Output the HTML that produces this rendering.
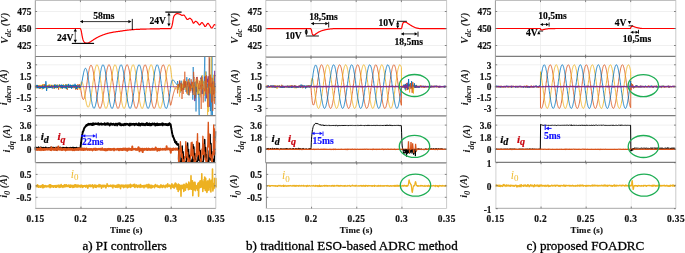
<!DOCTYPE html>
<html><head><meta charset="utf-8"><style>
html,body{margin:0;padding:0;background:#fff;}
body{width:685px;height:253px;overflow:hidden;}
svg{display:block;filter:blur(0.3px);}
text{font-family:"Liberation Serif",serif;}
.tk{font-size:9.4px;font-weight:bold;fill:#111;stroke:#111;stroke-width:0.2px;}
.tl{font-size:8.9px;font-weight:bold;fill:#111;stroke:#111;stroke-width:0.15px;letter-spacing:0.2px;}
.cap{font-size:13.1px;fill:#000;stroke:#000;stroke-width:0.3px;}
.yl{font-size:10.2px;font-weight:bold;font-style:italic;fill:#1a1a1a;}
.sub{font-size:8.5px;}
.an{font-size:9.6px;font-weight:bold;fill:#000;stroke:#000;stroke-width:0.15px;}
.lb{font-size:11.2px;font-weight:bold;font-style:italic;stroke-width:0.2px;}
.lsub{font-size:10px;}
.lb0{font-size:11.6px;font-style:italic;}
.lsub0{font-size:9px;font-style:normal;}
</style></head>
<body>
<svg xmlns="http://www.w3.org/2000/svg" width="685" height="253" viewBox="0 0 685 253">
<line x1="80.43" y1="0.3" x2="80.43" y2="56.5" stroke="#ececec" stroke-width="0.8"/>
<line x1="125.55" y1="0.3" x2="125.55" y2="56.5" stroke="#ececec" stroke-width="0.8"/>
<line x1="170.67" y1="0.3" x2="170.67" y2="56.5" stroke="#ececec" stroke-width="0.8"/>
<line x1="35.3" y1="11.50" x2="215.8" y2="11.50" stroke="#ececec" stroke-width="0.8"/>
<line x1="35.3" y1="28.50" x2="215.8" y2="28.50" stroke="#ececec" stroke-width="0.8"/>
<line x1="35.3" y1="45.50" x2="215.8" y2="45.50" stroke="#ececec" stroke-width="0.8"/>
<line x1="80.43" y1="56.5" x2="80.43" y2="115.7" stroke="#ececec" stroke-width="0.8"/>
<line x1="125.55" y1="56.5" x2="125.55" y2="115.7" stroke="#ececec" stroke-width="0.8"/>
<line x1="170.67" y1="56.5" x2="170.67" y2="115.7" stroke="#ececec" stroke-width="0.8"/>
<line x1="35.3" y1="64.79" x2="215.8" y2="64.79" stroke="#ececec" stroke-width="0.8"/>
<line x1="35.3" y1="75.69" x2="215.8" y2="75.69" stroke="#ececec" stroke-width="0.8"/>
<line x1="35.3" y1="86.60" x2="215.8" y2="86.60" stroke="#ececec" stroke-width="0.8"/>
<line x1="35.3" y1="97.50" x2="215.8" y2="97.50" stroke="#ececec" stroke-width="0.8"/>
<line x1="35.3" y1="108.41" x2="215.8" y2="108.41" stroke="#ececec" stroke-width="0.8"/>
<line x1="80.43" y1="115.7" x2="80.43" y2="162.6" stroke="#ececec" stroke-width="0.8"/>
<line x1="125.55" y1="115.7" x2="125.55" y2="162.6" stroke="#ececec" stroke-width="0.8"/>
<line x1="170.67" y1="115.7" x2="170.67" y2="162.6" stroke="#ececec" stroke-width="0.8"/>
<line x1="35.3" y1="125.11" x2="215.8" y2="125.11" stroke="#ececec" stroke-width="0.8"/>
<line x1="35.3" y1="137.20" x2="215.8" y2="137.20" stroke="#ececec" stroke-width="0.8"/>
<line x1="35.3" y1="149.30" x2="215.8" y2="149.30" stroke="#ececec" stroke-width="0.8"/>
<line x1="80.98" y1="162.6" x2="80.98" y2="208.4" stroke="#ececec" stroke-width="0.8"/>
<line x1="126.10" y1="162.6" x2="126.10" y2="208.4" stroke="#ececec" stroke-width="0.8"/>
<line x1="171.22" y1="162.6" x2="171.22" y2="208.4" stroke="#ececec" stroke-width="0.8"/>
<line x1="35.3" y1="174.40" x2="215.8" y2="174.40" stroke="#ececec" stroke-width="0.8"/>
<line x1="35.3" y1="185.85" x2="215.8" y2="185.85" stroke="#ececec" stroke-width="0.8"/>
<line x1="35.3" y1="197.30" x2="215.8" y2="197.30" stroke="#ececec" stroke-width="0.8"/>
<polyline points="35.3,28.5 35.5,28.5 35.8,28.5 36.0,28.5 36.3,28.5 36.5,28.5 36.8,28.5 37.0,28.5 37.3,28.5 37.5,28.5 37.8,28.5 38.0,28.5 38.3,28.5 38.5,28.5 38.8,28.5 39.0,28.5 39.3,28.5 39.5,28.5 39.8,28.5 40.0,28.5 40.3,28.5 40.5,28.5 40.8,28.5 41.0,28.5 41.3,28.5 41.5,28.5 41.8,28.5 42.0,28.5 42.3,28.5 42.5,28.5 42.8,28.5 43.0,28.5 43.3,28.5 43.5,28.5 43.8,28.5 44.0,28.5 44.3,28.5 44.5,28.5 44.8,28.5 45.0,28.5 45.3,28.5 45.5,28.5 45.8,28.5 46.0,28.5 46.3,28.5 46.5,28.5 46.8,28.5 47.0,28.5 47.3,28.5 47.5,28.5 47.8,28.5 48.0,28.5 48.3,28.5 48.5,28.5 48.8,28.5 49.0,28.5 49.3,28.5 49.5,28.5 49.8,28.5 50.0,28.5 50.3,28.5 50.5,28.5 50.8,28.5 51.0,28.5 51.3,28.5 51.5,28.5 51.8,28.5 52.0,28.5 52.3,28.5 52.5,28.5 52.8,28.5 53.0,28.5 53.3,28.5 53.5,28.5 53.8,28.5 54.0,28.5 54.3,28.5 54.5,28.5 54.8,28.5 55.0,28.5 55.3,28.5 55.5,28.5 55.8,28.5 56.0,28.5 56.3,28.5 56.5,28.5 56.8,28.5 57.0,28.5 57.3,28.5 57.5,28.5 57.8,28.5 58.0,28.5 58.3,28.5 58.5,28.5 58.8,28.5 59.0,28.5 59.3,28.5 59.5,28.5 59.8,28.5 60.0,28.5 60.3,28.5 60.5,28.5 60.8,28.5 61.0,28.5 61.3,28.5 61.5,28.5 61.8,28.5 62.0,28.5 62.3,28.5 62.5,28.5 62.8,28.5 63.0,28.5 63.3,28.5 63.5,28.5 63.8,28.5 64.0,28.5 64.3,28.5 64.5,28.5 64.8,28.5 65.0,28.5 65.3,28.5 65.5,28.5 65.8,28.5 66.0,28.5 66.3,28.5 66.5,28.5 66.8,28.5 67.0,28.5 67.3,28.5 67.5,28.5 67.8,28.5 68.0,28.5 68.3,28.5 68.5,28.5 68.8,28.5 69.0,28.5 69.3,28.5 69.5,28.5 69.8,28.5 70.0,28.5 70.3,28.5 70.5,28.5 70.8,28.5 71.0,28.5 71.3,28.5 71.5,28.5 71.8,28.5 72.0,28.5 72.3,28.5 72.5,28.5 72.8,28.5 73.0,28.5 73.3,28.5 73.5,28.5 73.8,28.5 74.0,28.5 74.3,28.5 74.5,28.5 74.8,28.5 75.0,28.5 75.3,28.5 75.5,28.5 75.8,28.5 76.0,28.5 76.3,28.5 76.5,28.5 76.8,28.5 77.0,28.5 77.3,28.5 77.5,28.5 77.8,28.5 78.0,28.5 78.3,28.5 78.5,28.5 78.8,28.5 79.0,28.5 79.3,28.5 79.5,28.5 79.8,28.5 80.0,28.5 80.3,28.5 80.5,28.8 80.8,29.4 81.0,30.1 81.3,31.2 81.5,32.4 81.8,33.8 82.0,35.3 82.3,36.6 82.5,37.8 82.8,38.8 83.0,39.7 83.3,40.4 83.5,41.0 83.8,41.4 84.0,41.8 84.3,42.1 84.5,42.4 84.8,42.6 85.0,42.8 85.3,42.9 85.5,43.0 85.8,43.1 86.0,43.2 86.3,43.2 86.5,43.2 86.8,43.2 87.0,43.2 87.3,43.2 87.5,43.1 87.8,43.1 88.0,43.0 88.3,42.9 88.5,42.8 88.8,42.7 89.0,42.6 89.3,42.4 89.5,42.3 89.8,42.2 90.0,42.0 90.3,41.9 90.5,41.7 90.8,41.6 91.0,41.4 91.3,41.3 91.5,41.1 91.8,40.9 92.0,40.8 92.3,40.6 92.5,40.4 92.8,40.2 93.0,40.1 93.3,39.9 93.5,39.8 93.8,39.6 94.0,39.4 94.3,39.3 94.5,39.1 94.8,39.0 95.0,38.8 95.3,38.6 95.5,38.5 95.8,38.3 96.0,38.2 96.3,38.0 96.5,37.9 96.8,37.7 97.0,37.6 97.3,37.5 97.5,37.3 97.8,37.2 98.0,37.1 98.3,36.9 98.5,36.8 98.8,36.7 99.0,36.6 99.3,36.5 99.5,36.3 99.8,36.2 100.0,36.1 100.3,36.0 100.5,35.9 100.8,35.8 101.0,35.7 101.3,35.6 101.5,35.5 101.8,35.4 102.0,35.3 102.3,35.2 102.5,35.1 102.8,35.0 103.0,34.9 103.3,34.8 103.5,34.7 103.8,34.6 104.0,34.5 104.3,34.4 104.5,34.3 104.8,34.3 105.0,34.2 105.3,34.1 105.5,34.0 105.8,33.9 106.0,33.9 106.3,33.8 106.5,33.7 106.8,33.6 107.0,33.6 107.3,33.5 107.5,33.4 107.8,33.4 108.0,33.3 108.3,33.2 108.5,33.2 108.8,33.1 109.0,33.0 109.3,33.0 109.5,32.9 109.8,32.9 110.0,32.8 110.3,32.8 110.5,32.7 110.8,32.6 111.0,32.6 111.3,32.6 111.5,32.5 111.8,32.5 112.0,32.4 112.3,32.4 112.5,32.3 112.8,32.3 113.0,32.2 113.3,32.2 113.5,32.2 113.8,32.1 114.0,32.1 114.3,32.0 114.5,32.0 114.8,32.0 115.0,31.9 115.3,31.9 115.5,31.9 115.8,31.8 116.0,31.8 116.3,31.7 116.5,31.7 116.8,31.7 117.0,31.6 117.3,31.6 117.5,31.6 117.8,31.5 118.0,31.5 118.3,31.5 118.5,31.4 118.8,31.4 119.0,31.4 119.3,31.3 119.5,31.3 119.8,31.3 120.0,31.2 120.3,31.2 120.5,31.2 120.8,31.1 121.0,31.1 121.3,31.1 121.5,31.0 121.8,31.0 122.0,30.9 122.3,30.9 122.5,30.9 122.8,30.8 123.0,30.8 123.3,30.7 123.5,30.7 123.8,30.7 124.0,30.6 124.3,30.6 124.5,30.5 124.8,30.5 125.0,30.5 125.3,30.4 125.5,30.4 125.8,30.4 126.0,30.3 126.3,30.3 126.5,30.3 126.8,30.2 127.0,30.2 127.3,30.2 127.5,30.2 127.8,30.1 128.1,30.1 128.3,30.1 128.6,30.0 128.8,30.0 129.1,30.0 129.3,30.0 129.6,29.9 129.8,29.9 130.1,29.9 130.3,29.8 130.6,29.8 130.8,29.8 131.1,29.8 131.3,29.8 131.6,29.7 131.8,29.7 132.1,29.7 132.3,29.7 132.6,29.7 132.8,29.6 133.1,29.6 133.3,29.6 133.6,29.6 133.8,29.6 134.1,29.6 134.3,29.5 134.6,29.5 134.8,29.5 135.1,29.5 135.3,29.5 135.6,29.5 135.8,29.5 136.1,29.4 136.3,29.4 136.6,29.4 136.8,29.4 137.1,29.4 137.3,29.4 137.6,29.4 137.8,29.3 138.1,29.3 138.3,29.3 138.6,29.3 138.8,29.3 139.1,29.3 139.3,29.3 139.6,29.3 139.8,29.3 140.1,29.2 140.3,29.2 140.6,29.2 140.8,29.2 141.1,29.2 141.3,29.2 141.6,29.2 141.8,29.2 142.1,29.2 142.3,29.2 142.6,29.2 142.8,29.1 143.1,29.1 143.3,29.1 143.6,29.1 143.8,29.1 144.1,29.1 144.3,29.1 144.6,29.1 144.8,29.1 145.1,29.1 145.3,29.1 145.6,29.1 145.8,29.1 146.1,29.1 146.3,29.0 146.6,29.0 146.8,29.0 147.1,29.0 147.3,29.0 147.6,29.0 147.8,29.0 148.1,29.0 148.3,29.0 148.6,29.0 148.8,29.0 149.1,29.0 149.3,29.0 149.6,29.0 149.8,29.0 150.1,28.9 150.3,28.9 150.6,28.9 150.8,28.9 151.1,28.9 151.3,28.9 151.6,28.9 151.8,28.9 152.1,28.9 152.3,28.9 152.6,28.9 152.8,28.9 153.1,28.9 153.3,28.9 153.6,28.9 153.8,28.9 154.1,28.9 154.3,28.9 154.6,28.8 154.8,28.8 155.1,28.8 155.3,28.8 155.6,28.8 155.8,28.8 156.1,28.8 156.3,28.8 156.6,28.8 156.8,28.8 157.1,28.8 157.3,28.8 157.6,28.8 157.8,28.8 158.1,28.8 158.3,28.8 158.6,28.8 158.8,28.8 159.1,28.8 159.3,28.8 159.6,28.8 159.8,28.8 160.1,28.7 160.3,28.7 160.6,28.7 160.8,28.7 161.1,28.7 161.3,28.7 161.6,28.7 161.8,28.7 162.1,28.7 162.3,28.7 162.6,28.7 162.8,28.7 163.1,28.7 163.3,28.7 163.6,28.7 163.8,28.7 164.1,28.7 164.3,28.7 164.6,28.7 164.8,28.7 165.1,28.7 165.3,28.7 165.6,28.7 165.8,28.7 166.1,28.7 166.3,28.7 166.6,28.7 166.8,28.7 167.1,28.7 167.3,28.7 167.6,28.7 167.8,28.7 168.1,28.7 168.3,28.7 168.6,28.7 168.8,28.7 169.1,28.7 169.3,28.7 169.6,28.7 169.8,28.7 170.1,28.7 170.3,28.7 170.6,28.7 170.8,28.5 171.1,28.2 171.3,27.8 171.6,27.2 171.8,26.4 172.1,25.4 172.3,24.4 172.6,23.2 172.8,21.6 173.1,19.9 173.3,18.3 173.6,17.2 173.8,16.6 174.1,16.0 174.3,15.6 174.6,15.2 174.8,14.9 175.1,14.7 175.3,14.5 175.6,14.3 175.8,14.1 176.1,14.0 176.3,13.9 176.6,13.7 176.8,13.7 177.1,13.7 177.3,13.7 177.6,13.7 177.8,13.7 178.1,13.7 178.3,13.8 178.6,13.9 178.8,13.9 179.1,14.0 179.3,14.1 179.6,14.1 179.8,14.2 180.1,14.3 180.3,14.4 180.6,14.6 180.8,14.8 181.1,15.0 181.3,15.2 181.6,15.3 181.8,15.3 182.1,15.3 182.3,15.3 182.6,15.3 182.8,15.2 183.1,15.2 183.3,15.1 183.6,15.1 183.8,15.1 184.1,15.1 184.3,15.3 184.6,15.6 184.8,16.0 185.1,16.4 185.3,16.8 185.6,17.2 185.8,17.5 186.1,18.0 186.3,18.4 186.6,18.8 186.8,19.1 187.1,19.4 187.3,19.5 187.6,19.5 187.8,19.5 188.1,19.3 188.3,19.1 188.6,18.9 188.8,18.7 189.1,18.6 189.3,18.4 189.6,18.3 189.8,18.2 190.1,18.3 190.3,18.4 190.6,18.6 190.8,18.8 191.1,19.1 191.3,19.3 191.6,19.6 191.8,19.9 192.1,20.4 192.3,21.0 192.6,21.7 192.8,22.3 193.1,22.8 193.3,23.1 193.6,23.1 193.8,23.0 194.1,22.8 194.3,22.5 194.6,22.2 194.8,21.9 195.1,21.6 195.3,21.4 195.6,21.3 195.8,21.3 196.1,21.3 196.3,21.5 196.6,21.7 196.8,21.9 197.1,22.2 197.3,22.4 197.6,22.7 197.8,23.0 198.1,23.3 198.3,23.6 198.6,23.9 198.8,24.3 199.1,24.7 199.3,24.9 199.6,24.9 199.8,24.8 200.1,24.6 200.3,24.3 200.6,24.0 200.8,23.6 201.1,23.2 201.3,22.9 201.6,22.7 201.8,22.6 202.1,22.6 202.3,22.7 202.6,22.9 202.8,23.3 203.1,23.6 203.3,24.0 203.6,24.3 203.8,24.6 204.1,25.1 204.3,25.6 204.6,26.0 204.8,26.4 205.1,26.5 205.3,26.5 205.6,26.3 205.8,26.1 206.1,25.7 206.3,25.4 206.6,24.9 206.8,24.5 207.1,24.2 207.3,23.8 207.6,23.6 207.8,23.4 208.1,23.4 208.3,23.5 208.6,23.7 208.8,24.0 209.1,24.4 209.3,24.8 209.6,25.2 209.8,25.5 210.1,25.9 210.3,26.4 210.6,26.8 210.8,27.3 211.1,27.6 211.3,27.9 211.6,28.0 211.8,28.0 212.1,27.9 212.3,27.6 212.6,27.3 212.8,26.9 213.1,26.5 213.3,26.0 213.6,25.6 213.8,25.3 214.1,24.9 214.3,24.7 214.6,24.6 214.8,24.6 215.1,24.7 215.3,24.9 215.6,25.2 215.8,25.5" fill="none" stroke="#ff0000" stroke-width="1.2" stroke-linejoin="round" />
<polyline points="35.3,86.3 35.5,85.5 35.7,87.0 35.8,86.3 36.0,85.9 36.2,86.4 36.4,86.2 36.6,85.5 36.7,86.6 36.9,85.5 37.1,87.1 37.3,86.1 37.5,87.0 37.6,86.9 37.8,85.9 38.0,85.2 38.2,86.7 38.4,86.4 38.6,85.2 38.7,87.3 38.9,85.6 39.1,87.7 39.3,88.4 39.5,86.2 39.6,86.8 39.8,87.0 40.0,89.0 40.2,86.1 40.4,87.0 40.5,87.7 40.7,86.6 40.9,87.7 41.1,87.3 41.3,87.4 41.4,85.5 41.6,86.7 41.8,85.2 42.0,87.4 42.2,87.8 42.3,84.8 42.5,87.9 42.7,85.3 42.9,87.7 43.1,85.8 43.2,87.3 43.4,85.0 43.6,84.5 43.8,85.5 44.0,86.2 44.2,86.9 44.3,85.7 44.5,84.4 44.7,87.0 44.9,87.7 45.1,84.7 45.2,86.8 45.4,85.8 45.6,86.3 45.8,86.2 46.0,86.8 46.1,86.7 46.3,88.2 46.5,87.1 46.7,87.4 46.9,85.3 47.0,86.8 47.2,86.4 47.4,88.2 47.6,86.4 47.8,85.0 47.9,86.3 48.1,85.6 48.3,86.8 48.5,87.1 48.7,85.5 48.9,87.0 49.0,87.6 49.2,86.6 49.4,86.9 49.6,85.4 49.8,85.8 49.9,88.0 50.1,86.0 50.3,87.9 50.5,86.3 50.7,85.9 50.8,87.0 51.0,87.0 51.2,85.7 51.4,86.8 51.6,87.7 51.7,84.9 51.9,85.6 52.1,86.0 52.3,86.2 52.5,85.5 52.6,86.4 52.8,85.7 53.0,86.2 53.2,87.2 53.4,85.4 53.5,86.3 53.7,87.3 53.9,86.9 54.1,88.9 54.3,88.2 54.5,88.0 54.6,85.8 54.8,85.8 55.0,85.3 55.2,86.1 55.4,84.8 55.5,87.0 55.7,87.3 55.9,87.5 56.1,86.3 56.3,87.2 56.4,87.5 56.6,87.1 56.8,86.4 57.0,87.9 57.2,86.6 57.3,86.6 57.5,84.9 57.7,86.4 57.9,87.9 58.1,86.3 58.2,86.4 58.4,87.9 58.6,89.7 58.8,85.8 59.0,86.8 59.1,87.3 59.3,86.8 59.5,85.3 59.7,84.8 59.9,87.1 60.1,85.0 60.2,86.6 60.4,86.6 60.6,86.7 60.8,86.6 61.0,86.7 61.1,87.3 61.3,86.6 61.5,87.6 61.7,86.0 61.9,87.2 62.0,86.1 62.2,86.7 62.4,88.4 62.6,85.4 62.8,86.3 62.9,86.7 63.1,86.9 63.3,84.8 63.5,86.8 63.7,85.6 63.8,86.4 64.0,87.9 64.2,85.9 64.4,88.1 64.6,86.1 64.8,86.2 64.9,86.4 65.1,87.4 65.3,85.2 65.5,84.8 65.7,87.5 65.8,87.0 66.0,84.9 66.2,87.0 66.4,85.6 66.6,87.6 66.7,87.2 66.9,86.3 67.1,86.1 67.3,89.8 67.5,87.7 67.6,86.1 67.8,85.3 68.0,86.1 68.2,86.2 68.4,86.2 68.5,87.8 68.7,86.2 68.9,85.7 69.1,86.0 69.3,87.8 69.4,87.6 69.6,85.5 69.8,88.0 70.0,87.7 70.2,85.0 70.4,87.5 70.5,87.3 70.7,85.9 70.9,85.8 71.1,86.8 71.3,88.1 71.4,87.1 71.6,86.4 71.8,87.5 72.0,87.6 72.2,85.3 72.3,86.0 72.5,85.8 72.7,85.7 72.9,87.6 73.1,86.1 73.2,85.4 73.4,85.9 73.6,87.8 73.8,88.2 74.0,87.4 74.1,86.0 74.3,86.8 74.5,86.3 74.7,87.9 74.9,85.8 75.0,87.3 75.2,85.5 75.4,86.6 75.6,89.6 75.8,86.8 76.0,87.5 76.1,87.5 76.3,86.8 76.5,85.5 76.7,85.7 76.9,85.2 77.0,86.8 77.2,89.6 77.4,89.4 77.6,89.9 77.8,88.5 77.9,84.2 78.1,85.8 78.3,87.6 78.5,85.4 78.7,86.9 78.8,88.0 79.0,85.4 79.2,87.1 79.4,86.5 79.6,84.3 79.7,87.6 79.9,85.5 80.1,86.9 80.3,87.7 80.5,86.9 80.7,88.2 80.8,89.5 81.0,90.8 81.2,92.0 81.4,93.1 81.6,94.2 81.7,95.2 81.9,96.1 82.1,96.9 82.3,97.6 82.5,98.2 82.6,98.7 82.8,99.1 83.0,99.3 83.2,99.5 83.4,99.5 83.5,99.5 83.7,99.3 83.9,99.0 84.1,98.6 84.3,98.1 84.4,97.6 84.6,96.9 84.8,96.2 85.0,95.3 85.2,94.4 85.3,93.5 85.5,92.4 85.7,91.4 85.9,90.2 86.1,89.1 86.3,87.9 86.4,86.7 86.6,85.4 86.8,84.2 87.0,82.9 87.2,81.6 87.3,80.4 87.5,79.2 87.7,77.9 87.9,76.7 88.1,75.6 88.2,74.5 88.4,73.4 88.6,72.4 88.8,71.4 89.0,70.5 89.1,69.6 89.3,68.8 89.5,68.1 89.7,67.5 89.9,66.9 90.0,66.4 90.2,66.0 90.4,65.7 90.6,65.4 90.8,65.3 90.9,65.2 91.1,65.2 91.3,65.3 91.5,65.5 91.7,65.8 91.9,66.1 92.0,66.6 92.2,67.1 92.4,67.7 92.6,68.4 92.8,69.1 92.9,69.9 93.1,70.8 93.3,71.8 93.5,72.8 93.7,73.9 93.8,75.0 94.0,76.1 94.2,77.4 94.4,78.6 94.6,79.9 94.7,81.2 94.9,82.5 95.1,83.9 95.3,85.2 95.5,86.6 95.6,88.0 95.8,89.3 96.0,90.7 96.2,92.0 96.4,93.3 96.6,94.6 96.7,95.9 96.9,97.1 97.1,98.3 97.3,99.4 97.5,100.5 97.6,101.5 97.8,102.5 98.0,103.4 98.2,104.2 98.4,105.0 98.5,105.7 98.7,106.3 98.9,106.9 99.1,107.3 99.3,107.7 99.4,108.0 99.6,108.2 99.8,108.4 100.0,108.4 100.2,108.4 100.3,108.2 100.5,108.0 100.7,107.7 100.9,107.3 101.1,106.9 101.2,106.3 101.4,105.7 101.6,105.0 101.8,104.2 102.0,103.4 102.2,102.5 102.3,101.5 102.5,100.5 102.7,99.4 102.9,98.2 103.1,97.1 103.2,95.8 103.4,94.6 103.6,93.3 103.8,92.0 104.0,90.6 104.1,89.3 104.3,87.9 104.5,86.5 104.7,85.2 104.9,83.8 105.0,82.4 105.2,81.1 105.4,79.8 105.6,78.5 105.8,77.2 105.9,76.0 106.1,74.8 106.3,73.7 106.5,72.6 106.7,71.6 106.8,70.6 107.0,69.7 107.2,68.9 107.4,68.1 107.6,67.4 107.8,66.8 107.9,66.3 108.1,65.8 108.3,65.5 108.5,65.2 108.7,65.0 108.8,64.8 109.0,64.8 109.2,64.8 109.4,65.0 109.6,65.2 109.7,65.5 109.9,65.9 110.1,66.4 110.3,66.9 110.5,67.5 110.6,68.2 110.8,69.0 111.0,69.9 111.2,70.8 111.4,71.8 111.5,72.8 111.7,73.9 111.9,75.0 112.1,76.2 112.3,77.4 112.5,78.7 112.6,80.0 112.8,81.3 113.0,82.6 113.2,84.0 113.4,85.4 113.5,86.7 113.7,88.1 113.9,89.5 114.1,90.8 114.3,92.2 114.4,93.5 114.6,94.8 114.8,96.0 115.0,97.2 115.2,98.4 115.3,99.5 115.5,100.6 115.7,101.6 115.9,102.6 116.1,103.5 116.2,104.3 116.4,105.1 116.6,105.8 116.8,106.4 117.0,106.9 117.1,107.4 117.3,107.8 117.5,108.1 117.7,108.3 117.9,108.4 118.1,108.4 118.2,108.4 118.4,108.2 118.6,108.0 118.8,107.7 119.0,107.3 119.1,106.8 119.3,106.3 119.5,105.6 119.7,104.9 119.9,104.1 120.0,103.3 120.2,102.4 120.4,101.4 120.6,100.4 120.8,99.3 120.9,98.1 121.1,96.9 121.3,95.7 121.5,94.4 121.7,93.2 121.8,91.8 122.0,90.5 122.2,89.1 122.4,87.8 122.6,86.4 122.7,85.0 122.9,83.7 123.1,82.3 123.3,81.0 123.5,79.7 123.7,78.4 123.8,77.1 124.0,75.9 124.2,74.7 124.4,73.6 124.6,72.5 124.7,71.5 124.9,70.5 125.1,69.7 125.3,68.8 125.5,68.1 125.6,67.4 125.8,66.8 126.0,66.2 126.2,65.8 126.4,65.4 126.5,65.1 126.7,64.9 126.9,64.8 127.1,64.8 127.3,64.8 127.4,65.0 127.6,65.2 127.8,65.5 128.0,65.9 128.2,66.4 128.4,67.0 128.5,67.6 128.7,68.3 128.9,69.1 129.1,70.0 129.3,70.9 129.4,71.9 129.6,72.9 129.8,74.0 130.0,75.1 130.2,76.3 130.3,77.6 130.5,78.8 130.7,80.1 130.9,81.4 131.1,82.8 131.2,84.1 131.4,85.5 131.6,86.9 131.8,88.2 132.0,89.6 132.1,91.0 132.3,92.3 132.5,93.6 132.7,94.9 132.9,96.1 133.0,97.4 133.2,98.5 133.4,99.7 133.6,100.7 133.8,101.7 134.0,102.7 134.1,103.6 134.3,104.4 134.5,105.2 134.7,105.9 134.9,106.5 135.0,107.0 135.2,107.4 135.4,107.8 135.6,108.1 135.8,108.3 135.9,108.4 136.1,108.4 136.3,108.3 136.5,108.2 136.7,108.0 136.8,107.6 137.0,107.2 137.2,106.8 137.4,106.2 137.6,105.6 137.7,104.8 137.9,104.1 138.1,103.2 138.3,102.3 138.5,101.3 138.6,100.2 138.8,99.2 139.0,98.0 139.2,96.8 139.4,95.6 139.6,94.3 139.7,93.0 139.9,91.7 140.1,90.4 140.3,89.0 140.5,87.6 140.6,86.3 140.8,84.9 141.0,83.5 141.2,82.2 141.4,80.8 141.5,79.5 141.7,78.2 141.9,77.0 142.1,75.8 142.3,74.6 142.4,73.5 142.6,72.4 142.8,71.4 143.0,70.5 143.2,69.6 143.3,68.7 143.5,68.0 143.7,67.3 143.9,66.7 144.1,66.2 144.3,65.7 144.4,65.4 144.6,65.1 144.8,64.9 145.0,64.8 145.2,64.8 145.3,64.9 145.5,65.0 145.7,65.3 145.9,65.6 146.1,66.0 146.2,66.5 146.4,67.0 146.6,67.7 146.8,68.4 147.0,69.2 147.1,70.0 147.3,71.0 147.5,72.0 147.7,73.0 147.9,74.1 148.0,75.3 148.2,76.4 148.4,77.7 148.6,78.9 148.8,80.2 148.9,81.6 149.1,82.9 149.3,84.3 149.5,85.6 149.7,87.0 149.9,88.4 150.0,89.7 150.2,91.1 150.4,92.4 150.6,93.7 150.8,95.0 150.9,96.3 151.1,97.5 151.3,98.6 151.5,99.8 151.7,100.8 151.8,101.8 152.0,102.8 152.2,103.7 152.4,104.5 152.6,105.2 152.7,105.9 152.9,106.5 153.1,107.0 153.3,107.5 153.5,107.8 153.6,108.1 153.8,108.3 154.0,108.4 154.2,108.4 154.4,108.3 154.5,108.2 154.7,107.9 154.9,107.6 155.1,107.2 155.3,106.7 155.5,106.1 155.6,105.5 155.8,104.8 156.0,104.0 156.2,103.1 156.4,102.2 156.5,101.2 156.7,100.1 156.9,99.0 157.1,97.9 157.3,96.7 157.4,95.5 157.6,94.2 157.8,92.9 158.0,91.6 158.2,90.2 158.3,88.9 158.5,87.5 158.7,86.1 158.9,84.8 159.1,83.4 159.2,82.0 159.4,80.7 159.6,79.4 159.8,78.1 160.0,76.9 160.2,75.7 160.3,74.5 160.5,73.4 160.7,72.3 160.9,71.3 161.1,70.4 161.2,69.5 161.4,68.7 161.6,67.9 161.8,67.3 162.0,66.7 162.1,66.1 162.3,65.7 162.5,65.4 162.7,65.1 162.9,64.9 163.0,64.8 163.2,64.8 163.4,64.9 163.6,65.0 163.8,65.3 163.9,65.6 164.1,66.0 164.3,66.5 164.5,67.1 164.7,67.7 164.8,68.5 165.0,69.3 165.2,70.1 165.4,71.1 165.6,72.1 165.8,73.1 165.9,74.2 166.1,75.4 166.3,76.6 166.5,77.8 166.7,79.1 166.8,80.4 167.0,81.7 167.2,83.0 167.4,84.4 167.6,85.8 167.7,87.1 167.9,88.5 168.1,89.9 168.3,91.2 168.5,92.6 168.6,93.9 168.8,95.1 169.0,96.4 169.2,97.6 169.4,98.8 169.5,99.9 169.7,100.9 169.9,101.9 170.1,102.9 170.3,103.8 170.4,104.6 170.6,105.3 170.8,105.0 171.0,104.4 171.2,103.6 171.4,102.9 171.5,102.1 171.7,101.3 171.9,100.4 172.1,99.6 172.3,98.8 172.4,97.9 172.6,97.1 172.8,96.3 173.0,95.6 173.2,94.8 173.3,94.1 173.5,93.4 173.7,92.8 173.9,92.1 174.1,91.5 174.2,91.0 174.4,90.5 174.6,90.0 174.8,89.5 175.0,89.1 175.1,88.7 175.3,88.4 175.5,88.1 175.7,87.8 175.9,87.5 176.1,87.3 176.2,87.0 176.4,86.9 176.6,86.7 176.8,86.5 177.0,86.4 177.1,86.3" fill="none" stroke="#D95319" stroke-width="0.85" stroke-linejoin="round" />
<polyline points="35.3,85.2 35.5,86.9 35.7,85.1 35.8,86.8 36.0,88.7 36.2,87.0 36.4,87.6 36.6,86.8 36.7,85.8 36.9,87.3 37.1,87.3 37.3,86.4 37.5,88.0 37.6,87.1 37.8,85.3 38.0,85.1 38.2,87.2 38.4,87.0 38.6,85.8 38.7,85.3 38.9,87.0 39.1,87.5 39.3,87.3 39.5,85.4 39.6,86.0 39.8,87.4 40.0,84.9 40.2,86.9 40.4,87.4 40.5,85.5 40.7,85.5 40.9,87.3 41.1,87.1 41.3,85.9 41.4,86.9 41.6,85.3 41.8,85.7 42.0,87.1 42.2,89.4 42.3,86.5 42.5,86.6 42.7,84.3 42.9,87.6 43.1,86.7 43.2,84.9 43.4,86.8 43.6,85.6 43.8,86.3 44.0,86.6 44.2,85.9 44.3,87.0 44.5,87.5 44.7,86.1 44.9,86.9 45.1,86.1 45.2,85.2 45.4,85.7 45.6,87.7 45.8,87.5 46.0,88.0 46.1,87.1 46.3,87.3 46.5,86.1 46.7,85.3 46.9,86.1 47.0,88.7 47.2,86.8 47.4,86.5 47.6,85.2 47.8,86.1 47.9,85.8 48.1,86.3 48.3,88.1 48.5,86.0 48.7,85.5 48.9,87.7 49.0,84.8 49.2,84.2 49.4,87.4 49.6,87.2 49.8,87.6 49.9,86.3 50.1,87.4 50.3,84.8 50.5,87.1 50.7,86.6 50.8,85.8 51.0,87.0 51.2,84.9 51.4,86.6 51.6,86.4 51.7,85.8 51.9,87.9 52.1,86.4 52.3,87.2 52.5,86.3 52.6,87.7 52.8,84.9 53.0,85.9 53.2,86.9 53.4,86.7 53.5,88.2 53.7,86.1 53.9,87.8 54.1,85.7 54.3,87.3 54.5,84.9 54.6,86.9 54.8,87.1 55.0,85.4 55.2,86.7 55.4,84.5 55.5,84.5 55.7,87.2 55.9,85.4 56.1,85.9 56.3,86.4 56.4,88.4 56.6,86.7 56.8,87.1 57.0,85.4 57.2,85.3 57.3,87.7 57.5,88.0 57.7,86.3 57.9,87.0 58.1,85.6 58.2,87.1 58.4,85.2 58.6,84.8 58.8,87.8 59.0,87.5 59.1,86.4 59.3,86.8 59.5,84.6 59.7,86.7 59.9,86.8 60.1,88.1 60.2,86.0 60.4,87.6 60.6,87.2 60.8,88.6 61.0,86.8 61.1,86.4 61.3,86.4 61.5,88.1 61.7,86.4 61.9,86.2 62.0,85.9 62.2,88.1 62.4,86.4 62.6,86.3 62.8,86.7 62.9,86.2 63.1,87.7 63.3,87.4 63.5,84.3 63.7,85.5 63.8,85.7 64.0,86.2 64.2,86.9 64.4,87.3 64.6,88.0 64.8,86.8 64.9,88.3 65.1,86.6 65.3,87.4 65.5,87.0 65.7,87.1 65.8,84.8 66.0,84.6 66.2,87.7 66.4,84.3 66.6,85.6 66.7,86.0 66.9,85.4 67.1,89.1 67.3,86.3 67.5,84.7 67.6,87.0 67.8,85.2 68.0,87.2 68.2,87.6 68.4,86.1 68.5,86.9 68.7,87.2 68.9,86.8 69.1,86.4 69.3,85.8 69.4,86.6 69.6,86.4 69.8,86.7 70.0,87.3 70.2,87.4 70.4,87.0 70.5,87.2 70.7,87.1 70.9,85.9 71.1,86.5 71.3,86.5 71.4,87.5 71.6,87.0 71.8,86.9 72.0,87.3 72.2,85.8 72.3,84.7 72.5,85.5 72.7,87.5 72.9,87.0 73.1,85.9 73.2,86.9 73.4,86.5 73.6,87.8 73.8,87.8 74.0,86.0 74.1,87.3 74.3,85.9 74.5,85.6 74.7,87.3 74.9,87.4 75.0,85.0 75.2,86.7 75.4,86.1 75.6,86.2 75.8,86.7 76.0,86.5 76.1,85.8 76.3,86.7 76.5,88.4 76.7,87.0 76.9,87.1 77.0,87.0 77.2,85.5 77.4,88.2 77.6,85.9 77.8,87.9 77.9,87.2 78.1,86.1 78.3,87.5 78.5,85.3 78.7,85.6 78.8,86.9 79.0,86.9 79.2,87.0 79.4,89.2 79.6,87.4 79.7,87.3 79.9,86.5 80.1,86.0 80.3,90.0 80.5,86.3 80.7,85.1 80.8,84.1 81.0,83.3 81.2,82.7 81.4,82.2 81.6,81.9 81.7,81.8 81.9,81.8 82.1,82.0 82.3,82.3 82.5,82.7 82.6,83.2 82.8,83.8 83.0,84.5 83.2,85.4 83.4,86.2 83.5,87.2 83.7,88.2 83.9,89.2 84.1,90.3 84.3,91.4 84.4,92.5 84.6,93.6 84.8,94.8 85.0,95.9 85.2,97.0 85.3,98.0 85.5,99.1 85.7,100.1 85.9,101.0 86.1,101.9 86.3,102.8 86.4,103.6 86.6,104.3 86.8,104.9 87.0,105.5 87.2,106.0 87.3,106.4 87.5,106.7 87.7,107.0 87.9,107.1 88.1,107.2 88.2,107.2 88.4,107.1 88.6,106.9 88.8,106.6 89.0,106.3 89.1,105.8 89.3,105.3 89.5,104.7 89.7,104.0 89.9,103.3 90.0,102.4 90.2,101.5 90.4,100.6 90.6,99.5 90.8,98.5 90.9,97.3 91.1,96.2 91.3,94.9 91.5,93.7 91.7,92.4 91.9,91.1 92.0,89.8 92.2,88.4 92.4,87.1 92.6,85.7 92.8,84.4 92.9,83.0 93.1,81.7 93.3,80.4 93.5,79.1 93.7,77.8 93.8,76.6 94.0,75.4 94.2,74.2 94.4,73.1 94.6,72.1 94.7,71.1 94.9,70.2 95.1,69.3 95.3,68.5 95.5,67.8 95.6,67.1 95.8,66.5 96.0,66.1 96.2,65.6 96.4,65.3 96.6,65.1 96.7,64.9 96.9,64.8 97.1,64.8 97.3,64.9 97.5,65.1 97.6,65.4 97.8,65.8 98.0,66.2 98.2,66.7 98.4,67.3 98.5,68.0 98.7,68.7 98.9,69.5 99.1,70.4 99.3,71.4 99.4,72.4 99.6,73.4 99.8,74.6 100.0,75.7 100.2,76.9 100.3,78.2 100.5,79.5 100.7,80.8 100.9,82.1 101.1,83.5 101.2,84.8 101.4,86.2 101.6,87.6 101.8,88.9 102.0,90.3 102.2,91.6 102.3,93.0 102.5,94.3 102.7,95.5 102.9,96.8 103.1,97.9 103.2,99.1 103.4,100.2 103.6,101.2 103.8,102.2 104.0,103.2 104.1,104.0 104.3,104.8 104.5,105.5 104.7,106.2 104.9,106.7 105.0,107.2 105.2,107.6 105.4,107.9 105.6,108.2 105.8,108.3 105.9,108.4 106.1,108.4 106.3,108.3 106.5,108.1 106.7,107.8 106.8,107.5 107.0,107.0 107.2,106.5 107.4,105.9 107.6,105.2 107.8,104.5 107.9,103.6 108.1,102.7 108.3,101.8 108.5,100.8 108.7,99.7 108.8,98.6 109.0,97.4 109.2,96.2 109.4,95.0 109.6,93.7 109.7,92.4 109.9,91.0 110.1,89.7 110.3,88.3 110.5,86.9 110.6,85.6 110.8,84.2 111.0,82.8 111.2,81.5 111.4,80.2 111.5,78.9 111.7,77.6 111.9,76.4 112.1,75.2 112.3,74.0 112.5,73.0 112.6,71.9 112.8,70.9 113.0,70.0 113.2,69.1 113.4,68.4 113.5,67.6 113.7,67.0 113.9,66.4 114.1,66.0 114.3,65.6 114.4,65.2 114.6,65.0 114.8,64.9 115.0,64.8 115.2,64.8 115.3,64.9 115.5,65.1 115.7,65.4 115.9,65.8 116.1,66.2 116.2,66.7 116.4,67.3 116.6,68.0 116.8,68.8 117.0,69.6 117.1,70.5 117.3,71.5 117.5,72.5 117.7,73.5 117.9,74.7 118.1,75.8 118.2,77.1 118.4,78.3 118.6,79.6 118.8,80.9 119.0,82.2 119.1,83.6 119.3,85.0 119.5,86.3 119.7,87.7 119.9,89.1 120.0,90.4 120.2,91.8 120.4,93.1 120.6,94.4 120.8,95.6 120.9,96.9 121.1,98.1 121.3,99.2 121.5,100.3 121.7,101.3 121.8,102.3 122.0,103.2 122.2,104.1 122.4,104.9 122.6,105.6 122.7,106.2 122.9,106.8 123.1,107.3 123.3,107.7 123.5,108.0 123.7,108.2 123.8,108.4 124.0,108.4 124.2,108.4 124.4,108.3 124.6,108.1 124.7,107.8 124.9,107.4 125.1,107.0 125.3,106.4 125.5,105.8 125.6,105.1 125.8,104.4 126.0,103.5 126.2,102.7 126.4,101.7 126.5,100.7 126.7,99.6 126.9,98.5 127.1,97.3 127.3,96.1 127.4,94.8 127.6,93.5 127.8,92.2 128.0,90.9 128.2,89.5 128.4,88.2 128.5,86.8 128.7,85.4 128.9,84.1 129.1,82.7 129.3,81.4 129.4,80.0 129.6,78.8 129.8,77.5 130.0,76.3 130.2,75.1 130.3,73.9 130.5,72.8 130.7,71.8 130.9,70.8 131.1,69.9 131.2,69.1 131.4,68.3 131.6,67.6 131.8,66.9 132.0,66.4 132.1,65.9 132.3,65.5 132.5,65.2 132.7,65.0 132.9,64.8 133.0,64.8 133.2,64.8 133.4,64.9 133.6,65.1 133.8,65.4 134.0,65.8 134.1,66.3 134.3,66.8 134.5,67.4 134.7,68.1 134.9,68.9 135.0,69.7 135.2,70.6 135.4,71.6 135.6,72.6 135.8,73.7 135.9,74.8 136.1,76.0 136.3,77.2 136.5,78.4 136.7,79.7 136.8,81.0 137.0,82.4 137.2,83.7 137.4,85.1 137.6,86.5 137.7,87.8 137.9,89.2 138.1,90.6 138.3,91.9 138.5,93.2 138.6,94.5 138.8,95.8 139.0,97.0 139.2,98.2 139.4,99.3 139.6,100.4 139.7,101.4 139.9,102.4 140.1,103.3 140.3,104.2 140.5,105.0 140.6,105.7 140.8,106.3 141.0,106.8 141.2,107.3 141.4,107.7 141.5,108.0 141.7,108.2 141.9,108.4 142.1,108.4 142.3,108.4 142.4,108.3 142.6,108.0 142.8,107.7 143.0,107.4 143.2,106.9 143.3,106.4 143.5,105.8 143.7,105.1 143.9,104.3 144.1,103.5 144.3,102.6 144.4,101.6 144.6,100.6 144.8,99.5 145.0,98.4 145.2,97.2 145.3,96.0 145.5,94.7 145.7,93.4 145.9,92.1 146.1,90.8 146.2,89.4 146.4,88.0 146.6,86.7 146.8,85.3 147.0,83.9 147.1,82.6 147.3,81.2 147.5,79.9 147.7,78.6 147.9,77.4 148.0,76.1 148.2,75.0 148.4,73.8 148.6,72.7 148.8,71.7 148.9,70.7 149.1,69.8 149.3,69.0 149.5,68.2 149.7,67.5 149.9,66.9 150.0,66.3 150.2,65.9 150.4,65.5 150.6,65.2 150.8,65.0 150.9,64.8 151.1,64.8 151.3,64.8 151.5,65.0 151.7,65.2 151.8,65.5 152.0,65.8 152.2,66.3 152.4,66.9 152.6,67.5 152.7,68.2 152.9,68.9 153.1,69.8 153.3,70.7 153.5,71.7 153.6,72.7 153.8,73.8 154.0,74.9 154.2,76.1 154.4,77.3 154.5,78.6 154.7,79.9 154.9,81.2 155.1,82.5 155.3,83.9 155.5,85.2 155.6,86.6 155.8,88.0 156.0,89.3 156.2,90.7 156.4,92.0 156.5,93.3 156.7,94.6 156.9,95.9 157.1,97.1 157.3,98.3 157.4,99.4 157.6,100.5 157.8,101.5 158.0,102.5 158.2,103.4 158.3,104.3 158.5,105.0 158.7,105.7 158.9,106.3 159.1,106.9 159.2,107.4 159.4,107.7 159.6,108.0 159.8,108.2 160.0,108.4 160.2,108.4 160.3,108.4 160.5,108.2 160.7,108.0 160.9,107.7 161.1,107.3 161.2,106.9 161.4,106.3 161.6,105.7 161.8,105.0 162.0,104.2 162.1,103.4 162.3,102.5 162.5,101.5 162.7,100.5 162.9,99.4 163.0,98.2 163.2,97.1 163.4,95.8 163.6,94.6 163.8,93.3 163.9,92.0 164.1,90.6 164.3,89.3 164.5,87.9 164.7,86.5 164.8,85.2 165.0,83.8 165.2,82.4 165.4,81.1 165.6,79.8 165.8,78.5 165.9,77.2 166.1,76.0 166.3,74.8 166.5,73.7 166.7,72.6 166.8,71.6 167.0,70.6 167.2,69.7 167.4,68.9 167.6,68.1 167.7,67.4 167.9,66.8 168.1,66.3 168.3,65.8 168.5,65.5 168.6,65.2 168.8,64.9 169.0,64.8 169.2,64.8 169.4,64.8 169.5,65.0 169.7,65.2 169.9,65.5 170.1,65.9 170.3,66.4 170.4,66.9 170.6,67.5 170.8,69.1 171.0,71.0 171.2,72.7 171.4,74.3 171.5,75.8 171.7,77.2 171.9,78.5 172.1,79.7 172.3,80.8 172.4,81.8 172.6,82.7 172.8,83.6 173.0,84.3 173.2,85.0 173.3,85.6 173.5,86.2 173.7,86.6 173.9,87.1 174.1,87.4 174.2,87.7 174.4,88.0 174.6,88.2 174.8,88.4 175.0,88.5 175.1,88.6 175.3,88.7 175.5,88.8 175.7,88.8 175.9,88.8 176.1,88.8 176.2,88.8 176.4,88.7 176.6,88.7 176.8,88.6 177.0,88.5 177.1,88.5" fill="none" stroke="#EDB120" stroke-width="0.85" stroke-linejoin="round" />
<polyline points="35.3,87.4 35.5,87.9 35.7,86.9 35.8,86.2 36.0,85.4 36.2,86.5 36.4,87.2 36.6,87.4 36.7,85.8 36.9,84.9 37.1,86.3 37.3,87.9 37.5,87.6 37.6,85.0 37.8,86.4 38.0,88.4 38.2,86.7 38.4,87.8 38.6,87.2 38.7,87.1 38.9,87.3 39.1,86.0 39.3,86.7 39.5,87.2 39.6,86.2 39.8,85.8 40.0,88.3 40.2,86.9 40.4,87.6 40.5,86.8 40.7,87.9 40.9,86.6 41.1,86.6 41.3,86.9 41.4,87.7 41.6,87.0 41.8,87.7 42.0,88.0 42.2,86.4 42.3,87.7 42.5,85.4 42.7,85.9 42.9,88.6 43.1,86.3 43.2,87.7 43.4,86.6 43.6,86.6 43.8,88.6 44.0,86.8 44.2,86.9 44.3,85.6 44.5,87.8 44.7,85.8 44.9,87.7 45.1,86.9 45.2,87.4 45.4,85.0 45.6,85.2 45.8,81.4 46.0,81.3 46.1,82.4 46.3,86.1 46.5,90.9 46.7,90.7 46.9,87.2 47.0,87.5 47.2,86.5 47.4,86.6 47.6,86.0 47.8,87.0 47.9,86.8 48.1,86.4 48.3,86.5 48.5,87.5 48.7,85.7 48.9,87.9 49.0,87.8 49.2,87.9 49.4,85.6 49.6,87.0 49.8,87.6 49.9,87.8 50.1,86.2 50.3,87.7 50.5,87.9 50.7,86.0 50.8,87.8 51.0,86.9 51.2,86.6 51.4,87.1 51.6,86.7 51.7,85.2 51.9,87.1 52.1,87.9 52.3,88.5 52.5,86.8 52.6,87.0 52.8,86.3 53.0,87.1 53.2,87.1 53.4,87.3 53.5,87.1 53.7,86.4 53.9,87.0 54.1,86.5 54.3,84.7 54.5,86.1 54.6,88.2 54.8,84.8 55.0,86.2 55.2,87.6 55.4,85.7 55.5,86.6 55.7,87.2 55.9,87.2 56.1,87.6 56.3,86.6 56.4,85.5 56.6,86.9 56.8,86.2 57.0,84.7 57.2,87.8 57.3,86.3 57.5,86.9 57.7,87.7 57.9,87.6 58.1,86.6 58.2,86.2 58.4,87.1 58.6,86.5 58.8,85.9 59.0,86.3 59.1,85.7 59.3,86.1 59.5,86.1 59.7,84.7 59.9,86.0 60.1,86.5 60.2,85.9 60.4,87.5 60.6,86.9 60.8,85.8 61.0,86.0 61.1,85.0 61.3,86.6 61.5,88.1 61.7,84.6 61.9,85.5 62.0,87.7 62.2,85.2 62.4,86.6 62.6,88.4 62.8,87.0 62.9,87.1 63.1,85.0 63.3,87.4 63.5,86.9 63.7,86.9 63.8,87.0 64.0,87.5 64.2,86.4 64.4,85.5 64.6,86.0 64.8,87.5 64.9,87.8 65.1,86.5 65.3,87.3 65.5,87.2 65.7,88.3 65.8,84.6 66.0,85.7 66.2,87.6 66.4,85.7 66.6,85.2 66.7,89.0 66.9,87.2 67.1,87.0 67.3,85.9 67.5,86.7 67.6,86.8 67.8,86.7 68.0,84.7 68.2,84.4 68.4,87.1 68.5,87.5 68.7,83.9 68.9,87.6 69.1,87.2 69.3,86.6 69.4,86.1 69.6,85.6 69.8,86.2 70.0,87.5 70.2,86.1 70.4,86.3 70.5,84.7 70.7,86.6 70.9,88.0 71.1,87.7 71.3,85.1 71.4,87.1 71.6,88.7 71.8,87.2 72.0,86.6 72.2,85.4 72.3,87.6 72.5,85.9 72.7,85.8 72.9,87.3 73.1,86.8 73.2,84.8 73.4,84.8 73.6,85.7 73.8,86.3 74.0,85.4 74.1,86.7 74.3,86.7 74.5,87.5 74.7,86.6 74.9,86.7 75.0,83.8 75.2,86.8 75.4,85.3 75.6,85.3 75.8,86.8 76.0,85.4 76.1,88.8 76.3,86.5 76.5,85.7 76.7,89.0 76.9,87.8 77.0,85.5 77.2,86.9 77.4,87.7 77.6,87.0 77.8,87.2 77.9,85.9 78.1,86.1 78.3,86.9 78.5,87.3 78.7,86.7 78.8,85.3 79.0,86.2 79.2,85.9 79.4,86.8 79.6,87.9 79.7,87.3 79.9,85.9 80.1,86.5 80.3,87.5 80.5,86.6 80.7,86.5 80.8,86.2 81.0,85.7 81.2,85.1 81.4,84.5 81.6,83.7 81.7,82.8 81.9,81.9 82.1,80.9 82.3,80.0 82.5,78.9 82.6,77.9 82.8,76.9 83.0,75.9 83.2,75.0 83.4,74.1 83.5,73.2 83.7,72.4 83.9,71.6 84.1,70.9 84.3,70.3 84.4,69.7 84.6,69.3 84.8,68.9 85.0,68.6 85.2,68.4 85.3,68.3 85.5,68.3 85.7,68.4 85.9,68.5 86.1,68.8 86.3,69.1 86.4,69.6 86.6,70.1 86.8,70.7 87.0,71.4 87.2,72.2 87.3,73.0 87.5,73.9 87.7,74.9 87.9,75.9 88.1,77.0 88.2,78.1 88.4,79.3 88.6,80.5 88.8,81.8 89.0,83.1 89.1,84.4 89.3,85.7 89.5,87.0 89.7,88.3 89.9,89.7 90.0,91.0 90.2,92.3 90.4,93.6 90.6,94.8 90.8,96.1 90.9,97.3 91.1,98.4 91.3,99.6 91.5,100.6 91.7,101.6 91.9,102.6 92.0,103.5 92.2,104.3 92.4,105.1 92.6,105.7 92.8,106.3 92.9,106.9 93.1,107.3 93.3,107.7 93.5,108.0 93.7,108.2 93.8,108.3 94.0,108.3 94.2,108.2 94.4,108.1 94.6,107.8 94.7,107.5 94.9,107.1 95.1,106.6 95.3,106.1 95.5,105.4 95.6,104.7 95.8,103.9 96.0,103.1 96.2,102.1 96.4,101.2 96.6,100.1 96.7,99.0 96.9,97.9 97.1,96.7 97.3,95.4 97.5,94.2 97.6,92.9 97.8,91.6 98.0,90.2 98.2,88.9 98.4,87.5 98.5,86.1 98.7,84.8 98.9,83.4 99.1,82.0 99.3,80.7 99.4,79.4 99.6,78.1 99.8,76.9 100.0,75.7 100.2,74.5 100.3,73.4 100.5,72.3 100.7,71.3 100.9,70.4 101.1,69.5 101.2,68.7 101.4,67.9 101.6,67.3 101.8,66.7 102.0,66.1 102.2,65.7 102.3,65.4 102.5,65.1 102.7,64.9 102.9,64.8 103.1,64.8 103.2,64.9 103.4,65.0 103.6,65.3 103.8,65.6 104.0,66.0 104.1,66.5 104.3,67.1 104.5,67.7 104.7,68.5 104.9,69.3 105.0,70.1 105.2,71.1 105.4,72.1 105.6,73.1 105.8,74.2 105.9,75.4 106.1,76.6 106.3,77.8 106.5,79.1 106.7,80.4 106.8,81.7 107.0,83.0 107.2,84.4 107.4,85.8 107.6,87.1 107.8,88.5 107.9,89.9 108.1,91.2 108.3,92.6 108.5,93.9 108.7,95.1 108.8,96.4 109.0,97.6 109.2,98.8 109.4,99.9 109.6,100.9 109.7,101.9 109.9,102.9 110.1,103.8 110.3,104.6 110.5,105.3 110.6,106.0 110.8,106.6 111.0,107.1 111.2,107.5 111.4,107.9 111.5,108.1 111.7,108.3 111.9,108.4 112.1,108.4 112.3,108.3 112.5,108.2 112.6,107.9 112.8,107.6 113.0,107.2 113.2,106.7 113.4,106.1 113.5,105.4 113.7,104.7 113.9,103.9 114.1,103.0 114.3,102.1 114.4,101.1 114.6,100.0 114.8,98.9 115.0,97.8 115.2,96.6 115.3,95.3 115.5,94.1 115.7,92.8 115.9,91.4 116.1,90.1 116.2,88.7 116.4,87.4 116.6,86.0 116.8,84.6 117.0,83.3 117.1,81.9 117.3,80.6 117.5,79.3 117.7,78.0 117.9,76.8 118.1,75.5 118.2,74.4 118.4,73.3 118.6,72.2 118.8,71.2 119.0,70.3 119.1,69.4 119.3,68.6 119.5,67.9 119.7,67.2 119.9,66.6 120.0,66.1 120.2,65.7 120.4,65.3 120.6,65.1 120.8,64.9 120.9,64.8 121.1,64.8 121.3,64.9 121.5,65.1 121.7,65.3 121.8,65.6 122.0,66.1 122.2,66.6 122.4,67.2 122.6,67.8 122.7,68.5 122.9,69.4 123.1,70.2 123.3,71.2 123.5,72.2 123.7,73.2 123.8,74.3 124.0,75.5 124.2,76.7 124.4,77.9 124.6,79.2 124.7,80.5 124.9,81.8 125.1,83.2 125.3,84.5 125.5,85.9 125.6,87.3 125.8,88.7 126.0,90.0 126.2,91.4 126.4,92.7 126.5,94.0 126.7,95.3 126.9,96.5 127.1,97.7 127.3,98.9 127.4,100.0 127.6,101.0 127.8,102.0 128.0,103.0 128.2,103.8 128.4,104.7 128.5,105.4 128.7,106.0 128.9,106.6 129.1,107.1 129.3,107.6 129.4,107.9 129.6,108.1 129.8,108.3 130.0,108.4 130.2,108.4 130.3,108.3 130.5,108.1 130.7,107.9 130.9,107.5 131.1,107.1 131.2,106.6 131.4,106.0 131.6,105.3 131.8,104.6 132.0,103.8 132.1,102.9 132.3,102.0 132.5,101.0 132.7,99.9 132.9,98.8 133.0,97.7 133.2,96.4 133.4,95.2 133.6,93.9 133.8,92.6 134.0,91.3 134.1,89.9 134.3,88.6 134.5,87.2 134.7,85.8 134.9,84.5 135.0,83.1 135.2,81.8 135.4,80.4 135.6,79.1 135.8,77.9 135.9,76.6 136.1,75.4 136.3,74.3 136.5,73.2 136.7,72.1 136.8,71.1 137.0,70.2 137.2,69.3 137.4,68.5 137.6,67.8 137.7,67.1 137.9,66.5 138.1,66.0 138.3,65.6 138.5,65.3 138.6,65.0 138.8,64.9 139.0,64.8 139.2,64.8 139.4,64.9 139.6,65.1 139.7,65.3 139.9,65.7 140.1,66.1 140.3,66.6 140.5,67.2 140.6,67.9 140.8,68.6 141.0,69.4 141.2,70.3 141.4,71.3 141.5,72.3 141.7,73.3 141.9,74.4 142.1,75.6 142.3,76.8 142.4,78.1 142.6,79.3 142.8,80.6 143.0,82.0 143.2,83.3 143.3,84.7 143.5,86.1 143.7,87.4 143.9,88.8 144.1,90.2 144.3,91.5 144.4,92.8 144.6,94.1 144.8,95.4 145.0,96.6 145.2,97.8 145.3,99.0 145.5,100.1 145.7,101.1 145.9,102.1 146.1,103.1 146.2,103.9 146.4,104.7 146.6,105.5 146.8,106.1 147.0,106.7 147.1,107.2 147.3,107.6 147.5,107.9 147.7,108.2 147.9,108.3 148.0,108.4 148.2,108.4 148.4,108.3 148.6,108.1 148.8,107.8 148.9,107.5 149.1,107.1 149.3,106.5 149.5,105.9 149.7,105.3 149.9,104.5 150.0,103.7 150.2,102.8 150.4,101.9 150.6,100.9 150.8,99.8 150.9,98.7 151.1,97.5 151.3,96.3 151.5,95.1 151.7,93.8 151.8,92.5 152.0,91.2 152.2,89.8 152.4,88.4 152.6,87.1 152.7,85.7 152.9,84.3 153.1,83.0 153.3,81.6 153.5,80.3 153.6,79.0 153.8,77.7 154.0,76.5 154.2,75.3 154.4,74.2 154.5,73.1 154.7,72.0 154.9,71.0 155.1,70.1 155.3,69.2 155.5,68.4 155.6,67.7 155.8,67.1 156.0,66.5 156.2,66.0 156.4,65.6 156.5,65.3 156.7,65.0 156.9,64.9 157.1,64.8 157.3,64.8 157.4,64.9 157.6,65.1 157.8,65.4 158.0,65.7 158.2,66.2 158.3,66.7 158.5,67.3 158.7,68.0 158.9,68.7 159.1,69.5 159.2,70.4 159.4,71.4 159.6,72.4 159.8,73.4 160.0,74.6 160.2,75.7 160.3,76.9 160.5,78.2 160.7,79.5 160.9,80.8 161.1,82.1 161.2,83.5 161.4,84.8 161.6,86.2 161.8,87.6 162.0,88.9 162.1,90.3 162.3,91.6 162.5,93.0 162.7,94.3 162.9,95.5 163.0,96.8 163.2,97.9 163.4,99.1 163.6,100.2 163.8,101.2 163.9,102.2 164.1,103.2 164.3,104.0 164.5,104.8 164.7,105.5 164.8,106.2 165.0,106.7 165.2,107.2 165.4,107.6 165.6,107.9 165.8,108.2 165.9,108.3 166.1,108.4 166.3,108.4 166.5,108.3 166.7,108.1 166.8,107.8 167.0,107.5 167.2,107.0 167.4,106.5 167.6,105.9 167.7,105.2 167.9,104.5 168.1,103.6 168.3,102.7 168.5,101.8 168.6,100.8 168.8,99.7 169.0,98.6 169.2,97.4 169.4,96.2 169.5,95.0 169.7,93.7 169.9,92.4 170.1,91.0 170.3,89.7 170.4,88.3 170.6,86.9 170.8,85.6 171.0,84.5 171.2,83.5 171.4,82.6 171.5,81.9 171.7,81.3 171.9,80.9 172.1,80.5 172.3,80.2 172.4,80.1 172.6,79.9 172.8,79.9 173.0,79.9 173.2,80.0 173.3,80.1 173.5,80.2 173.7,80.4 173.9,80.6 174.1,80.8 174.2,81.1 174.4,81.3 174.6,81.6 174.8,81.9 175.0,82.1 175.1,82.4 175.3,82.7 175.5,83.0 175.7,83.2 175.9,83.5 176.1,83.7 176.2,84.0 176.4,84.2 176.6,84.4 176.8,84.6 177.0,84.8 177.1,85.0" fill="none" stroke="#0072BD" stroke-width="0.85" stroke-linejoin="round" />
<polyline points="35.3,86.9 35.5,86.4 35.7,86.6 35.8,86.9 36.0,86.5 36.2,86.5 36.4,86.9 36.6,86.5 36.7,86.6 36.9,86.5 37.1,86.9 37.3,86.3 37.5,86.7 37.6,86.5 37.8,86.3 38.0,86.6 38.2,86.4 38.4,86.3 38.6,86.8 38.7,86.7 38.9,86.5 39.1,86.4 39.3,86.7 39.5,86.3 39.6,86.4 39.8,86.6 40.0,86.7 40.2,86.2 40.4,86.7 40.5,86.4 40.7,87.1 40.9,86.6 41.1,86.6 41.3,86.6 41.4,86.4 41.6,86.5 41.8,86.9 42.0,86.3 42.2,86.6 42.3,86.3 42.5,86.7 42.7,86.6 42.9,86.5 43.1,86.8 43.2,86.5 43.4,86.6 43.6,86.8 43.8,86.4 44.0,86.5 44.2,86.9 44.3,86.4 44.5,86.3 44.7,86.4 44.9,86.8 45.1,86.7 45.2,86.7 45.4,86.4 45.6,86.9 45.8,86.5 46.0,86.5 46.1,87.0 46.3,86.3 46.5,86.5 46.7,87.0 46.9,86.7 47.0,86.4 47.2,86.8 47.4,87.0 47.6,86.8 47.8,86.7 47.9,86.5 48.1,86.5 48.3,86.8 48.5,87.1 48.7,86.7 48.9,86.8 49.0,86.6 49.2,86.3 49.4,86.9 49.6,86.2 49.8,86.5 49.9,86.4 50.1,87.1 50.3,86.6 50.5,86.5 50.7,86.7 50.8,86.6 51.0,86.7 51.2,86.7 51.4,86.7 51.6,86.4 51.7,86.8 51.9,86.7 52.1,86.3 52.3,86.6 52.5,86.7 52.6,86.1 52.8,87.1 53.0,86.5 53.2,86.6 53.4,86.1 53.5,86.5 53.7,86.8 53.9,86.6 54.1,86.8 54.3,86.2 54.5,86.6 54.6,86.6 54.8,86.7 55.0,86.5 55.2,86.8 55.4,86.6 55.5,86.7 55.7,86.5 55.9,86.6 56.1,86.5 56.3,86.3 56.4,86.6 56.6,86.5 56.8,86.7 57.0,86.7 57.2,86.6 57.3,86.7 57.5,86.6 57.7,86.7 57.9,86.7 58.1,86.8 58.2,86.4 58.4,86.7 58.6,86.7 58.8,86.4 59.0,86.2 59.1,86.3 59.3,86.4 59.5,86.3 59.7,86.7 59.9,86.3 60.1,86.4 60.2,86.6 60.4,86.6 60.6,86.5 60.8,86.9 61.0,86.4 61.1,86.5 61.3,86.6 61.5,86.9 61.7,86.5 61.9,86.8 62.0,86.3 62.2,86.7 62.4,86.6 62.6,87.1 62.8,86.5 62.9,86.6 63.1,86.4 63.3,86.3 63.5,86.8 63.7,86.9 63.8,86.7 64.0,86.4 64.2,86.6 64.4,86.5 64.6,86.7 64.8,86.7 64.9,86.8 65.1,86.3 65.3,86.4 65.5,86.5 65.7,86.1 65.8,86.2 66.0,86.7 66.2,86.3 66.4,86.4 66.6,86.4 66.7,86.8 66.9,86.4 67.1,86.6 67.3,86.3 67.5,86.5 67.6,86.5 67.8,86.3 68.0,86.7 68.2,86.3 68.4,86.2 68.5,86.5 68.7,86.6 68.9,86.6 69.1,86.6 69.3,86.5 69.4,86.7 69.6,86.2 69.8,86.5 70.0,86.4 70.2,86.6 70.4,86.5 70.5,86.5 70.7,86.6 70.9,86.7 71.1,86.9 71.3,86.8 71.4,86.6 71.6,86.2 71.8,86.6 72.0,86.7 72.2,86.4 72.3,86.5 72.5,86.5 72.7,86.5 72.9,87.0 73.1,86.3 73.2,86.9 73.4,86.9 73.6,86.8 73.8,86.8 74.0,86.7 74.1,86.7 74.3,86.4 74.5,86.9 74.7,86.6 74.9,86.6 75.0,86.6 75.2,86.6 75.4,86.2 75.6,86.7 75.8,86.6 76.0,86.5 76.1,86.3 76.3,86.3 76.5,86.5 76.7,86.5 76.9,86.5 77.0,86.7 77.2,86.6 77.4,86.4 77.6,87.0 77.8,86.7 77.9,86.3 78.1,86.6 78.3,86.6 78.5,86.5 78.7,86.3 78.8,86.4 79.0,86.8 79.2,86.3 79.4,86.7 79.6,86.7 79.7,86.7 79.9,86.9 80.1,86.6 80.3,86.7 80.5,86.6 80.7,86.6 80.8,86.6 81.0,86.6 81.2,86.6 81.4,86.6 81.6,86.6 81.7,86.6 81.9,86.6 82.1,86.6 82.3,86.6 82.5,86.6 82.6,86.6 82.8,86.6 83.0,86.6 83.2,86.6 83.4,86.6 83.5,86.6 83.7,86.6 83.9,86.6 84.1,86.6 84.3,86.6 84.4,86.6 84.6,86.6 84.8,86.6 85.0,86.6 85.2,86.6 85.3,86.6 85.5,86.6 85.7,86.6 85.9,86.6 86.1,86.6 86.3,86.6 86.4,86.6 86.6,86.6 86.8,86.6 87.0,86.6 87.2,86.6 87.3,86.6 87.5,86.6 87.7,86.6 87.9,86.6 88.1,86.6 88.2,86.6 88.4,86.6 88.6,86.6 88.8,86.6 89.0,86.6 89.1,86.6 89.3,86.6 89.5,86.6 89.7,86.6 89.9,86.6 90.0,86.6 90.2,86.6 90.4,86.6 90.6,86.6 90.8,86.6 90.9,86.6 91.1,86.6 91.3,86.6 91.5,86.6 91.7,86.6 91.9,86.6 92.0,86.6 92.2,86.6 92.4,86.6 92.6,86.6 92.8,86.6 92.9,86.6 93.1,86.6 93.3,86.6 93.5,86.6 93.7,86.6 93.8,86.6 94.0,86.6 94.2,86.6 94.4,86.6 94.6,86.6 94.7,86.6 94.9,86.6 95.1,86.6 95.3,86.6 95.5,86.6 95.6,86.6 95.8,86.6 96.0,86.6 96.2,86.6 96.4,86.6 96.6,86.6 96.7,86.6 96.9,86.6 97.1,86.6 97.3,86.6 97.5,86.6 97.6,86.6 97.8,86.6 98.0,86.6 98.2,86.6 98.4,86.6 98.5,86.6 98.7,86.6 98.9,86.6 99.1,86.6 99.3,86.6 99.4,86.6 99.6,86.6 99.8,86.6 100.0,86.6 100.2,86.6 100.3,86.6 100.5,86.6 100.7,86.6 100.9,86.6 101.1,86.6 101.2,86.6 101.4,86.6 101.6,86.6 101.8,86.6 102.0,86.6 102.2,86.6 102.3,86.6 102.5,86.6 102.7,86.6 102.9,86.6 103.1,86.6 103.2,86.6 103.4,86.6 103.6,86.6 103.8,86.6 104.0,86.6 104.1,86.6 104.3,86.6 104.5,86.6 104.7,86.6 104.9,86.6 105.0,86.6 105.2,86.6 105.4,86.6 105.6,86.6 105.8,86.6 105.9,86.6 106.1,86.6 106.3,86.6 106.5,86.6 106.7,86.6 106.8,86.6 107.0,86.6 107.2,86.6 107.4,86.6 107.6,86.6 107.8,86.6 107.9,86.6 108.1,86.6 108.3,86.6 108.5,86.6 108.7,86.6 108.8,86.6 109.0,86.6 109.2,86.6 109.4,86.6 109.6,86.6 109.7,86.6 109.9,86.6 110.1,86.6 110.3,86.6 110.5,86.6 110.6,86.6 110.8,86.6 111.0,86.6 111.2,86.6 111.4,86.6 111.5,86.6 111.7,86.6 111.9,86.6 112.1,86.6 112.3,86.6 112.5,86.6 112.6,86.6 112.8,86.6 113.0,86.6 113.2,86.6 113.4,86.6 113.5,86.6 113.7,86.6 113.9,86.6 114.1,86.6 114.3,86.6 114.4,86.6 114.6,86.6 114.8,86.6 115.0,86.6 115.2,86.6 115.3,86.6 115.5,86.6 115.7,86.6 115.9,86.6 116.1,86.6 116.2,86.6 116.4,86.6 116.6,86.6 116.8,86.6 117.0,86.6 117.1,86.6 117.3,86.6 117.5,86.6 117.7,86.6 117.9,86.6 118.1,86.6 118.2,86.6 118.4,86.6 118.6,86.6 118.8,86.6 119.0,86.6 119.1,86.6 119.3,86.6 119.5,86.6 119.7,86.6 119.9,86.6 120.0,86.6 120.2,86.6 120.4,86.6 120.6,86.6 120.8,86.6 120.9,86.6 121.1,86.6 121.3,86.6 121.5,86.6 121.7,86.6 121.8,86.6 122.0,86.6 122.2,86.6 122.4,86.6 122.6,86.6 122.7,86.6 122.9,86.6 123.1,86.6 123.3,86.6 123.5,86.6 123.7,86.6 123.8,86.6 124.0,86.6 124.2,86.6 124.4,86.6 124.6,86.6 124.7,86.6 124.9,86.6 125.1,86.6 125.3,86.6 125.5,86.6 125.6,86.6 125.8,86.6 126.0,86.6 126.2,86.6 126.4,86.6 126.5,86.6 126.7,86.6 126.9,86.6 127.1,86.6 127.3,86.6 127.4,86.6 127.6,86.6 127.8,86.6 128.0,86.6 128.2,86.6 128.4,86.6 128.5,86.6 128.7,86.6 128.9,86.6 129.1,86.6 129.3,86.6 129.4,86.6 129.6,86.6 129.8,86.6 130.0,86.6 130.2,86.6 130.3,86.6 130.5,86.6 130.7,86.6 130.9,86.6 131.1,86.6 131.2,86.6 131.4,86.6 131.6,86.6 131.8,86.6 132.0,86.6 132.1,86.6 132.3,86.6 132.5,86.6 132.7,86.6 132.9,86.6 133.0,86.6 133.2,86.6 133.4,86.6 133.6,86.6 133.8,86.6 134.0,86.6 134.1,86.6 134.3,86.6 134.5,86.6 134.7,86.6 134.9,86.6 135.0,86.6 135.2,86.6 135.4,86.6 135.6,86.6 135.8,86.6 135.9,86.6 136.1,86.6 136.3,86.6 136.5,86.6 136.7,86.6 136.8,86.6 137.0,86.6 137.2,86.6 137.4,86.6 137.6,86.6 137.7,86.6 137.9,86.6 138.1,86.6 138.3,86.6 138.5,86.6 138.6,86.6 138.8,86.6 139.0,86.6 139.2,86.6 139.4,86.6 139.6,86.6 139.7,86.6 139.9,86.6 140.1,86.6 140.3,86.6 140.5,86.6 140.6,86.6 140.8,86.6 141.0,86.6 141.2,86.6 141.4,86.6 141.5,86.6 141.7,86.6 141.9,86.6 142.1,86.6 142.3,86.6 142.4,86.6 142.6,86.6 142.8,86.6 143.0,86.6 143.2,86.6 143.3,86.6 143.5,86.6 143.7,86.6 143.9,86.6 144.1,86.6 144.3,86.6 144.4,86.6 144.6,86.6 144.8,86.6 145.0,86.6 145.2,86.6 145.3,86.6 145.5,86.6 145.7,86.6 145.9,86.6 146.1,86.6 146.2,86.6 146.4,86.6 146.6,86.6 146.8,86.6 147.0,86.6 147.1,86.6 147.3,86.6 147.5,86.6 147.7,86.6 147.9,86.6 148.0,86.6 148.2,86.6 148.4,86.6 148.6,86.6 148.8,86.6 148.9,86.6 149.1,86.6 149.3,86.6 149.5,86.6 149.7,86.6 149.9,86.6 150.0,86.6 150.2,86.6 150.4,86.6 150.6,86.6 150.8,86.6 150.9,86.6 151.1,86.6 151.3,86.6 151.5,86.6 151.7,86.6 151.8,86.6 152.0,86.6 152.2,86.6 152.4,86.6 152.6,86.6 152.7,86.6 152.9,86.6 153.1,86.6 153.3,86.6 153.5,86.6 153.6,86.6 153.8,86.6 154.0,86.6 154.2,86.6 154.4,86.6 154.5,86.6 154.7,86.6 154.9,86.6 155.1,86.6 155.3,86.6 155.5,86.6 155.6,86.6 155.8,86.6 156.0,86.6 156.2,86.6 156.4,86.6 156.5,86.6 156.7,86.6 156.9,86.6 157.1,86.6 157.3,86.6 157.4,86.6 157.6,86.6 157.8,86.6 158.0,86.6 158.2,86.6 158.3,86.6 158.5,86.6 158.7,86.6 158.9,86.6 159.1,86.6 159.2,86.6 159.4,86.6 159.6,86.6 159.8,86.6 160.0,86.6 160.2,86.6 160.3,86.6 160.5,86.6 160.7,86.6 160.9,86.6 161.1,86.6 161.2,86.6 161.4,86.6 161.6,86.6 161.8,86.6 162.0,86.6 162.1,86.6 162.3,86.6 162.5,86.6 162.7,86.6 162.9,86.6 163.0,86.6 163.2,86.6 163.4,86.6 163.6,86.6 163.8,86.6 163.9,86.6 164.1,86.6 164.3,86.6 164.5,86.6 164.7,86.6 164.8,86.6 165.0,86.6 165.2,86.6 165.4,86.6 165.6,86.6 165.8,86.6 165.9,86.6 166.1,86.6 166.3,86.6 166.5,86.6 166.7,86.6 166.8,86.6 167.0,86.6 167.2,86.6 167.4,86.6 167.6,86.6 167.7,86.6 167.9,86.6 168.1,86.6 168.3,86.6 168.5,86.6 168.6,86.6 168.8,86.6 169.0,86.6 169.2,86.6 169.4,86.6 169.5,86.6 169.7,86.6 169.9,86.6 170.1,86.6 170.3,86.6 170.4,86.6 170.6,86.6 170.8,86.6 171.0,86.6 171.2,86.6 171.4,86.6 171.5,86.6 171.7,86.6 171.9,86.6 172.1,86.6 172.3,86.6 172.4,86.6 172.6,86.6 172.8,86.6 173.0,86.6 173.2,86.6 173.3,86.6 173.5,86.6 173.7,86.6 173.9,86.6 174.1,86.6 174.2,86.6 174.4,86.6 174.6,86.6 174.8,86.6 175.0,86.6 175.1,86.6 175.3,86.6 175.5,86.6 175.7,86.6 175.9,86.6 176.1,86.6 176.2,86.6 176.4,86.6 176.6,86.6 176.8,86.6 177.0,86.6 177.1,86.6" fill="none" stroke="#7E2F8E" stroke-width="0.95" stroke-linejoin="round" />
<polyline points="177.2,85.4 177.6,85.4 178.0,88.0 178.4,86.6 178.8,86.6 179.2,86.5 179.6,81.4 180.0,87.3 180.4,87.3 180.8,87.7 181.2,84.0 181.6,87.7 182.0,86.8 182.4,84.3 182.8,84.6 183.2,89.9 183.6,81.7 184.0,85.8 184.4,83.9 184.8,85.7 185.2,81.7 185.6,87.6 186.0,82.0 186.4,85.4 186.8,82.4 187.2,86.6 187.6,83.8 188.0,81.7 188.4,91.0 188.8,82.2 189.2,82.9 189.6,87.4 190.0,88.3 190.4,88.1 190.8,83.8 191.2,88.6 191.6,84.3 192.0,81.7 192.4,92.6 192.8,85.0 193.2,86.8 193.6,86.6 194.0,84.9 194.4,87.0 194.8,101.1 195.2,88.8 195.6,86.6 196.0,89.4 196.4,91.7 196.8,77.0 197.2,80.9 197.6,81.4 198.0,86.1 198.4,94.8 198.8,87.7 199.2,90.8 199.6,88.4 200.0,89.0 200.4,85.1 200.8,77.6 201.2,85.2 201.6,85.9 202.0,93.9 202.4,79.8 202.8,84.8 203.2,86.4 203.6,87.5 204.0,88.7 204.4,85.0 204.8,76.6 205.2,80.1 205.6,83.3 206.0,89.3 206.4,98.3 206.8,92.5 207.2,78.8 207.6,82.4 208.0,76.2 208.4,76.5 208.8,95.2 209.2,106.8 209.6,82.4 210.0,93.5 210.4,91.1 210.8,91.3 211.2,91.0 211.6,90.5 212.0,81.6 212.4,86.5 212.8,86.2 213.2,91.2 213.6,91.3 214.0,93.6 214.4,80.7 214.8,70.8 215.2,82.6 215.6,93.0" fill="none" stroke="#7E2F8E" stroke-width="0.85" stroke-linejoin="round" />
<polyline points="177.2,85.0 177.6,81.0 178.0,84.1 178.4,89.5 178.8,88.3 179.2,84.1 179.6,86.7 180.0,83.1 180.4,92.5 180.8,90.5 181.2,80.7 181.6,91.2 182.0,87.6 182.4,88.9 182.8,87.9 183.2,83.2 183.6,88.3 184.0,89.8 184.4,83.9 184.8,81.4 185.2,88.1 185.6,85.2 186.0,92.0 186.4,82.4 186.8,77.1 187.2,82.7 187.6,86.5 188.0,94.9 188.4,87.6 188.8,95.3 189.2,82.8 189.6,78.2 190.0,79.8 190.4,85.5 190.8,83.9 191.2,89.5 191.6,85.1 192.0,85.1 192.4,86.3 192.8,99.7 193.2,67.0 193.6,84.0 194.0,90.3 194.4,84.1 194.8,82.1 195.2,98.1 195.6,81.5 196.0,111.5 196.4,93.1 196.8,85.9 197.2,91.4 197.6,89.6 198.0,92.9 198.4,93.1 198.8,109.1 199.2,115.3 199.6,93.7 200.0,95.3 200.4,80.3 200.8,86.7 201.2,84.2 201.6,75.7 202.0,82.5 202.4,86.7 202.8,94.1 203.2,81.5 203.6,83.6 204.0,79.7 204.4,69.9 204.8,56.9 205.2,101.4 205.6,82.9 206.0,71.5 206.4,90.4 206.8,83.4 207.2,86.5 207.6,87.7 208.0,83.7 208.4,100.3 208.8,86.7 209.2,85.1 209.6,58.4 210.0,98.7 210.4,111.1 210.8,83.6 211.2,115.2 211.6,98.0 212.0,56.9 212.4,115.3 212.8,83.2 213.2,94.9 213.6,86.2 214.0,78.3 214.4,87.9 214.8,91.1 215.2,83.2 215.6,105.1" fill="none" stroke="#0072BD" stroke-width="0.6" stroke-linejoin="round" />
<polyline points="177.2,84.2 177.6,89.5 178.0,85.1 178.4,89.4 178.8,84.0 179.2,90.4 179.6,96.7 180.0,88.1 180.4,92.1 180.8,84.3 181.2,90.8 181.6,90.2 182.0,88.2 182.4,84.5 182.8,89.0 183.2,80.7 183.6,86.7 184.0,87.5 184.4,85.2 184.8,87.0 185.2,90.0 185.6,88.4 186.0,86.0 186.4,81.2 186.8,85.7 187.2,84.9 187.6,94.5 188.0,87.6 188.4,86.7 188.8,80.1 189.2,80.6 189.6,86.1 190.0,84.6 190.4,86.9 190.8,90.6 191.2,86.5 191.6,88.1 192.0,85.3 192.4,83.7 192.8,87.5 193.2,81.8 193.6,91.5 194.0,86.5 194.4,85.7 194.8,94.9 195.2,83.8 195.6,83.3 196.0,78.6 196.4,86.8 196.8,83.7 197.2,83.4 197.6,94.6 198.0,79.8 198.4,93.8 198.8,85.1 199.2,82.9 199.6,85.2 200.0,97.3 200.4,78.9 200.8,85.0 201.2,81.2 201.6,90.3 202.0,88.7 202.4,75.1 202.8,87.7 203.2,89.0 203.6,88.7 204.0,80.9 204.4,95.7 204.8,88.5 205.2,91.8 205.6,71.7 206.0,80.1 206.4,86.0 206.8,85.2 207.2,88.0 207.6,115.3 208.0,87.6 208.4,111.9 208.8,88.4 209.2,88.3 209.6,84.6 210.0,76.9 210.4,77.2 210.8,93.6 211.2,56.9 211.6,86.4 212.0,95.6 212.4,91.7 212.8,84.2 213.2,89.6 213.6,74.8 214.0,101.2 214.4,89.8 214.8,87.1 215.2,93.1 215.6,91.3" fill="none" stroke="#EDB120" stroke-width="0.6" stroke-linejoin="round" />
<polyline points="177.2,89.2 177.6,93.4 178.0,84.5 178.4,84.0 178.8,87.7 179.2,85.3 179.6,80.3 180.0,82.6 180.4,83.9 180.8,83.9 181.2,90.8 181.6,82.7 182.0,99.0 182.4,88.0 182.8,88.4 183.2,94.0 183.6,87.1 184.0,79.3 184.4,88.1 184.8,71.7 185.2,87.0 185.6,81.2 186.0,85.7 186.4,86.6 186.8,93.5 187.2,84.1 187.6,84.2 188.0,79.8 188.4,78.9 188.8,83.0 189.2,95.3 189.6,82.5 190.0,92.6 190.4,85.0 190.8,91.0 191.2,79.2 191.6,85.2 192.0,84.2 192.4,82.2 192.8,84.6 193.2,95.0 193.6,71.8 194.0,77.7 194.4,77.2 194.8,91.3 195.2,98.3 195.6,96.2 196.0,93.4 196.4,80.8 196.8,80.7 197.2,76.9 197.6,83.1 198.0,83.1 198.4,84.2 198.8,89.1 199.2,89.0 199.6,80.8 200.0,83.0 200.4,84.3 200.8,89.5 201.2,109.0 201.6,83.2 202.0,76.8 202.4,86.0 202.8,84.4 203.2,102.5 203.6,88.5 204.0,89.1 204.4,88.8 204.8,91.3 205.2,83.4 205.6,76.1 206.0,94.3 206.4,75.1 206.8,89.9 207.2,89.7 207.6,104.8 208.0,107.2 208.4,80.3 208.8,93.3 209.2,56.9 209.6,86.2 210.0,84.4 210.4,74.7 210.8,87.2 211.2,83.2 211.6,102.4 212.0,77.7 212.4,80.3 212.8,110.8 213.2,93.2 213.6,94.1 214.0,81.4 214.4,103.8 214.8,98.6 215.2,85.3 215.6,85.6" fill="none" stroke="#D95319" stroke-width="0.65" stroke-linejoin="round" />
<polyline points="35.3,148.1 35.5,147.6 35.7,149.1 35.9,147.5 36.1,148.3 36.3,148.7 36.5,148.7 36.7,148.8 36.9,148.4 37.1,147.9 37.3,148.0 37.5,148.0 37.7,149.1 37.9,149.0 38.1,147.6 38.3,147.8 38.5,147.3 38.7,147.7 38.9,148.8 39.1,147.7 39.3,148.0 39.5,148.2 39.7,148.7 39.9,148.3 40.1,148.4 40.3,147.9 40.5,148.2 40.7,147.5 40.9,148.7 41.1,148.1 41.3,148.1 41.5,148.7 41.7,148.8 41.9,147.8 42.1,148.0 42.3,148.4 42.5,148.1 42.7,148.6 42.9,148.2 43.1,148.6 43.3,148.2 43.5,147.8 43.7,148.5 43.9,147.9 44.1,148.8 44.3,148.4 44.5,148.9 44.7,148.3 44.9,148.3 45.1,148.4 45.3,148.4 45.5,147.7 45.7,147.6 45.9,148.9 46.1,147.7 46.3,149.1 46.5,148.6 46.7,148.4 46.9,148.2 47.1,148.8 47.3,148.6 47.5,148.3 47.7,148.6 47.9,148.6 48.1,148.0 48.4,147.9 48.6,148.3 48.8,148.3 49.0,148.3 49.2,148.5 49.4,148.5 49.6,148.8 49.8,148.0 50.0,148.3 50.2,148.4 50.4,148.2 50.6,148.0 50.8,147.6 51.0,148.4 51.2,148.5 51.4,148.2 51.6,148.7 51.8,147.7 52.0,147.9 52.2,148.0 52.4,148.3 52.6,147.9 52.8,147.8 53.0,148.1 53.2,148.4 53.4,149.1 53.6,147.8 53.8,148.5 54.0,148.7 54.2,147.9 54.4,148.1 54.6,149.0 54.8,148.3 55.0,148.4 55.2,147.8 55.4,149.2 55.6,148.5 55.8,148.4 56.0,147.6 56.2,148.8 56.4,149.7 56.6,148.9 56.8,148.2 57.0,147.9 57.2,147.5 57.4,148.1 57.6,148.7 57.8,147.9 58.0,148.3 58.2,148.4 58.4,148.3 58.6,147.7 58.8,148.7 59.0,148.8 59.2,148.3 59.4,148.3 59.6,148.7 59.8,148.7 60.0,148.1 60.2,147.7 60.4,148.0 60.6,148.0 60.8,147.7 61.0,149.2 61.2,149.0 61.4,148.6 61.6,148.9 61.8,148.8 62.0,148.3 62.2,148.9 62.4,148.5 62.6,149.3 62.8,148.8 63.0,147.7 63.2,148.5 63.4,148.1 63.6,148.0 63.8,148.5 64.0,148.0 64.2,148.2 64.4,148.0 64.6,148.6 64.8,149.0 65.0,148.8 65.2,148.6 65.4,148.0 65.6,148.4 65.8,148.5 66.0,148.4 66.2,147.8 66.4,148.6 66.6,147.6 66.8,148.9 67.0,148.6 67.2,147.9 67.4,148.0 67.6,148.7 67.8,148.3 68.0,148.6 68.2,147.9 68.4,148.0 68.6,148.6 68.8,148.1 69.0,148.5 69.2,148.3 69.4,148.3 69.6,148.6 69.8,148.1 70.0,148.1 70.2,148.1 70.4,147.8 70.6,148.4 70.8,149.0 71.0,148.5 71.2,148.2 71.4,148.3 71.6,148.0 71.8,147.9 72.0,148.3 72.2,148.3 72.4,148.8 72.6,147.8 72.8,148.4 73.0,148.8 73.2,148.8 73.4,148.5 73.6,147.6 73.8,147.9 74.1,149.1 74.3,148.4 74.5,148.2 74.7,148.0 74.9,148.1 75.1,148.6 75.3,148.1 75.5,148.6 75.7,149.3 75.9,148.6 76.1,148.6 76.3,147.8 76.5,147.8 76.7,148.8 76.9,148.2 77.1,148.2 77.3,149.0 77.5,149.3 77.7,148.3 77.9,148.2 78.1,148.6 78.3,149.6 78.5,148.3 78.7,148.6 78.9,148.7 79.1,148.4 79.3,148.8 79.5,148.0 79.7,148.3 79.9,148.6 80.1,148.2 80.3,148.3 80.5,148.5 80.7,145.8 80.9,144.1 81.1,143.0 81.3,140.9 81.5,139.0 81.7,138.1 81.9,136.0 82.1,134.8 82.3,134.7 82.5,133.4 82.7,131.8 82.9,132.2 83.1,131.7 83.3,130.8 83.5,130.7 83.7,130.1 83.9,128.9 84.1,128.7 84.3,128.0 84.5,127.5 84.7,127.8 84.9,127.2 85.1,126.9 85.3,126.9 85.5,126.7 85.7,125.9 85.9,125.9 86.1,125.5 86.3,125.1 86.5,124.9 86.7,125.8 86.9,125.5 87.1,125.1 87.3,124.8 87.5,124.4 87.7,125.2 87.9,124.8 88.1,124.4 88.3,123.9 88.5,123.8 88.7,124.9 88.9,124.4 89.1,124.7 89.3,123.9 89.5,124.0 89.7,124.4 89.9,124.5 90.1,124.0 90.3,123.7 90.5,124.5 90.7,124.3 90.9,124.0 91.1,124.1 91.3,123.9 91.5,124.5 91.7,124.3 91.9,125.0 92.1,124.0 92.3,123.5 92.5,125.0 92.7,124.3 92.9,123.6 93.1,124.1 93.3,124.9 93.5,123.5 93.7,124.7 93.9,123.4 94.1,124.3 94.3,124.4 94.5,124.0 94.7,124.1 94.9,123.8 95.1,123.8 95.3,124.1 95.5,123.4 95.7,123.7 95.9,123.9 96.1,124.0 96.3,124.1 96.5,124.1 96.7,123.8 96.9,123.9 97.1,124.1 97.3,123.6 97.5,124.2 97.7,123.9 97.9,123.7 98.1,124.6 98.3,124.3 98.5,123.3 98.7,124.6 98.9,123.6 99.1,124.6 99.3,124.0 99.5,124.7 99.7,124.5 100.0,124.3 100.2,124.4 100.4,123.7 100.6,123.8 100.8,123.8 101.0,124.1 101.2,123.4 101.4,123.7 101.6,124.0 101.8,124.7 102.0,123.9 102.2,123.9 102.4,124.2 102.6,123.9 102.8,123.9 103.0,124.4 103.2,124.0 103.4,124.1 103.6,124.1 103.8,124.4 104.0,124.5 104.2,124.2 104.4,123.6 104.6,123.2 104.8,124.4 105.0,124.8 105.2,124.4 105.4,124.7 105.6,124.5 105.8,124.1 106.0,124.7 106.2,124.0 106.4,123.9 106.6,123.6 106.8,123.4 107.0,123.8 107.2,123.2 107.4,124.5 107.6,124.2 107.8,124.2 108.0,124.1 108.2,123.8 108.4,124.5 108.6,123.5 108.8,123.7 109.0,124.1 109.2,124.1 109.4,124.8 109.6,125.5 109.8,124.4 110.0,124.2 110.2,124.2 110.4,124.8 110.6,124.5 110.8,123.5 111.0,124.0 111.2,124.0 111.4,124.5 111.6,124.0 111.8,123.7 112.0,124.0 112.2,124.5 112.4,124.2 112.6,124.8 112.8,124.5 113.0,124.1 113.2,124.6 113.4,124.5 113.6,123.7 113.8,124.4 114.0,124.0 114.2,124.5 114.4,124.9 114.6,124.4 114.8,124.5 115.0,125.3 115.2,124.9 115.4,124.6 115.6,123.7 115.8,124.6 116.0,124.4 116.2,124.1 116.4,124.2 116.6,124.5 116.8,123.6 117.0,123.7 117.2,125.5 117.4,123.9 117.6,124.1 117.8,123.9 118.0,124.3 118.2,124.0 118.4,123.5 118.6,123.6 118.8,123.5 119.0,123.9 119.2,124.0 119.4,123.9 119.6,124.9 119.8,123.3 120.0,124.3 120.2,124.2 120.4,124.3 120.6,124.2 120.8,125.4 121.0,124.3 121.2,125.0 121.4,124.9 121.6,125.3 121.8,125.2 122.0,124.1 122.2,124.6 122.4,124.4 122.6,124.5 122.8,124.9 123.0,124.7 123.2,125.0 123.4,124.5 123.6,125.4 123.8,124.6 124.0,124.0 124.2,123.8 124.4,123.9 124.6,124.2 124.8,124.9 125.0,124.0 125.2,124.2 125.4,124.3 125.7,125.0 125.9,124.2 126.1,123.7 126.3,124.1 126.5,124.5 126.7,124.2 126.9,124.4 127.1,124.3 127.3,124.0 127.5,124.3 127.7,124.4 127.9,124.2 128.1,124.8 128.3,124.9 128.5,124.2 128.7,124.7 128.9,124.2 129.1,125.3 129.3,123.9 129.5,124.5 129.7,123.6 129.9,125.6 130.1,125.2 130.3,123.8 130.5,124.3 130.7,124.3 130.9,124.4 131.1,124.3 131.3,124.2 131.5,124.9 131.7,124.5 131.9,123.8 132.1,124.3 132.3,124.7 132.5,124.4 132.7,123.9 132.9,124.5 133.1,124.5 133.3,124.2 133.5,124.0 133.7,123.7 133.9,124.5 134.1,124.3 134.3,123.9 134.5,125.3 134.7,124.4 134.9,124.2 135.1,124.5 135.3,124.8 135.5,124.1 135.7,123.8 135.9,124.5 136.1,124.6 136.3,124.5 136.5,123.7 136.7,123.8 136.9,124.4 137.1,124.9 137.3,125.0 137.5,124.6 137.7,124.6 137.9,124.3 138.1,124.9 138.3,124.5 138.5,124.2 138.7,125.2 138.9,123.3 139.1,124.1 139.3,124.2 139.5,125.0 139.7,124.9 139.9,123.9 140.1,124.0 140.3,125.6 140.5,123.9 140.7,124.1 140.9,124.1 141.1,124.9 141.3,124.3 141.5,124.7 141.7,124.2 141.9,123.5 142.1,124.1 142.3,123.9 142.5,124.6 142.7,124.9 142.9,124.4 143.1,123.9 143.3,123.7 143.5,124.4 143.7,124.3 143.9,124.6 144.1,125.2 144.3,124.4 144.5,124.2 144.7,124.6 144.9,124.5 145.1,125.3 145.3,124.4 145.5,123.8 145.7,124.4 145.9,124.1 146.1,124.2 146.3,124.8 146.5,124.3 146.7,124.8 146.9,123.0 147.1,124.3 147.3,124.9 147.5,125.1 147.7,123.7 147.9,124.1 148.1,124.2 148.3,125.1 148.5,124.7 148.7,125.0 148.9,123.9 149.1,124.7 149.3,123.5 149.5,124.2 149.7,124.6 149.9,123.8 150.1,125.4 150.3,124.8 150.5,124.6 150.7,123.9 150.9,123.9 151.1,124.2 151.4,125.2 151.6,124.7 151.8,124.9 152.0,123.8 152.2,124.6 152.4,124.1 152.6,123.5 152.8,124.4 153.0,124.1 153.2,124.6 153.4,124.4 153.6,124.4 153.8,124.4 154.0,124.4 154.2,124.6 154.4,123.5 154.6,124.7 154.8,124.3 155.0,124.6 155.2,125.5 155.4,124.0 155.6,124.3 155.8,125.1 156.0,124.8 156.2,125.2 156.4,124.3 156.6,123.7 156.8,123.8 157.0,125.0 157.2,125.2 157.4,124.2 157.6,123.6 157.8,124.4 158.0,123.9 158.2,125.1 158.4,124.5 158.6,124.2 158.8,124.6 159.0,124.5 159.2,124.1 159.4,124.7 159.6,124.9 159.8,124.1 160.0,124.3 160.2,124.9 160.4,124.2 160.6,124.7 160.8,124.1 161.0,124.4 161.2,124.6 161.4,124.8 161.6,124.3 161.8,124.4 162.0,123.5 162.2,124.4 162.4,125.1 162.6,123.5 162.8,125.4 163.0,123.6 163.2,124.8 163.4,123.8 163.6,124.5 163.8,124.2 164.0,124.4 164.2,124.5 164.4,124.2 164.6,124.7 164.8,124.2 165.0,124.9 165.2,124.8 165.4,124.7 165.6,124.5 165.8,123.9 166.0,124.8 166.2,124.8 166.4,125.0 166.6,124.6 166.8,124.2 167.0,124.8 167.2,124.6 167.4,124.7 167.6,124.4 167.8,125.4 168.0,124.2 168.2,124.0 168.4,124.8 168.6,124.5 168.8,124.9 169.0,124.0 169.2,124.1 169.4,123.1 169.6,124.5 169.8,124.8 170.0,124.7 170.2,125.0 170.4,124.3 170.6,124.3 170.8,125.0 171.0,126.6 171.2,128.2 171.4,128.5 171.6,130.0 171.8,130.9 172.0,132.8 172.2,133.5 172.4,134.3 172.6,135.0 172.8,136.5 173.0,135.7 173.2,137.0 173.4,137.1 173.6,137.7 173.8,137.9 174.0,138.9 174.2,139.5 174.4,140.4 174.6,140.5 174.8,140.1 175.0,142.1 175.2,142.0 175.4,141.9 175.6,141.5 175.8,143.1 176.0,143.1 176.2,143.1 176.4,141.9 176.6,144.0 176.8,143.9 177.0,143.7 177.3,144.6 177.5,144.2 177.7,144.4 177.9,144.9 178.1,144.7 178.3,144.2 178.5,145.1 178.7,145.5 178.9,145.8" fill="none" stroke="#000" stroke-width="1.9" stroke-linejoin="round" />
<polyline points="35.3,149.8 35.5,149.3 35.7,150.0 35.9,149.5 36.1,149.4 36.3,149.4 36.5,149.7 36.7,148.7 36.9,148.9 37.1,149.5 37.3,149.8 37.5,149.5 37.7,148.9 37.9,150.0 38.1,148.9 38.3,149.3 38.5,149.4 38.7,148.9 38.9,149.3 39.1,149.4 39.3,148.8 39.5,149.9 39.7,148.6 39.9,149.6 40.1,149.6 40.3,148.6 40.5,147.9 40.7,148.8 40.9,149.6 41.1,150.1 41.3,149.2 41.5,149.3 41.7,149.5 41.9,149.3 42.1,149.5 42.3,148.9 42.5,149.3 42.7,149.3 42.9,150.1 43.1,149.2 43.3,149.8 43.5,149.0 43.7,149.3 43.9,150.1 44.1,149.4 44.3,149.7 44.5,149.0 44.7,149.1 44.9,148.8 45.1,149.6 45.3,149.1 45.5,149.8 45.7,149.1 45.9,149.4 46.1,149.2 46.3,149.3 46.5,148.9 46.7,149.4 46.9,149.3 47.1,148.7 47.3,149.3 47.5,149.5 47.7,149.6 47.9,149.3 48.1,149.3 48.4,149.0 48.6,149.3 48.8,149.0 49.0,149.4 49.2,148.6 49.4,149.3 49.6,149.0 49.8,149.1 50.0,149.8 50.2,148.9 50.4,149.4 50.6,148.9 50.8,150.1 51.0,150.0 51.2,150.1 51.4,147.3 51.6,149.4 51.8,149.3 52.0,149.7 52.2,149.4 52.4,149.5 52.6,149.0 52.8,149.0 53.0,149.2 53.2,149.0 53.4,148.6 53.6,149.0 53.8,149.9 54.0,149.4 54.2,149.4 54.4,149.0 54.6,149.1 54.8,148.9 55.0,149.9 55.2,148.7 55.4,149.3 55.6,148.9 55.8,147.9 56.0,149.6 56.2,149.6 56.4,149.0 56.6,148.8 56.8,149.6 57.0,149.7 57.2,150.1 57.4,149.7 57.6,149.6 57.8,149.4 58.0,149.1 58.2,147.6 58.4,146.4 58.6,149.6 58.8,149.3 59.0,149.2 59.2,149.2 59.4,149.4 59.6,149.1 59.8,149.4 60.0,149.7 60.2,149.4 60.4,148.6 60.6,149.6 60.8,148.3 61.0,149.5 61.2,149.0 61.4,149.9 61.6,149.3 61.8,148.7 62.0,149.8 62.2,149.6 62.4,149.2 62.6,149.2 62.8,149.9 63.0,149.8 63.2,149.2 63.4,149.2 63.6,149.0 63.8,149.4 64.0,149.1 64.2,148.8 64.4,149.8 64.6,148.9 64.8,149.0 65.0,148.8 65.2,149.5 65.4,149.3 65.6,150.4 65.8,149.5 66.0,148.9 66.2,149.2 66.4,149.7 66.6,149.2 66.8,149.7 67.0,149.9 67.2,149.7 67.4,149.3 67.6,149.3 67.8,149.3 68.0,149.1 68.2,148.5 68.4,149.7 68.6,149.1 68.8,149.2 69.0,149.8 69.2,149.5 69.4,149.2 69.6,149.3 69.8,149.6 70.0,149.0 70.2,149.2 70.4,149.0 70.6,148.7 70.8,149.8 71.0,148.9 71.2,149.1 71.4,149.6 71.6,149.3 71.8,149.5 72.0,149.8 72.2,149.0 72.4,149.6 72.6,150.1 72.8,149.0 73.0,149.5 73.2,149.2 73.4,149.2 73.6,149.4 73.8,149.4 74.1,150.3 74.3,149.5 74.5,149.7 74.7,149.1 74.9,149.6 75.1,149.6 75.3,149.3 75.5,149.8 75.7,149.6 75.9,149.5 76.1,149.1 76.3,149.9 76.5,149.0 76.7,149.4 76.9,149.5 77.1,149.2 77.3,148.9 77.5,148.8 77.7,149.7 77.9,148.8 78.1,149.3 78.3,148.8 78.5,149.7 78.7,149.4 78.9,149.3 79.1,149.8 79.3,149.5 79.5,148.2 79.7,148.9 79.9,149.0 80.1,149.2 80.3,149.5 80.5,148.5 80.7,149.8 80.9,149.8 81.1,149.6 81.3,149.2 81.5,149.5 81.7,149.0 81.9,149.9 82.1,149.0 82.3,148.6 82.5,149.0 82.7,149.4 82.9,149.5 83.1,148.9 83.3,150.0 83.5,149.6 83.7,150.0 83.9,149.4 84.1,148.6 84.3,149.5 84.5,148.9 84.7,149.7 84.9,149.5 85.1,149.5 85.3,148.9 85.5,149.7 85.7,149.6 85.9,149.3 86.1,148.7 86.3,149.3 86.5,148.6 86.7,149.2 86.9,149.4 87.1,148.9 87.3,149.5 87.5,149.7 87.7,149.3 87.9,149.9 88.1,149.8 88.3,149.6 88.5,149.3 88.7,148.9 88.9,148.9 89.1,149.4 89.3,149.2 89.5,149.4 89.7,149.9 89.9,149.1 90.1,149.6 90.3,149.0 90.5,149.5 90.7,149.7 90.9,149.2 91.1,149.5 91.3,149.8 91.5,148.9 91.7,149.2 91.9,149.2 92.1,149.3 92.3,149.5 92.5,150.4 92.7,149.5 92.9,149.5 93.1,149.1 93.3,149.8 93.5,149.1 93.7,149.3 93.9,148.7 94.1,149.6 94.3,149.3 94.5,149.2 94.7,149.1 94.9,148.8 95.1,149.1 95.3,149.9 95.5,148.7 95.7,150.1 95.9,149.1 96.1,148.8 96.3,149.6 96.5,149.3 96.7,149.3 96.9,149.7 97.1,149.2 97.3,149.7 97.5,149.2 97.7,149.1 97.9,148.9 98.1,148.8 98.3,149.1 98.5,149.1 98.7,149.4 98.9,149.3 99.1,149.0 99.3,149.0 99.5,149.1 99.7,149.3 100.0,148.9 100.2,149.7 100.4,149.5 100.6,149.2 100.8,148.9 101.0,149.8 101.2,149.7 101.4,149.8 101.6,149.0 101.8,149.0 102.0,148.7 102.2,148.4 102.4,149.8 102.6,149.4 102.8,149.5 103.0,149.7 103.2,149.3 103.4,149.5 103.6,149.2 103.8,149.4 104.0,149.9 104.2,149.1 104.4,149.1 104.6,149.5 104.8,150.1 105.0,150.2 105.2,150.4 105.4,149.2 105.6,149.0 105.8,149.3 106.0,149.3 106.2,150.3 106.4,149.2 106.6,149.6 106.8,149.4 107.0,149.7 107.2,150.1 107.4,149.0 107.6,149.2 107.8,149.7 108.0,149.9 108.2,149.6 108.4,149.0 108.6,149.1 108.8,149.3 109.0,148.9 109.2,149.2 109.4,149.7 109.6,149.1 109.8,149.3 110.0,149.6 110.2,148.9 110.4,149.1 110.6,149.9 110.8,149.0 111.0,149.2 111.2,149.4 111.4,149.5 111.6,149.7 111.8,149.9 112.0,149.2 112.2,149.1 112.4,149.4 112.6,149.2 112.8,149.5 113.0,149.4 113.2,149.1 113.4,149.1 113.6,148.8 113.8,149.5 114.0,150.4 114.2,149.4 114.4,149.2 114.6,148.8 114.8,149.1 115.0,149.6 115.2,149.5 115.4,149.5 115.6,149.4 115.8,149.6 116.0,149.5 116.2,149.4 116.4,149.2 116.6,149.6 116.8,149.3 117.0,149.3 117.2,149.0 117.4,149.2 117.6,149.1 117.8,149.2 118.0,148.9 118.2,149.4 118.4,149.9 118.6,149.2 118.8,149.7 119.0,150.2 119.2,149.1 119.4,149.3 119.6,149.2 119.8,149.1 120.0,149.4 120.2,148.9 120.4,149.3 120.6,149.4 120.8,149.3 121.0,150.1 121.2,149.1 121.4,149.9 121.6,149.2 121.8,149.4 122.0,149.3 122.2,149.6 122.4,148.7 122.6,150.1 122.8,149.4 123.0,149.7 123.2,149.9 123.4,148.8 123.6,149.2 123.8,148.4 124.0,149.0 124.2,149.1 124.4,149.1 124.6,149.8 124.8,149.8 125.0,148.8 125.2,149.9 125.4,149.6 125.7,148.5 125.9,149.2 126.1,148.8 126.3,149.2 126.5,149.6 126.7,149.0 126.9,149.5 127.1,149.1 127.3,150.8 127.5,150.5 127.7,148.7 127.9,149.7 128.1,148.9 128.3,149.1 128.5,149.5 128.7,149.7 128.9,148.6 129.1,149.2 129.3,148.8 129.5,149.2 129.7,148.9 129.9,149.2 130.1,149.8 130.3,149.6 130.5,149.1 130.7,149.8 130.9,149.4 131.1,149.3 131.3,148.9 131.5,148.7 131.7,150.1 131.9,149.1 132.1,148.6 132.3,146.5 132.5,149.7 132.7,148.8 132.9,149.2 133.1,149.5 133.3,149.2 133.5,149.0 133.7,149.3 133.9,149.1 134.1,149.2 134.3,149.1 134.5,149.2 134.7,149.1 134.9,149.3 135.1,148.8 135.3,149.4 135.5,149.5 135.7,149.8 135.9,149.6 136.1,149.2 136.3,149.3 136.5,149.0 136.7,149.7 136.9,149.5 137.1,150.0 137.3,149.4 137.5,148.9 137.7,149.1 137.9,149.4 138.1,149.1 138.3,149.2 138.5,147.2 138.7,149.7 138.9,149.6 139.1,149.1 139.3,149.1 139.5,151.3 139.7,149.4 139.9,148.6 140.1,149.4 140.3,149.1 140.5,149.2 140.7,148.9 140.9,149.9 141.1,149.1 141.3,149.3 141.5,149.3 141.7,149.7 141.9,149.6 142.1,148.8 142.3,151.1 142.5,149.8 142.7,152.1 142.9,149.5 143.1,148.9 143.3,149.1 143.5,149.0 143.7,149.3 143.9,149.3 144.1,149.5 144.3,149.9 144.5,149.5 144.7,148.8 144.9,148.8 145.1,149.6 145.3,149.6 145.5,149.6 145.7,149.6 145.9,149.7 146.1,149.5 146.3,149.0 146.5,149.0 146.7,148.6 146.9,149.4 147.1,150.1 147.3,149.5 147.5,149.7 147.7,149.4 147.9,149.6 148.1,148.9 148.3,149.4 148.5,149.3 148.7,148.6 148.9,149.3 149.1,149.9 149.3,149.0 149.5,149.1 149.7,149.1 149.9,149.0 150.1,149.7 150.3,149.7 150.5,149.2 150.7,149.9 150.9,149.6 151.1,148.9 151.4,149.8 151.6,149.2 151.8,148.9 152.0,149.3 152.2,149.5 152.4,148.8 152.6,149.8 152.8,148.7 153.0,149.6 153.2,149.3 153.4,149.7 153.6,149.7 153.8,148.9 154.0,149.3 154.2,149.1 154.4,149.8 154.6,149.4 154.8,149.8 155.0,149.3 155.2,149.1 155.4,149.1 155.6,147.5 155.8,149.6 156.0,149.1 156.2,149.5 156.4,148.8 156.6,149.4 156.8,148.8 157.0,149.4 157.2,149.1 157.4,150.8 157.6,149.9 157.8,149.0 158.0,149.7 158.2,150.0 158.4,149.2 158.6,148.9 158.8,149.0 159.0,149.6 159.2,150.0 159.4,150.3 159.6,149.6 159.8,149.5 160.0,149.4 160.2,148.8 160.4,149.4 160.6,149.7 160.8,149.7 161.0,149.7 161.2,149.6 161.4,149.2 161.6,149.4 161.8,149.3 162.0,149.3 162.2,149.2 162.4,149.1 162.6,148.9 162.8,149.7 163.0,149.4 163.2,149.3 163.4,149.4 163.6,149.0 163.8,149.0 164.0,149.5 164.2,148.7 164.4,149.1 164.6,149.0 164.8,149.5 165.0,149.0 165.2,149.4 165.4,149.7 165.6,149.3 165.8,149.7 166.0,149.7 166.2,149.1 166.4,149.0 166.6,146.2 166.8,148.9 167.0,148.9 167.2,148.9 167.4,149.2 167.6,149.4 167.8,148.7 168.0,149.4 168.2,149.1 168.4,148.9 168.6,148.6 168.8,149.2 169.0,149.2 169.2,149.1 169.4,149.2 169.6,148.9 169.8,148.9 170.0,148.6 170.2,150.4 170.4,149.0 170.6,149.6 170.8,152.8 171.0,148.7 171.2,149.4 171.4,150.0 171.6,149.5 171.8,149.5 172.0,150.0 172.2,149.2 172.4,149.0 172.6,149.5 172.8,148.9 173.0,150.1 173.2,149.0 173.4,149.3 173.6,148.4 173.8,149.3 174.0,149.3 174.2,149.3 174.4,149.4 174.6,149.4 174.8,149.0 175.0,149.2 175.2,149.2 175.4,149.0 175.6,149.5 175.8,148.6 176.0,149.7 176.2,148.9 176.4,149.3 176.6,148.9 176.8,149.4 177.0,148.9 177.3,149.1 177.5,148.8 177.7,148.5 177.9,149.2 178.1,149.2 178.3,150.2 178.5,149.3 178.7,148.9 178.9,149.4" fill="none" stroke="#D95319" stroke-width="2.0" stroke-linejoin="round" />
<polyline points="178.9,145.8 178.6,159.1 179.0,162.2 179.5,162.2 179.9,162.2 180.4,162.2 180.8,162.2 181.3,154.5 181.7,161.8 182.2,145.9 182.6,160.7 183.1,151.7 183.5,160.1 184.0,157.0 184.4,161.5 184.9,161.8 185.3,162.2 185.8,162.2 186.2,162.2 186.7,156.7 187.1,159.6 187.6,143.1 188.0,156.2 188.5,149.4 188.9,158.5 189.4,155.2 189.8,162.0 190.3,160.5 190.7,162.2 191.2,162.2 191.6,162.2 192.1,159.0 192.5,162.0 193.0,144.5 193.4,160.9 193.9,147.1 194.3,161.1 194.8,153.4 195.2,160.8 195.7,159.1 196.1,162.2 196.6,162.2 197.0,162.2 197.5,161.1 197.9,160.1 198.4,146.0 198.8,160.0 199.3,143.3 199.7,161.0 200.2,150.4 200.6,162.2 201.1,157.0 201.5,162.2 202.0,162.2 202.4,162.2 202.9,162.2 203.3,161.0 203.8,148.5 204.2,157.1 204.7,139.6 205.1,156.1 205.6,147.5 206.0,158.4 206.5,154.8 206.9,161.3 207.4,161.1 207.8,162.2 208.3,162.2 208.7,162.2 209.2,150.7 209.6,156.8 210.1,134.4 210.5,160.0 211.0,143.4 211.4,157.0 211.9,151.8 212.3,162.2 212.8,159.1 213.2,162.2 213.7,162.2 214.1,162.2 214.6,153.7 215.0,154.0 215.5,131.3" fill="none" stroke="#000" stroke-width="1.5" stroke-linejoin="round" />
<polyline points="178.9,149.4 178.6,162.2 179.0,162.2 179.5,154.0 179.9,156.2 180.4,141.7 180.8,150.6 181.3,147.9 181.7,157.4 182.2,153.9 182.6,161.8 183.1,159.3 183.5,162.2 184.0,162.2 184.4,162.2 184.9,156.6 185.3,157.8 185.8,141.7 186.2,153.2 186.7,146.2 187.1,157.5 187.6,152.4 188.0,162.2 188.5,158.1 188.9,162.2 189.4,162.2 189.8,162.2 190.3,158.6 190.7,156.2 191.2,142.8 191.6,155.5 192.1,142.1 192.5,155.8 193.0,149.3 193.4,158.2 193.9,155.9 194.3,162.2 194.8,161.6 195.2,162.2 195.7,160.5 196.1,159.5 196.6,141.7 197.0,156.2 197.5,133.6 197.9,154.8 198.4,143.0 198.8,154.0 199.3,151.8 199.7,158.3 200.2,159.4 200.6,162.2 201.1,162.2 201.5,160.4 202.0,149.0 202.4,153.8 202.9,136.3 203.3,154.6 203.8,144.5 204.2,153.4 204.7,152.1 205.1,159.5 205.6,158.8 206.0,162.2 206.5,162.2 206.9,162.2 207.4,148.3 207.8,145.0 208.3,122.3 208.7,146.7 209.2,134.0 209.6,156.8 210.1,144.9 210.5,157.4 211.0,154.7 211.4,160.8 211.9,162.2 212.3,162.2 212.8,152.4 213.2,154.2 213.7,125.0 214.1,155.0 214.6,128.9 215.0,151.5 215.5,140.9" fill="none" stroke="#D95319" stroke-width="1.35" stroke-linejoin="round" />
<polyline points="35.6,186.4 35.8,186.0 36.0,185.7 36.2,186.8 36.4,185.6 36.6,186.0 36.8,185.6 37.0,186.0 37.2,185.4 37.4,186.8 37.6,184.9 37.8,185.3 38.0,186.6 38.2,185.7 38.4,185.8 38.6,187.3 38.8,185.7 39.0,186.6 39.2,186.3 39.4,186.6 39.6,186.4 39.8,186.1 40.0,186.1 40.2,187.2 40.4,186.3 40.6,187.1 40.8,187.0 41.0,186.4 41.2,185.6 41.4,185.7 41.6,186.6 41.8,186.6 42.0,186.7 42.2,186.1 42.4,187.7 42.6,184.8 42.8,185.7 43.0,185.9 43.2,185.1 43.4,187.5 43.6,187.6 43.8,186.3 44.0,185.7 44.2,186.4 44.4,185.9 44.6,187.0 44.8,187.0 45.0,186.6 45.2,185.6 45.4,185.7 45.6,186.6 45.8,186.0 46.0,186.6 46.2,186.1 46.4,186.9 46.6,186.2 46.8,186.7 47.0,186.2 47.2,186.6 47.4,186.7 47.6,186.1 47.8,186.4 48.0,186.1 48.2,186.4 48.4,185.7 48.7,186.7 48.9,185.6 49.1,185.2 49.3,186.3 49.5,185.0 49.7,184.8 49.9,185.8 50.1,187.6 50.3,187.3 50.5,186.3 50.7,184.9 50.9,185.8 51.1,185.6 51.3,186.3 51.5,186.7 51.7,185.9 51.9,186.9 52.1,186.3 52.3,185.8 52.5,186.1 52.7,185.8 52.9,186.5 53.1,185.7 53.3,185.9 53.5,187.3 53.7,186.9 53.9,186.6 54.1,185.7 54.3,185.9 54.5,186.0 54.7,186.0 54.9,185.7 55.1,185.5 55.3,186.5 55.5,187.2 55.7,185.7 55.9,186.3 56.1,186.1 56.3,186.3 56.5,186.9 56.7,187.2 56.9,185.5 57.1,185.4 57.3,185.5 57.5,186.0 57.7,186.0 57.9,186.4 58.1,186.1 58.3,186.4 58.5,186.5 58.7,186.0 58.9,185.0 59.1,187.4 59.3,185.7 59.5,185.7 59.7,187.0 59.9,185.9 60.1,186.1 60.3,186.5 60.5,186.5 60.7,187.1 60.9,185.0 61.1,184.5 61.3,185.1 61.5,186.3 61.7,186.0 61.9,185.9 62.1,186.7 62.3,186.3 62.5,185.8 62.7,186.4 62.9,187.4 63.1,187.0 63.3,186.0 63.5,186.4 63.7,186.4 63.9,185.2 64.1,186.1 64.3,186.6 64.5,186.2 64.7,184.7 64.9,186.9 65.1,184.9 65.3,185.2 65.5,186.3 65.7,186.4 65.9,185.2 66.1,186.0 66.3,186.5 66.5,184.9 66.7,186.0 66.9,185.9 67.1,186.1 67.3,186.4 67.5,186.1 67.7,186.4 67.9,185.8 68.1,185.4 68.3,185.4 68.5,185.3 68.7,185.1 68.9,186.3 69.1,186.6 69.3,185.5 69.5,187.3 69.7,186.6 69.9,186.0 70.1,187.3 70.3,185.1 70.5,186.8 70.7,187.2 70.9,186.7 71.1,186.7 71.3,186.2 71.5,186.3 71.7,185.4 71.9,186.3 72.1,186.0 72.3,186.8 72.5,185.8 72.7,186.7 72.9,187.5 73.1,185.3 73.3,186.9 73.5,186.9 73.7,186.8 73.9,185.7 74.1,187.2 74.4,186.4 74.6,185.8 74.8,184.8 75.0,186.3 75.2,186.1 75.4,186.7 75.6,184.8 75.8,186.2 76.0,186.2 76.2,186.0 76.4,186.8 76.6,187.0 76.8,187.0 77.0,185.1 77.2,186.3 77.4,186.3 77.6,185.3 77.8,187.0 78.0,185.2 78.2,185.1 78.4,186.7 78.6,185.7 78.8,186.2 79.0,185.5 79.2,186.1 79.4,186.8 79.6,185.7 79.8,186.3 80.0,186.0 80.2,185.5 80.4,185.3 80.6,185.7 80.8,187.1 81.0,185.7 81.2,186.4 81.4,185.4 81.6,186.3 81.8,185.2 82.0,185.8 82.2,186.1 82.4,185.9 82.6,187.4 82.8,185.8 83.0,186.1 83.2,186.9 83.4,185.9 83.6,185.9 83.8,185.9 84.0,186.2 84.2,185.6 84.4,185.6 84.6,186.1 84.8,186.2 85.0,186.5 85.2,186.6 85.4,185.7 85.6,186.5 85.8,187.1 86.0,186.0 86.2,185.4 86.4,186.3 86.6,185.6 86.8,185.8 87.0,186.8 87.2,185.9 87.4,186.2 87.6,185.7 87.8,188.1 88.0,185.6 88.2,185.6 88.4,186.8 88.6,185.4 88.8,186.3 89.0,186.0 89.2,185.6 89.4,185.2 89.6,186.0 89.8,185.7 90.0,185.8 90.2,186.6 90.4,185.0 90.6,185.6 90.8,186.0 91.0,185.4 91.2,185.8 91.4,186.5 91.6,185.5 91.8,186.1 92.0,185.7 92.2,185.5 92.4,185.5 92.6,184.8 92.8,186.0 93.0,186.3 93.2,187.9 93.4,186.6 93.6,185.7 93.8,185.8 94.0,186.7 94.2,186.6 94.4,186.4 94.6,185.1 94.8,186.8 95.0,185.9 95.2,187.2 95.4,186.3 95.6,185.2 95.8,187.0 96.0,185.3 96.2,187.4 96.4,186.1 96.6,186.9 96.8,186.1 97.0,186.3 97.2,185.6 97.4,185.9 97.6,186.0 97.8,186.5 98.0,185.8 98.2,186.7 98.4,186.6 98.6,186.6 98.8,185.7 99.0,184.6 99.2,186.2 99.4,184.8 99.6,186.8 99.8,186.5 100.0,185.8 100.3,185.7 100.5,185.6 100.7,185.0 100.9,186.3 101.1,185.4 101.3,186.0 101.5,188.1 101.7,186.8 101.9,186.5 102.1,186.0 102.3,185.8 102.5,186.3 102.7,185.2 102.9,186.8 103.1,186.1 103.3,185.5 103.5,186.9 103.7,185.3 103.9,185.5 104.1,186.2 104.3,186.1 104.5,186.2 104.7,186.1 104.9,185.3 105.1,185.8 105.3,187.1 105.5,187.2 105.7,185.7 105.9,187.9 106.1,187.2 106.3,186.5 106.5,186.1 106.7,185.2 106.9,186.0 107.1,183.7 107.3,184.2 107.5,185.5 107.7,185.4 107.9,186.2 108.1,185.5 108.3,185.7 108.5,186.0 108.7,186.6 108.9,186.4 109.1,185.6 109.3,186.2 109.5,185.9 109.7,185.9 109.9,185.9 110.1,186.1 110.3,185.7 110.5,185.6 110.7,185.2 110.9,185.8 111.1,186.5 111.3,186.6 111.5,185.7 111.7,186.5 111.9,186.5 112.1,185.4 112.3,186.4 112.5,186.6 112.7,185.3 112.9,187.9 113.1,186.2 113.3,186.4 113.5,186.5 113.7,185.5 113.9,185.1 114.1,185.4 114.3,185.7 114.5,185.9 114.7,186.3 114.9,186.1 115.1,187.2 115.3,186.5 115.5,185.7 115.7,186.2 115.9,185.6 116.1,187.2 116.3,186.5 116.5,186.8 116.7,185.4 116.9,186.3 117.1,186.3 117.3,187.0 117.5,186.5 117.7,186.8 117.9,187.3 118.1,184.6 118.3,186.9 118.5,186.3 118.7,186.7 118.9,185.2 119.1,186.8 119.3,186.7 119.5,185.9 119.7,185.0 119.9,186.0 120.1,186.5 120.3,187.9 120.5,188.6 120.7,186.2 120.9,186.1 121.1,185.3 121.3,185.8 121.5,186.3 121.7,185.3 121.9,185.0 122.1,186.6 122.3,185.5 122.5,185.3 122.7,186.7 122.9,185.7 123.1,186.2 123.3,185.3 123.5,185.4 123.7,187.6 123.9,186.3 124.1,185.2 124.3,185.8 124.5,186.8 124.7,186.5 124.9,186.9 125.1,185.9 125.3,187.0 125.5,185.3 125.7,185.6 126.0,185.0 126.2,185.4 126.4,185.4 126.6,185.5 126.8,185.7 127.0,187.5 127.2,185.7 127.4,186.7 127.6,187.8 127.8,185.0 128.0,186.1 128.2,187.2 128.4,185.9 128.6,185.3 128.8,186.0 129.0,185.1 129.2,186.9 129.4,185.5 129.6,186.8 129.8,185.8 130.0,185.7 130.2,186.5 130.4,184.4 130.6,187.4 130.8,187.1 131.0,186.4 131.2,186.7 131.4,185.3 131.6,186.5 131.8,185.2 132.0,186.4 132.2,185.6 132.4,185.6 132.6,186.0 132.8,185.6 133.0,185.9 133.2,184.7 133.4,184.5 133.6,186.4 133.8,185.8 134.0,185.3 134.2,185.7 134.4,184.8 134.6,184.3 134.8,187.5 135.0,186.5 135.2,185.2 135.4,185.8 135.6,186.6 135.8,186.3 136.0,186.0 136.2,185.0 136.4,186.8 136.6,186.0 136.8,185.1 137.0,185.4 137.2,186.2 137.4,186.3 137.6,187.4 137.8,187.3 138.0,186.7 138.2,185.5 138.4,185.6 138.6,185.3 138.8,185.5 139.0,185.6 139.2,186.0 139.4,186.7 139.6,185.3 139.8,186.4 140.0,187.4 140.2,185.8 140.4,186.1 140.6,184.5 140.8,186.3 141.0,185.9 141.2,186.9 141.4,185.7 141.6,186.0 141.8,186.7 142.0,186.0 142.2,187.0 142.4,185.7 142.6,186.5 142.8,185.9 143.0,186.8 143.2,186.7 143.4,186.3 143.6,185.6 143.8,186.1 144.0,187.8 144.2,185.7 144.4,186.2 144.6,185.7 144.8,185.4 145.0,185.6 145.2,186.6 145.4,186.4 145.6,185.8 145.8,185.4 146.0,186.7 146.2,186.6 146.4,186.8 146.6,185.9 146.8,186.6 147.0,184.5 147.2,185.6 147.4,185.3 147.6,185.7 147.8,186.6 148.0,187.9 148.2,185.1 148.4,185.9 148.6,187.5 148.8,184.2 149.0,185.6 149.2,185.0 149.4,186.3 149.6,187.4 149.8,187.2 150.0,185.6 150.2,187.6 150.4,186.5 150.6,185.4 150.8,185.4 151.0,186.1 151.2,187.9 151.4,186.3 151.7,185.3 151.9,185.5 152.1,186.4 152.3,187.5 152.5,185.7 152.7,186.4 152.9,186.7 153.1,186.6 153.3,186.7 153.5,186.2 153.7,186.2 153.9,185.7 154.1,185.7 154.3,186.2 154.5,187.6 154.7,185.8 154.9,186.8 155.1,184.9 155.3,186.3 155.5,184.6 155.7,185.7 155.9,185.0 156.1,186.0 156.3,185.8 156.5,186.4 156.7,186.5 156.9,186.5 157.1,185.6 157.3,186.9 157.5,185.4 157.7,186.3 157.9,185.7 158.1,186.8 158.3,186.1 158.5,187.3 158.7,186.6 158.9,186.3 159.1,186.8 159.3,186.3 159.5,186.1 159.7,186.1 159.9,187.6 160.1,186.4 160.3,186.3 160.5,186.7 160.7,186.8 160.9,184.8 161.1,185.6 161.3,185.5 161.5,185.3 161.7,186.8 161.9,186.3 162.1,187.4 162.3,186.0 162.5,187.5 162.7,186.6 162.9,185.6 163.1,185.8 163.3,186.8 163.5,186.8 163.7,185.3 163.9,185.8 164.1,186.5 164.3,186.1 164.5,186.1 164.7,186.9 164.9,186.5 165.1,187.6 165.3,186.0 165.5,186.1 165.7,185.4 165.9,185.4 166.1,186.5 166.3,185.1 166.5,186.7 166.7,185.5 166.9,186.5 167.1,186.6 167.3,187.0 167.5,186.2 167.7,183.9 167.9,186.0 168.1,185.8 168.3,186.4 168.5,185.8 168.7,185.7 168.9,185.8 169.1,185.2 169.3,186.2 169.5,185.9 169.7,185.1 169.9,185.7 170.1,186.7 170.3,185.3 170.5,185.7 170.7,186.7 170.9,188.6 171.1,186.5 171.3,187.1 171.5,186.5 171.7,185.5 171.9,183.9 172.1,185.5 172.3,186.3 172.5,185.5 172.7,186.6 172.9,187.3 173.1,185.1 173.3,186.9 173.5,186.1 173.7,187.4 173.9,185.9 174.1,188.3 174.3,185.7 174.5,187.3 174.7,184.0 174.9,185.9 175.1,186.1 175.3,183.0 175.5,185.1 175.7,183.2 175.9,186.8 176.1,183.7 176.3,185.5 176.5,185.5 176.7,186.7 176.9,186.7 177.1,189.2 177.3,185.0 177.6,185.2 177.8,185.8 178.0,186.1 178.2,191.5 178.4,184.0 178.6,186.3 178.8,184.6 179.0,185.7 179.2,186.9 179.4,189.7 179.6,185.3 179.8,185.1 180.0,187.3 180.2,186.0 180.4,186.1 180.6,186.0 180.8,185.8 181.0,196.3 181.2,186.0 181.4,187.7 181.6,186.6 181.8,185.2 182.0,185.5 182.2,187.9 182.4,188.5 182.6,186.2 182.8,185.5 183.0,185.2 183.2,185.0 183.4,187.7 183.6,185.7 183.8,191.5 184.0,184.3 184.2,186.8 184.4,184.7 184.6,187.7 184.8,185.2 185.0,189.7 185.2,187.7 185.4,190.3 185.6,187.6 185.8,185.6 186.0,185.7 186.2,183.2 186.4,185.8 186.6,186.8 186.8,187.4 187.0,186.2 187.2,184.3 187.4,186.7 187.6,185.4 187.8,185.5 188.0,185.0 188.2,187.7 188.4,189.7 188.6,186.9 188.8,182.1 189.0,183.1 189.2,183.9 189.4,185.5 189.6,186.0 189.8,189.1 190.0,187.6 190.2,183.1 190.4,184.7 190.6,185.0 190.8,187.4 191.0,175.7 191.2,187.1 191.4,189.1 191.6,184.9 191.8,182.3 192.0,185.2 192.2,186.1 192.4,180.7 192.6,182.3 192.8,195.8 193.0,188.2 193.2,187.1 193.4,183.0 193.6,184.6 193.8,183.8 194.0,186.0 194.2,189.7 194.4,182.2 194.6,183.0 194.8,186.8 195.0,182.4 195.2,184.9 195.4,190.6 195.6,187.2 195.8,186.2 196.0,188.6 196.2,187.5 196.4,187.1 196.6,186.4 196.8,185.6 197.0,186.4 197.2,185.4 197.4,186.8 197.6,190.3 197.8,183.7 198.0,190.1 198.2,183.1 198.4,185.0 198.6,196.2 198.8,185.3 199.0,186.7 199.2,182.4 199.4,187.9 199.6,184.8 199.8,187.7 200.0,182.4 200.2,180.9 200.4,182.6 200.6,185.1 200.8,186.2 201.0,187.3 201.2,182.8 201.4,183.6 201.6,185.0 201.8,173.7 202.0,186.8 202.2,180.9 202.4,184.2 202.6,181.7 202.8,191.5 203.0,186.2 203.3,184.0 203.5,181.7 203.7,187.1 203.9,183.8 204.1,179.5 204.3,188.5 204.5,185.4 204.7,177.0 204.9,186.5 205.1,185.6 205.3,190.5 205.5,190.4 205.7,178.2 205.9,183.2 206.1,190.5 206.3,187.9 206.5,188.6 206.7,187.8 206.9,192.4 207.1,191.4 207.3,182.6 207.5,181.3 207.7,190.4 207.9,180.8 208.1,181.2 208.3,185.8 208.5,185.3 208.7,190.0 208.9,183.7 209.1,187.6 209.3,186.7 209.5,179.0 209.7,183.8 209.9,186.7 210.1,185.5 210.3,181.4 210.5,191.0 210.7,188.0 210.9,192.0 211.1,184.9 211.3,180.3 211.5,184.2 211.7,185.1 211.9,185.4 212.1,181.5 212.3,185.8 212.5,169.0 212.7,187.3 212.9,190.9 213.1,183.2 213.3,187.2 213.5,189.0 213.7,183.9 213.9,183.5 214.1,185.6 214.3,185.7 214.5,188.0 214.7,178.3 214.9,183.8 215.1,186.5 215.3,185.2 215.5,184.0 215.7,179.9 215.9,178.5 216.1,187.4" fill="none" stroke="#EDB120" stroke-width="1.6" stroke-linejoin="round" />
<line x1="35.30" y1="0.3" x2="35.30" y2="56.5" stroke="#999" stroke-width="1"/>
<line x1="215.80" y1="0.3" x2="215.80" y2="56.5" stroke="#c4c4c4" stroke-width="0.9"/>
<line x1="35.30" y1="0.30" x2="215.80" y2="0.30" stroke="#a8a8a8" stroke-width="0.9"/>
<line x1="35.30" y1="56.50" x2="215.80" y2="56.50" stroke="#7c7c7c" stroke-width="1.2"/>
<path d="M35.30,11.50h1.8M215.80,11.50h-1.8" stroke="#666" stroke-width="0.8"/>
<text x="31.4" y="15.3" class="tk" text-anchor="end">475</text>
<path d="M35.30,28.50h1.8M215.80,28.50h-1.8" stroke="#666" stroke-width="0.8"/>
<text x="31.4" y="32.3" class="tk" text-anchor="end">450</text>
<path d="M35.30,45.50h1.8M215.80,45.50h-1.8" stroke="#666" stroke-width="0.8"/>
<text x="31.4" y="49.3" class="tk" text-anchor="end">425</text>
<path d="M80.43,56.50v-1.8M80.43,0.30v1.8" stroke="#666" stroke-width="0.8"/>
<path d="M125.55,56.50v-1.8M125.55,0.30v1.8" stroke="#666" stroke-width="0.8"/>
<path d="M170.67,56.50v-1.8M170.67,0.30v1.8" stroke="#666" stroke-width="0.8"/>
<line x1="35.30" y1="56.5" x2="35.30" y2="115.7" stroke="#8c8c8c" stroke-width="1"/>
<line x1="215.80" y1="56.5" x2="215.80" y2="115.7" stroke="#c4c4c4" stroke-width="0.9"/>
<line x1="35.30" y1="115.70" x2="215.80" y2="115.70" stroke="#7c7c7c" stroke-width="1.2"/>
<path d="M35.30,64.79h1.8M215.80,64.79h-1.8" stroke="#666" stroke-width="0.8"/>
<text x="31.4" y="68.6" class="tk" text-anchor="end">3</text>
<path d="M35.30,75.69h1.8M215.80,75.69h-1.8" stroke="#666" stroke-width="0.8"/>
<text x="31.4" y="79.5" class="tk" text-anchor="end">1.5</text>
<path d="M35.30,86.60h1.8M215.80,86.60h-1.8" stroke="#666" stroke-width="0.8"/>
<text x="31.4" y="90.4" class="tk" text-anchor="end">0</text>
<path d="M35.30,97.50h1.8M215.80,97.50h-1.8" stroke="#666" stroke-width="0.8"/>
<text x="31.4" y="101.3" class="tk" text-anchor="end">-1.5</text>
<path d="M35.30,108.41h1.8M215.80,108.41h-1.8" stroke="#666" stroke-width="0.8"/>
<text x="31.4" y="112.2" class="tk" text-anchor="end">-3</text>
<path d="M80.43,115.70v-1.8M80.43,56.50v1.8" stroke="#666" stroke-width="0.8"/>
<path d="M125.55,115.70v-1.8M125.55,56.50v1.8" stroke="#666" stroke-width="0.8"/>
<path d="M170.67,115.70v-1.8M170.67,56.50v1.8" stroke="#666" stroke-width="0.8"/>
<line x1="35.30" y1="115.7" x2="35.30" y2="162.6" stroke="#8c8c8c" stroke-width="1"/>
<line x1="215.80" y1="115.7" x2="215.80" y2="162.6" stroke="#c4c4c4" stroke-width="0.9"/>
<line x1="35.30" y1="162.60" x2="215.80" y2="162.60" stroke="#7c7c7c" stroke-width="1.2"/>
<path d="M35.30,125.11h1.8M215.80,125.11h-1.8" stroke="#666" stroke-width="0.8"/>
<text x="31.4" y="128.9" class="tk" text-anchor="end">3.6</text>
<path d="M35.30,137.20h1.8M215.80,137.20h-1.8" stroke="#666" stroke-width="0.8"/>
<text x="31.4" y="141.0" class="tk" text-anchor="end">1.8</text>
<path d="M35.30,149.30h1.8M215.80,149.30h-1.8" stroke="#666" stroke-width="0.8"/>
<text x="31.4" y="153.1" class="tk" text-anchor="end">0</text>
<path d="M80.43,162.60v-1.8M80.43,115.70v1.8" stroke="#666" stroke-width="0.8"/>
<path d="M125.55,162.60v-1.8M125.55,115.70v1.8" stroke="#666" stroke-width="0.8"/>
<path d="M170.67,162.60v-1.8M170.67,115.70v1.8" stroke="#666" stroke-width="0.8"/>
<line x1="35.75" y1="162.6" x2="35.75" y2="208.4" stroke="#d2d2d2" stroke-width="1"/>
<line x1="215.80" y1="162.6" x2="215.80" y2="208.4" stroke="#c4c4c4" stroke-width="0.9"/>
<line x1="35.30" y1="208.40" x2="215.80" y2="208.40" stroke="#a0a0a0" stroke-width="1"/>
<path d="M35.75,174.40h1.8M215.80,174.40h-1.8" stroke="#666" stroke-width="0.8"/>
<text x="31.4" y="178.2" class="tk" text-anchor="end">0.5</text>
<path d="M35.75,185.85h1.8M215.80,185.85h-1.8" stroke="#666" stroke-width="0.8"/>
<text x="31.4" y="189.7" class="tk" text-anchor="end">0</text>
<path d="M35.75,197.30h1.8M215.80,197.30h-1.8" stroke="#666" stroke-width="0.8"/>
<text x="31.4" y="201.1" class="tk" text-anchor="end">-0.5</text>
<path d="M80.98,208.40v-1.8M80.98,162.60v1.8" stroke="#666" stroke-width="0.8"/>
<path d="M126.10,208.40v-1.8M126.10,162.60v1.8" stroke="#666" stroke-width="0.8"/>
<path d="M171.22,208.40v-1.8M171.22,162.60v1.8" stroke="#666" stroke-width="0.8"/>
<text x="35.5" y="222.2" class="tk" text-anchor="middle" style="letter-spacing:0.4px">0.15</text>
<text x="80.6" y="222.2" class="tk" text-anchor="middle" style="letter-spacing:0.4px">0.2</text>
<text x="125.8" y="222.2" class="tk" text-anchor="middle" style="letter-spacing:0.4px">0.25</text>
<text x="170.9" y="222.2" class="tk" text-anchor="middle" style="letter-spacing:0.4px">0.3</text>
<text x="216.0" y="222.2" class="tk" text-anchor="middle" style="letter-spacing:0.4px">0.35</text>
<text x="126.3" y="233.4" class="tl" text-anchor="middle">Time (s)</text>
<text x="124.6" y="250.0" class="cap" text-anchor="middle">a) PI controllers</text>
<text class="yl" transform="translate(7.7,28.2) rotate(-90)" text-anchor="middle">V<tspan class="sub" dy="3.5">dc</tspan><tspan dy="-3.5"> (V)</tspan></text>
<text class="yl" transform="translate(7.4,87.3) rotate(-90)" text-anchor="middle">i<tspan class="sub" dy="3.5">abcn</tspan><tspan dy="-3.5"> (A)</tspan></text>
<text class="yl" transform="translate(10.1,138.7) rotate(-90)" text-anchor="middle">i<tspan class="sub" dy="3.5">dq</tspan><tspan dy="-3.5"> (A)</tspan></text>
<text class="yl" transform="translate(6.6,186.2) rotate(-90)" text-anchor="middle">i<tspan class="sub" dy="3.5">0</tspan><tspan dy="-3.5"> (A)</tspan></text>
<line x1="311.00" y1="0.3" x2="311.00" y2="57.2" stroke="#ececec" stroke-width="0.8"/>
<line x1="356.20" y1="0.3" x2="356.20" y2="57.2" stroke="#ececec" stroke-width="0.8"/>
<line x1="401.40" y1="0.3" x2="401.40" y2="57.2" stroke="#ececec" stroke-width="0.8"/>
<line x1="265.8" y1="11.50" x2="446.6" y2="11.50" stroke="#ececec" stroke-width="0.8"/>
<line x1="265.8" y1="28.50" x2="446.6" y2="28.50" stroke="#ececec" stroke-width="0.8"/>
<line x1="265.8" y1="45.50" x2="446.6" y2="45.50" stroke="#ececec" stroke-width="0.8"/>
<line x1="311.00" y1="57.2" x2="311.00" y2="115.8" stroke="#ececec" stroke-width="0.8"/>
<line x1="356.20" y1="57.2" x2="356.20" y2="115.8" stroke="#ececec" stroke-width="0.8"/>
<line x1="401.40" y1="57.2" x2="401.40" y2="115.8" stroke="#ececec" stroke-width="0.8"/>
<line x1="265.8" y1="64.79" x2="446.6" y2="64.79" stroke="#ececec" stroke-width="0.8"/>
<line x1="265.8" y1="75.69" x2="446.6" y2="75.69" stroke="#ececec" stroke-width="0.8"/>
<line x1="265.8" y1="86.60" x2="446.6" y2="86.60" stroke="#ececec" stroke-width="0.8"/>
<line x1="265.8" y1="97.50" x2="446.6" y2="97.50" stroke="#ececec" stroke-width="0.8"/>
<line x1="265.8" y1="108.41" x2="446.6" y2="108.41" stroke="#ececec" stroke-width="0.8"/>
<line x1="311.00" y1="115.8" x2="311.00" y2="162.8" stroke="#ececec" stroke-width="0.8"/>
<line x1="356.20" y1="115.8" x2="356.20" y2="162.8" stroke="#ececec" stroke-width="0.8"/>
<line x1="401.40" y1="115.8" x2="401.40" y2="162.8" stroke="#ececec" stroke-width="0.8"/>
<line x1="265.8" y1="125.11" x2="446.6" y2="125.11" stroke="#ececec" stroke-width="0.8"/>
<line x1="265.8" y1="137.20" x2="446.6" y2="137.20" stroke="#ececec" stroke-width="0.8"/>
<line x1="265.8" y1="149.30" x2="446.6" y2="149.30" stroke="#ececec" stroke-width="0.8"/>
<line x1="311.55" y1="162.8" x2="311.55" y2="208.5" stroke="#ececec" stroke-width="0.8"/>
<line x1="356.75" y1="162.8" x2="356.75" y2="208.5" stroke="#ececec" stroke-width="0.8"/>
<line x1="401.95" y1="162.8" x2="401.95" y2="208.5" stroke="#ececec" stroke-width="0.8"/>
<line x1="265.8" y1="174.40" x2="446.6" y2="174.40" stroke="#ececec" stroke-width="0.8"/>
<line x1="265.8" y1="185.85" x2="446.6" y2="185.85" stroke="#ececec" stroke-width="0.8"/>
<line x1="265.8" y1="197.30" x2="446.6" y2="197.30" stroke="#ececec" stroke-width="0.8"/>
<polyline points="265.8,28.6 266.1,28.6 266.3,28.6 266.6,28.6 266.8,28.6 267.1,28.6 267.3,28.6 267.6,28.6 267.8,28.6 268.1,28.6 268.3,28.6 268.6,28.6 268.8,28.6 269.1,28.6 269.3,28.6 269.6,28.6 269.8,28.6 270.1,28.6 270.3,28.6 270.6,28.6 270.8,28.6 271.1,28.6 271.3,28.6 271.6,28.6 271.8,28.6 272.1,28.6 272.3,28.6 272.6,28.6 272.8,28.6 273.1,28.6 273.3,28.6 273.6,28.6 273.8,28.6 274.1,28.6 274.3,28.6 274.6,28.6 274.8,28.6 275.1,28.6 275.3,28.6 275.6,28.6 275.8,28.6 276.1,28.6 276.3,28.6 276.6,28.6 276.8,28.6 277.1,28.6 277.3,28.6 277.6,28.6 277.8,28.6 278.1,28.6 278.3,28.6 278.6,28.6 278.8,28.6 279.1,28.6 279.3,28.6 279.6,28.6 279.8,28.6 280.1,28.6 280.3,28.6 280.6,28.6 280.8,28.6 281.1,28.6 281.3,28.6 281.6,28.6 281.8,28.6 282.1,28.6 282.3,28.6 282.6,28.6 282.8,28.6 283.1,28.6 283.3,28.6 283.6,28.6 283.8,28.6 284.1,28.6 284.3,28.6 284.6,28.6 284.8,28.6 285.1,28.6 285.3,28.6 285.6,28.6 285.8,28.6 286.1,28.6 286.3,28.6 286.6,28.6 286.8,28.6 287.1,28.6 287.3,28.6 287.6,28.6 287.8,28.6 288.1,28.6 288.3,28.6 288.6,28.6 288.8,28.6 289.1,28.6 289.3,28.6 289.6,28.6 289.8,28.6 290.1,28.6 290.3,28.6 290.6,28.6 290.8,28.6 291.1,28.6 291.3,28.6 291.6,28.6 291.8,28.6 292.1,28.6 292.3,28.6 292.6,28.6 292.8,28.6 293.1,28.6 293.3,28.6 293.6,28.6 293.8,28.6 294.1,28.6 294.3,28.6 294.6,28.6 294.8,28.6 295.1,28.6 295.3,28.6 295.6,28.6 295.8,28.6 296.1,28.6 296.3,28.6 296.6,28.6 296.8,28.6 297.1,28.6 297.3,28.6 297.6,28.6 297.8,28.6 298.1,28.6 298.3,28.6 298.6,28.6 298.8,28.6 299.1,28.6 299.3,28.6 299.6,28.6 299.8,28.6 300.1,28.6 300.3,28.6 300.6,28.6 300.8,28.6 301.1,28.6 301.3,28.6 301.6,28.6 301.8,28.6 302.1,28.6 302.3,28.6 302.6,28.6 302.8,28.6 303.1,28.6 303.3,28.6 303.6,28.6 303.8,28.6 304.1,28.6 304.3,28.6 304.6,28.6 304.8,28.6 305.1,28.6 305.3,28.6 305.6,28.6 305.8,28.6 306.1,28.6 306.3,28.6 306.6,28.6 306.8,28.6 307.1,28.6 307.3,28.6 307.6,28.6 307.8,28.6 308.1,28.6 308.3,28.6 308.6,28.6 308.8,28.6 309.1,28.6 309.3,28.6 309.6,28.6 309.8,28.6 310.1,28.6 310.3,28.6 310.6,28.6 310.8,28.7 311.1,29.2 311.3,29.8 311.6,30.7 311.8,32.1 312.1,33.2 312.3,33.8 312.6,34.4 312.8,34.8 313.1,35.1 313.3,35.1 313.6,35.1 313.8,35.1 314.1,35.1 314.3,35.1 314.6,35.0 314.8,34.8 315.1,34.6 315.3,34.3 315.6,34.1 315.8,34.0 316.1,33.8 316.3,33.6 316.6,33.4 316.8,33.2 317.1,33.1 317.3,32.9 317.6,32.7 317.8,32.6 318.1,32.4 318.3,32.3 318.6,32.1 318.8,32.0 319.1,31.9 319.3,31.7 319.6,31.6 319.8,31.5 320.1,31.4 320.3,31.3 320.6,31.2 320.8,31.1 321.1,31.0 321.3,30.9 321.6,30.8 321.8,30.7 322.1,30.6 322.3,30.5 322.6,30.5 322.8,30.4 323.1,30.3 323.3,30.3 323.6,30.2 323.8,30.1 324.1,30.1 324.3,30.0 324.6,29.9 324.8,29.9 325.1,29.8 325.3,29.8 325.6,29.7 325.8,29.6 326.1,29.6 326.3,29.5 326.6,29.5 326.8,29.5 327.1,29.4 327.3,29.4 327.6,29.3 327.8,29.3 328.1,29.3 328.3,29.2 328.6,29.2 328.8,29.2 329.1,29.1 329.3,29.1 329.6,29.1 329.8,29.0 330.1,29.0 330.3,29.0 330.6,28.9 330.8,28.9 331.1,28.9 331.3,28.9 331.6,28.8 331.8,28.8 332.1,28.8 332.3,28.8 332.6,28.8 332.8,28.7 333.1,28.7 333.3,28.7 333.6,28.7 333.8,28.7 334.1,28.7 334.3,28.7 334.6,28.7 334.8,28.7 335.1,28.7 335.3,28.7 335.6,28.7 335.8,28.7 336.1,28.6 336.3,28.6 336.6,28.6 336.8,28.6 337.1,28.6 337.3,28.6 337.6,28.6 337.8,28.6 338.1,28.6 338.3,28.6 338.6,28.6 338.8,28.6 339.1,28.6 339.3,28.6 339.6,28.6 339.8,28.6 340.1,28.6 340.3,28.6 340.6,28.6 340.8,28.6 341.1,28.6 341.3,28.6 341.6,28.6 341.8,28.6 342.1,28.6 342.3,28.6 342.6,28.6 342.8,28.6 343.1,28.6 343.3,28.6 343.6,28.6 343.8,28.6 344.1,28.6 344.3,28.6 344.6,28.6 344.8,28.6 345.1,28.6 345.3,28.6 345.6,28.6 345.8,28.6 346.1,28.6 346.3,28.6 346.6,28.6 346.8,28.6 347.1,28.6 347.3,28.6 347.6,28.6 347.8,28.6 348.1,28.6 348.3,28.6 348.6,28.6 348.8,28.6 349.1,28.6 349.3,28.6 349.6,28.6 349.8,28.6 350.1,28.6 350.3,28.6 350.6,28.6 350.8,28.6 351.1,28.6 351.3,28.6 351.6,28.6 351.8,28.6 352.1,28.6 352.3,28.6 352.6,28.6 352.8,28.6 353.1,28.6 353.3,28.6 353.6,28.6 353.8,28.6 354.1,28.6 354.3,28.6 354.6,28.6 354.8,28.6 355.1,28.6 355.3,28.6 355.6,28.6 355.8,28.6 356.1,28.6 356.3,28.6 356.6,28.6 356.8,28.6 357.1,28.6 357.3,28.6 357.6,28.6 357.8,28.6 358.1,28.6 358.3,28.6 358.6,28.6 358.8,28.6 359.1,28.6 359.3,28.6 359.6,28.6 359.8,28.6 360.1,28.6 360.3,28.6 360.6,28.6 360.8,28.6 361.1,28.6 361.3,28.6 361.6,28.6 361.8,28.6 362.1,28.6 362.3,28.6 362.6,28.6 362.8,28.6 363.1,28.6 363.3,28.6 363.6,28.6 363.8,28.6 364.1,28.6 364.3,28.6 364.6,28.6 364.8,28.6 365.1,28.6 365.3,28.6 365.6,28.6 365.8,28.6 366.1,28.6 366.3,28.6 366.6,28.6 366.8,28.6 367.1,28.6 367.3,28.6 367.6,28.6 367.8,28.6 368.1,28.6 368.3,28.6 368.6,28.6 368.8,28.6 369.1,28.6 369.3,28.6 369.6,28.6 369.8,28.6 370.1,28.6 370.3,28.6 370.6,28.6 370.8,28.6 371.1,28.6 371.3,28.6 371.6,28.6 371.8,28.6 372.1,28.6 372.3,28.6 372.6,28.6 372.8,28.6 373.1,28.6 373.3,28.6 373.6,28.6 373.8,28.6 374.1,28.6 374.3,28.6 374.6,28.6 374.8,28.6 375.1,28.6 375.3,28.6 375.6,28.6 375.8,28.6 376.1,28.6 376.3,28.6 376.6,28.6 376.8,28.6 377.1,28.6 377.3,28.6 377.6,28.6 377.8,28.6 378.1,28.6 378.3,28.6 378.6,28.6 378.8,28.6 379.1,28.6 379.3,28.6 379.6,28.6 379.8,28.6 380.1,28.6 380.3,28.6 380.6,28.6 380.8,28.6 381.1,28.6 381.3,28.6 381.6,28.6 381.8,28.6 382.1,28.6 382.3,28.6 382.6,28.6 382.8,28.6 383.1,28.6 383.3,28.6 383.6,28.6 383.8,28.6 384.1,28.6 384.3,28.6 384.6,28.6 384.8,28.6 385.1,28.6 385.3,28.6 385.6,28.6 385.8,28.6 386.1,28.6 386.3,28.6 386.6,28.6 386.8,28.6 387.1,28.6 387.3,28.6 387.6,28.6 387.8,28.6 388.1,28.6 388.3,28.6 388.6,28.6 388.8,28.6 389.1,28.6 389.3,28.6 389.6,28.6 389.8,28.6 390.1,28.6 390.3,28.6 390.6,28.6 390.8,28.6 391.1,28.6 391.3,28.6 391.6,28.6 391.8,28.6 392.1,28.6 392.3,28.6 392.6,28.6 392.8,28.6 393.1,28.6 393.3,28.6 393.6,28.6 393.8,28.6 394.1,28.6 394.3,28.6 394.6,28.6 394.8,28.6 395.1,28.6 395.3,28.6 395.6,28.6 395.8,28.6 396.1,28.6 396.3,28.6 396.6,28.6 396.8,28.6 397.1,28.6 397.3,28.6 397.6,28.6 397.8,28.6 398.1,28.6 398.3,28.6 398.6,28.6 398.8,28.6 399.1,28.6 399.3,28.6 399.6,28.6 399.8,28.6 400.1,28.6 400.3,28.6 400.6,28.6 400.8,28.6 401.1,28.6 401.3,28.5 401.6,28.1 401.8,27.5 402.1,26.5 402.3,25.1 402.6,24.3 402.8,23.6 403.1,23.0 403.3,22.6 403.6,22.4 403.8,22.3 404.1,22.1 404.3,22.1 404.6,22.1 404.8,22.1 405.1,22.1 405.3,22.1 405.6,22.1 405.8,22.2 406.1,22.3 406.3,22.4 406.6,22.5 406.8,22.7 407.1,22.8 407.3,23.0 407.6,23.2 407.8,23.4 408.1,23.6 408.3,23.7 408.6,23.9 408.8,24.0 409.1,24.2 409.3,24.3 409.6,24.5 409.8,24.7 410.1,24.8 410.3,25.0 410.6,25.2 410.8,25.3 411.1,25.5 411.3,25.6 411.6,25.8 411.8,25.9 412.1,26.1 412.3,26.2 412.6,26.3 412.8,26.4 413.1,26.6 413.3,26.7 413.6,26.8 413.8,26.9 414.1,27.1 414.3,27.2 414.6,27.3 414.8,27.4 415.1,27.5 415.3,27.6 415.6,27.7 415.8,27.8 416.1,27.9 416.3,28.0 416.6,28.0 416.8,28.1 417.1,28.1 417.3,28.2 417.6,28.2 417.8,28.3 418.1,28.3 418.3,28.4 418.6,28.4 418.8,28.5 419.1,28.5 419.3,28.5 419.6,28.6 419.8,28.6 420.1,28.6 420.3,28.6 420.6,28.6 420.8,28.6 421.1,28.6 421.3,28.6 421.6,28.6 421.8,28.6 422.1,28.6 422.3,28.6 422.6,28.6 422.8,28.6 423.1,28.6 423.3,28.6 423.6,28.6 423.8,28.6 424.1,28.6 424.3,28.6 424.6,28.6 424.8,28.6 425.1,28.6 425.3,28.6 425.6,28.6 425.8,28.6 426.1,28.6 426.3,28.6 426.6,28.6 426.8,28.6 427.1,28.6 427.3,28.6 427.6,28.6 427.8,28.6 428.1,28.6 428.3,28.6 428.6,28.6 428.8,28.6 429.1,28.6 429.3,28.6 429.6,28.6 429.8,28.6 430.1,28.6 430.3,28.6 430.6,28.6 430.8,28.6 431.1,28.6 431.3,28.6 431.6,28.6 431.8,28.6 432.1,28.6 432.3,28.6 432.6,28.6 432.8,28.6 433.1,28.6 433.3,28.6 433.6,28.6 433.8,28.6 434.1,28.6 434.3,28.6 434.6,28.6 434.8,28.6 435.1,28.6 435.3,28.6 435.6,28.6 435.8,28.6 436.1,28.6 436.3,28.6 436.6,28.6 436.8,28.6 437.1,28.6 437.3,28.6 437.6,28.6 437.8,28.6 438.1,28.6 438.3,28.6 438.6,28.6 438.8,28.6 439.1,28.6 439.3,28.6 439.6,28.6 439.8,28.6 440.1,28.6 440.3,28.6 440.6,28.6 440.8,28.6 441.1,28.6 441.3,28.6 441.6,28.6 441.8,28.6 442.1,28.6 442.3,28.6 442.6,28.6 442.8,28.6 443.1,28.6 443.3,28.6 443.6,28.6 443.8,28.6 444.1,28.6 444.3,28.6 444.6,28.6 444.8,28.6 445.1,28.6 445.3,28.6 445.6,28.6 445.8,28.6 446.1,28.6 446.3,28.6 446.6,28.6" fill="none" stroke="#ff0000" stroke-width="1.2" stroke-linejoin="round" />
<polyline points="265.8,86.6 266.0,87.3 266.2,86.5 266.3,85.9 266.5,86.5 266.7,86.6 266.9,85.6 267.1,86.5 267.2,86.6 267.4,86.0 267.6,86.8 267.8,85.4 268.0,86.8 268.2,86.0 268.3,87.1 268.5,87.2 268.7,85.9 268.9,86.6 269.1,86.8 269.2,86.5 269.4,87.5 269.6,86.4 269.8,87.2 270.0,86.6 270.1,86.2 270.3,86.8 270.5,85.6 270.7,86.2 270.9,86.9 271.0,87.3 271.2,87.1 271.4,86.1 271.6,86.4 271.8,86.3 272.0,86.5 272.1,87.2 272.3,85.7 272.5,86.8 272.7,86.3 272.9,86.7 273.0,86.5 273.2,86.8 273.4,86.5 273.6,86.3 273.8,86.3 273.9,87.0 274.1,86.6 274.3,87.5 274.5,85.8 274.7,86.5 274.8,85.8 275.0,86.4 275.2,87.0 275.4,87.3 275.6,86.8 275.8,87.4 275.9,86.6 276.1,86.7 276.3,86.7 276.5,86.2 276.7,86.1 276.8,86.7 277.0,87.5 277.2,85.7 277.4,86.4 277.6,86.4 277.7,87.1 277.9,86.8 278.1,86.6 278.3,86.4 278.5,86.1 278.6,86.8 278.8,87.1 279.0,85.9 279.2,86.2 279.4,87.2 279.6,86.7 279.7,86.6 279.9,86.3 280.1,86.3 280.3,87.0 280.5,87.4 280.6,87.2 280.8,87.6 281.0,86.8 281.2,85.9 281.4,86.4 281.5,86.5 281.7,84.8 281.9,86.9 282.1,86.5 282.3,87.6 282.5,86.9 282.6,86.5 282.8,87.3 283.0,87.7 283.2,86.4 283.4,86.4 283.5,86.6 283.7,85.9 283.9,87.5 284.1,86.6 284.3,87.7 284.4,86.8 284.6,86.9 284.8,87.5 285.0,85.9 285.2,86.0 285.3,87.0 285.5,86.5 285.7,86.3 285.9,86.2 286.1,86.3 286.3,86.8 286.4,86.9 286.6,86.2 286.8,86.2 287.0,85.8 287.2,85.9 287.3,87.0 287.5,85.9 287.7,86.9 287.9,87.0 288.1,86.4 288.2,87.0 288.4,86.0 288.6,86.4 288.8,86.9 289.0,86.6 289.1,86.1 289.3,86.8 289.5,86.3 289.7,87.3 289.9,86.8 290.1,86.5 290.2,86.5 290.4,85.7 290.6,86.6 290.8,86.7 291.0,87.6 291.1,87.1 291.3,86.4 291.5,85.4 291.7,86.6 291.9,86.6 292.0,86.7 292.2,87.0 292.4,86.5 292.6,86.4 292.8,85.5 292.9,86.6 293.1,86.3 293.3,86.1 293.5,87.0 293.7,87.3 293.9,86.7 294.0,86.1 294.2,85.8 294.4,86.0 294.6,85.4 294.8,87.0 294.9,86.7 295.1,87.3 295.3,86.1 295.5,85.7 295.7,86.3 295.8,86.5 296.0,86.5 296.2,87.1 296.4,87.1 296.6,86.8 296.7,86.7 296.9,86.8 297.1,87.3 297.3,86.3 297.5,86.8 297.7,86.5 297.8,86.0 298.0,87.4 298.2,86.0 298.4,86.2 298.6,86.5 298.7,86.8 298.9,85.6 299.1,87.0 299.3,87.3 299.5,86.3 299.6,86.1 299.8,85.8 300.0,86.3 300.2,86.3 300.4,85.7 300.5,87.6 300.7,86.2 300.9,86.6 301.1,87.0 301.3,86.8 301.5,85.9 301.6,85.5 301.8,86.7 302.0,86.5 302.2,86.5 302.4,86.1 302.5,84.9 302.7,88.2 302.9,85.7 303.1,86.4 303.3,86.2 303.4,86.6 303.6,87.5 303.8,86.1 304.0,86.1 304.2,86.8 304.3,87.2 304.5,86.5 304.7,86.1 304.9,86.5 305.1,86.9 305.3,87.3 305.4,86.3 305.6,86.3 305.8,85.9 306.0,86.4 306.2,86.3 306.3,86.0 306.5,87.8 306.7,86.3 306.9,87.1 307.1,87.1 307.2,86.3 307.4,86.3 307.6,86.5 307.8,85.9 308.0,87.0 308.1,86.4 308.3,86.7 308.5,85.6 308.7,87.1 308.9,86.7 309.1,86.3 309.2,85.3 309.4,86.1 309.6,86.3 309.8,86.5 310.0,86.0 310.1,86.2 310.3,86.8 310.5,86.5 310.7,86.1 310.9,87.0 311.0,87.4 311.2,90.3 311.4,92.9 311.6,95.3 311.8,97.3 312.0,99.1 312.1,100.6 312.3,101.9 312.5,102.9 312.7,103.7 312.9,104.3 313.0,104.8 313.2,105.0 313.4,105.1 313.6,105.0 313.8,104.8 313.9,104.5 314.1,104.0 314.3,103.5 314.5,102.8 314.7,102.0 314.8,101.2 315.0,100.2 315.2,99.2 315.4,98.1 315.6,97.0 315.8,95.8 315.9,94.6 316.1,93.4 316.3,92.1 316.5,90.7 316.7,89.4 316.8,88.0 317.0,86.7 317.2,85.3 317.4,83.9 317.6,82.6 317.7,81.2 317.9,79.9 318.1,78.6 318.3,77.4 318.5,76.2 318.6,75.0 318.8,73.8 319.0,72.7 319.2,71.7 319.4,70.7 319.6,69.8 319.7,69.0 319.9,68.2 320.1,67.5 320.3,66.9 320.5,66.3 320.6,65.9 320.8,65.5 321.0,65.2 321.2,65.0 321.4,64.8 321.5,64.8 321.7,64.8 321.9,65.0 322.1,65.2 322.3,65.5 322.4,65.8 322.6,66.3 322.8,66.9 323.0,67.5 323.2,68.2 323.4,68.9 323.5,69.8 323.7,70.7 323.9,71.7 324.1,72.7 324.3,73.8 324.4,74.9 324.6,76.1 324.8,77.3 325.0,78.6 325.2,79.9 325.3,81.2 325.5,82.5 325.7,83.9 325.9,85.2 326.1,86.6 326.2,88.0 326.4,89.3 326.6,90.7 326.8,92.0 327.0,93.3 327.2,94.6 327.3,95.9 327.5,97.1 327.7,98.3 327.9,99.4 328.1,100.5 328.2,101.5 328.4,102.5 328.6,103.4 328.8,104.3 329.0,105.0 329.1,105.7 329.3,106.3 329.5,106.9 329.7,107.4 329.9,107.7 330.0,108.0 330.2,108.2 330.4,108.4 330.6,108.4 330.8,108.4 331.0,108.2 331.1,108.0 331.3,107.7 331.5,107.3 331.7,106.9 331.9,106.3 332.0,105.7 332.2,105.0 332.4,104.2 332.6,103.4 332.8,102.5 332.9,101.5 333.1,100.5 333.3,99.4 333.5,98.2 333.7,97.1 333.8,95.8 334.0,94.6 334.2,93.3 334.4,92.0 334.6,90.6 334.8,89.3 334.9,87.9 335.1,86.5 335.3,85.2 335.5,83.8 335.7,82.4 335.8,81.1 336.0,79.8 336.2,78.5 336.4,77.2 336.6,76.0 336.7,74.8 336.9,73.7 337.1,72.6 337.3,71.6 337.5,70.6 337.6,69.7 337.8,68.9 338.0,68.1 338.2,67.4 338.4,66.8 338.6,66.3 338.7,65.8 338.9,65.5 339.1,65.2 339.3,64.9 339.5,64.8 339.6,64.8 339.8,64.8 340.0,65.0 340.2,65.2 340.4,65.5 340.5,65.9 340.7,66.4 340.9,66.9 341.1,67.5 341.3,68.2 341.5,69.0 341.6,69.9 341.8,70.8 342.0,71.8 342.2,72.8 342.4,73.9 342.5,75.0 342.7,76.2 342.9,77.4 343.1,78.7 343.3,80.0 343.4,81.3 343.6,82.6 343.8,84.0 344.0,85.4 344.2,86.7 344.3,88.1 344.5,89.5 344.7,90.8 344.9,92.2 345.1,93.5 345.3,94.8 345.4,96.0 345.6,97.2 345.8,98.4 346.0,99.5 346.2,100.6 346.3,101.6 346.5,102.6 346.7,103.5 346.9,104.3 347.1,105.1 347.2,105.8 347.4,106.4 347.6,106.9 347.8,107.4 348.0,107.8 348.1,108.1 348.3,108.3 348.5,108.4 348.7,108.4 348.9,108.4 349.1,108.2 349.2,108.0 349.4,107.7 349.6,107.3 349.8,106.8 350.0,106.3 350.1,105.6 350.3,104.9 350.5,104.1 350.7,103.3 350.9,102.4 351.0,101.4 351.2,100.4 351.4,99.3 351.6,98.1 351.8,96.9 351.9,95.7 352.1,94.4 352.3,93.2 352.5,91.8 352.7,90.5 352.9,89.1 353.0,87.8 353.2,86.4 353.4,85.0 353.6,83.7 353.8,82.3 353.9,81.0 354.1,79.7 354.3,78.4 354.5,77.1 354.7,75.9 354.8,74.7 355.0,73.6 355.2,72.5 355.4,71.5 355.6,70.5 355.7,69.7 355.9,68.8 356.1,68.1 356.3,67.4 356.5,66.8 356.7,66.2 356.8,65.8 357.0,65.4 357.2,65.1 357.4,64.9 357.6,64.8 357.7,64.8 357.9,64.8 358.1,65.0 358.3,65.2 358.5,65.5 358.6,65.9 358.8,66.4 359.0,67.0 359.2,67.6 359.4,68.3 359.5,69.1 359.7,70.0 359.9,70.9 360.1,71.9 360.3,72.9 360.5,74.0 360.6,75.1 360.8,76.3 361.0,77.6 361.2,78.8 361.4,80.1 361.5,81.4 361.7,82.8 361.9,84.1 362.1,85.5 362.3,86.9 362.4,88.2 362.6,89.6 362.8,91.0 363.0,92.3 363.2,93.6 363.3,94.9 363.5,96.1 363.7,97.4 363.9,98.5 364.1,99.7 364.3,100.7 364.4,101.7 364.6,102.7 364.8,103.6 365.0,104.4 365.2,105.2 365.3,105.9 365.5,106.5 365.7,107.0 365.9,107.4 366.1,107.8 366.2,108.1 366.4,108.3 366.6,108.4 366.8,108.4 367.0,108.3 367.1,108.2 367.3,108.0 367.5,107.6 367.7,107.2 367.9,106.8 368.1,106.2 368.2,105.6 368.4,104.8 368.6,104.1 368.8,103.2 369.0,102.3 369.1,101.3 369.3,100.2 369.5,99.2 369.7,98.0 369.9,96.8 370.0,95.6 370.2,94.3 370.4,93.0 370.6,91.7 370.8,90.4 370.9,89.0 371.1,87.6 371.3,86.3 371.5,84.9 371.7,83.5 371.9,82.2 372.0,80.8 372.2,79.5 372.4,78.2 372.6,77.0 372.8,75.8 372.9,74.6 373.1,73.5 373.3,72.4 373.5,71.4 373.7,70.5 373.8,69.6 374.0,68.7 374.2,68.0 374.4,67.3 374.6,66.7 374.8,66.2 374.9,65.7 375.1,65.4 375.3,65.1 375.5,64.9 375.7,64.8 375.8,64.8 376.0,64.9 376.2,65.0 376.4,65.3 376.6,65.6 376.7,66.0 376.9,66.5 377.1,67.0 377.3,67.7 377.5,68.4 377.6,69.2 377.8,70.0 378.0,71.0 378.2,72.0 378.4,73.0 378.6,74.1 378.7,75.3 378.9,76.4 379.1,77.7 379.3,78.9 379.5,80.2 379.6,81.6 379.8,82.9 380.0,84.3 380.2,85.6 380.4,87.0 380.5,88.4 380.7,89.7 380.9,91.1 381.1,92.4 381.3,93.7 381.4,95.0 381.6,96.3 381.8,97.5 382.0,98.6 382.2,99.8 382.4,100.8 382.5,101.8 382.7,102.8 382.9,103.7 383.1,104.5 383.3,105.2 383.4,105.9 383.6,106.5 383.8,107.0 384.0,107.5 384.2,107.8 384.3,108.1 384.5,108.3 384.7,108.4 384.9,108.4 385.1,108.3 385.2,108.2 385.4,107.9 385.6,107.6 385.8,107.2 386.0,106.7 386.2,106.1 386.3,105.5 386.5,104.8 386.7,104.0 386.9,103.1 387.1,102.2 387.2,101.2 387.4,100.1 387.6,99.0 387.8,97.9 388.0,96.7 388.1,95.5 388.3,94.2 388.5,92.9 388.7,91.6 388.9,90.2 389.0,88.9 389.2,87.5 389.4,86.1 389.6,84.8 389.8,83.4 390.0,82.0 390.1,80.7 390.3,79.4 390.5,78.1 390.7,76.9 390.9,75.7 391.0,74.5 391.2,73.4 391.4,72.3 391.6,71.3 391.8,70.4 391.9,69.5 392.1,68.7 392.3,67.9 392.5,67.3 392.7,66.7 392.8,66.1 393.0,65.7 393.2,65.4 393.4,65.1 393.6,64.9 393.8,64.8 393.9,64.8 394.1,64.9 394.3,65.0 394.5,65.3 394.7,65.6 394.8,66.0 395.0,66.5 395.2,67.1 395.4,67.7 395.6,68.5 395.7,69.3 395.9,70.1 396.1,71.1 396.3,72.1 396.5,73.1 396.6,74.2 396.8,75.4 397.0,76.6 397.2,77.8 397.4,79.1 397.6,80.4 397.7,81.7 397.9,83.0 398.1,84.4 398.3,85.8 398.5,87.1 398.6,88.5 398.8,89.9 399.0,91.2 399.2,92.6 399.4,93.9 399.5,95.1 399.7,96.4 399.9,97.6 400.1,98.8 400.3,99.9 400.4,100.9 400.6,101.9 400.8,102.9 401.0,103.8 401.2,104.6 401.4,105.3 401.5,87.1 401.7,87.0 401.9,86.5 402.1,86.9 402.3,86.4 402.4,87.5 402.6,87.2 402.8,86.8 403.0,86.1 403.2,86.0 403.3,86.3 403.5,87.3 403.7,86.0 403.9,86.7 404.1,87.7 404.3,87.8 404.4,85.6 404.6,86.4 404.8,86.3 405.0,86.5 405.2,87.7 405.3,87.0 405.5,86.2 405.7,84.3 405.9,87.6 406.1,85.7 406.2,85.0 406.4,83.2 406.6,86.4 406.8,85.7 407.0,90.0 407.1,90.0 407.3,88.8 407.5,87.1 407.7,84.7 407.9,85.5 408.1,87.8 408.2,88.4 408.4,85.7 408.6,87.5 408.8,86.5 409.0,87.2 409.1,85.3 409.3,89.2 409.5,88.3 409.7,87.9 409.9,86.1 410.0,88.8 410.2,83.7 410.4,88.0 410.6,85.8 410.8,86.6 410.9,85.9 411.1,87.4 411.3,87.7 411.5,86.9 411.7,86.7 411.9,86.2 412.0,86.3 412.2,86.3 412.4,84.7 412.6,86.8 412.8,86.3 412.9,86.1 413.1,85.7 413.3,87.6 413.5,86.4 413.7,86.0 413.8,85.3 414.0,85.7 414.2,87.7 414.4,86.1 414.6,85.8 414.7,85.7 414.9,87.7 415.1,85.9 415.3,86.4 415.5,87.8 415.7,87.6 415.8,85.4 416.0,87.0 416.2,86.4 416.4,84.9 416.6,85.8 416.7,85.8 416.9,87.4 417.1,86.6 417.3,86.6 417.5,86.2 417.6,87.3 417.8,87.2 418.0,86.6 418.2,86.9 418.4,86.5 418.5,86.4 418.7,86.3 418.9,86.3 419.1,87.3 419.3,86.5 419.5,86.7 419.6,86.2 419.8,86.8 420.0,86.7 420.2,86.2 420.4,85.6 420.5,86.8 420.7,86.4 420.9,86.4 421.1,85.6 421.3,86.7 421.4,86.8 421.6,87.3 421.8,87.3 422.0,86.1 422.2,86.4 422.3,86.7 422.5,86.6 422.7,86.8 422.9,86.9 423.1,87.6 423.3,86.5 423.4,86.5 423.6,87.2 423.8,86.0 424.0,86.4 424.2,86.2 424.3,87.8 424.5,86.7 424.7,86.7 424.9,87.2 425.1,86.8 425.2,86.1 425.4,86.6 425.6,86.8 425.8,86.8 426.0,86.6 426.1,87.3 426.3,86.6 426.5,86.9 426.7,86.4 426.9,86.4 427.1,86.2 427.2,86.3 427.4,86.5 427.6,86.3 427.8,86.7 428.0,87.1 428.1,87.4 428.3,87.3 428.5,87.2 428.7,86.4 428.9,86.8 429.0,86.5 429.2,86.5 429.4,86.5 429.6,86.8 429.8,86.5 429.9,87.1 430.1,85.9 430.3,87.4 430.5,87.2 430.7,86.5 430.9,86.3 431.0,86.8 431.2,87.2 431.4,86.8 431.6,86.1 431.8,86.4 431.9,86.9 432.1,86.7 432.3,87.2 432.5,86.2 432.7,86.1 432.8,86.4 433.0,86.6 433.2,87.0 433.4,85.7 433.6,86.8 433.8,86.9 433.9,86.4 434.1,86.7 434.3,86.3 434.5,86.8 434.7,86.2 434.8,85.9 435.0,86.4 435.2,86.5 435.4,86.8 435.6,86.7 435.7,86.7 435.9,87.1 436.1,86.3 436.3,86.6 436.5,87.3 436.6,86.7 436.8,86.8 437.0,86.2 437.2,86.5 437.4,87.0 437.6,87.0 437.7,86.6 437.9,86.7 438.1,86.8 438.3,86.7 438.5,86.8 438.6,87.3 438.8,86.5 439.0,87.0 439.2,86.0 439.4,87.1 439.5,87.2 439.7,85.9 439.9,86.5 440.1,86.3 440.3,86.4 440.4,86.5 440.6,86.9 440.8,86.7 441.0,86.5 441.2,87.1 441.4,86.3 441.5,86.3 441.7,86.6 441.9,86.3 442.1,87.0 442.3,86.2 442.4,86.5 442.6,86.8 442.8,86.8 443.0,86.9 443.2,86.9 443.3,86.4 443.5,86.0 443.7,87.1 443.9,86.9 444.1,86.5 444.2,86.6 444.4,86.6 444.6,86.2 444.8,86.4 445.0,87.3 445.2,86.6 445.3,86.0 445.5,86.9 445.7,86.4 445.9,86.8 446.1,86.6 446.2,86.5 446.4,87.0 446.6,86.4" fill="none" stroke="#D95319" stroke-width="0.85" stroke-linejoin="round" />
<polyline points="265.8,87.8 266.0,87.1 266.2,85.8 266.3,86.2 266.5,86.9 266.7,87.0 266.9,86.9 267.1,87.2 267.2,87.1 267.4,87.2 267.6,86.2 267.8,86.2 268.0,86.4 268.2,87.0 268.3,86.6 268.5,87.4 268.7,85.8 268.9,86.6 269.1,86.9 269.2,86.8 269.4,86.2 269.6,86.9 269.8,86.8 270.0,87.4 270.1,86.7 270.3,86.7 270.5,86.4 270.7,87.1 270.9,86.5 271.0,87.1 271.2,85.6 271.4,86.7 271.6,87.1 271.8,87.6 272.0,87.1 272.1,86.9 272.3,86.9 272.5,86.1 272.7,86.4 272.9,86.7 273.0,86.4 273.2,86.2 273.4,85.9 273.6,86.0 273.8,85.6 273.9,87.2 274.1,86.2 274.3,85.6 274.5,86.4 274.7,86.9 274.8,87.2 275.0,87.2 275.2,86.9 275.4,85.4 275.6,87.0 275.8,87.7 275.9,86.0 276.1,87.6 276.3,86.8 276.5,86.4 276.7,86.6 276.8,85.8 277.0,88.8 277.2,86.8 277.4,86.9 277.6,86.3 277.7,86.7 277.9,86.8 278.1,85.7 278.3,86.5 278.5,86.5 278.6,86.8 278.8,86.3 279.0,87.3 279.2,85.2 279.4,86.9 279.6,85.5 279.7,86.5 279.9,86.8 280.1,86.8 280.3,87.3 280.5,87.4 280.6,87.7 280.8,86.3 281.0,86.6 281.2,87.4 281.4,85.6 281.5,86.6 281.7,86.6 281.9,85.5 282.1,87.0 282.3,86.7 282.5,87.4 282.6,87.2 282.8,86.3 283.0,86.8 283.2,87.4 283.4,88.0 283.5,87.4 283.7,86.4 283.9,87.7 284.1,86.7 284.3,87.1 284.4,86.3 284.6,86.5 284.8,86.8 285.0,86.9 285.2,87.3 285.3,86.5 285.5,87.0 285.7,86.6 285.9,86.7 286.1,86.8 286.3,87.2 286.4,86.3 286.6,86.3 286.8,86.8 287.0,87.8 287.2,87.2 287.3,86.4 287.5,86.4 287.7,86.8 287.9,87.5 288.1,86.4 288.2,86.8 288.4,85.6 288.6,87.6 288.8,86.5 289.0,87.2 289.1,87.1 289.3,87.8 289.5,86.9 289.7,86.0 289.9,85.7 290.1,86.4 290.2,86.1 290.4,85.6 290.6,87.3 290.8,86.7 291.0,86.8 291.1,86.4 291.3,87.3 291.5,86.7 291.7,86.6 291.9,86.6 292.0,87.5 292.2,86.7 292.4,86.4 292.6,86.7 292.8,87.2 292.9,86.8 293.1,86.4 293.3,86.4 293.5,86.6 293.7,87.4 293.9,87.0 294.0,86.7 294.2,86.5 294.4,88.2 294.6,86.1 294.8,86.4 294.9,87.0 295.1,85.5 295.3,87.1 295.5,87.6 295.7,87.0 295.8,86.4 296.0,88.4 296.2,87.0 296.4,87.0 296.6,86.4 296.7,87.3 296.9,86.4 297.1,86.9 297.3,88.0 297.5,86.8 297.7,87.0 297.8,86.0 298.0,86.1 298.2,87.0 298.4,87.1 298.6,86.3 298.7,87.2 298.9,86.5 299.1,86.9 299.3,86.9 299.5,86.1 299.6,86.6 299.8,86.3 300.0,85.3 300.2,85.5 300.4,86.0 300.5,85.7 300.7,87.3 300.9,86.1 301.1,87.1 301.3,87.0 301.5,87.1 301.6,87.3 301.8,86.8 302.0,87.4 302.2,87.7 302.4,86.6 302.5,86.1 302.7,85.2 302.9,86.5 303.1,86.2 303.3,86.9 303.4,86.9 303.6,86.8 303.8,86.3 304.0,87.0 304.2,85.9 304.3,86.4 304.5,86.9 304.7,86.8 304.9,86.5 305.1,86.0 305.3,86.7 305.4,88.1 305.6,86.0 305.8,87.2 306.0,86.9 306.2,86.9 306.3,86.6 306.5,87.6 306.7,85.8 306.9,86.7 307.1,86.4 307.2,85.8 307.4,86.4 307.6,85.9 307.8,86.3 308.0,85.6 308.1,86.4 308.3,85.7 308.5,86.0 308.7,85.2 308.9,86.4 309.1,87.6 309.2,87.2 309.4,86.0 309.6,87.3 309.8,86.5 310.0,86.4 310.1,86.5 310.3,86.3 310.5,86.3 310.7,86.3 310.9,86.5 311.0,85.8 311.2,83.2 311.4,81.2 311.6,79.8 311.8,78.8 312.0,78.2 312.1,78.0 312.3,78.1 312.5,78.4 312.7,78.9 312.9,79.6 313.0,80.4 313.2,81.4 313.4,82.5 313.6,83.6 313.8,84.8 313.9,86.1 314.1,87.4 314.3,88.7 314.5,90.0 314.7,91.3 314.8,92.6 315.0,93.9 315.2,95.2 315.4,96.5 315.6,97.7 315.8,98.8 315.9,99.9 316.1,101.0 316.3,102.0 316.5,103.0 316.7,103.8 316.8,104.6 317.0,105.4 317.2,106.0 317.4,106.6 317.6,107.1 317.7,107.5 317.9,107.9 318.1,108.1 318.3,108.3 318.5,108.4 318.6,108.4 318.8,108.3 319.0,108.1 319.2,107.8 319.4,107.5 319.6,107.1 319.7,106.5 319.9,105.9 320.1,105.3 320.3,104.5 320.5,103.7 320.6,102.8 320.8,101.9 321.0,100.9 321.2,99.8 321.4,98.7 321.5,97.5 321.7,96.3 321.9,95.1 322.1,93.8 322.3,92.5 322.4,91.2 322.6,89.8 322.8,88.4 323.0,87.1 323.2,85.7 323.4,84.3 323.5,83.0 323.7,81.6 323.9,80.3 324.1,79.0 324.3,77.7 324.4,76.5 324.6,75.3 324.8,74.2 325.0,73.1 325.2,72.0 325.3,71.0 325.5,70.1 325.7,69.2 325.9,68.4 326.1,67.7 326.2,67.1 326.4,66.5 326.6,66.0 326.8,65.6 327.0,65.3 327.2,65.0 327.3,64.9 327.5,64.8 327.7,64.8 327.9,64.9 328.1,65.1 328.2,65.4 328.4,65.7 328.6,66.2 328.8,66.7 329.0,67.3 329.1,68.0 329.3,68.7 329.5,69.5 329.7,70.4 329.9,71.4 330.0,72.4 330.2,73.4 330.4,74.6 330.6,75.7 330.8,76.9 331.0,78.2 331.1,79.5 331.3,80.8 331.5,82.1 331.7,83.5 331.9,84.8 332.0,86.2 332.2,87.6 332.4,88.9 332.6,90.3 332.8,91.6 332.9,93.0 333.1,94.3 333.3,95.5 333.5,96.8 333.7,97.9 333.8,99.1 334.0,100.2 334.2,101.2 334.4,102.2 334.6,103.2 334.8,104.0 334.9,104.8 335.1,105.5 335.3,106.2 335.5,106.7 335.7,107.2 335.8,107.6 336.0,107.9 336.2,108.2 336.4,108.3 336.6,108.4 336.7,108.4 336.9,108.3 337.1,108.1 337.3,107.8 337.5,107.5 337.6,107.0 337.8,106.5 338.0,105.9 338.2,105.2 338.4,104.5 338.6,103.6 338.7,102.7 338.9,101.8 339.1,100.8 339.3,99.7 339.5,98.6 339.6,97.4 339.8,96.2 340.0,95.0 340.2,93.7 340.4,92.4 340.5,91.0 340.7,89.7 340.9,88.3 341.1,86.9 341.3,85.6 341.5,84.2 341.6,82.8 341.8,81.5 342.0,80.2 342.2,78.9 342.4,77.6 342.5,76.4 342.7,75.2 342.9,74.0 343.1,73.0 343.3,71.9 343.4,70.9 343.6,70.0 343.8,69.1 344.0,68.4 344.2,67.6 344.3,67.0 344.5,66.4 344.7,66.0 344.9,65.6 345.1,65.2 345.3,65.0 345.4,64.9 345.6,64.8 345.8,64.8 346.0,64.9 346.2,65.1 346.3,65.4 346.5,65.8 346.7,66.2 346.9,66.7 347.1,67.3 347.2,68.0 347.4,68.8 347.6,69.6 347.8,70.5 348.0,71.5 348.1,72.5 348.3,73.5 348.5,74.7 348.7,75.8 348.9,77.1 349.1,78.3 349.2,79.6 349.4,80.9 349.6,82.2 349.8,83.6 350.0,85.0 350.1,86.3 350.3,87.7 350.5,89.1 350.7,90.4 350.9,91.8 351.0,93.1 351.2,94.4 351.4,95.6 351.6,96.9 351.8,98.1 351.9,99.2 352.1,100.3 352.3,101.3 352.5,102.3 352.7,103.2 352.9,104.1 353.0,104.9 353.2,105.6 353.4,106.2 353.6,106.8 353.8,107.3 353.9,107.7 354.1,108.0 354.3,108.2 354.5,108.4 354.7,108.4 354.8,108.4 355.0,108.3 355.2,108.1 355.4,107.8 355.6,107.4 355.7,107.0 355.9,106.4 356.1,105.8 356.3,105.1 356.5,104.4 356.7,103.5 356.8,102.7 357.0,101.7 357.2,100.7 357.4,99.6 357.6,98.5 357.7,97.3 357.9,96.1 358.1,94.8 358.3,93.5 358.5,92.2 358.6,90.9 358.8,89.5 359.0,88.2 359.2,86.8 359.4,85.4 359.5,84.1 359.7,82.7 359.9,81.4 360.1,80.0 360.3,78.8 360.5,77.5 360.6,76.3 360.8,75.1 361.0,73.9 361.2,72.8 361.4,71.8 361.5,70.8 361.7,69.9 361.9,69.1 362.1,68.3 362.3,67.6 362.4,66.9 362.6,66.4 362.8,65.9 363.0,65.5 363.2,65.2 363.3,65.0 363.5,64.8 363.7,64.8 363.9,64.8 364.1,64.9 364.3,65.1 364.4,65.4 364.6,65.8 364.8,66.3 365.0,66.8 365.2,67.4 365.3,68.1 365.5,68.9 365.7,69.7 365.9,70.6 366.1,71.6 366.2,72.6 366.4,73.7 366.6,74.8 366.8,76.0 367.0,77.2 367.1,78.4 367.3,79.7 367.5,81.0 367.7,82.4 367.9,83.7 368.1,85.1 368.2,86.5 368.4,87.8 368.6,89.2 368.8,90.6 369.0,91.9 369.1,93.2 369.3,94.5 369.5,95.8 369.7,97.0 369.9,98.2 370.0,99.3 370.2,100.4 370.4,101.4 370.6,102.4 370.8,103.3 370.9,104.2 371.1,105.0 371.3,105.7 371.5,106.3 371.7,106.8 371.9,107.3 372.0,107.7 372.2,108.0 372.4,108.2 372.6,108.4 372.8,108.4 372.9,108.4 373.1,108.3 373.3,108.0 373.5,107.7 373.7,107.4 373.8,106.9 374.0,106.4 374.2,105.8 374.4,105.1 374.6,104.3 374.8,103.5 374.9,102.6 375.1,101.6 375.3,100.6 375.5,99.5 375.7,98.4 375.8,97.2 376.0,96.0 376.2,94.7 376.4,93.4 376.6,92.1 376.7,90.8 376.9,89.4 377.1,88.0 377.3,86.7 377.5,85.3 377.6,83.9 377.8,82.6 378.0,81.2 378.2,79.9 378.4,78.6 378.6,77.4 378.7,76.1 378.9,75.0 379.1,73.8 379.3,72.7 379.5,71.7 379.6,70.7 379.8,69.8 380.0,69.0 380.2,68.2 380.4,67.5 380.5,66.9 380.7,66.3 380.9,65.9 381.1,65.5 381.3,65.2 381.4,65.0 381.6,64.8 381.8,64.8 382.0,64.8 382.2,65.0 382.4,65.2 382.5,65.5 382.7,65.8 382.9,66.3 383.1,66.9 383.3,67.5 383.4,68.2 383.6,68.9 383.8,69.8 384.0,70.7 384.2,71.7 384.3,72.7 384.5,73.8 384.7,74.9 384.9,76.1 385.1,77.3 385.2,78.6 385.4,79.9 385.6,81.2 385.8,82.5 386.0,83.9 386.2,85.2 386.3,86.6 386.5,88.0 386.7,89.3 386.9,90.7 387.1,92.0 387.2,93.3 387.4,94.6 387.6,95.9 387.8,97.1 388.0,98.3 388.1,99.4 388.3,100.5 388.5,101.5 388.7,102.5 388.9,103.4 389.0,104.3 389.2,105.0 389.4,105.7 389.6,106.3 389.8,106.9 390.0,107.4 390.1,107.7 390.3,108.0 390.5,108.2 390.7,108.4 390.9,108.4 391.0,108.4 391.2,108.2 391.4,108.0 391.6,107.7 391.8,107.3 391.9,106.9 392.1,106.3 392.3,105.7 392.5,105.0 392.7,104.2 392.8,103.4 393.0,102.5 393.2,101.5 393.4,100.5 393.6,99.4 393.8,98.2 393.9,97.1 394.1,95.8 394.3,94.6 394.5,93.3 394.7,92.0 394.8,90.6 395.0,89.3 395.2,87.9 395.4,86.5 395.6,85.2 395.7,83.8 395.9,82.4 396.1,81.1 396.3,79.8 396.5,78.5 396.6,77.2 396.8,76.0 397.0,74.8 397.2,73.7 397.4,72.6 397.6,71.6 397.7,70.6 397.9,69.7 398.1,68.9 398.3,68.1 398.5,67.4 398.6,66.8 398.8,66.3 399.0,65.8 399.2,65.5 399.4,65.2 399.5,64.9 399.7,64.8 399.9,64.8 400.1,64.8 400.3,65.0 400.4,65.2 400.6,65.5 400.8,65.9 401.0,66.4 401.2,66.9 401.4,67.5 401.5,86.9 401.7,86.9 401.9,87.1 402.1,86.4 402.3,86.1 402.4,86.2 402.6,86.8 402.8,85.6 403.0,87.8 403.2,85.5 403.3,86.8 403.5,87.5 403.7,86.8 403.9,86.9 404.1,87.2 404.3,85.6 404.4,87.2 404.6,87.0 404.8,85.5 405.0,87.3 405.2,85.8 405.3,84.4 405.5,87.6 405.7,90.8 405.9,86.0 406.1,84.9 406.2,85.8 406.4,84.9 406.6,86.2 406.8,85.9 407.0,85.1 407.1,84.1 407.3,88.2 407.5,84.5 407.7,85.9 407.9,86.9 408.1,85.6 408.2,87.6 408.4,87.5 408.6,87.4 408.8,86.7 409.0,86.0 409.1,86.8 409.3,84.4 409.5,88.4 409.7,87.6 409.9,84.9 410.0,87.4 410.2,86.6 410.4,84.5 410.6,86.8 410.8,86.2 410.9,86.3 411.1,86.9 411.3,89.1 411.5,86.1 411.7,86.4 411.9,87.3 412.0,86.1 412.2,85.3 412.4,87.2 412.6,88.3 412.8,85.8 412.9,87.6 413.1,87.0 413.3,86.5 413.5,87.9 413.7,87.3 413.8,86.6 414.0,86.2 414.2,86.8 414.4,86.7 414.6,86.3 414.7,86.3 414.9,87.3 415.1,86.0 415.3,87.0 415.5,86.5 415.7,85.5 415.8,86.2 416.0,87.5 416.2,86.6 416.4,87.6 416.6,86.7 416.7,87.3 416.9,86.1 417.1,86.7 417.3,86.4 417.5,86.2 417.6,86.9 417.8,85.8 418.0,86.2 418.2,86.0 418.4,87.0 418.5,86.9 418.7,86.2 418.9,85.8 419.1,86.4 419.3,86.2 419.5,87.1 419.6,87.2 419.8,86.7 420.0,86.9 420.2,86.8 420.4,86.9 420.5,86.5 420.7,86.6 420.9,86.3 421.1,87.4 421.3,87.1 421.4,86.5 421.6,87.1 421.8,86.5 422.0,86.4 422.2,86.5 422.3,87.1 422.5,86.4 422.7,86.8 422.9,87.0 423.1,86.6 423.3,86.4 423.4,86.7 423.6,86.8 423.8,87.0 424.0,86.2 424.2,86.0 424.3,86.4 424.5,86.7 424.7,86.0 424.9,86.6 425.1,85.7 425.2,87.3 425.4,87.1 425.6,86.6 425.8,86.7 426.0,86.1 426.1,87.0 426.3,86.3 426.5,86.4 426.7,86.8 426.9,86.7 427.1,86.9 427.2,87.0 427.4,87.0 427.6,86.3 427.8,87.1 428.0,86.4 428.1,86.9 428.3,86.1 428.5,87.2 428.7,86.7 428.9,86.7 429.0,86.5 429.2,86.5 429.4,86.1 429.6,86.3 429.8,87.0 429.9,86.8 430.1,86.4 430.3,87.2 430.5,86.4 430.7,87.0 430.9,86.9 431.0,86.5 431.2,86.6 431.4,86.2 431.6,85.9 431.8,86.0 431.9,87.2 432.1,86.9 432.3,86.3 432.5,86.8 432.7,86.6 432.8,87.2 433.0,87.0 433.2,86.8 433.4,86.0 433.6,87.3 433.8,86.3 433.9,86.4 434.1,86.7 434.3,86.9 434.5,86.8 434.7,87.0 434.8,86.5 435.0,86.4 435.2,86.8 435.4,86.3 435.6,86.6 435.7,86.0 435.9,86.5 436.1,85.9 436.3,87.2 436.5,85.8 436.6,86.1 436.8,86.7 437.0,86.5 437.2,85.9 437.4,86.8 437.6,87.1 437.7,86.5 437.9,87.1 438.1,86.3 438.3,86.7 438.5,86.4 438.6,86.4 438.8,86.5 439.0,86.7 439.2,87.4 439.4,86.8 439.5,87.1 439.7,86.6 439.9,87.1 440.1,86.8 440.3,86.6 440.4,87.1 440.6,86.6 440.8,86.4 441.0,86.7 441.2,87.0 441.4,86.1 441.5,86.6 441.7,86.1 441.9,86.6 442.1,86.9 442.3,87.2 442.4,87.1 442.6,86.4 442.8,86.3 443.0,87.0 443.2,86.4 443.3,87.0 443.5,86.5 443.7,86.3 443.9,86.4 444.1,87.3 444.2,86.3 444.4,87.1 444.6,86.7 444.8,86.5 445.0,86.7 445.2,86.8 445.3,86.7 445.5,86.3 445.7,86.2 445.9,86.7 446.1,86.0 446.2,85.8 446.4,86.0 446.6,87.0" fill="none" stroke="#EDB120" stroke-width="0.85" stroke-linejoin="round" />
<polyline points="265.8,87.3 266.0,86.4 266.2,86.6 266.3,86.3 266.5,87.4 266.7,86.0 266.9,86.5 267.1,87.3 267.2,87.4 267.4,87.4 267.6,87.0 267.8,85.9 268.0,86.1 268.2,86.9 268.3,86.9 268.5,85.5 268.7,86.1 268.9,87.1 269.1,86.7 269.2,86.9 269.4,86.5 269.6,86.1 269.8,86.8 270.0,86.4 270.1,86.3 270.3,86.1 270.5,87.0 270.7,86.7 270.9,85.5 271.0,86.7 271.2,86.6 271.4,86.3 271.6,86.9 271.8,86.8 272.0,85.6 272.1,85.8 272.3,87.2 272.5,86.6 272.7,87.3 272.9,87.5 273.0,86.6 273.2,85.7 273.4,86.6 273.6,85.7 273.8,87.2 273.9,86.5 274.1,86.6 274.3,86.5 274.5,86.0 274.7,86.3 274.8,86.9 275.0,87.4 275.2,86.9 275.4,86.6 275.6,86.9 275.8,87.5 275.9,87.6 276.1,86.1 276.3,86.5 276.5,86.9 276.7,86.3 276.8,86.3 277.0,86.7 277.2,86.8 277.4,85.9 277.6,86.1 277.7,85.8 277.9,86.0 278.1,86.4 278.3,86.9 278.5,86.8 278.6,86.9 278.8,86.6 279.0,86.5 279.2,85.9 279.4,85.8 279.6,86.6 279.7,86.4 279.9,87.3 280.1,87.0 280.3,87.2 280.5,86.5 280.6,86.9 280.8,87.1 281.0,86.6 281.2,87.7 281.4,86.7 281.5,86.3 281.7,85.9 281.9,87.3 282.1,86.9 282.3,87.8 282.5,85.8 282.6,86.7 282.8,86.5 283.0,87.5 283.2,86.8 283.4,87.0 283.5,87.3 283.7,87.3 283.9,87.2 284.1,87.1 284.3,87.6 284.4,85.9 284.6,86.6 284.8,86.6 285.0,86.6 285.2,86.8 285.3,86.7 285.5,86.4 285.7,86.8 285.9,85.9 286.1,86.8 286.3,86.0 286.4,87.2 286.6,86.5 286.8,86.3 287.0,85.9 287.2,85.9 287.3,87.2 287.5,87.0 287.7,85.8 287.9,86.9 288.1,87.5 288.2,86.0 288.4,86.3 288.6,87.4 288.8,87.0 289.0,85.9 289.1,86.9 289.3,87.0 289.5,86.9 289.7,85.9 289.9,87.6 290.1,86.5 290.2,86.6 290.4,86.4 290.6,86.3 290.8,86.7 291.0,86.4 291.1,86.5 291.3,85.9 291.5,88.0 291.7,86.8 291.9,86.6 292.0,87.4 292.2,85.9 292.4,86.4 292.6,87.6 292.8,86.8 292.9,86.3 293.1,86.6 293.3,87.1 293.5,86.3 293.7,86.5 293.9,87.1 294.0,86.8 294.2,85.9 294.4,85.9 294.6,87.2 294.8,87.0 294.9,85.8 295.1,86.3 295.3,86.6 295.5,86.8 295.7,86.5 295.8,86.1 296.0,87.9 296.2,86.1 296.4,87.1 296.6,87.3 296.7,87.0 296.9,87.2 297.1,87.2 297.3,86.6 297.5,86.8 297.7,86.0 297.8,87.5 298.0,86.2 298.2,87.3 298.4,86.5 298.6,86.8 298.7,86.1 298.9,87.3 299.1,86.6 299.3,85.7 299.5,85.9 299.6,86.7 299.8,86.2 300.0,86.0 300.2,86.3 300.4,85.9 300.5,86.0 300.7,87.9 300.9,86.2 301.1,84.5 301.3,86.8 301.5,86.7 301.6,86.5 301.8,87.0 302.0,86.8 302.2,86.6 302.4,85.4 302.5,86.7 302.7,86.2 302.9,86.7 303.1,87.1 303.3,86.9 303.4,87.2 303.6,85.8 303.8,86.7 304.0,87.4 304.2,86.6 304.3,85.4 304.5,86.4 304.7,86.6 304.9,86.4 305.1,86.8 305.3,87.2 305.4,85.8 305.6,88.5 305.8,86.9 306.0,87.1 306.2,86.7 306.3,87.0 306.5,85.9 306.7,85.7 306.9,86.5 307.1,87.3 307.2,87.0 307.4,86.8 307.6,87.1 307.8,87.3 308.0,85.6 308.1,86.0 308.3,87.1 308.5,87.1 308.7,86.6 308.9,87.0 309.1,86.3 309.2,86.1 309.4,86.6 309.6,87.1 309.8,86.8 310.0,87.5 310.1,86.8 310.3,85.5 310.5,86.9 310.7,86.2 310.9,85.9 311.0,86.6 311.2,86.3 311.4,85.6 311.6,84.7 311.8,83.7 312.0,82.5 312.1,81.2 312.3,79.9 312.5,78.5 312.7,77.2 312.9,75.9 313.0,74.6 313.2,73.4 313.4,72.2 313.6,71.1 313.8,70.1 313.9,69.2 314.1,68.4 314.3,67.7 314.5,67.0 314.7,66.5 314.8,66.0 315.0,65.6 315.2,65.4 315.4,65.2 315.6,65.1 315.8,65.1 315.9,65.2 316.1,65.4 316.3,65.7 316.5,66.1 316.7,66.6 316.8,67.1 317.0,67.8 317.2,68.5 317.4,69.2 317.6,70.1 317.7,71.0 317.9,72.0 318.1,73.0 318.3,74.1 318.5,75.3 318.6,76.5 318.8,77.7 319.0,79.0 319.2,80.2 319.4,81.6 319.6,82.9 319.7,84.3 319.9,85.6 320.1,87.0 320.3,88.4 320.5,89.7 320.6,91.1 320.8,92.4 321.0,93.7 321.2,95.0 321.4,96.3 321.5,97.5 321.7,98.6 321.9,99.8 322.1,100.8 322.3,101.8 322.4,102.8 322.6,103.7 322.8,104.5 323.0,105.2 323.2,105.9 323.4,106.5 323.5,107.0 323.7,107.5 323.9,107.8 324.1,108.1 324.3,108.3 324.4,108.4 324.6,108.4 324.8,108.3 325.0,108.2 325.2,107.9 325.3,107.6 325.5,107.2 325.7,106.7 325.9,106.1 326.1,105.5 326.2,104.8 326.4,104.0 326.6,103.1 326.8,102.2 327.0,101.2 327.2,100.1 327.3,99.0 327.5,97.9 327.7,96.7 327.9,95.5 328.1,94.2 328.2,92.9 328.4,91.6 328.6,90.2 328.8,88.9 329.0,87.5 329.1,86.1 329.3,84.8 329.5,83.4 329.7,82.0 329.9,80.7 330.0,79.4 330.2,78.1 330.4,76.9 330.6,75.7 330.8,74.5 331.0,73.4 331.1,72.3 331.3,71.3 331.5,70.4 331.7,69.5 331.9,68.7 332.0,67.9 332.2,67.3 332.4,66.7 332.6,66.1 332.8,65.7 332.9,65.4 333.1,65.1 333.3,64.9 333.5,64.8 333.7,64.8 333.8,64.9 334.0,65.0 334.2,65.3 334.4,65.6 334.6,66.0 334.8,66.5 334.9,67.1 335.1,67.7 335.3,68.5 335.5,69.3 335.7,70.1 335.8,71.1 336.0,72.1 336.2,73.1 336.4,74.2 336.6,75.4 336.7,76.6 336.9,77.8 337.1,79.1 337.3,80.4 337.5,81.7 337.6,83.0 337.8,84.4 338.0,85.8 338.2,87.1 338.4,88.5 338.6,89.9 338.7,91.2 338.9,92.6 339.1,93.9 339.3,95.1 339.5,96.4 339.6,97.6 339.8,98.8 340.0,99.9 340.2,100.9 340.4,101.9 340.5,102.9 340.7,103.8 340.9,104.6 341.1,105.3 341.3,106.0 341.5,106.6 341.6,107.1 341.8,107.5 342.0,107.9 342.2,108.1 342.4,108.3 342.5,108.4 342.7,108.4 342.9,108.3 343.1,108.2 343.3,107.9 343.4,107.6 343.6,107.2 343.8,106.7 344.0,106.1 344.2,105.4 344.3,104.7 344.5,103.9 344.7,103.0 344.9,102.1 345.1,101.1 345.3,100.0 345.4,98.9 345.6,97.8 345.8,96.6 346.0,95.3 346.2,94.1 346.3,92.8 346.5,91.4 346.7,90.1 346.9,88.7 347.1,87.4 347.2,86.0 347.4,84.6 347.6,83.3 347.8,81.9 348.0,80.6 348.1,79.3 348.3,78.0 348.5,76.8 348.7,75.5 348.9,74.4 349.1,73.3 349.2,72.2 349.4,71.2 349.6,70.3 349.8,69.4 350.0,68.6 350.1,67.9 350.3,67.2 350.5,66.6 350.7,66.1 350.9,65.7 351.0,65.3 351.2,65.1 351.4,64.9 351.6,64.8 351.8,64.8 351.9,64.9 352.1,65.1 352.3,65.3 352.5,65.6 352.7,66.1 352.9,66.6 353.0,67.2 353.2,67.8 353.4,68.5 353.6,69.4 353.8,70.2 353.9,71.2 354.1,72.2 354.3,73.2 354.5,74.3 354.7,75.5 354.8,76.7 355.0,77.9 355.2,79.2 355.4,80.5 355.6,81.8 355.7,83.2 355.9,84.5 356.1,85.9 356.3,87.3 356.5,88.7 356.7,90.0 356.8,91.4 357.0,92.7 357.2,94.0 357.4,95.3 357.6,96.5 357.7,97.7 357.9,98.9 358.1,100.0 358.3,101.0 358.5,102.0 358.6,103.0 358.8,103.8 359.0,104.7 359.2,105.4 359.4,106.0 359.5,106.6 359.7,107.1 359.9,107.6 360.1,107.9 360.3,108.1 360.5,108.3 360.6,108.4 360.8,108.4 361.0,108.3 361.2,108.1 361.4,107.9 361.5,107.5 361.7,107.1 361.9,106.6 362.1,106.0 362.3,105.3 362.4,104.6 362.6,103.8 362.8,102.9 363.0,102.0 363.2,101.0 363.3,99.9 363.5,98.8 363.7,97.7 363.9,96.4 364.1,95.2 364.3,93.9 364.4,92.6 364.6,91.3 364.8,89.9 365.0,88.6 365.2,87.2 365.3,85.8 365.5,84.5 365.7,83.1 365.9,81.8 366.1,80.4 366.2,79.1 366.4,77.9 366.6,76.6 366.8,75.4 367.0,74.3 367.1,73.2 367.3,72.1 367.5,71.1 367.7,70.2 367.9,69.3 368.1,68.5 368.2,67.8 368.4,67.1 368.6,66.5 368.8,66.0 369.0,65.6 369.1,65.3 369.3,65.0 369.5,64.9 369.7,64.8 369.9,64.8 370.0,64.9 370.2,65.1 370.4,65.3 370.6,65.7 370.8,66.1 370.9,66.6 371.1,67.2 371.3,67.9 371.5,68.6 371.7,69.4 371.9,70.3 372.0,71.3 372.2,72.3 372.4,73.3 372.6,74.4 372.8,75.6 372.9,76.8 373.1,78.1 373.3,79.3 373.5,80.6 373.7,82.0 373.8,83.3 374.0,84.7 374.2,86.1 374.4,87.4 374.6,88.8 374.8,90.2 374.9,91.5 375.1,92.8 375.3,94.1 375.5,95.4 375.7,96.6 375.8,97.8 376.0,99.0 376.2,100.1 376.4,101.1 376.6,102.1 376.7,103.1 376.9,103.9 377.1,104.7 377.3,105.5 377.5,106.1 377.6,106.7 377.8,107.2 378.0,107.6 378.2,107.9 378.4,108.2 378.6,108.3 378.7,108.4 378.9,108.4 379.1,108.3 379.3,108.1 379.5,107.8 379.6,107.5 379.8,107.1 380.0,106.5 380.2,105.9 380.4,105.3 380.5,104.5 380.7,103.7 380.9,102.8 381.1,101.9 381.3,100.9 381.4,99.8 381.6,98.7 381.8,97.5 382.0,96.3 382.2,95.1 382.4,93.8 382.5,92.5 382.7,91.2 382.9,89.8 383.1,88.4 383.3,87.1 383.4,85.7 383.6,84.3 383.8,83.0 384.0,81.6 384.2,80.3 384.3,79.0 384.5,77.7 384.7,76.5 384.9,75.3 385.1,74.2 385.2,73.1 385.4,72.0 385.6,71.0 385.8,70.1 386.0,69.2 386.2,68.4 386.3,67.7 386.5,67.1 386.7,66.5 386.9,66.0 387.1,65.6 387.2,65.3 387.4,65.0 387.6,64.9 387.8,64.8 388.0,64.8 388.1,64.9 388.3,65.1 388.5,65.4 388.7,65.7 388.9,66.2 389.0,66.7 389.2,67.3 389.4,68.0 389.6,68.7 389.8,69.5 390.0,70.4 390.1,71.4 390.3,72.4 390.5,73.4 390.7,74.6 390.9,75.7 391.0,76.9 391.2,78.2 391.4,79.5 391.6,80.8 391.8,82.1 391.9,83.5 392.1,84.8 392.3,86.2 392.5,87.6 392.7,88.9 392.8,90.3 393.0,91.6 393.2,93.0 393.4,94.3 393.6,95.5 393.8,96.8 393.9,97.9 394.1,99.1 394.3,100.2 394.5,101.2 394.7,102.2 394.8,103.2 395.0,104.0 395.2,104.8 395.4,105.5 395.6,106.2 395.7,106.7 395.9,107.2 396.1,107.6 396.3,107.9 396.5,108.2 396.6,108.3 396.8,108.4 397.0,108.4 397.2,108.3 397.4,108.1 397.6,107.8 397.7,107.5 397.9,107.0 398.1,106.5 398.3,105.9 398.5,105.2 398.6,104.5 398.8,103.6 399.0,102.7 399.2,101.8 399.4,100.8 399.5,99.7 399.7,98.6 399.9,97.4 400.1,96.2 400.3,95.0 400.4,93.7 400.6,92.4 400.8,91.0 401.0,89.7 401.2,88.3 401.4,86.9 401.5,86.4 401.7,86.4 401.9,86.7 402.1,86.3 402.3,86.6 402.4,86.3 402.6,86.9 402.8,86.0 403.0,86.4 403.2,86.3 403.3,86.0 403.5,86.8 403.7,86.2 403.9,84.6 404.1,87.1 404.3,86.5 404.4,87.4 404.6,87.2 404.8,86.3 405.0,87.0 405.2,89.5 405.3,84.2 405.5,88.0 405.7,84.1 405.9,85.8 406.1,85.9 406.2,86.2 406.4,85.3 406.6,87.6 406.8,87.9 407.0,88.1 407.1,87.0 407.3,86.4 407.5,84.7 407.7,87.4 407.9,89.0 408.1,86.0 408.2,89.3 408.4,85.2 408.6,88.9 408.8,87.4 409.0,85.8 409.1,84.4 409.3,87.9 409.5,85.7 409.7,86.1 409.9,85.3 410.0,84.7 410.2,85.0 410.4,86.2 410.6,86.8 410.8,87.1 410.9,86.1 411.1,84.8 411.3,85.8 411.5,87.6 411.7,87.0 411.9,86.7 412.0,87.4 412.2,86.9 412.4,86.8 412.6,88.6 412.8,86.2 412.9,87.0 413.1,88.5 413.3,87.6 413.5,86.8 413.7,86.4 413.8,86.4 414.0,87.5 414.2,86.6 414.4,88.0 414.6,86.1 414.7,86.5 414.9,86.6 415.1,85.5 415.3,87.9 415.5,86.3 415.7,86.0 415.8,86.3 416.0,87.4 416.2,87.1 416.4,85.6 416.6,86.7 416.7,87.3 416.9,85.8 417.1,86.1 417.3,87.1 417.5,86.9 417.6,86.1 417.8,86.6 418.0,86.7 418.2,87.2 418.4,86.7 418.5,87.4 418.7,87.0 418.9,85.9 419.1,87.8 419.3,86.4 419.5,87.1 419.6,86.6 419.8,86.6 420.0,86.5 420.2,86.1 420.4,86.9 420.5,86.9 420.7,86.6 420.9,86.0 421.1,86.8 421.3,86.8 421.4,86.0 421.6,86.1 421.8,86.2 422.0,86.6 422.2,86.4 422.3,86.5 422.5,86.5 422.7,86.6 422.9,86.2 423.1,85.8 423.3,86.6 423.4,86.7 423.6,86.5 423.8,86.5 424.0,86.3 424.2,86.5 424.3,86.3 424.5,87.1 424.7,86.6 424.9,86.2 425.1,86.2 425.2,86.6 425.4,86.3 425.6,86.2 425.8,85.9 426.0,86.8 426.1,86.3 426.3,86.8 426.5,86.6 426.7,86.4 426.9,86.8 427.1,86.5 427.2,86.4 427.4,86.9 427.6,86.6 427.8,86.8 428.0,86.9 428.1,87.0 428.3,86.2 428.5,86.0 428.7,86.3 428.9,87.4 429.0,86.1 429.2,87.1 429.4,86.6 429.6,86.6 429.8,86.3 429.9,87.4 430.1,86.5 430.3,86.4 430.5,86.8 430.7,86.8 430.9,86.2 431.0,86.6 431.2,87.3 431.4,86.8 431.6,86.4 431.8,85.9 431.9,86.5 432.1,85.9 432.3,87.0 432.5,87.0 432.7,86.9 432.8,86.6 433.0,86.2 433.2,86.7 433.4,86.1 433.6,86.7 433.8,86.6 433.9,86.4 434.1,86.1 434.3,87.3 434.5,86.4 434.7,86.3 434.8,86.8 435.0,85.8 435.2,86.9 435.4,86.7 435.6,86.8 435.7,86.7 435.9,85.8 436.1,86.7 436.3,86.4 436.5,85.9 436.6,86.7 436.8,86.3 437.0,86.3 437.2,86.6 437.4,86.8 437.6,86.6 437.7,86.0 437.9,86.6 438.1,86.2 438.3,87.2 438.5,86.7 438.6,87.0 438.8,86.7 439.0,86.2 439.2,87.3 439.4,86.4 439.5,86.4 439.7,86.7 439.9,86.7 440.1,86.4 440.3,86.3 440.4,87.0 440.6,87.1 440.8,86.7 441.0,86.4 441.2,86.5 441.4,86.6 441.5,86.5 441.7,86.3 441.9,86.3 442.1,86.0 442.3,86.5 442.4,86.6 442.6,86.5 442.8,87.1 443.0,86.2 443.2,86.9 443.3,87.1 443.5,86.3 443.7,86.4 443.9,86.6 444.1,87.1 444.2,86.3 444.4,85.7 444.6,87.5 444.8,87.0 445.0,86.6 445.2,86.6 445.3,86.7 445.5,86.2 445.7,86.8 445.9,86.3 446.1,86.2 446.2,86.5 446.4,86.5 446.6,87.5" fill="none" stroke="#0072BD" stroke-width="0.85" stroke-linejoin="round" />
<polyline points="265.8,86.5 266.0,86.6 266.2,86.6 266.3,86.6 266.5,86.5 266.7,86.5 266.9,86.8 267.1,86.3 267.2,86.3 267.4,86.9 267.6,86.4 267.8,86.7 268.0,86.5 268.2,86.6 268.3,86.8 268.5,86.7 268.7,86.8 268.9,86.8 269.1,86.6 269.2,86.6 269.4,86.6 269.6,86.4 269.8,86.7 270.0,86.4 270.1,86.7 270.3,86.7 270.5,86.5 270.7,86.4 270.9,86.8 271.0,86.5 271.2,86.7 271.4,86.2 271.6,86.8 271.8,86.5 272.0,86.4 272.1,86.0 272.3,86.4 272.5,86.4 272.7,86.4 272.9,86.8 273.0,86.6 273.2,86.7 273.4,86.6 273.6,86.4 273.8,86.5 273.9,86.5 274.1,86.9 274.3,86.3 274.5,86.7 274.7,86.1 274.8,86.3 275.0,86.6 275.2,86.4 275.4,86.7 275.6,86.7 275.8,86.3 275.9,86.7 276.1,86.8 276.3,86.8 276.5,86.5 276.7,86.4 276.8,86.6 277.0,86.6 277.2,86.5 277.4,86.7 277.6,86.7 277.7,86.6 277.9,86.7 278.1,86.7 278.3,86.4 278.5,86.8 278.6,86.8 278.8,86.6 279.0,86.7 279.2,86.5 279.4,86.8 279.6,86.7 279.7,86.4 279.9,86.6 280.1,86.9 280.3,86.5 280.5,86.5 280.6,86.5 280.8,86.8 281.0,86.2 281.2,86.6 281.4,86.5 281.5,86.9 281.7,86.3 281.9,86.8 282.1,86.9 282.3,86.8 282.5,86.5 282.6,86.5 282.8,86.1 283.0,86.4 283.2,86.8 283.4,86.8 283.5,86.6 283.7,86.7 283.9,86.4 284.1,86.5 284.3,87.0 284.4,86.6 284.6,86.5 284.8,87.0 285.0,86.5 285.2,86.6 285.3,87.0 285.5,86.9 285.7,86.4 285.9,86.7 286.1,86.6 286.3,86.5 286.4,86.4 286.6,87.0 286.8,86.6 287.0,86.5 287.2,86.5 287.3,86.5 287.5,86.6 287.7,86.8 287.9,86.7 288.1,86.4 288.2,86.6 288.4,86.8 288.6,86.6 288.8,86.8 289.0,86.9 289.1,86.4 289.3,86.3 289.5,86.9 289.7,86.5 289.9,86.8 290.1,86.6 290.2,86.6 290.4,86.6 290.6,86.8 290.8,86.5 291.0,86.5 291.1,86.6 291.3,86.5 291.5,86.6 291.7,86.8 291.9,86.8 292.0,86.4 292.2,86.1 292.4,86.6 292.6,86.4 292.8,86.7 292.9,86.6 293.1,86.4 293.3,87.0 293.5,86.6 293.7,86.5 293.9,86.5 294.0,86.6 294.2,86.6 294.4,86.4 294.6,86.6 294.8,86.3 294.9,87.2 295.1,86.7 295.3,86.8 295.5,86.7 295.7,86.4 295.8,86.5 296.0,86.4 296.2,86.4 296.4,86.9 296.6,86.2 296.7,86.8 296.9,86.5 297.1,86.7 297.3,86.7 297.5,86.7 297.7,86.7 297.8,86.7 298.0,86.5 298.2,86.6 298.4,86.8 298.6,86.6 298.7,86.9 298.9,87.0 299.1,86.7 299.3,86.3 299.5,86.8 299.6,86.6 299.8,86.8 300.0,86.6 300.2,86.7 300.4,86.8 300.5,86.4 300.7,86.7 300.9,86.3 301.1,86.3 301.3,86.6 301.5,86.4 301.6,86.4 301.8,86.3 302.0,86.6 302.2,86.3 302.4,87.0 302.5,86.6 302.7,86.5 302.9,86.5 303.1,86.7 303.3,86.6 303.4,86.2 303.6,86.6 303.8,86.2 304.0,86.5 304.2,86.6 304.3,86.7 304.5,86.5 304.7,86.5 304.9,86.7 305.1,86.5 305.3,86.4 305.4,86.8 305.6,86.6 305.8,86.6 306.0,86.7 306.2,87.0 306.3,86.4 306.5,87.0 306.7,86.4 306.9,86.4 307.1,86.8 307.2,86.8 307.4,86.7 307.6,86.7 307.8,86.3 308.0,86.5 308.1,86.4 308.3,86.4 308.5,86.4 308.7,86.6 308.9,86.4 309.1,86.6 309.2,86.8 309.4,86.2 309.6,86.9 309.8,86.9 310.0,86.4 310.1,86.5 310.3,86.7 310.5,86.8 310.7,86.5 310.9,86.2 311.0,86.6 311.2,86.7 311.4,86.5 311.6,86.1 311.8,86.2 312.0,86.8 312.1,86.8 312.3,86.6 312.5,86.5 312.7,86.9 312.9,86.8 313.0,86.8 313.2,86.8 313.4,86.8 313.6,86.2 313.8,87.0 313.9,86.7 314.1,86.3 314.3,86.9 314.5,86.3 314.7,86.6 314.8,86.6 315.0,87.2 315.2,86.3 315.4,86.3 315.6,86.7 315.8,86.7 315.9,86.4 316.1,86.1 316.3,86.7 316.5,86.6 316.7,86.4 316.8,86.7 317.0,87.2 317.2,86.7 317.4,86.6 317.6,86.7 317.7,87.0 317.9,87.0 318.1,86.8 318.3,86.6 318.5,86.5 318.6,86.7 318.8,86.1 319.0,86.3 319.2,86.8 319.4,86.6 319.6,86.2 319.7,86.4 319.9,86.6 320.1,86.3 320.3,86.6 320.5,86.5 320.6,86.5 320.8,86.7 321.0,86.6 321.2,86.3 321.4,86.8 321.5,86.6 321.7,86.6 321.9,86.9 322.1,86.5 322.3,86.8 322.4,86.5 322.6,86.5 322.8,86.6 323.0,86.8 323.2,86.5 323.4,86.3 323.5,86.7 323.7,86.6 323.9,86.2 324.1,86.5 324.3,86.8 324.4,86.8 324.6,86.6 324.8,86.4 325.0,86.8 325.2,86.7 325.3,86.6 325.5,86.4 325.7,86.4 325.9,86.5 326.1,86.7 326.2,87.0 326.4,86.4 326.6,86.3 326.8,86.3 327.0,86.3 327.2,87.0 327.3,86.6 327.5,86.7 327.7,86.2 327.9,86.5 328.1,86.3 328.2,86.8 328.4,86.7 328.6,86.5 328.8,86.4 329.0,87.1 329.1,86.5 329.3,86.8 329.5,86.7 329.7,86.8 329.9,86.6 330.0,86.5 330.2,86.4 330.4,86.6 330.6,86.5 330.8,86.5 331.0,86.6 331.1,86.7 331.3,86.8 331.5,86.7 331.7,86.7 331.9,86.3 332.0,86.6 332.2,86.3 332.4,86.6 332.6,86.2 332.8,86.8 332.9,86.7 333.1,86.7 333.3,86.3 333.5,86.2 333.7,86.8 333.8,86.4 334.0,86.3 334.2,86.6 334.4,86.4 334.6,86.4 334.8,86.4 334.9,86.5 335.1,86.7 335.3,86.5 335.5,86.4 335.7,86.4 335.8,86.9 336.0,86.6 336.2,86.5 336.4,86.2 336.6,86.5 336.7,86.6 336.9,86.7 337.1,86.5 337.3,86.6 337.5,86.3 337.6,86.6 337.8,86.9 338.0,86.8 338.2,86.4 338.4,86.6 338.6,86.4 338.7,86.1 338.9,86.9 339.1,86.8 339.3,86.6 339.5,86.5 339.6,86.6 339.8,86.5 340.0,86.5 340.2,86.3 340.4,86.6 340.5,86.8 340.7,86.6 340.9,86.5 341.1,86.9 341.3,86.8 341.5,87.0 341.6,86.7 341.8,86.5 342.0,86.7 342.2,86.4 342.4,86.5 342.5,86.9 342.7,86.7 342.9,86.8 343.1,86.7 343.3,86.1 343.4,86.5 343.6,86.5 343.8,86.4 344.0,86.4 344.2,87.1 344.3,87.0 344.5,86.4 344.7,86.6 344.9,86.5 345.1,86.5 345.3,86.6 345.4,86.4 345.6,86.8 345.8,86.4 346.0,86.3 346.2,86.6 346.3,86.8 346.5,86.1 346.7,86.7 346.9,86.2 347.1,86.8 347.2,86.5 347.4,86.3 347.6,86.7 347.8,86.8 348.0,86.6 348.1,86.8 348.3,86.3 348.5,86.8 348.7,86.5 348.9,86.8 349.1,86.7 349.2,86.8 349.4,86.8 349.6,86.5 349.8,86.5 350.0,86.8 350.1,86.8 350.3,86.8 350.5,86.2 350.7,86.5 350.9,86.8 351.0,86.4 351.2,86.8 351.4,86.7 351.6,86.8 351.8,86.5 351.9,86.7 352.1,86.4 352.3,86.3 352.5,86.6 352.7,86.7 352.9,87.0 353.0,86.4 353.2,86.6 353.4,86.3 353.6,86.4 353.8,86.9 353.9,86.5 354.1,86.7 354.3,86.6 354.5,86.9 354.7,86.6 354.8,86.8 355.0,86.5 355.2,86.2 355.4,86.5 355.6,86.7 355.7,86.5 355.9,86.4 356.1,86.6 356.3,86.5 356.5,86.4 356.7,86.5 356.8,87.1 357.0,86.3 357.2,86.7 357.4,86.6 357.6,86.4 357.7,86.8 357.9,86.3 358.1,87.0 358.3,86.3 358.5,86.6 358.6,86.6 358.8,86.3 359.0,86.5 359.2,86.5 359.4,86.4 359.5,86.5 359.7,86.7 359.9,86.5 360.1,86.7 360.3,86.4 360.5,86.4 360.6,86.8 360.8,86.2 361.0,87.1 361.2,86.9 361.4,86.9 361.5,86.8 361.7,86.7 361.9,86.4 362.1,86.7 362.3,86.6 362.4,86.6 362.6,86.4 362.8,86.7 363.0,86.5 363.2,86.9 363.3,86.7 363.5,86.8 363.7,86.8 363.9,86.9 364.1,86.4 364.3,86.7 364.4,86.7 364.6,86.4 364.8,86.8 365.0,86.8 365.2,86.1 365.3,86.5 365.5,86.2 365.7,86.2 365.9,86.5 366.1,86.6 366.2,86.6 366.4,86.8 366.6,86.9 366.8,86.7 367.0,86.5 367.1,86.7 367.3,86.4 367.5,86.3 367.7,86.4 367.9,86.4 368.1,86.4 368.2,86.4 368.4,86.7 368.6,86.5 368.8,86.4 369.0,86.7 369.1,86.8 369.3,86.7 369.5,86.3 369.7,86.2 369.9,86.5 370.0,86.8 370.2,86.5 370.4,86.7 370.6,86.7 370.8,86.5 370.9,86.5 371.1,86.4 371.3,86.5 371.5,86.5 371.7,86.5 371.9,86.4 372.0,86.7 372.2,86.3 372.4,86.7 372.6,86.3 372.8,86.7 372.9,86.3 373.1,87.0 373.3,86.6 373.5,86.8 373.7,86.8 373.8,86.8 374.0,86.9 374.2,86.8 374.4,86.4 374.6,86.8 374.8,87.0 374.9,86.8 375.1,86.6 375.3,86.6 375.5,86.8 375.7,86.7 375.8,86.2 376.0,86.3 376.2,86.9 376.4,86.3 376.6,86.5 376.7,86.5 376.9,86.9 377.1,86.6 377.3,86.8 377.5,87.0 377.6,86.4 377.8,86.9 378.0,86.7 378.2,86.6 378.4,86.4 378.6,86.6 378.7,86.5 378.9,86.9 379.1,86.8 379.3,86.4 379.5,86.6 379.6,86.8 379.8,86.5 380.0,86.2 380.2,86.3 380.4,86.6 380.5,86.4 380.7,86.3 380.9,86.7 381.1,86.5 381.3,86.8 381.4,86.6 381.6,86.5 381.8,86.8 382.0,86.5 382.2,86.8 382.4,86.7 382.5,86.5 382.7,86.6 382.9,86.5 383.1,86.7 383.3,86.7 383.4,86.3 383.6,86.2 383.8,86.3 384.0,86.6 384.2,86.6 384.3,86.4 384.5,86.8 384.7,86.6 384.9,86.6 385.1,86.5 385.2,86.7 385.4,86.7 385.6,86.7 385.8,86.8 386.0,86.2 386.2,86.6 386.3,86.3 386.5,86.9 386.7,86.6 386.9,86.8 387.1,86.6 387.2,86.4 387.4,86.8 387.6,86.6 387.8,86.5 388.0,86.5 388.1,86.3 388.3,86.5 388.5,86.9 388.7,86.9 388.9,86.3 389.0,86.5 389.2,86.5 389.4,86.6 389.6,86.9 389.8,86.4 390.0,86.8 390.1,86.4 390.3,86.7 390.5,86.8 390.7,86.3 390.9,86.7 391.0,86.7 391.2,86.2 391.4,86.7 391.6,86.2 391.8,86.6 391.9,86.8 392.1,86.3 392.3,86.6 392.5,86.8 392.7,86.4 392.8,86.7 393.0,86.1 393.2,86.6 393.4,86.8 393.6,86.7 393.8,86.7 393.9,86.8 394.1,86.4 394.3,87.0 394.5,86.8 394.7,86.7 394.8,86.8 395.0,86.7 395.2,86.3 395.4,86.5 395.6,86.1 395.7,86.7 395.9,86.5 396.1,86.2 396.3,86.5 396.5,86.4 396.6,86.8 396.8,86.5 397.0,86.6 397.2,86.6 397.4,86.8 397.6,86.7 397.7,86.7 397.9,86.3 398.1,86.9 398.3,86.8 398.5,86.3 398.6,86.3 398.8,86.7 399.0,86.5 399.2,86.2 399.4,86.7 399.5,86.8 399.7,86.5 399.9,86.9 400.1,86.3 400.3,86.7 400.4,86.5 400.6,86.8 400.8,86.5 401.0,86.8 401.2,86.7 401.4,86.8 401.5,86.7 401.7,86.4 401.9,86.3 402.1,86.2 402.3,86.6 402.4,86.8 402.6,86.5 402.8,86.9 403.0,86.8 403.2,86.9 403.3,86.4 403.5,86.3 403.7,86.7 403.9,86.6 404.1,86.8 404.3,85.5 404.4,87.5 404.6,86.6 404.8,87.7 405.0,85.6 405.2,85.8 405.3,86.7 405.5,85.7 405.7,86.9 405.9,87.8 406.1,85.3 406.2,86.1 406.4,85.5 406.6,85.6 406.8,86.7 407.0,86.4 407.1,87.4 407.3,83.0 407.5,86.2 407.7,89.3 407.9,87.5 408.1,87.9 408.2,84.9 408.4,87.9 408.6,85.9 408.8,85.3 409.0,87.5 409.1,86.5 409.3,86.0 409.5,87.9 409.7,85.8 409.9,86.6 410.0,87.3 410.2,88.2 410.4,86.6 410.6,86.9 410.8,86.6 410.9,87.0 411.1,86.2 411.3,87.4 411.5,86.5 411.7,86.6 411.9,87.1 412.0,87.1 412.2,86.2 412.4,86.6 412.6,86.4 412.8,85.5 412.9,86.8 413.1,86.3 413.3,87.0 413.5,87.0 413.7,86.7 413.8,87.0 414.0,87.5 414.2,86.3 414.4,86.4 414.6,87.1 414.7,86.5 414.9,86.4 415.1,86.4 415.3,86.4 415.5,86.6 415.7,86.6 415.8,86.8 416.0,86.9 416.2,86.4 416.4,86.9 416.6,87.0 416.7,86.8 416.9,86.5 417.1,87.0 417.3,87.2 417.5,86.8 417.6,86.4 417.8,86.4 418.0,86.7 418.2,86.9 418.4,86.7 418.5,86.7 418.7,86.6 418.9,86.7 419.1,86.9 419.3,86.3 419.5,86.5 419.6,86.6 419.8,86.3 420.0,86.3 420.2,86.3 420.4,86.7 420.5,86.7 420.7,86.5 420.9,86.5 421.1,86.8 421.3,86.4 421.4,86.7 421.6,86.5 421.8,86.5 422.0,86.7 422.2,86.6 422.3,86.8 422.5,86.2 422.7,86.5 422.9,86.4 423.1,86.3 423.3,86.2 423.4,86.7 423.6,86.7 423.8,86.7 424.0,86.3 424.2,86.6 424.3,86.7 424.5,86.8 424.7,86.5 424.9,86.5 425.1,86.8 425.2,86.8 425.4,86.8 425.6,86.7 425.8,86.5 426.0,86.9 426.1,86.6 426.3,86.9 426.5,87.0 426.7,86.9 426.9,86.7 427.1,86.9 427.2,86.7 427.4,86.7 427.6,86.4 427.8,86.4 428.0,86.7 428.1,86.3 428.3,86.8 428.5,86.5 428.7,86.6 428.9,86.5 429.0,86.7 429.2,86.9 429.4,86.6 429.6,86.5 429.8,86.7 429.9,86.7 430.1,87.2 430.3,86.8 430.5,86.2 430.7,86.6 430.9,86.3 431.0,86.2 431.2,87.0 431.4,86.1 431.6,86.2 431.8,86.6 431.9,86.6 432.1,86.5 432.3,86.5 432.5,86.7 432.7,86.7 432.8,86.3 433.0,86.7 433.2,86.9 433.4,86.8 433.6,86.7 433.8,86.6 433.9,86.5 434.1,86.7 434.3,86.6 434.5,86.4 434.7,86.2 434.8,86.3 435.0,86.7 435.2,86.7 435.4,86.8 435.6,86.7 435.7,86.3 435.9,86.5 436.1,86.3 436.3,86.5 436.5,86.6 436.6,86.5 436.8,86.6 437.0,86.0 437.2,86.8 437.4,86.8 437.6,86.5 437.7,86.5 437.9,86.6 438.1,86.2 438.3,86.8 438.5,86.7 438.6,86.7 438.8,86.8 439.0,87.2 439.2,86.0 439.4,86.9 439.5,86.5 439.7,86.7 439.9,86.9 440.1,86.3 440.3,86.7 440.4,86.9 440.6,86.8 440.8,86.4 441.0,87.0 441.2,86.6 441.4,86.9 441.5,86.9 441.7,86.6 441.9,86.7 442.1,86.5 442.3,86.6 442.4,86.8 442.6,86.4 442.8,86.6 443.0,86.5 443.2,86.6 443.3,86.5 443.5,86.4 443.7,86.4 443.9,86.9 444.1,86.4 444.2,86.6 444.4,86.8 444.6,86.8 444.8,86.4 445.0,86.6 445.2,86.7 445.3,86.6 445.5,86.1 445.7,86.7 445.9,86.7 446.1,86.7 446.2,86.1 446.4,86.9 446.6,86.4" fill="none" stroke="#7E2F8E" stroke-width="1.1" stroke-linejoin="round" />
<path d="M408.2,86.6L408.6,79.0L409.0,86.6" fill="none" stroke="#0072BD" stroke-width="0.9"/>
<path d="M409.2,86.6L409.6,92.4L410.0,86.6" fill="none" stroke="#EDB120" stroke-width="0.9"/>
<path d="M411.2,86.6L411.6,81.1L412.0,86.6" fill="none" stroke="#0072BD" stroke-width="0.9"/>
<path d="M411.8,86.6L412.2,92.8L412.6,86.6" fill="none" stroke="#D95319" stroke-width="0.9"/>
<path d="M412.4,86.6L412.8,82.2L413.2,86.6" fill="none" stroke="#D95319" stroke-width="0.9"/>
<path d="M413.0,86.6L413.4,93.5L413.8,86.6" fill="none" stroke="#EDB120" stroke-width="0.9"/>
<path d="M410.1,86.6L410.5,83.0L410.9,86.6" fill="none" stroke="#D95319" stroke-width="0.9"/>
<path d="M414.0,86.6L414.4,83.3L414.8,86.6" fill="none" stroke="#0072BD" stroke-width="0.9"/>
<polyline points="265.8,148.5 266.0,148.5 266.3,149.1 266.5,148.9 266.7,149.2 266.9,149.4 267.2,148.5 267.4,148.0 267.6,149.2 267.8,148.6 268.1,149.2 268.3,148.3 268.5,148.3 268.7,148.0 269.0,149.2 269.2,149.5 269.4,148.9 269.6,149.1 269.9,149.1 270.1,149.3 270.3,149.4 270.6,148.0 270.8,149.5 271.0,149.3 271.2,149.4 271.5,148.9 271.7,149.1 271.9,149.3 272.1,148.2 272.4,148.0 272.6,149.4 272.8,148.5 273.0,149.1 273.3,149.1 273.5,149.4 273.7,149.3 273.9,149.2 274.2,148.2 274.4,148.7 274.6,149.0 274.9,148.3 275.1,148.8 275.3,149.6 275.5,149.2 275.8,149.2 276.0,148.9 276.2,149.4 276.4,148.5 276.7,149.1 276.9,148.2 277.1,148.3 277.3,148.6 277.6,148.0 277.8,148.5 278.0,149.1 278.2,149.0 278.5,149.2 278.7,149.1 278.9,148.7 279.2,149.2 279.4,149.3 279.6,149.5 279.8,149.3 280.1,149.4 280.3,149.0 280.5,148.5 280.7,149.5 281.0,149.2 281.2,149.2 281.4,148.6 281.6,148.8 281.9,148.3 282.1,148.5 282.3,148.7 282.5,149.1 282.8,149.5 283.0,149.1 283.2,148.7 283.5,148.9 283.7,149.1 283.9,149.4 284.1,148.5 284.4,148.8 284.6,148.8 284.8,149.2 285.0,149.0 285.3,148.9 285.5,149.3 285.7,148.5 285.9,149.3 286.2,149.1 286.4,148.5 286.6,149.3 286.8,148.3 287.1,149.1 287.3,149.3 287.5,149.4 287.7,148.5 288.0,149.0 288.2,148.9 288.4,148.9 288.7,149.2 288.9,149.0 289.1,149.1 289.3,148.8 289.6,148.5 289.8,148.1 290.0,148.3 290.2,149.2 290.5,148.6 290.7,148.8 290.9,148.7 291.1,149.1 291.4,149.0 291.6,148.9 291.8,149.4 292.0,149.1 292.3,149.1 292.5,149.3 292.7,148.2 293.0,148.5 293.2,149.2 293.4,149.4 293.6,148.3 293.9,149.1 294.1,149.2 294.3,149.4 294.5,149.2 294.8,149.1 295.0,149.1 295.2,149.2 295.4,148.1 295.7,148.4 295.9,149.2 296.1,148.8 296.3,148.5 296.6,149.2 296.8,149.1 297.0,148.5 297.3,149.5 297.5,149.4 297.7,148.8 297.9,149.2 298.2,149.2 298.4,149.0 298.6,147.9 298.8,149.1 299.1,149.1 299.3,149.1 299.5,148.5 299.7,149.5 300.0,149.3 300.2,148.3 300.4,149.2 300.6,149.2 300.9,148.5 301.1,149.2 301.3,149.2 301.6,149.2 301.8,149.5 302.0,149.4 302.2,149.2 302.5,148.8 302.7,149.1 302.9,148.2 303.1,148.8 303.4,148.3 303.6,148.4 303.8,149.6 304.0,149.2 304.3,148.9 304.5,149.4 304.7,149.2 304.9,149.2 305.2,149.1 305.4,149.4 305.6,149.0 305.9,149.0 306.1,148.6 306.3,149.0 306.5,149.0 306.8,149.1 307.0,149.2 307.2,149.6 307.4,149.4 307.7,149.2 307.9,149.1 308.1,149.2 308.3,149.0 308.6,149.4 308.8,149.4 309.0,149.2 309.2,148.1 309.5,149.5 309.7,149.5 309.9,148.8 310.2,148.5 310.4,149.1 310.6,148.1 310.8,149.4 311.1,147.5 311.3,142.8 311.5,139.2 311.7,136.2 312.0,133.9 312.2,131.9 312.4,130.0 312.6,129.5 312.9,127.9 313.1,127.1 313.3,126.4 313.5,125.9 313.8,125.4 314.0,124.9 314.2,125.1 314.5,124.3 314.7,124.1 314.9,124.0 315.1,123.9 315.4,123.6 315.6,123.2 315.8,123.3 316.0,123.3 316.3,124.0 316.5,123.2 316.7,123.5 316.9,123.7 317.2,123.6 317.4,123.4 317.6,124.1 317.8,123.7 318.1,124.0 318.3,124.0 318.5,124.2 318.8,124.0 319.0,124.3 319.2,124.5 319.4,124.7 319.7,124.7 319.9,124.5 320.1,124.9 320.3,124.6 320.6,124.6 320.8,124.9 321.0,125.4 321.2,125.0 321.5,125.0 321.7,125.0 321.9,125.1 322.1,124.9 322.4,124.9 322.6,125.3 322.8,125.1 323.0,124.9 323.3,125.2 323.5,125.3 323.7,124.9 324.0,125.8 324.2,125.1 324.4,125.5 324.6,125.9 324.9,125.2 325.1,125.1 325.3,125.4 325.5,125.3 325.8,125.2 326.0,125.5 326.2,125.4 326.4,125.3 326.7,125.6 326.9,125.5 327.1,125.6 327.3,125.6 327.6,125.5 327.8,125.4 328.0,125.4 328.3,125.3 328.5,125.3 328.7,125.3 328.9,125.6 329.2,125.5 329.4,125.7 329.6,125.1 329.8,125.3 330.1,125.5 330.3,125.5 330.5,125.3 330.7,125.6 331.0,125.5 331.2,125.6 331.4,125.5 331.6,125.2 331.9,125.6 332.1,125.2 332.3,125.4 332.6,125.5 332.8,125.3 333.0,125.7 333.2,125.4 333.5,125.4 333.7,125.0 333.9,125.5 334.1,125.4 334.4,125.7 334.6,125.6 334.8,125.3 335.0,125.1 335.3,125.2 335.5,125.8 335.7,125.7 335.9,125.7 336.2,125.5 336.4,125.2 336.6,125.3 336.9,125.4 337.1,125.4 337.3,125.9 337.5,126.2 337.8,125.5 338.0,125.8 338.2,125.5 338.4,125.7 338.7,125.3 338.9,125.6 339.1,125.7 339.3,125.5 339.6,125.2 339.8,125.6 340.0,125.2 340.2,125.7 340.5,125.7 340.7,125.5 340.9,125.5 341.2,125.4 341.4,125.5 341.6,125.5 341.8,125.8 342.1,125.2 342.3,125.6 342.5,125.4 342.7,125.4 343.0,125.1 343.2,125.8 343.4,125.5 343.6,125.2 343.9,126.0 344.1,125.6 344.3,125.5 344.5,125.4 344.8,125.7 345.0,125.3 345.2,125.7 345.5,125.2 345.7,125.5 345.9,125.7 346.1,125.2 346.4,125.4 346.6,125.4 346.8,125.3 347.0,125.5 347.3,125.6 347.5,125.4 347.7,125.2 347.9,125.4 348.2,125.6 348.4,125.1 348.6,125.6 348.8,125.5 349.1,125.5 349.3,125.5 349.5,125.4 349.8,125.3 350.0,125.6 350.2,125.6 350.4,125.3 350.7,125.3 350.9,125.6 351.1,125.2 351.3,125.5 351.6,125.4 351.8,125.4 352.0,125.4 352.2,125.5 352.5,125.4 352.7,125.5 352.9,125.4 353.1,125.5 353.4,125.5 353.6,125.5 353.8,125.4 354.1,125.4 354.3,125.5 354.5,125.5 354.7,125.4 355.0,125.1 355.2,125.4 355.4,125.3 355.6,125.6 355.9,125.5 356.1,125.5 356.3,125.1 356.5,125.3 356.8,125.3 357.0,125.5 357.2,125.4 357.4,125.3 357.7,125.4 357.9,125.7 358.1,125.5 358.3,125.4 358.6,125.8 358.8,125.9 359.0,125.5 359.3,125.5 359.5,125.5 359.7,125.4 359.9,125.3 360.2,125.2 360.4,125.7 360.6,125.4 360.8,125.2 361.1,125.2 361.3,125.7 361.5,125.4 361.7,125.4 362.0,125.5 362.2,125.7 362.4,125.5 362.6,125.2 362.9,125.5 363.1,125.5 363.3,125.5 363.6,125.2 363.8,125.4 364.0,125.8 364.2,125.9 364.5,125.5 364.7,125.6 364.9,125.6 365.1,125.1 365.4,125.2 365.6,125.4 365.8,125.3 366.0,125.1 366.3,125.4 366.5,125.5 366.7,125.8 366.9,125.3 367.2,125.1 367.4,125.7 367.6,125.5 367.9,125.6 368.1,125.3 368.3,125.5 368.5,125.2 368.8,125.7 369.0,124.9 369.2,125.1 369.4,125.5 369.7,125.6 369.9,125.7 370.1,125.4 370.3,125.4 370.6,125.5 370.8,125.5 371.0,125.5 371.2,125.5 371.5,125.6 371.7,125.2 371.9,125.2 372.2,125.5 372.4,125.3 372.6,125.6 372.8,125.3 373.1,125.8 373.3,125.4 373.5,125.4 373.7,125.4 374.0,125.5 374.2,125.4 374.4,125.4 374.6,125.1 374.9,125.7 375.1,125.8 375.3,125.4 375.5,125.4 375.8,125.5 376.0,125.5 376.2,125.2 376.5,125.1 376.7,125.5 376.9,125.1 377.1,125.3 377.4,125.3 377.6,125.4 377.8,125.4 378.0,125.1 378.3,125.6 378.5,125.4 378.7,125.3 378.9,125.6 379.2,125.6 379.4,125.6 379.6,125.2 379.8,125.4 380.1,125.5 380.3,125.6 380.5,125.3 380.8,125.4 381.0,125.4 381.2,125.6 381.4,125.5 381.7,125.6 381.9,125.3 382.1,125.4 382.3,125.8 382.6,125.3 382.8,125.5 383.0,125.0 383.2,125.5 383.5,125.4 383.7,125.5 383.9,125.5 384.1,125.4 384.4,125.4 384.6,125.3 384.8,125.0 385.1,125.3 385.3,125.2 385.5,125.8 385.7,125.1 386.0,125.9 386.2,125.3 386.4,125.2 386.6,125.4 386.9,125.6 387.1,124.9 387.3,125.2 387.5,125.4 387.8,125.0 388.0,124.9 388.2,125.6 388.4,125.4 388.7,125.9 388.9,125.6 389.1,125.4 389.4,125.1 389.6,125.3 389.8,124.8 390.0,125.3 390.3,125.9 390.5,125.6 390.7,125.1 390.9,125.3 391.2,125.5 391.4,125.2 391.6,125.3 391.8,125.3 392.1,125.9 392.3,125.4 392.5,125.8 392.7,125.7 393.0,125.2 393.2,125.4 393.4,125.4 393.6,125.2 393.9,125.6 394.1,125.6 394.3,125.5 394.6,125.4 394.8,125.5 395.0,125.5 395.2,125.1 395.5,125.5 395.7,125.5 395.9,125.6 396.1,125.6 396.4,125.3 396.6,125.4 396.8,125.4 397.0,125.5 397.3,125.1 397.5,125.1 397.7,125.5 397.9,125.2 398.2,125.1 398.4,125.5 398.6,125.6 398.9,125.2 399.1,125.2 399.3,125.8 399.5,125.9 399.8,125.6 400.0,125.1 400.2,125.4 400.4,125.3 400.7,125.7 400.9,125.5 401.1,125.8 401.3,125.6 401.6,132.2 401.8,138.8 402.0,143.1 402.2,146.0 402.5,147.8 402.7,148.9 402.9,149.9 403.2,150.2 403.4,153.5 403.6,152.0 403.8,154.0 404.1,152.9 404.3,152.5 404.5,152.3 404.7,152.7 405.0,151.9 405.2,153.1 405.4,152.6 405.6,153.1 405.9,150.9 406.1,152.4 406.3,152.1 406.5,156.5 406.8,151.3 407.0,151.8 407.2,151.6 407.5,152.6 407.7,153.7 407.9,151.3 408.1,150.7 408.4,151.2 408.6,152.3 408.8,151.8 409.0,152.2 409.3,152.5 409.5,152.2 409.7,153.4 409.9,151.2 410.2,151.3 410.4,152.5 410.6,151.5 410.8,151.7 411.1,151.6 411.3,151.9 411.5,150.6 411.8,151.5 412.0,153.4 412.2,152.6 412.4,151.2 412.7,151.4 412.9,150.4 413.1,151.4 413.3,151.9 413.6,154.6 413.8,152.4 414.0,153.6 414.2,150.0 414.5,150.0 414.7,151.2 414.9,150.4 415.1,152.2 415.4,156.1 415.6,151.2 415.8,151.9 416.1,149.6 416.3,149.6 416.5,149.8 416.7,149.9 417.0,149.6 417.2,149.3 417.4,149.7 417.6,149.6 417.9,149.2 418.1,148.4 418.3,149.6 418.5,149.2 418.8,149.6 419.0,148.6 419.2,149.4 419.4,148.9 419.7,149.6 419.9,149.2 420.1,149.8 420.4,149.5 420.6,149.4 420.8,148.9 421.0,149.5 421.3,148.7 421.5,149.8 421.7,149.7 421.9,149.0 422.2,149.3 422.4,149.5 422.6,149.4 422.8,149.6 423.1,149.6 423.3,149.5 423.5,149.6 423.7,149.7 424.0,149.5 424.2,149.6 424.4,149.5 424.7,149.2 424.9,149.3 425.1,148.9 425.3,148.8 425.6,149.4 425.8,149.5 426.0,148.7 426.2,149.5 426.5,149.6 426.7,149.3 426.9,148.9 427.1,149.6 427.4,149.2 427.6,149.4 427.8,149.5 428.0,149.2 428.3,149.5 428.5,148.7 428.7,148.7 428.9,148.7 429.2,149.5 429.4,149.3 429.6,148.2 429.9,149.1 430.1,149.2 430.3,148.7 430.5,149.6 430.8,148.9 431.0,149.5 431.2,149.1 431.4,148.4 431.7,148.5 431.9,149.5 432.1,150.0 432.3,149.0 432.6,148.9 432.8,149.5 433.0,149.1 433.2,148.4 433.5,148.5 433.7,149.0 433.9,149.2 434.2,149.3 434.4,149.4 434.6,149.4 434.8,149.4 435.1,148.5 435.3,149.1 435.5,148.8 435.7,149.2 436.0,148.8 436.2,148.4 436.4,148.9 436.6,148.6 436.9,149.4 437.1,149.7 437.3,149.8 437.5,149.7 437.8,148.8 438.0,149.3 438.2,148.4 438.5,148.5 438.7,148.8 438.9,148.5 439.1,148.9 439.4,149.3 439.6,149.4 439.8,148.8 440.0,149.4 440.3,149.1 440.5,148.9 440.7,149.2 440.9,148.5 441.2,149.4 441.4,148.8 441.6,149.4 441.8,149.6 442.1,148.5 442.3,149.6 442.5,149.3 442.8,149.4 443.0,149.3 443.2,149.1 443.4,149.3 443.7,149.2 443.9,149.4 444.1,149.3 444.3,148.8 444.6,149.4 444.8,149.3 445.0,149.1 445.2,149.2 445.5,149.2 445.7,149.2 445.9,149.5 446.1,149.2 446.4,148.5 446.6,148.2" fill="none" stroke="#000" stroke-width="1.0" stroke-linejoin="round" />
<polyline points="265.8,149.2 266.0,149.3 266.3,149.4 266.5,149.3 266.7,149.3 266.9,149.2 267.2,149.2 267.4,149.4 267.6,149.4 267.8,149.3 268.1,149.5 268.3,149.2 268.5,149.5 268.7,149.2 269.0,149.4 269.2,149.2 269.4,149.3 269.6,149.2 269.9,149.3 270.1,149.4 270.3,149.4 270.6,149.4 270.8,149.2 271.0,149.4 271.2,149.4 271.5,149.3 271.7,149.2 271.9,149.3 272.1,149.4 272.4,149.2 272.6,149.2 272.8,149.2 273.0,149.3 273.3,149.2 273.5,149.4 273.7,149.3 273.9,149.3 274.2,149.3 274.4,149.3 274.6,149.4 274.9,149.5 275.1,149.3 275.3,149.4 275.5,149.2 275.8,149.1 276.0,149.4 276.2,149.2 276.4,149.3 276.7,149.3 276.9,149.3 277.1,149.4 277.3,149.3 277.6,149.3 277.8,149.4 278.0,149.2 278.2,149.4 278.5,149.4 278.7,149.4 278.9,149.3 279.2,149.3 279.4,149.5 279.6,149.3 279.8,149.4 280.1,149.3 280.3,149.3 280.5,149.3 280.7,149.5 281.0,149.5 281.2,149.2 281.4,149.3 281.6,149.2 281.9,149.5 282.1,149.4 282.3,149.4 282.5,149.3 282.8,149.3 283.0,149.3 283.2,149.3 283.5,149.4 283.7,149.4 283.9,149.4 284.1,149.3 284.4,149.3 284.6,149.3 284.8,149.3 285.0,149.3 285.3,149.4 285.5,149.2 285.7,149.4 285.9,149.3 286.2,149.4 286.4,149.4 286.6,149.3 286.8,149.3 287.1,149.2 287.3,149.4 287.5,149.2 287.7,149.3 288.0,149.4 288.2,149.2 288.4,149.3 288.7,149.3 288.9,149.3 289.1,149.2 289.3,149.2 289.6,149.2 289.8,149.3 290.0,149.2 290.2,149.2 290.5,149.2 290.7,149.4 290.9,149.5 291.1,149.3 291.4,149.3 291.6,149.4 291.8,149.3 292.0,149.3 292.3,149.1 292.5,149.1 292.7,149.3 293.0,149.3 293.2,149.3 293.4,149.2 293.6,149.3 293.9,149.3 294.1,149.3 294.3,149.3 294.5,149.4 294.8,149.3 295.0,149.3 295.2,149.2 295.4,149.3 295.7,149.2 295.9,149.3 296.1,149.1 296.3,149.2 296.6,149.4 296.8,149.3 297.0,149.4 297.3,149.4 297.5,149.2 297.7,149.2 297.9,149.4 298.2,149.3 298.4,149.3 298.6,149.4 298.8,149.2 299.1,149.3 299.3,149.3 299.5,149.3 299.7,149.3 300.0,149.3 300.2,149.2 300.4,149.2 300.6,149.2 300.9,149.4 301.1,149.2 301.3,149.3 301.6,149.4 301.8,149.3 302.0,149.5 302.2,149.3 302.5,149.2 302.7,149.3 302.9,149.3 303.1,149.3 303.4,149.4 303.6,149.3 303.8,149.1 304.0,149.2 304.3,149.4 304.5,149.4 304.7,149.4 304.9,149.2 305.2,149.4 305.4,149.3 305.6,149.3 305.9,149.3 306.1,149.3 306.3,149.3 306.5,149.4 306.8,149.3 307.0,149.3 307.2,149.3 307.4,149.3 307.7,149.2 307.9,149.3 308.1,149.3 308.3,149.4 308.6,149.4 308.8,149.5 309.0,149.4 309.2,149.1 309.5,149.2 309.7,149.2 309.9,149.3 310.2,149.2 310.4,149.2 310.6,149.2 310.8,149.3 311.1,149.2 311.3,149.4 311.5,149.2 311.7,149.2 312.0,149.3 312.2,149.3 312.4,149.3 312.6,149.4 312.9,149.5 313.1,149.4 313.3,149.4 313.5,149.1 313.8,149.3 314.0,149.2 314.2,149.3 314.5,149.2 314.7,149.5 314.9,149.3 315.1,149.2 315.4,149.3 315.6,149.3 315.8,149.2 316.0,149.2 316.3,149.4 316.5,149.2 316.7,149.3 316.9,149.3 317.2,149.4 317.4,149.2 317.6,149.3 317.8,149.2 318.1,149.2 318.3,149.3 318.5,149.3 318.8,149.1 319.0,149.4 319.2,149.3 319.4,149.4 319.7,149.5 319.9,149.3 320.1,149.4 320.3,149.3 320.6,149.3 320.8,149.1 321.0,149.3 321.2,149.4 321.5,149.3 321.7,149.1 321.9,149.3 322.1,149.2 322.4,149.5 322.6,149.5 322.8,149.3 323.0,149.4 323.3,149.2 323.5,149.2 323.7,149.2 324.0,149.4 324.2,149.2 324.4,149.2 324.6,149.2 324.9,149.4 325.1,149.2 325.3,149.2 325.5,149.5 325.8,149.4 326.0,149.3 326.2,149.4 326.4,149.4 326.7,149.2 326.9,149.4 327.1,149.4 327.3,149.3 327.6,149.5 327.8,149.3 328.0,149.4 328.3,149.4 328.5,149.3 328.7,149.4 328.9,149.3 329.2,149.2 329.4,149.3 329.6,149.3 329.8,149.2 330.1,149.1 330.3,149.4 330.5,149.3 330.7,149.4 331.0,149.3 331.2,149.6 331.4,149.3 331.6,149.5 331.9,149.4 332.1,149.3 332.3,149.4 332.6,149.3 332.8,149.4 333.0,149.1 333.2,149.6 333.5,149.4 333.7,149.4 333.9,149.2 334.1,149.4 334.4,149.3 334.6,149.2 334.8,149.1 335.0,149.4 335.3,149.5 335.5,149.2 335.7,149.5 335.9,149.2 336.2,149.3 336.4,149.5 336.6,149.4 336.9,149.4 337.1,149.4 337.3,149.3 337.5,149.3 337.8,149.3 338.0,149.4 338.2,149.4 338.4,149.3 338.7,149.2 338.9,149.3 339.1,149.4 339.3,149.3 339.6,149.3 339.8,149.3 340.0,149.3 340.2,149.5 340.5,149.5 340.7,149.4 340.9,149.1 341.2,149.3 341.4,149.4 341.6,149.2 341.8,149.3 342.1,149.3 342.3,149.3 342.5,149.3 342.7,149.5 343.0,149.4 343.2,149.4 343.4,149.3 343.6,149.3 343.9,149.4 344.1,149.3 344.3,149.3 344.5,149.4 344.8,149.2 345.0,149.3 345.2,149.4 345.5,149.2 345.7,149.4 345.9,149.3 346.1,149.5 346.4,149.2 346.6,149.3 346.8,149.4 347.0,149.3 347.3,149.2 347.5,149.5 347.7,149.2 347.9,149.5 348.2,149.1 348.4,149.3 348.6,149.3 348.8,149.3 349.1,149.2 349.3,149.1 349.5,149.3 349.8,149.4 350.0,149.3 350.2,149.2 350.4,149.4 350.7,149.3 350.9,149.3 351.1,149.4 351.3,149.3 351.6,149.4 351.8,149.1 352.0,149.3 352.2,149.2 352.5,149.1 352.7,149.3 352.9,149.2 353.1,149.4 353.4,149.3 353.6,149.3 353.8,149.3 354.1,149.5 354.3,149.2 354.5,149.2 354.7,149.3 355.0,149.2 355.2,149.3 355.4,149.2 355.6,149.4 355.9,149.3 356.1,149.4 356.3,149.4 356.5,149.5 356.8,149.3 357.0,149.4 357.2,149.2 357.4,149.3 357.7,149.2 357.9,149.2 358.1,149.4 358.3,149.3 358.6,149.3 358.8,149.4 359.0,149.4 359.3,149.3 359.5,149.2 359.7,149.3 359.9,149.4 360.2,149.4 360.4,149.4 360.6,149.2 360.8,149.3 361.1,149.3 361.3,149.4 361.5,149.4 361.7,149.2 362.0,149.3 362.2,149.5 362.4,149.5 362.6,149.2 362.9,149.5 363.1,149.4 363.3,149.2 363.6,149.3 363.8,149.3 364.0,149.4 364.2,149.2 364.5,149.2 364.7,149.3 364.9,149.3 365.1,149.1 365.4,149.3 365.6,149.3 365.8,149.4 366.0,149.4 366.3,149.3 366.5,149.1 366.7,149.1 366.9,149.2 367.2,149.1 367.4,149.4 367.6,149.3 367.9,149.4 368.1,149.3 368.3,149.4 368.5,149.2 368.8,149.4 369.0,149.3 369.2,149.3 369.4,149.3 369.7,149.2 369.9,149.2 370.1,149.3 370.3,149.3 370.6,149.3 370.8,149.2 371.0,149.3 371.2,149.3 371.5,149.3 371.7,149.3 371.9,149.2 372.2,149.3 372.4,149.5 372.6,149.2 372.8,149.3 373.1,149.1 373.3,149.1 373.5,149.4 373.7,149.2 374.0,149.2 374.2,149.3 374.4,149.3 374.6,149.2 374.9,149.3 375.1,149.4 375.3,149.3 375.5,149.2 375.8,149.4 376.0,149.5 376.2,149.4 376.5,149.3 376.7,149.2 376.9,149.5 377.1,149.2 377.4,149.4 377.6,149.4 377.8,149.3 378.0,149.1 378.3,149.3 378.5,149.4 378.7,149.3 378.9,149.3 379.2,149.2 379.4,149.4 379.6,149.2 379.8,149.3 380.1,149.2 380.3,149.3 380.5,149.3 380.8,149.4 381.0,149.3 381.2,149.4 381.4,149.2 381.7,149.2 381.9,149.3 382.1,149.2 382.3,149.2 382.6,149.3 382.8,149.0 383.0,149.3 383.2,149.3 383.5,149.3 383.7,149.5 383.9,149.1 384.1,149.1 384.4,149.3 384.6,149.3 384.8,149.3 385.1,149.4 385.3,149.5 385.5,149.2 385.7,149.2 386.0,149.1 386.2,149.3 386.4,149.4 386.6,149.3 386.9,149.4 387.1,149.2 387.3,149.1 387.5,149.1 387.8,149.3 388.0,149.4 388.2,149.2 388.4,149.2 388.7,149.4 388.9,149.2 389.1,149.3 389.4,149.4 389.6,149.3 389.8,149.2 390.0,149.3 390.3,149.3 390.5,149.2 390.7,149.4 390.9,149.2 391.2,149.2 391.4,149.4 391.6,149.3 391.8,149.2 392.1,149.2 392.3,149.4 392.5,149.3 392.7,149.4 393.0,149.4 393.2,149.3 393.4,149.3 393.6,149.2 393.9,149.4 394.1,149.3 394.3,149.1 394.6,149.1 394.8,149.4 395.0,149.2 395.2,149.5 395.5,149.3 395.7,149.3 395.9,149.3 396.1,149.3 396.4,149.3 396.6,149.4 396.8,149.3 397.0,149.2 397.3,149.2 397.5,149.3 397.7,149.4 397.9,149.4 398.2,149.2 398.4,149.2 398.6,149.3 398.9,149.2 399.1,149.2 399.3,149.3 399.5,149.2 399.8,149.2 400.0,149.3 400.2,149.4 400.4,149.3 400.7,149.2 400.9,149.4 401.1,149.4 401.3,149.4 401.6,149.3 401.8,149.3 402.0,149.5 402.2,149.2 402.5,149.2 402.7,149.3 402.9,149.3 403.2,149.2 403.4,149.3 403.6,149.3 403.8,149.2 404.1,149.2 404.3,149.3 404.5,149.4 404.7,149.4 405.0,149.2 405.2,149.3 405.4,149.4 405.6,149.1 405.9,149.4 406.1,149.3 406.3,149.3 406.5,149.3 406.8,149.4 407.0,149.2 407.2,149.3 407.5,149.4 407.7,149.1 407.9,149.5 408.1,149.3 408.4,149.3 408.6,149.3 408.8,149.2 409.0,149.4 409.3,149.3 409.5,149.4 409.7,149.2 409.9,149.2 410.2,149.4 410.4,149.2 410.6,149.3 410.8,149.2 411.1,149.4 411.3,149.2 411.5,149.4 411.8,149.4 412.0,149.2 412.2,149.4 412.4,149.1 412.7,149.4 412.9,149.3 413.1,149.4 413.3,149.3 413.6,149.3 413.8,149.3 414.0,149.3 414.2,149.3 414.5,149.3 414.7,149.3 414.9,149.4 415.1,149.3 415.4,149.3 415.6,149.2 415.8,149.2 416.1,149.1 416.3,149.1 416.5,149.3 416.7,149.3 417.0,149.3 417.2,149.2 417.4,149.1 417.6,149.3 417.9,149.5 418.1,149.1 418.3,149.2 418.5,149.2 418.8,149.2 419.0,149.3 419.2,149.3 419.4,149.4 419.7,149.1 419.9,149.2 420.1,149.2 420.4,149.3 420.6,149.4 420.8,149.2 421.0,149.3 421.3,149.3 421.5,149.3 421.7,149.3 421.9,149.4 422.2,149.4 422.4,149.4 422.6,149.3 422.8,149.3 423.1,149.4 423.3,149.3 423.5,149.1 423.7,149.4 424.0,149.4 424.2,149.3 424.4,149.6 424.7,149.3 424.9,149.4 425.1,149.3 425.3,149.3 425.6,149.4 425.8,149.4 426.0,149.2 426.2,149.4 426.5,149.3 426.7,149.2 426.9,149.2 427.1,149.3 427.4,149.3 427.6,149.3 427.8,149.4 428.0,149.2 428.3,149.2 428.5,149.1 428.7,149.3 428.9,148.9 429.2,149.2 429.4,149.1 429.6,149.3 429.9,149.2 430.1,149.4 430.3,149.3 430.5,149.2 430.8,149.3 431.0,149.3 431.2,149.1 431.4,149.4 431.7,149.4 431.9,149.2 432.1,149.4 432.3,149.2 432.6,149.4 432.8,149.4 433.0,149.3 433.2,149.4 433.5,149.3 433.7,149.3 433.9,149.3 434.2,149.3 434.4,149.3 434.6,149.3 434.8,149.2 435.1,149.5 435.3,149.3 435.5,149.2 435.7,149.2 436.0,149.3 436.2,149.3 436.4,149.3 436.6,149.3 436.9,149.2 437.1,149.5 437.3,149.2 437.5,149.4 437.8,149.2 438.0,149.2 438.2,149.2 438.5,149.2 438.7,149.3 438.9,149.2 439.1,149.2 439.4,149.4 439.6,149.3 439.8,149.1 440.0,149.4 440.3,149.4 440.5,149.2 440.7,149.2 440.9,149.3 441.2,149.1 441.4,149.3 441.6,149.4 441.8,149.2 442.1,149.4 442.3,149.3 442.5,149.1 442.8,149.2 443.0,149.3 443.2,149.4 443.4,149.2 443.7,149.4 443.9,149.4 444.1,149.3 444.3,149.3 444.6,149.3 444.8,149.3 445.0,149.3 445.2,149.3 445.5,149.3 445.7,149.3 445.9,149.2 446.1,149.3 446.4,149.3 446.6,149.2" fill="none" stroke="#D95319" stroke-width="1.2" stroke-linejoin="round" />
<polyline points="402.8,150.2 403.2,149.5 403.5,150.4 403.9,149.9 404.2,151.1 404.6,149.8 404.9,151.4 405.3,149.8 405.6,151.9 406.0,149.4 406.3,151.6 406.7,149.7 407.0,152.2 407.4,150.5 407.7,152.3 408.1,149.6 408.4,152.8 408.8,149.5 409.1,151.7 409.5,149.5 409.8,152.0 410.2,149.9 410.5,151.9 410.9,150.1 411.2,151.0 411.6,149.7 411.9,150.9 412.3,149.8 412.6,150.2 413.0,149.4 413.3,150.1 413.7,149.6 414.0,149.7 414.4,149.4 414.7,149.6 415.1,149.4 415.4,149.5 415.8,149.4 416.1,149.4 416.5,149.3" fill="none" stroke="#000" stroke-width="1.0" stroke-linejoin="round" />
<path d="M408.1,149.3L408.5,141.2L408.9,149.3" fill="none" stroke="#D95319" stroke-width="1.3"/>
<path d="M410.6,149.3L411.0,142.0L411.4,149.3" fill="none" stroke="#D95319" stroke-width="1.3"/>
<path d="M412.2,149.3L412.6,143.3L413.1,149.3" fill="none" stroke="#D95319" stroke-width="1.3"/>
<path d="M415.2,149.3L415.6,143.8L416.1,149.3" fill="none" stroke="#D95319" stroke-width="1.2"/>
<path d="M409.1,149.3L409.5,152.7L409.9,149.3" fill="none" stroke="#D95319" stroke-width="1.0"/>
<path d="M413.4,149.3L413.8,153.0L414.2,149.3" fill="none" stroke="#D95319" stroke-width="1.0"/>
<path d="M416.1,149.3L416.5,151.3L416.9,149.3" fill="none" stroke="#D95319" stroke-width="1.0"/>
<polyline points="266.3,186.3 266.6,185.6 266.8,185.9 267.1,185.9 267.3,186.0 267.6,185.9 267.9,185.8 268.1,185.7 268.4,185.8 268.6,185.7 268.9,185.5 269.1,185.4 269.4,185.9 269.7,186.3 269.9,186.4 270.2,185.7 270.4,185.9 270.7,186.1 271.0,185.6 271.2,185.8 271.5,185.7 271.7,185.7 272.0,185.6 272.2,185.6 272.5,185.6 272.8,185.6 273.0,186.0 273.3,185.7 273.5,185.6 273.8,186.0 274.1,185.9 274.3,186.0 274.6,185.8 274.8,185.6 275.1,186.3 275.4,185.7 275.6,185.6 275.9,186.1 276.1,186.0 276.4,186.1 276.6,186.2 276.9,185.7 277.2,186.0 277.4,186.4 277.7,186.2 277.9,186.0 278.2,185.4 278.5,185.9 278.7,185.9 279.0,186.0 279.2,185.7 279.5,185.8 279.8,185.5 280.0,185.8 280.3,185.5 280.5,185.8 280.8,186.1 281.0,186.1 281.3,186.3 281.6,186.1 281.8,185.5 282.1,185.9 282.3,185.7 282.6,185.8 282.9,185.7 283.1,186.4 283.4,186.2 283.6,185.0 283.9,185.5 284.1,186.5 284.4,185.9 284.7,185.8 284.9,185.8 285.2,185.5 285.4,185.9 285.7,186.2 286.0,186.2 286.2,186.3 286.5,185.8 286.7,186.2 287.0,185.7 287.3,186.2 287.5,185.7 287.8,185.8 288.0,185.7 288.3,185.6 288.5,185.8 288.8,186.3 289.1,185.5 289.3,185.8 289.6,186.0 289.8,186.0 290.1,185.5 290.4,185.9 290.6,185.7 290.9,185.6 291.1,185.7 291.4,185.8 291.6,186.0 291.9,186.2 292.2,185.8 292.4,186.0 292.7,185.5 292.9,185.7 293.2,185.7 293.5,185.4 293.7,186.2 294.0,186.0 294.2,186.1 294.5,185.8 294.8,185.3 295.0,186.1 295.3,185.9 295.5,186.3 295.8,185.5 296.0,185.9 296.3,185.8 296.6,186.2 296.8,185.3 297.1,186.0 297.3,185.9 297.6,185.7 297.9,185.6 298.1,185.7 298.4,186.3 298.6,185.8 298.9,185.7 299.1,185.4 299.4,185.4 299.7,186.1 299.9,185.8 300.2,186.0 300.4,185.9 300.7,186.0 301.0,186.2 301.2,185.3 301.5,185.8 301.7,185.9 302.0,185.6 302.3,185.7 302.5,186.0 302.8,185.9 303.0,186.0 303.3,185.4 303.5,186.1 303.8,185.5 304.1,185.8 304.3,186.0 304.6,186.1 304.8,185.8 305.1,185.8 305.4,185.9 305.6,185.9 305.9,185.6 306.1,186.2 306.4,185.7 306.7,186.6 306.9,186.1 307.2,185.9 307.4,185.3 307.7,185.8 307.9,186.2 308.2,186.3 308.5,186.1 308.7,185.7 309.0,186.0 309.2,186.0 309.5,185.5 309.8,185.8 310.0,185.8 310.3,186.0 310.5,186.1 310.8,186.1 311.0,186.1 311.3,185.9 311.6,185.7 311.8,185.7 312.1,185.7 312.3,185.8 312.6,186.0 312.9,186.1 313.1,186.1 313.4,185.4 313.6,185.9 313.9,186.0 314.2,185.8 314.4,185.8 314.7,186.2 314.9,186.3 315.2,186.1 315.4,185.8 315.7,185.4 316.0,186.3 316.2,185.7 316.5,185.8 316.7,185.9 317.0,185.7 317.3,186.1 317.5,186.1 317.8,185.6 318.0,186.6 318.3,185.9 318.5,186.0 318.8,186.0 319.1,186.2 319.3,185.4 319.6,185.1 319.8,186.3 320.1,185.9 320.4,186.1 320.6,186.3 320.9,185.7 321.1,186.3 321.4,186.2 321.7,185.7 321.9,185.7 322.2,185.9 322.4,186.2 322.7,186.1 322.9,185.9 323.2,185.6 323.5,185.9 323.7,186.0 324.0,185.9 324.2,185.4 324.5,186.2 324.8,186.2 325.0,185.4 325.3,186.0 325.5,185.7 325.8,185.8 326.0,185.7 326.3,185.4 326.6,186.1 326.8,185.9 327.1,185.9 327.3,185.6 327.6,186.3 327.9,185.7 328.1,186.1 328.4,186.0 328.6,185.7 328.9,185.8 329.2,185.9 329.4,185.7 329.7,185.7 329.9,186.1 330.2,186.0 330.4,186.0 330.7,185.9 331.0,186.2 331.2,185.6 331.5,185.8 331.7,186.0 332.0,185.7 332.3,185.5 332.5,185.4 332.8,186.1 333.0,185.8 333.3,186.1 333.6,185.5 333.8,186.0 334.1,186.3 334.3,185.8 334.6,185.5 334.8,185.9 335.1,185.9 335.4,185.8 335.6,185.8 335.9,185.9 336.1,185.9 336.4,185.9 336.7,185.3 336.9,185.9 337.2,185.9 337.4,185.5 337.7,185.9 337.9,185.4 338.2,185.7 338.5,186.0 338.7,185.6 339.0,186.3 339.2,185.7 339.5,186.1 339.8,185.7 340.0,186.2 340.3,186.0 340.5,185.8 340.8,185.4 341.1,185.9 341.3,185.7 341.6,185.6 341.8,185.9 342.1,185.7 342.3,185.9 342.6,186.2 342.9,185.8 343.1,185.8 343.4,186.0 343.6,186.1 343.9,185.6 344.2,186.1 344.4,185.7 344.7,186.3 344.9,186.0 345.2,185.5 345.4,185.8 345.7,186.0 346.0,186.2 346.2,186.0 346.5,186.1 346.7,185.9 347.0,185.9 347.3,185.5 347.5,186.1 347.8,186.1 348.0,185.8 348.3,185.7 348.6,185.8 348.8,185.7 349.1,185.8 349.3,185.4 349.6,185.9 349.8,185.8 350.1,185.7 350.4,186.5 350.6,186.2 350.9,186.0 351.1,186.0 351.4,185.9 351.7,186.0 351.9,185.9 352.2,185.1 352.4,185.7 352.7,185.8 352.9,185.3 353.2,186.0 353.5,186.0 353.7,185.8 354.0,185.7 354.2,186.1 354.5,185.9 354.8,185.9 355.0,185.5 355.3,185.8 355.5,186.2 355.8,186.1 356.1,185.2 356.3,185.5 356.6,186.0 356.8,185.8 357.1,185.9 357.3,186.0 357.6,186.0 357.9,186.1 358.1,185.8 358.4,186.0 358.6,185.7 358.9,185.9 359.2,185.7 359.4,185.9 359.7,186.2 359.9,185.9 360.2,185.9 360.5,185.5 360.7,185.9 361.0,185.9 361.2,185.5 361.5,185.8 361.7,186.3 362.0,185.5 362.3,185.8 362.5,186.1 362.8,186.1 363.0,185.8 363.3,185.4 363.6,185.4 363.8,186.1 364.1,186.2 364.3,186.0 364.6,185.7 364.8,186.0 365.1,185.5 365.4,186.5 365.6,185.4 365.9,185.6 366.1,185.8 366.4,185.8 366.7,185.7 366.9,185.4 367.2,185.7 367.4,186.3 367.7,185.7 368.0,186.0 368.2,185.5 368.5,185.9 368.7,185.5 369.0,185.7 369.2,185.9 369.5,185.6 369.8,185.8 370.0,185.8 370.3,185.8 370.5,185.8 370.8,185.6 371.1,186.0 371.3,186.2 371.6,185.6 371.8,185.8 372.1,186.1 372.3,186.3 372.6,185.5 372.9,185.8 373.1,185.8 373.4,185.7 373.6,185.9 373.9,186.0 374.2,185.4 374.4,186.5 374.7,185.4 374.9,186.0 375.2,185.8 375.5,185.7 375.7,185.9 376.0,186.0 376.2,185.8 376.5,185.8 376.7,186.1 377.0,186.2 377.3,185.7 377.5,186.0 377.8,185.8 378.0,186.3 378.3,185.3 378.6,186.1 378.8,186.2 379.1,185.7 379.3,185.9 379.6,185.9 379.8,186.1 380.1,185.6 380.4,185.4 380.6,186.2 380.9,185.6 381.1,185.9 381.4,185.8 381.7,185.9 381.9,186.2 382.2,185.8 382.4,185.9 382.7,185.6 383.0,186.0 383.2,186.3 383.5,185.8 383.7,185.7 384.0,185.7 384.2,185.8 384.5,186.2 384.8,185.6 385.0,185.5 385.3,185.9 385.5,185.8 385.8,185.7 386.1,185.6 386.3,185.6 386.6,186.1 386.8,185.7 387.1,185.4 387.4,186.1 387.6,185.6 387.9,185.8 388.1,185.9 388.4,185.9 388.6,185.7 388.9,186.3 389.2,186.3 389.4,186.1 389.7,186.2 389.9,185.7 390.2,185.7 390.5,185.7 390.7,186.1 391.0,185.7 391.2,186.3 391.5,185.8 391.7,186.1 392.0,186.1 392.3,185.8 392.5,185.7 392.8,185.9 393.0,186.1 393.3,185.6 393.6,185.7 393.8,186.1 394.1,185.6 394.3,185.4 394.6,185.9 394.9,186.3 395.1,185.6 395.4,185.4 395.6,186.1 395.9,186.3 396.1,185.9 396.4,185.8 396.7,186.0 396.9,185.2 397.2,185.9 397.4,185.3 397.7,186.3 398.0,186.4 398.2,185.7 398.5,185.8 398.7,186.1 399.0,185.3 399.2,186.1 399.5,186.0 399.8,185.7 400.0,185.7 400.3,186.0 400.5,185.8 400.8,185.8 401.1,186.0 401.3,186.0 401.6,186.2 401.8,185.9 402.1,185.8 402.4,185.6 402.6,185.7 402.9,185.5 403.1,186.3 403.4,186.1 403.6,185.9 403.9,185.6 404.2,185.2 404.4,186.0 404.7,185.9 404.9,185.8 405.2,185.5 405.5,185.7 405.7,186.2 406.0,186.1 406.2,185.7 406.5,185.4 406.7,186.4 407.0,186.4 407.3,185.8 407.5,185.4 407.8,185.8 408.0,185.6 408.3,184.7 408.6,183.1 408.8,180.9 409.1,179.9 409.3,180.4 409.6,181.9 409.9,182.9 410.1,183.7 410.4,183.2 410.6,184.1 410.9,184.6 411.1,184.4 411.4,186.2 411.7,188.7 411.9,190.9 412.2,192.5 412.4,192.2 412.7,190.1 413.0,188.3 413.2,186.8 413.5,186.4 413.7,185.8 414.0,185.5 414.3,185.8 414.5,185.3 414.8,184.7 415.0,183.3 415.3,181.8 415.5,181.6 415.8,182.1 416.1,183.6 416.3,185.2 416.6,185.6 416.8,185.7 417.1,185.7 417.4,186.0 417.6,185.6 417.9,186.4 418.1,186.2 418.4,185.9 418.6,186.1 418.9,185.7 419.2,185.9 419.4,185.9 419.7,186.1 419.9,186.0 420.2,185.8 420.5,185.4 420.7,186.2 421.0,185.6 421.2,185.7 421.5,185.5 421.8,185.9 422.0,185.7 422.3,185.9 422.5,185.6 422.8,186.0 423.0,185.8 423.3,186.1 423.6,186.0 423.8,185.8 424.1,186.3 424.3,186.0 424.6,185.9 424.9,185.3 425.1,186.3 425.4,186.0 425.6,186.1 425.9,186.0 426.1,186.2 426.4,185.8 426.7,185.7 426.9,185.9 427.2,185.8 427.4,186.4 427.7,185.7 428.0,186.0 428.2,186.2 428.5,185.5 428.7,185.2 429.0,186.1 429.3,185.9 429.5,186.0 429.8,186.3 430.0,185.8 430.3,185.9 430.5,185.9 430.8,186.3 431.1,186.0 431.3,186.1 431.6,185.8 431.8,185.6 432.1,185.8 432.4,185.9 432.6,185.8 432.9,185.9 433.1,186.0 433.4,185.5 433.6,185.3 433.9,185.7 434.2,185.7 434.4,185.9 434.7,185.9 434.9,185.8 435.2,186.6 435.5,185.3 435.7,185.7 436.0,185.8 436.2,185.7 436.5,185.9 436.8,185.8 437.0,185.6 437.3,186.4 437.5,186.2 437.8,185.6 438.0,185.7 438.3,186.8 438.6,185.9 438.8,186.4 439.1,185.8 439.3,185.6 439.6,185.4 439.9,185.9 440.1,186.0 440.4,185.9 440.6,185.6 440.9,186.0 441.2,185.8 441.4,185.7 441.7,186.2 441.9,185.7 442.2,185.7 442.4,185.5 442.7,186.1 443.0,186.1 443.2,186.0 443.5,186.0 443.7,185.5 444.0,185.9 444.3,186.0 444.5,186.1 444.8,186.1 445.0,185.7 445.3,186.2 445.5,185.3 445.8,185.5 446.1,185.9 446.3,185.8 446.6,185.6 446.8,185.8 447.1,185.8" fill="none" stroke="#EDB120" stroke-width="1.2" stroke-linejoin="round" />
<line x1="265.80" y1="0.3" x2="265.80" y2="57.2" stroke="#c8c8c8" stroke-width="1"/>
<line x1="446.60" y1="0.3" x2="446.60" y2="57.2" stroke="#c4c4c4" stroke-width="0.9"/>
<line x1="265.80" y1="0.30" x2="446.60" y2="0.30" stroke="#a8a8a8" stroke-width="0.9"/>
<line x1="265.80" y1="57.20" x2="446.60" y2="57.20" stroke="#7c7c7c" stroke-width="1.2"/>
<path d="M265.80,11.50h1.8M446.60,11.50h-1.8" stroke="#666" stroke-width="0.8"/>
<text x="261.9" y="15.3" class="tk" text-anchor="end">475</text>
<path d="M265.80,28.50h1.8M446.60,28.50h-1.8" stroke="#666" stroke-width="0.8"/>
<text x="261.9" y="32.3" class="tk" text-anchor="end">450</text>
<path d="M265.80,45.50h1.8M446.60,45.50h-1.8" stroke="#666" stroke-width="0.8"/>
<text x="261.9" y="49.3" class="tk" text-anchor="end">425</text>
<path d="M311.00,57.20v-1.8M311.00,0.30v1.8" stroke="#666" stroke-width="0.8"/>
<path d="M356.20,57.20v-1.8M356.20,0.30v1.8" stroke="#666" stroke-width="0.8"/>
<path d="M401.40,57.20v-1.8M401.40,0.30v1.8" stroke="#666" stroke-width="0.8"/>
<line x1="265.80" y1="57.2" x2="265.80" y2="115.8" stroke="#c8c8c8" stroke-width="1"/>
<line x1="446.60" y1="57.2" x2="446.60" y2="115.8" stroke="#c4c4c4" stroke-width="0.9"/>
<line x1="265.80" y1="115.80" x2="446.60" y2="115.80" stroke="#7c7c7c" stroke-width="1.2"/>
<path d="M265.80,64.79h1.8M446.60,64.79h-1.8" stroke="#666" stroke-width="0.8"/>
<text x="261.9" y="68.6" class="tk" text-anchor="end">3</text>
<path d="M265.80,75.69h1.8M446.60,75.69h-1.8" stroke="#666" stroke-width="0.8"/>
<text x="261.9" y="79.5" class="tk" text-anchor="end">1.5</text>
<path d="M265.80,86.60h1.8M446.60,86.60h-1.8" stroke="#666" stroke-width="0.8"/>
<text x="261.9" y="90.4" class="tk" text-anchor="end">0</text>
<path d="M265.80,97.50h1.8M446.60,97.50h-1.8" stroke="#666" stroke-width="0.8"/>
<text x="261.9" y="101.3" class="tk" text-anchor="end">-1.5</text>
<path d="M265.80,108.41h1.8M446.60,108.41h-1.8" stroke="#666" stroke-width="0.8"/>
<text x="261.9" y="112.2" class="tk" text-anchor="end">-3</text>
<path d="M311.00,115.80v-1.8M311.00,57.20v1.8" stroke="#666" stroke-width="0.8"/>
<path d="M356.20,115.80v-1.8M356.20,57.20v1.8" stroke="#666" stroke-width="0.8"/>
<path d="M401.40,115.80v-1.8M401.40,57.20v1.8" stroke="#666" stroke-width="0.8"/>
<line x1="265.60" y1="115.8" x2="265.60" y2="162.8" stroke="#999" stroke-width="1"/>
<line x1="446.60" y1="115.8" x2="446.60" y2="162.8" stroke="#c4c4c4" stroke-width="0.9"/>
<line x1="265.80" y1="162.80" x2="446.60" y2="162.80" stroke="#7c7c7c" stroke-width="1.2"/>
<path d="M265.60,125.11h1.8M446.60,125.11h-1.8" stroke="#666" stroke-width="0.8"/>
<text x="261.9" y="128.9" class="tk" text-anchor="end">3.6</text>
<path d="M265.60,137.20h1.8M446.60,137.20h-1.8" stroke="#666" stroke-width="0.8"/>
<text x="261.9" y="141.0" class="tk" text-anchor="end">1.8</text>
<path d="M265.60,149.30h1.8M446.60,149.30h-1.8" stroke="#666" stroke-width="0.8"/>
<text x="261.9" y="153.1" class="tk" text-anchor="end">0</text>
<path d="M311.00,162.80v-1.8M311.00,115.80v1.8" stroke="#666" stroke-width="0.8"/>
<path d="M356.20,162.80v-1.8M356.20,115.80v1.8" stroke="#666" stroke-width="0.8"/>
<path d="M401.40,162.80v-1.8M401.40,115.80v1.8" stroke="#666" stroke-width="0.8"/>
<line x1="266.40" y1="162.8" x2="266.40" y2="208.5" stroke="#8c8c8c" stroke-width="1"/>
<line x1="446.60" y1="162.8" x2="446.60" y2="208.5" stroke="#c4c4c4" stroke-width="0.9"/>
<line x1="265.80" y1="208.50" x2="446.60" y2="208.50" stroke="#d0d0d0" stroke-width="1"/>
<path d="M266.40,174.40h1.8M446.60,174.40h-1.8" stroke="#666" stroke-width="0.8"/>
<text x="261.9" y="178.2" class="tk" text-anchor="end">0.5</text>
<path d="M266.40,185.85h1.8M446.60,185.85h-1.8" stroke="#666" stroke-width="0.8"/>
<text x="261.9" y="189.7" class="tk" text-anchor="end">0</text>
<path d="M266.40,197.30h1.8M446.60,197.30h-1.8" stroke="#666" stroke-width="0.8"/>
<text x="261.9" y="201.1" class="tk" text-anchor="end">-0.5</text>
<path d="M311.55,208.50v-1.8M311.55,162.80v1.8" stroke="#666" stroke-width="0.8"/>
<path d="M356.75,208.50v-1.8M356.75,162.80v1.8" stroke="#666" stroke-width="0.8"/>
<path d="M401.95,208.50v-1.8M401.95,162.80v1.8" stroke="#666" stroke-width="0.8"/>
<text x="266.0" y="222.2" class="tk" text-anchor="middle" style="letter-spacing:0.4px">0.15</text>
<text x="311.2" y="222.2" class="tk" text-anchor="middle" style="letter-spacing:0.4px">0.2</text>
<text x="356.4" y="222.2" class="tk" text-anchor="middle" style="letter-spacing:0.4px">0.25</text>
<text x="401.6" y="222.2" class="tk" text-anchor="middle" style="letter-spacing:0.4px">0.3</text>
<text x="446.8" y="222.2" class="tk" text-anchor="middle" style="letter-spacing:0.4px">0.35</text>
<text x="356.2" y="233.4" class="tl" text-anchor="middle">Time (s)</text>
<text x="351.9" y="250.0" class="cap" text-anchor="middle">b) traditional ESO-based ADRC method</text>
<text class="yl" transform="translate(238.2,28.2) rotate(-90)" text-anchor="middle">V<tspan class="sub" dy="3.5">dc</tspan><tspan dy="-3.5"> (V)</tspan></text>
<text class="yl" transform="translate(237.9,87.3) rotate(-90)" text-anchor="middle">i<tspan class="sub" dy="3.5">abcn</tspan><tspan dy="-3.5"> (A)</tspan></text>
<text class="yl" transform="translate(240.6,138.7) rotate(-90)" text-anchor="middle">i<tspan class="sub" dy="3.5">dq</tspan><tspan dy="-3.5"> (A)</tspan></text>
<text class="yl" transform="translate(237.1,186.2) rotate(-90)" text-anchor="middle">i<tspan class="sub" dy="3.5">0</tspan><tspan dy="-3.5"> (A)</tspan></text>
<line x1="540.50" y1="0.3" x2="540.50" y2="56.4" stroke="#ececec" stroke-width="0.8"/>
<line x1="585.60" y1="0.3" x2="585.60" y2="56.4" stroke="#ececec" stroke-width="0.8"/>
<line x1="630.70" y1="0.3" x2="630.70" y2="56.4" stroke="#ececec" stroke-width="0.8"/>
<line x1="495.4" y1="11.50" x2="675.8" y2="11.50" stroke="#ececec" stroke-width="0.8"/>
<line x1="495.4" y1="28.50" x2="675.8" y2="28.50" stroke="#ececec" stroke-width="0.8"/>
<line x1="495.4" y1="45.50" x2="675.8" y2="45.50" stroke="#ececec" stroke-width="0.8"/>
<line x1="540.50" y1="56.4" x2="540.50" y2="115.6" stroke="#ececec" stroke-width="0.8"/>
<line x1="585.60" y1="56.4" x2="585.60" y2="115.6" stroke="#ececec" stroke-width="0.8"/>
<line x1="630.70" y1="56.4" x2="630.70" y2="115.6" stroke="#ececec" stroke-width="0.8"/>
<line x1="495.4" y1="64.79" x2="675.8" y2="64.79" stroke="#ececec" stroke-width="0.8"/>
<line x1="495.4" y1="75.69" x2="675.8" y2="75.69" stroke="#ececec" stroke-width="0.8"/>
<line x1="495.4" y1="86.60" x2="675.8" y2="86.60" stroke="#ececec" stroke-width="0.8"/>
<line x1="495.4" y1="97.50" x2="675.8" y2="97.50" stroke="#ececec" stroke-width="0.8"/>
<line x1="495.4" y1="108.41" x2="675.8" y2="108.41" stroke="#ececec" stroke-width="0.8"/>
<line x1="540.50" y1="115.6" x2="540.50" y2="162.4" stroke="#ececec" stroke-width="0.8"/>
<line x1="585.60" y1="115.6" x2="585.60" y2="162.4" stroke="#ececec" stroke-width="0.8"/>
<line x1="630.70" y1="115.6" x2="630.70" y2="162.4" stroke="#ececec" stroke-width="0.8"/>
<line x1="495.4" y1="125.11" x2="675.8" y2="125.11" stroke="#ececec" stroke-width="0.8"/>
<line x1="495.4" y1="137.20" x2="675.8" y2="137.20" stroke="#ececec" stroke-width="0.8"/>
<line x1="495.4" y1="149.30" x2="675.8" y2="149.30" stroke="#ececec" stroke-width="0.8"/>
<line x1="541.05" y1="162.4" x2="541.05" y2="208.3" stroke="#ececec" stroke-width="0.8"/>
<line x1="586.15" y1="162.4" x2="586.15" y2="208.3" stroke="#ececec" stroke-width="0.8"/>
<line x1="631.25" y1="162.4" x2="631.25" y2="208.3" stroke="#ececec" stroke-width="0.8"/>
<polyline points="495.4,28.5 495.6,28.5 495.9,28.5 496.1,28.5 496.4,28.5 496.6,28.5 496.9,28.5 497.1,28.5 497.4,28.5 497.6,28.5 497.9,28.5 498.1,28.5 498.4,28.5 498.6,28.5 498.9,28.5 499.1,28.5 499.4,28.5 499.6,28.5 499.9,28.5 500.1,28.5 500.4,28.5 500.6,28.5 500.9,28.5 501.1,28.5 501.4,28.5 501.6,28.5 501.9,28.5 502.1,28.5 502.4,28.5 502.6,28.5 502.9,28.5 503.1,28.5 503.4,28.5 503.6,28.5 503.9,28.5 504.1,28.5 504.4,28.5 504.6,28.5 504.9,28.5 505.1,28.5 505.4,28.5 505.6,28.5 505.9,28.5 506.1,28.5 506.4,28.5 506.6,28.5 506.9,28.5 507.1,28.5 507.4,28.5 507.6,28.5 507.9,28.5 508.1,28.5 508.4,28.5 508.6,28.5 508.9,28.5 509.1,28.5 509.4,28.5 509.6,28.5 509.9,28.5 510.1,28.5 510.4,28.5 510.6,28.5 510.9,28.5 511.1,28.5 511.4,28.5 511.6,28.5 511.9,28.5 512.1,28.5 512.4,28.5 512.6,28.5 512.9,28.5 513.1,28.5 513.4,28.5 513.6,28.5 513.9,28.5 514.1,28.5 514.4,28.5 514.6,28.5 514.9,28.5 515.1,28.5 515.4,28.5 515.6,28.5 515.9,28.5 516.1,28.5 516.4,28.5 516.6,28.5 516.9,28.5 517.1,28.5 517.4,28.5 517.6,28.5 517.9,28.5 518.1,28.5 518.4,28.5 518.6,28.5 518.9,28.5 519.1,28.5 519.4,28.5 519.6,28.5 519.9,28.5 520.1,28.5 520.4,28.5 520.6,28.5 520.9,28.5 521.1,28.5 521.4,28.5 521.6,28.5 521.9,28.5 522.1,28.5 522.4,28.5 522.6,28.5 522.9,28.5 523.1,28.5 523.4,28.5 523.6,28.5 523.9,28.5 524.1,28.5 524.4,28.5 524.6,28.5 524.9,28.5 525.1,28.5 525.4,28.5 525.6,28.5 525.9,28.5 526.1,28.5 526.4,28.5 526.6,28.5 526.9,28.5 527.1,28.5 527.4,28.5 527.6,28.5 527.9,28.5 528.1,28.5 528.4,28.5 528.6,28.5 528.9,28.5 529.1,28.5 529.4,28.5 529.6,28.5 529.9,28.5 530.1,28.5 530.4,28.5 530.6,28.5 530.9,28.5 531.1,28.5 531.4,28.5 531.6,28.5 531.9,28.5 532.1,28.5 532.4,28.5 532.6,28.5 532.9,28.5 533.1,28.5 533.4,28.5 533.6,28.5 533.9,28.5 534.1,28.5 534.4,28.5 534.6,28.5 534.9,28.5 535.1,28.5 535.4,28.5 535.6,28.5 535.9,28.5 536.1,28.5 536.4,28.5 536.6,28.5 536.9,28.5 537.1,28.5 537.4,28.5 537.6,28.5 537.9,28.5 538.1,28.5 538.4,28.5 538.6,28.5 538.9,28.5 539.1,28.5 539.4,28.5 539.6,28.5 539.9,28.5 540.1,28.5 540.4,28.7 540.6,29.5 540.9,29.8 541.1,29.9 541.4,29.9 541.6,29.9 541.9,29.9 542.1,29.8 542.4,29.8 542.6,29.8 542.9,29.8 543.1,29.7 543.4,29.6 543.6,29.6 543.9,29.5 544.1,29.4 544.4,29.4 544.6,29.3 544.9,29.3 545.1,29.2 545.4,29.2 545.6,29.1 545.9,29.1 546.1,29.1 546.4,29.0 546.6,29.0 546.9,28.9 547.1,28.9 547.4,28.9 547.6,28.8 547.9,28.8 548.1,28.7 548.4,28.7 548.6,28.7 548.9,28.7 549.1,28.7 549.4,28.6 549.6,28.6 549.9,28.6 550.1,28.6 550.4,28.6 550.6,28.6 550.9,28.6 551.1,28.6 551.4,28.6 551.6,28.6 551.9,28.6 552.1,28.6 552.4,28.6 552.6,28.6 552.9,28.6 553.1,28.6 553.4,28.6 553.6,28.6 553.9,28.6 554.1,28.6 554.4,28.6 554.6,28.6 554.9,28.6 555.1,28.5 555.4,28.5 555.6,28.5 555.9,28.5 556.1,28.5 556.4,28.5 556.6,28.5 556.9,28.5 557.1,28.5 557.4,28.5 557.6,28.5 557.9,28.5 558.1,28.5 558.4,28.5 558.6,28.5 558.9,28.5 559.1,28.5 559.4,28.5 559.6,28.5 559.9,28.5 560.1,28.5 560.4,28.5 560.6,28.5 560.9,28.5 561.1,28.5 561.4,28.5 561.6,28.5 561.9,28.5 562.1,28.5 562.4,28.5 562.6,28.5 562.9,28.5 563.1,28.5 563.4,28.5 563.6,28.5 563.9,28.5 564.1,28.5 564.4,28.5 564.6,28.5 564.9,28.5 565.1,28.5 565.4,28.5 565.6,28.5 565.9,28.5 566.1,28.5 566.4,28.5 566.6,28.5 566.9,28.5 567.1,28.5 567.4,28.5 567.6,28.5 567.9,28.5 568.1,28.5 568.4,28.5 568.6,28.5 568.9,28.5 569.1,28.5 569.4,28.5 569.6,28.5 569.9,28.5 570.1,28.5 570.4,28.5 570.6,28.5 570.9,28.5 571.1,28.5 571.4,28.5 571.6,28.5 571.9,28.5 572.1,28.5 572.4,28.5 572.6,28.5 572.9,28.5 573.1,28.5 573.4,28.5 573.6,28.5 573.9,28.5 574.1,28.5 574.4,28.5 574.6,28.5 574.9,28.5 575.1,28.5 575.4,28.5 575.6,28.5 575.9,28.5 576.1,28.5 576.4,28.5 576.6,28.5 576.9,28.5 577.1,28.5 577.4,28.5 577.6,28.5 577.9,28.5 578.1,28.5 578.4,28.5 578.6,28.5 578.9,28.5 579.1,28.5 579.4,28.5 579.6,28.5 579.9,28.5 580.1,28.5 580.4,28.5 580.6,28.5 580.9,28.5 581.1,28.5 581.4,28.5 581.6,28.5 581.9,28.5 582.1,28.5 582.4,28.5 582.6,28.5 582.9,28.5 583.1,28.5 583.4,28.5 583.6,28.5 583.9,28.5 584.1,28.5 584.4,28.5 584.6,28.5 584.9,28.5 585.1,28.5 585.4,28.5 585.6,28.5 585.9,28.5 586.1,28.5 586.4,28.5 586.6,28.5 586.9,28.5 587.1,28.5 587.4,28.5 587.6,28.5 587.9,28.5 588.1,28.5 588.4,28.5 588.6,28.5 588.9,28.5 589.1,28.5 589.4,28.5 589.6,28.5 589.9,28.5 590.1,28.5 590.4,28.5 590.6,28.5 590.9,28.5 591.1,28.5 591.4,28.5 591.6,28.5 591.9,28.5 592.1,28.5 592.4,28.5 592.6,28.5 592.9,28.5 593.1,28.5 593.4,28.5 593.6,28.5 593.9,28.5 594.1,28.5 594.4,28.5 594.6,28.5 594.9,28.5 595.1,28.5 595.4,28.5 595.6,28.5 595.9,28.5 596.1,28.5 596.4,28.5 596.6,28.5 596.9,28.5 597.1,28.5 597.4,28.5 597.6,28.5 597.9,28.5 598.1,28.5 598.4,28.5 598.6,28.5 598.9,28.5 599.1,28.5 599.4,28.5 599.6,28.5 599.9,28.5 600.1,28.5 600.4,28.5 600.6,28.5 600.9,28.5 601.1,28.5 601.4,28.5 601.6,28.5 601.9,28.5 602.1,28.5 602.4,28.5 602.6,28.5 602.9,28.5 603.1,28.5 603.4,28.5 603.6,28.5 603.9,28.5 604.1,28.5 604.4,28.5 604.6,28.5 604.9,28.5 605.1,28.5 605.4,28.5 605.6,28.5 605.9,28.5 606.1,28.5 606.4,28.5 606.6,28.5 606.9,28.5 607.1,28.5 607.4,28.5 607.6,28.5 607.9,28.5 608.1,28.5 608.4,28.5 608.6,28.5 608.9,28.5 609.1,28.5 609.4,28.5 609.6,28.5 609.9,28.5 610.1,28.5 610.4,28.5 610.6,28.5 610.9,28.5 611.1,28.5 611.4,28.5 611.6,28.5 611.9,28.5 612.1,28.5 612.4,28.5 612.6,28.5 612.9,28.5 613.1,28.5 613.4,28.5 613.6,28.5 613.9,28.5 614.1,28.5 614.4,28.5 614.6,28.5 614.9,28.5 615.1,28.5 615.4,28.5 615.6,28.5 615.9,28.5 616.1,28.5 616.4,28.5 616.6,28.5 616.9,28.5 617.1,28.5 617.4,28.5 617.6,28.5 617.9,28.5 618.1,28.5 618.4,28.5 618.6,28.5 618.9,28.5 619.1,28.5 619.4,28.5 619.6,28.5 619.9,28.5 620.1,28.5 620.4,28.5 620.6,28.5 620.9,28.5 621.1,28.5 621.4,28.5 621.6,28.5 621.9,28.5 622.1,28.5 622.4,28.5 622.6,28.5 622.9,28.5 623.1,28.5 623.4,28.5 623.6,28.5 623.9,28.5 624.1,28.5 624.4,28.5 624.6,28.5 624.9,28.5 625.1,28.5 625.4,28.5 625.6,28.5 625.9,28.5 626.1,28.5 626.4,28.5 626.6,28.5 626.9,28.5 627.1,28.5 627.4,28.5 627.6,28.5 627.9,28.5 628.1,28.5 628.4,28.5 628.6,28.5 628.9,28.5 629.1,28.5 629.4,28.5 629.6,28.5 629.9,28.5 630.1,28.5 630.4,28.5 630.6,28.0 630.9,27.4 631.1,27.0 631.4,26.5 631.6,26.4 631.9,26.2 632.1,26.2 632.4,26.2 632.6,26.2 632.9,26.3 633.1,26.3 633.4,26.4 633.6,26.5 633.9,26.6 634.1,26.7 634.4,26.8 634.6,26.9 634.9,27.0 635.1,27.1 635.4,27.2 635.6,27.2 635.9,27.3 636.1,27.4 636.4,27.5 636.6,27.5 636.9,27.6 637.1,27.7 637.4,27.7 637.6,27.8 637.9,27.8 638.1,27.9 638.4,27.9 638.6,28.0 638.9,28.0 639.1,28.1 639.4,28.1 639.6,28.2 639.9,28.2 640.1,28.3 640.4,28.3 640.6,28.3 640.9,28.4 641.1,28.4 641.4,28.4 641.6,28.5 641.9,28.5 642.1,28.5 642.4,28.5 642.6,28.5 642.9,28.5 643.1,28.5 643.4,28.5 643.6,28.5 643.9,28.5 644.1,28.5 644.4,28.5 644.6,28.5 644.9,28.5 645.1,28.5 645.4,28.5 645.6,28.5 645.9,28.5 646.1,28.5 646.4,28.5 646.6,28.5 646.9,28.5 647.1,28.5 647.4,28.5 647.6,28.5 647.9,28.5 648.1,28.5 648.4,28.5 648.6,28.5 648.9,28.5 649.1,28.5 649.4,28.5 649.6,28.5 649.9,28.5 650.1,28.5 650.4,28.5 650.6,28.5 650.9,28.5 651.1,28.5 651.4,28.5 651.6,28.5 651.9,28.5 652.1,28.5 652.4,28.5 652.6,28.5 652.9,28.5 653.1,28.5 653.4,28.5 653.6,28.5 653.9,28.5 654.1,28.5 654.4,28.5 654.6,28.5 654.9,28.5 655.1,28.5 655.4,28.5 655.6,28.5 655.9,28.5 656.1,28.5 656.4,28.5 656.6,28.5 656.9,28.5 657.1,28.5 657.4,28.5 657.6,28.5 657.9,28.5 658.1,28.5 658.4,28.5 658.6,28.5 658.9,28.5 659.1,28.5 659.4,28.5 659.6,28.5 659.9,28.5 660.1,28.5 660.4,28.5 660.6,28.5 660.9,28.5 661.1,28.5 661.4,28.5 661.6,28.5 661.9,28.5 662.1,28.5 662.4,28.5 662.6,28.5 662.9,28.5 663.1,28.5 663.4,28.5 663.6,28.5 663.9,28.5 664.1,28.5 664.4,28.5 664.6,28.5 664.9,28.5 665.1,28.5 665.4,28.5 665.6,28.5 665.9,28.5 666.1,28.5 666.4,28.5 666.6,28.5 666.9,28.5 667.1,28.5 667.4,28.5 667.6,28.5 667.9,28.5 668.1,28.5 668.4,28.5 668.6,28.5 668.9,28.5 669.1,28.5 669.4,28.5 669.6,28.5 669.9,28.5 670.1,28.5 670.4,28.5 670.6,28.5 670.9,28.5 671.1,28.5 671.4,28.5 671.6,28.5 671.9,28.5 672.1,28.5 672.4,28.5 672.6,28.5 672.9,28.5 673.1,28.5 673.4,28.5 673.6,28.5 673.9,28.5 674.1,28.5 674.4,28.5 674.6,28.5 674.9,28.5 675.1,28.5 675.4,28.5 675.6,28.5" fill="none" stroke="#ff0000" stroke-width="1.2" stroke-linejoin="round" />
<polyline points="495.4,86.4 495.6,87.1 495.8,86.7 495.9,87.0 496.1,86.3 496.3,86.9 496.5,86.3 496.7,86.6 496.8,86.4 497.0,86.6 497.2,86.3 497.4,86.4 497.6,86.7 497.7,86.6 497.9,86.8 498.1,87.0 498.3,86.2 498.5,87.1 498.7,86.3 498.8,86.4 499.0,86.7 499.2,86.6 499.4,86.7 499.6,86.8 499.7,86.4 499.9,86.5 500.1,86.7 500.3,86.6 500.5,86.3 500.6,86.3 500.8,86.0 501.0,86.1 501.2,85.9 501.4,86.6 501.5,86.6 501.7,86.4 501.9,87.4 502.1,86.9 502.3,86.9 502.4,86.8 502.6,86.5 502.8,87.1 503.0,86.6 503.2,86.3 503.3,86.7 503.5,86.3 503.7,86.8 503.9,86.5 504.1,86.9 504.2,86.5 504.4,86.2 504.6,86.4 504.8,86.7 505.0,86.7 505.2,86.9 505.3,86.9 505.5,86.7 505.7,86.8 505.9,86.6 506.1,86.8 506.2,86.6 506.4,86.8 506.6,86.3 506.8,86.3 507.0,86.6 507.1,86.4 507.3,86.7 507.5,87.0 507.7,87.0 507.9,86.3 508.0,87.6 508.2,86.4 508.4,86.7 508.6,86.3 508.8,87.1 508.9,86.9 509.1,86.3 509.3,86.5 509.5,86.5 509.7,87.0 509.8,87.0 510.0,86.9 510.2,86.3 510.4,86.0 510.6,86.1 510.7,87.2 510.9,87.1 511.1,86.6 511.3,87.0 511.5,86.6 511.7,86.8 511.8,86.8 512.0,86.0 512.2,87.2 512.4,86.4 512.6,87.1 512.7,86.6 512.9,86.5 513.1,86.2 513.3,85.8 513.5,86.8 513.6,86.8 513.8,86.5 514.0,86.6 514.2,86.4 514.4,86.3 514.5,87.0 514.7,86.7 514.9,87.0 515.1,86.5 515.3,86.4 515.4,86.6 515.6,86.8 515.8,86.7 516.0,86.5 516.2,86.5 516.3,86.4 516.5,86.8 516.7,87.1 516.9,86.6 517.1,86.2 517.3,86.5 517.4,86.7 517.6,87.2 517.8,86.6 518.0,87.0 518.2,86.5 518.3,87.1 518.5,86.5 518.7,86.4 518.9,86.8 519.1,86.1 519.2,86.7 519.4,86.6 519.6,86.8 519.8,87.1 520.0,86.4 520.1,86.7 520.3,86.1 520.5,86.8 520.7,86.2 520.9,86.1 521.0,86.3 521.2,87.3 521.4,86.6 521.6,86.9 521.8,87.3 521.9,86.7 522.1,86.7 522.3,86.6 522.5,87.0 522.7,86.3 522.8,86.8 523.0,86.3 523.2,86.8 523.4,86.3 523.6,86.7 523.8,86.5 523.9,86.1 524.1,86.4 524.3,86.7 524.5,86.6 524.7,85.8 524.8,86.2 525.0,86.2 525.2,86.1 525.4,86.9 525.6,86.9 525.7,86.8 525.9,86.8 526.1,86.1 526.3,86.7 526.5,86.3 526.6,86.6 526.8,85.5 527.0,86.9 527.2,86.2 527.4,87.4 527.5,86.5 527.7,86.9 527.9,87.6 528.1,86.4 528.3,86.6 528.4,86.9 528.6,87.2 528.8,86.4 529.0,86.1 529.2,86.5 529.3,87.0 529.5,87.0 529.7,87.5 529.9,86.0 530.1,86.4 530.3,86.0 530.4,86.1 530.6,87.3 530.8,86.7 531.0,87.1 531.2,86.8 531.3,85.6 531.5,86.9 531.7,87.3 531.9,86.4 532.1,87.3 532.2,86.6 532.4,86.7 532.6,86.8 532.8,86.8 533.0,86.8 533.1,86.7 533.3,86.2 533.5,86.5 533.7,86.1 533.9,87.2 534.0,86.3 534.2,86.5 534.4,86.9 534.6,87.1 534.8,86.4 534.9,86.4 535.1,86.6 535.3,85.8 535.5,86.4 535.7,86.2 535.9,87.0 536.0,86.8 536.2,86.5 536.4,86.4 536.6,86.4 536.8,86.5 536.9,86.1 537.1,86.6 537.3,86.5 537.5,86.3 537.7,86.9 537.8,87.0 538.0,87.6 538.2,86.3 538.4,86.9 538.6,87.2 538.7,87.1 538.9,87.7 539.1,86.2 539.3,86.2 539.5,86.3 539.6,86.4 539.8,86.7 540.0,86.8 540.2,86.7 540.4,86.4 540.5,107.8 540.7,108.1 540.9,108.3 541.1,108.4 541.3,108.4 541.4,108.3 541.6,108.2 541.8,107.9 542.0,107.6 542.2,107.2 542.4,106.7 542.5,106.1 542.7,105.5 542.9,104.7 543.1,103.9 543.3,103.1 543.4,102.1 543.6,101.1 543.8,100.1 544.0,99.0 544.2,97.8 544.3,96.6 544.5,95.4 544.7,94.1 544.9,92.8 545.1,91.5 545.2,90.1 545.4,88.8 545.6,87.4 545.8,86.0 546.0,84.7 546.1,83.3 546.3,82.0 546.5,80.6 546.7,79.3 546.9,78.1 547.0,76.8 547.2,75.6 547.4,74.4 547.6,73.3 547.8,72.3 547.9,71.3 548.1,70.3 548.3,69.4 548.5,68.6 548.7,67.9 548.9,67.2 549.0,66.6 549.2,66.1 549.4,65.7 549.6,65.3 549.8,65.1 549.9,64.9 550.1,64.8 550.3,64.8 550.5,64.9 550.7,65.0 550.8,65.3 551.0,65.6 551.2,66.0 551.4,66.5 551.6,67.1 551.7,67.8 551.9,68.5 552.1,69.3 552.3,70.2 552.5,71.1 552.6,72.1 552.8,73.2 553.0,74.3 553.2,75.4 553.4,76.6 553.5,77.9 553.7,79.1 553.9,80.4 554.1,81.8 554.3,83.1 554.4,84.5 554.6,85.8 554.8,87.2 555.0,88.6 555.2,90.0 555.4,91.3 555.5,92.6 555.7,93.9 555.9,95.2 556.1,96.5 556.3,97.7 556.4,98.8 556.6,99.9 556.8,101.0 557.0,102.0 557.2,102.9 557.3,103.8 557.5,104.6 557.7,105.4 557.9,106.0 558.1,106.6 558.2,107.1 558.4,107.5 558.6,107.9 558.8,108.1 559.0,108.3 559.1,108.4 559.3,108.4 559.5,108.3 559.7,108.1 559.9,107.9 560.0,107.6 560.2,107.1 560.4,106.6 560.6,106.0 560.8,105.4 561.0,104.6 561.1,103.8 561.3,103.0 561.5,102.0 561.7,101.0 561.9,100.0 562.0,98.9 562.2,97.7 562.4,96.5 562.6,95.3 562.8,94.0 562.9,92.7 563.1,91.4 563.3,90.0 563.5,88.7 563.7,87.3 563.8,85.9 564.0,84.5 564.2,83.2 564.4,81.8 564.6,80.5 564.7,79.2 564.9,77.9 565.1,76.7 565.3,75.5 565.5,74.3 565.6,73.2 565.8,72.2 566.0,71.2 566.2,70.2 566.4,69.4 566.5,68.5 566.7,67.8 566.9,67.2 567.1,66.6 567.3,66.1 567.5,65.6 567.6,65.3 567.8,65.1 568.0,64.9 568.2,64.8 568.4,64.8 568.5,64.9 568.7,65.1 568.9,65.3 569.1,65.7 569.3,66.1 569.4,66.6 569.6,67.2 569.8,67.9 570.0,68.6 570.2,69.4 570.3,70.3 570.5,71.2 570.7,72.2 570.9,73.3 571.1,74.4 571.2,75.5 571.4,76.8 571.6,78.0 571.8,79.3 572.0,80.6 572.1,81.9 572.3,83.3 572.5,84.6 572.7,86.0 572.9,87.4 573.0,88.7 573.2,90.1 573.4,91.4 573.6,92.8 573.8,94.1 574.0,95.3 574.1,96.6 574.3,97.8 574.5,98.9 574.7,100.0 574.9,101.1 575.0,102.1 575.2,103.0 575.4,103.9 575.6,104.7 575.8,105.4 575.9,106.1 576.1,106.7 576.3,107.2 576.5,107.6 576.7,107.9 576.8,108.2 577.0,108.3 577.2,108.4 577.4,108.4 577.6,108.3 577.7,108.1 577.9,107.9 578.1,107.5 578.3,107.1 578.5,106.6 578.6,106.0 578.8,105.3 579.0,104.6 579.2,103.8 579.4,102.9 579.6,101.9 579.7,100.9 579.9,99.9 580.1,98.8 580.3,97.6 580.5,96.4 580.6,95.1 580.8,93.9 581.0,92.6 581.2,91.2 581.4,89.9 581.5,88.5 581.7,87.1 581.9,85.8 582.1,84.4 582.3,83.0 582.4,81.7 582.6,80.4 582.8,79.1 583.0,77.8 583.2,76.6 583.3,75.4 583.5,74.2 583.7,73.1 583.9,72.1 584.1,71.1 584.2,70.1 584.4,69.3 584.6,68.5 584.8,67.7 585.0,67.1 585.1,66.5 585.3,66.0 585.5,65.6 585.7,65.3 585.9,65.0 586.1,64.9 586.2,64.8 586.4,64.8 586.6,64.9 586.8,65.1 587.0,65.4 587.1,65.7 587.3,66.1 587.5,66.7 587.7,67.3 587.9,67.9 588.0,68.7 588.2,69.5 588.4,70.4 588.6,71.3 588.8,72.3 588.9,73.4 589.1,74.5 589.3,75.7 589.5,76.9 589.7,78.1 589.8,79.4 590.0,80.7 590.2,82.0 590.4,83.4 590.6,84.8 590.7,86.1 590.9,87.5 591.1,88.9 591.3,90.2 591.5,91.6 591.6,92.9 591.8,94.2 592.0,95.5 592.2,96.7 592.4,97.9 592.6,99.0 592.7,100.1 592.9,101.2 593.1,102.2 593.3,103.1 593.5,104.0 593.6,104.8 593.8,105.5 594.0,106.1 594.2,106.7 594.4,107.2 594.5,107.6 594.7,107.9 594.9,108.2 595.1,108.3 595.3,108.4 595.4,108.4 595.6,108.3 595.8,108.1 596.0,107.8 596.2,107.5 596.3,107.0 596.5,106.5 596.7,105.9 596.9,105.2 597.1,104.5 597.2,103.7 597.4,102.8 597.6,101.8 597.8,100.8 598.0,99.8 598.2,98.6 598.3,97.5 598.5,96.3 598.7,95.0 598.9,93.7 599.1,92.4 599.2,91.1 599.4,89.7 599.6,88.4 599.8,87.0 600.0,85.6 600.1,84.3 600.3,82.9 600.5,81.6 600.7,80.2 600.9,78.9 601.0,77.7 601.2,76.4 601.4,75.3 601.6,74.1 601.8,73.0 601.9,72.0 602.1,71.0 602.3,70.0 602.5,69.2 602.7,68.4 602.8,67.7 603.0,67.0 603.2,66.5 603.4,66.0 603.6,65.6 603.7,65.3 603.9,65.0 604.1,64.9 604.3,64.8 604.5,64.8 604.7,64.9 604.8,65.1 605.0,65.4 605.2,65.7 605.4,66.2 605.6,66.7 605.7,67.3 605.9,68.0 606.1,68.7 606.3,69.6 606.5,70.5 606.6,71.4 606.8,72.4 607.0,73.5 607.2,74.6 607.4,75.8 607.5,77.0 607.7,78.2 607.9,79.5 608.1,80.8 608.3,82.2 608.4,83.5 608.6,84.9 608.8,86.3 609.0,87.6 609.2,89.0 609.3,90.4 609.5,91.7 609.7,93.0 609.9,94.3 610.1,95.6 610.2,96.8 610.4,98.0 610.6,99.2 610.8,100.3 611.0,101.3 611.2,102.3 611.3,103.2 611.5,104.1 611.7,104.8 611.9,105.6 612.1,106.2 612.2,106.8 612.4,107.2 612.6,107.6 612.8,108.0 613.0,108.2 613.1,108.3 613.3,108.4 613.5,108.4 613.7,108.3 613.9,108.1 614.0,107.8 614.2,107.4 614.4,107.0 614.6,106.5 614.8,105.9 614.9,105.2 615.1,104.4 615.3,103.6 615.5,102.7 615.7,101.7 615.8,100.7 616.0,99.6 616.2,98.5 616.4,97.4 616.6,96.1 616.8,94.9 616.9,93.6 617.1,92.3 617.3,91.0 617.5,89.6 617.7,88.2 617.8,86.9 618.0,85.5 618.2,84.1 618.4,82.8 618.6,81.4 618.7,80.1 618.9,78.8 619.1,77.6 619.3,76.3 619.5,75.1 619.6,74.0 619.8,72.9 620.0,71.9 620.2,70.9 620.4,70.0 620.5,69.1 620.7,68.3 620.9,67.6 621.1,67.0 621.3,66.4 621.4,65.9 621.6,65.5 621.8,65.2 622.0,65.0 622.2,64.8 622.3,64.8 622.5,64.8 622.7,64.9 622.9,65.1 623.1,65.4 623.3,65.8 623.4,66.2 623.6,66.8 623.8,67.4 624.0,68.1 624.2,68.8 624.3,69.7 624.5,70.6 624.7,71.5 624.9,72.5 625.1,73.6 625.2,74.7 625.4,75.9 625.6,77.1 625.8,78.4 626.0,79.7 626.1,81.0 626.3,82.3 626.5,83.7 626.7,85.0 626.9,86.4 627.0,87.8 627.2,89.1 627.4,90.5 627.6,91.8 627.8,93.2 627.9,94.4 628.1,95.7 628.3,96.9 628.5,98.1 628.7,99.3 628.8,100.4 629.0,101.4 629.2,102.4 629.4,103.3 629.6,104.1 629.8,104.9 629.9,105.6 630.1,106.3 630.3,106.8 630.5,107.3 630.7,107.7 630.8,84.0 631.0,90.3 631.2,84.8 631.4,83.1 631.6,86.8 631.7,85.3 631.9,84.1 632.1,87.4 632.3,85.8 632.5,87.1 632.6,84.3 632.8,85.7 633.0,87.5 633.2,85.8 633.4,87.1 633.5,88.4 633.7,88.4 633.9,87.5 634.1,86.6 634.3,86.5 634.4,86.7 634.6,87.5 634.8,86.4 635.0,86.3 635.2,86.3 635.3,86.3 635.5,86.1 635.7,86.5 635.9,86.7 636.1,86.4 636.3,86.8 636.4,86.6 636.6,86.3 636.8,86.5 637.0,87.2 637.2,86.1 637.3,86.5 637.5,86.5 637.7,86.9 637.9,86.8 638.1,86.8 638.2,86.6 638.4,86.8 638.6,86.9 638.8,86.9 639.0,86.4 639.1,87.0 639.3,87.3 639.5,86.6 639.7,86.8 639.9,86.4 640.0,87.0 640.2,86.0 640.4,86.2 640.6,85.8 640.8,86.3 640.9,87.2 641.1,85.9 641.3,86.1 641.5,87.0 641.7,86.7 641.9,86.0 642.0,86.5 642.2,86.4 642.4,87.1 642.6,86.7 642.8,86.6 642.9,86.8 643.1,86.6 643.3,86.9 643.5,86.3 643.7,86.9 643.8,86.6 644.0,86.7 644.2,86.4 644.4,86.8 644.6,86.5 644.7,87.1 644.9,86.2 645.1,86.6 645.3,86.8 645.5,86.7 645.6,86.4 645.8,86.1 646.0,86.7 646.2,86.8 646.4,86.1 646.5,86.7 646.7,87.4 646.9,86.4 647.1,86.1 647.3,86.8 647.4,86.2 647.6,86.7 647.8,86.7 648.0,86.1 648.2,86.9 648.4,86.6 648.5,86.7 648.7,85.6 648.9,86.4 649.1,86.2 649.3,86.9 649.4,86.8 649.6,86.4 649.8,86.1 650.0,86.7 650.2,86.3 650.3,86.5 650.5,86.7 650.7,86.7 650.9,86.3 651.1,86.9 651.2,86.4 651.4,86.2 651.6,86.8 651.8,86.6 652.0,85.9 652.1,86.8 652.3,86.7 652.5,86.3 652.7,87.6 652.9,86.4 653.0,87.1 653.2,86.8 653.4,87.1 653.6,87.0 653.8,86.6 653.9,86.4 654.1,85.9 654.3,87.0 654.5,86.4 654.7,86.0 654.9,87.0 655.0,86.8 655.2,86.6 655.4,86.7 655.6,86.9 655.8,85.9 655.9,87.1 656.1,86.6 656.3,86.3 656.5,85.8 656.7,86.7 656.8,86.8 657.0,86.3 657.2,86.9 657.4,87.3 657.6,86.5 657.7,86.9 657.9,86.5 658.1,87.1 658.3,86.5 658.5,86.4 658.6,86.3 658.8,86.4 659.0,87.0 659.2,86.8 659.4,85.9 659.5,87.0 659.7,86.7 659.9,86.3 660.1,85.9 660.3,86.6 660.5,86.3 660.6,86.3 660.8,86.9 661.0,86.6 661.2,86.7 661.4,87.3 661.5,86.9 661.7,86.6 661.9,86.5 662.1,86.6 662.3,86.3 662.4,86.8 662.6,86.5 662.8,86.9 663.0,86.4 663.2,86.4 663.3,86.3 663.5,86.4 663.7,86.6 663.9,86.8 664.1,86.0 664.2,86.9 664.4,87.5 664.6,86.5 664.8,86.3 665.0,86.3 665.1,86.2 665.3,87.3 665.5,87.1 665.7,86.8 665.9,86.1 666.0,87.2 666.2,86.9 666.4,86.7 666.6,86.1 666.8,86.2 667.0,86.9 667.1,86.6 667.3,86.9 667.5,86.7 667.7,86.7 667.9,86.4 668.0,86.9 668.2,85.9 668.4,86.8 668.6,85.7 668.8,87.0 668.9,87.6 669.1,86.5 669.3,86.7 669.5,86.7 669.7,86.0 669.8,87.2 670.0,86.5 670.2,86.9 670.4,87.1 670.6,86.3 670.7,86.4 670.9,87.0 671.1,86.8 671.3,86.9 671.5,86.5 671.6,87.1 671.8,86.7 672.0,86.6 672.2,86.7 672.4,86.7 672.5,86.3 672.7,86.6 672.9,86.6 673.1,87.1 673.3,86.6 673.5,86.4 673.6,86.7 673.8,86.8 674.0,86.2 674.2,86.4 674.4,86.3 674.5,86.6 674.7,86.9 674.9,86.6 675.1,86.9 675.3,87.0 675.4,87.0 675.6,86.9 675.8,86.9" fill="none" stroke="#D95319" stroke-width="0.85" stroke-linejoin="round" />
<polyline points="495.4,87.3 495.6,86.9 495.8,86.6 495.9,86.5 496.1,87.2 496.3,86.0 496.5,86.6 496.7,86.3 496.8,86.9 497.0,86.9 497.2,86.5 497.4,86.1 497.6,86.9 497.7,86.5 497.9,87.3 498.1,86.6 498.3,87.0 498.5,86.6 498.7,87.3 498.8,86.8 499.0,86.0 499.2,86.9 499.4,86.9 499.6,86.6 499.7,86.9 499.9,85.9 500.1,87.2 500.3,86.7 500.5,86.5 500.6,86.8 500.8,86.7 501.0,86.6 501.2,86.5 501.4,86.3 501.5,86.4 501.7,86.8 501.9,86.8 502.1,86.8 502.3,86.8 502.4,86.8 502.6,87.5 502.8,86.9 503.0,87.0 503.2,86.0 503.3,87.1 503.5,86.9 503.7,86.8 503.9,87.5 504.1,86.4 504.2,86.5 504.4,86.9 504.6,86.7 504.8,87.2 505.0,86.8 505.2,86.4 505.3,86.7 505.5,86.9 505.7,86.7 505.9,87.1 506.1,86.8 506.2,85.9 506.4,86.6 506.6,86.3 506.8,86.2 507.0,86.6 507.1,86.9 507.3,86.7 507.5,86.9 507.7,86.0 507.9,86.8 508.0,86.6 508.2,86.5 508.4,86.6 508.6,86.8 508.8,86.1 508.9,86.6 509.1,86.7 509.3,86.9 509.5,86.8 509.7,87.4 509.8,86.9 510.0,86.5 510.2,87.0 510.4,86.0 510.6,86.0 510.7,87.0 510.9,86.5 511.1,86.8 511.3,86.6 511.5,86.4 511.7,86.8 511.8,87.0 512.0,87.0 512.2,86.7 512.4,87.0 512.6,86.7 512.7,87.4 512.9,86.8 513.1,86.9 513.3,86.3 513.5,86.9 513.6,86.2 513.8,87.1 514.0,86.2 514.2,86.6 514.4,86.5 514.5,86.2 514.7,86.4 514.9,86.3 515.1,86.7 515.3,86.5 515.4,86.7 515.6,86.6 515.8,86.5 516.0,86.4 516.2,85.8 516.3,86.7 516.5,86.8 516.7,86.8 516.9,86.5 517.1,86.8 517.3,86.7 517.4,86.5 517.6,87.2 517.8,86.4 518.0,86.9 518.2,87.3 518.3,86.6 518.5,86.7 518.7,86.0 518.9,86.3 519.1,86.3 519.2,86.8 519.4,86.1 519.6,86.3 519.8,86.9 520.0,85.9 520.1,86.7 520.3,86.2 520.5,86.7 520.7,87.0 520.9,86.3 521.0,86.4 521.2,86.4 521.4,86.7 521.6,86.3 521.8,86.8 521.9,86.6 522.1,86.5 522.3,86.6 522.5,86.7 522.7,86.8 522.8,86.2 523.0,86.1 523.2,86.7 523.4,86.6 523.6,86.9 523.8,86.7 523.9,86.6 524.1,86.5 524.3,86.9 524.5,86.3 524.7,87.2 524.8,86.8 525.0,87.3 525.2,86.5 525.4,86.8 525.6,86.6 525.7,87.7 525.9,86.9 526.1,87.4 526.3,86.6 526.5,86.5 526.6,85.9 526.8,85.7 527.0,85.9 527.2,86.5 527.4,86.7 527.5,86.9 527.7,86.5 527.9,86.5 528.1,86.7 528.3,86.6 528.4,86.7 528.6,86.8 528.8,86.6 529.0,86.4 529.2,86.4 529.3,86.5 529.5,86.2 529.7,86.4 529.9,86.9 530.1,87.1 530.3,86.0 530.4,86.7 530.6,86.9 530.8,86.2 531.0,86.8 531.2,86.7 531.3,86.5 531.5,86.3 531.7,86.6 531.9,86.4 532.1,86.3 532.2,86.7 532.4,86.5 532.6,86.7 532.8,86.4 533.0,87.2 533.1,86.2 533.3,86.5 533.5,87.3 533.7,86.4 533.9,86.9 534.0,87.2 534.2,86.3 534.4,86.7 534.6,86.3 534.8,86.5 534.9,86.3 535.1,86.7 535.3,86.4 535.5,86.0 535.7,86.6 535.9,86.9 536.0,86.2 536.2,86.6 536.4,86.3 536.6,86.9 536.8,87.3 536.9,86.5 537.1,86.4 537.3,86.8 537.5,86.8 537.7,86.5 537.8,86.6 538.0,87.1 538.2,86.5 538.4,86.5 538.6,87.0 538.7,86.5 538.9,86.3 539.1,86.3 539.3,86.9 539.5,86.6 539.6,87.2 539.8,86.5 540.0,87.0 540.2,86.7 540.4,86.4 540.5,71.7 540.7,72.7 540.9,73.8 541.1,75.0 541.3,76.1 541.4,77.4 541.6,78.6 541.8,79.9 542.0,81.2 542.2,82.6 542.4,83.9 542.5,85.3 542.7,86.7 542.9,88.0 543.1,89.4 543.3,90.8 543.4,92.1 543.6,93.4 543.8,94.7 544.0,96.0 544.2,97.2 544.3,98.4 544.5,99.5 544.7,100.6 544.9,101.6 545.1,102.6 545.2,103.5 545.4,104.3 545.6,105.1 545.8,105.8 546.0,106.4 546.1,106.9 546.3,107.4 546.5,107.7 546.7,108.0 546.9,108.3 547.0,108.4 547.2,108.4 547.4,108.4 547.6,108.2 547.8,108.0 547.9,107.7 548.1,107.3 548.3,106.8 548.5,106.3 548.7,105.7 548.9,105.0 549.0,104.2 549.2,103.3 549.4,102.4 549.6,101.4 549.8,100.4 549.9,99.3 550.1,98.2 550.3,97.0 550.5,95.8 550.7,94.5 550.8,93.2 551.0,91.9 551.2,90.6 551.4,89.2 551.6,87.8 551.7,86.5 551.9,85.1 552.1,83.7 552.3,82.4 552.5,81.0 552.6,79.7 552.8,78.4 553.0,77.2 553.2,76.0 553.4,74.8 553.5,73.7 553.7,72.6 553.9,71.6 554.1,70.6 554.3,69.7 554.4,68.9 554.6,68.1 554.8,67.4 555.0,66.8 555.2,66.3 555.4,65.8 555.5,65.4 555.7,65.1 555.9,64.9 556.1,64.8 556.3,64.8 556.4,64.8 556.6,65.0 556.8,65.2 557.0,65.5 557.2,65.9 557.3,66.4 557.5,66.9 557.7,67.6 557.9,68.3 558.1,69.1 558.2,69.9 558.4,70.8 558.6,71.8 558.8,72.8 559.0,73.9 559.1,75.1 559.3,76.3 559.5,77.5 559.7,78.8 559.9,80.1 560.0,81.4 560.2,82.7 560.4,84.1 560.6,85.4 560.8,86.8 561.0,88.2 561.1,89.5 561.3,90.9 561.5,92.2 561.7,93.5 561.9,94.8 562.0,96.1 562.2,97.3 562.4,98.5 562.6,99.6 562.8,100.7 562.9,101.7 563.1,102.7 563.3,103.5 563.5,104.4 563.7,105.1 563.8,105.8 564.0,106.4 564.2,107.0 564.4,107.4 564.6,107.8 564.7,108.1 564.9,108.3 565.1,108.4 565.3,108.4 565.5,108.4 565.6,108.2 565.8,108.0 566.0,107.7 566.2,107.3 566.4,106.8 566.5,106.2 566.7,105.6 566.9,104.9 567.1,104.1 567.3,103.2 567.5,102.3 567.6,101.3 567.8,100.3 568.0,99.2 568.2,98.1 568.4,96.9 568.5,95.6 568.7,94.4 568.9,93.1 569.1,91.8 569.3,90.4 569.4,89.1 569.6,87.7 569.8,86.3 570.0,85.0 570.2,83.6 570.3,82.2 570.5,80.9 570.7,79.6 570.9,78.3 571.1,77.1 571.2,75.8 571.4,74.7 571.6,73.5 571.8,72.5 572.0,71.5 572.1,70.5 572.3,69.6 572.5,68.8 572.7,68.0 572.9,67.3 573.0,66.7 573.2,66.2 573.4,65.8 573.6,65.4 573.8,65.1 574.0,64.9 574.1,64.8 574.3,64.8 574.5,64.9 574.7,65.0 574.9,65.2 575.0,65.6 575.2,66.0 575.4,66.4 575.6,67.0 575.8,67.6 575.9,68.4 576.1,69.1 576.3,70.0 576.5,70.9 576.7,71.9 576.8,73.0 577.0,74.1 577.2,75.2 577.4,76.4 577.6,77.6 577.7,78.9 577.9,80.2 578.1,81.5 578.3,82.8 578.5,84.2 578.6,85.6 578.8,86.9 579.0,88.3 579.2,89.7 579.4,91.0 579.6,92.4 579.7,93.7 579.9,95.0 580.1,96.2 580.3,97.4 580.5,98.6 580.6,99.7 580.8,100.8 581.0,101.8 581.2,102.7 581.4,103.6 581.5,104.5 581.7,105.2 581.9,105.9 582.1,106.5 582.3,107.0 582.4,107.5 582.6,107.8 582.8,108.1 583.0,108.3 583.2,108.4 583.3,108.4 583.5,108.3 583.7,108.2 583.9,107.9 584.1,107.6 584.2,107.2 584.4,106.7 584.6,106.2 584.8,105.5 585.0,104.8 585.1,104.0 585.3,103.2 585.5,102.2 585.7,101.2 585.9,100.2 586.1,99.1 586.2,97.9 586.4,96.8 586.6,95.5 586.8,94.3 587.0,93.0 587.1,91.6 587.3,90.3 587.5,88.9 587.7,87.6 587.9,86.2 588.0,84.8 588.2,83.5 588.4,82.1 588.6,80.8 588.8,79.5 588.9,78.2 589.1,76.9 589.3,75.7 589.5,74.6 589.7,73.4 589.8,72.4 590.0,71.4 590.2,70.4 590.4,69.5 590.6,68.7 590.7,68.0 590.9,67.3 591.1,66.7 591.3,66.2 591.5,65.7 591.6,65.4 591.8,65.1 592.0,64.9 592.2,64.8 592.4,64.8 592.6,64.9 592.7,65.0 592.9,65.3 593.1,65.6 593.3,66.0 593.5,66.5 593.6,67.1 593.8,67.7 594.0,68.4 594.2,69.2 594.4,70.1 594.5,71.0 594.7,72.0 594.9,73.1 595.1,74.2 595.3,75.3 595.4,76.5 595.6,77.7 595.8,79.0 596.0,80.3 596.2,81.6 596.3,83.0 596.5,84.3 596.7,85.7 596.9,87.1 597.1,88.5 597.2,89.8 597.4,91.2 597.6,92.5 597.8,93.8 598.0,95.1 598.2,96.3 598.3,97.5 598.5,98.7 598.7,99.8 598.9,100.9 599.1,101.9 599.2,102.8 599.4,103.7 599.6,104.5 599.8,105.3 600.0,106.0 600.1,106.5 600.3,107.1 600.5,107.5 600.7,107.8 600.9,108.1 601.0,108.3 601.2,108.4 601.4,108.4 601.6,108.3 601.8,108.2 601.9,107.9 602.1,107.6 602.3,107.2 602.5,106.7 602.7,106.1 602.8,105.5 603.0,104.7 603.2,103.9 603.4,103.1 603.6,102.1 603.7,101.1 603.9,100.1 604.1,99.0 604.3,97.8 604.5,96.6 604.7,95.4 604.8,94.1 605.0,92.8 605.2,91.5 605.4,90.1 605.6,88.8 605.7,87.4 605.9,86.0 606.1,84.7 606.3,83.3 606.5,82.0 606.6,80.6 606.8,79.3 607.0,78.1 607.2,76.8 607.4,75.6 607.5,74.4 607.7,73.3 607.9,72.3 608.1,71.3 608.3,70.3 608.4,69.4 608.6,68.6 608.8,67.9 609.0,67.2 609.2,66.6 609.3,66.1 609.5,65.7 609.7,65.3 609.9,65.1 610.1,64.9 610.2,64.8 610.4,64.8 610.6,64.9 610.8,65.0 611.0,65.3 611.2,65.6 611.3,66.0 611.5,66.5 611.7,67.1 611.9,67.8 612.1,68.5 612.2,69.3 612.4,70.2 612.6,71.1 612.8,72.1 613.0,73.2 613.1,74.3 613.3,75.4 613.5,76.6 613.7,77.9 613.9,79.1 614.0,80.4 614.2,81.8 614.4,83.1 614.6,84.5 614.8,85.8 614.9,87.2 615.1,88.6 615.3,90.0 615.5,91.3 615.7,92.6 615.8,93.9 616.0,95.2 616.2,96.5 616.4,97.7 616.6,98.8 616.8,99.9 616.9,101.0 617.1,102.0 617.3,102.9 617.5,103.8 617.7,104.6 617.8,105.4 618.0,106.0 618.2,106.6 618.4,107.1 618.6,107.5 618.7,107.9 618.9,108.1 619.1,108.3 619.3,108.4 619.5,108.4 619.6,108.3 619.8,108.1 620.0,107.9 620.2,107.6 620.4,107.1 620.5,106.6 620.7,106.0 620.9,105.4 621.1,104.6 621.3,103.8 621.4,103.0 621.6,102.0 621.8,101.0 622.0,100.0 622.2,98.9 622.3,97.7 622.5,96.5 622.7,95.3 622.9,94.0 623.1,92.7 623.3,91.4 623.4,90.0 623.6,88.7 623.8,87.3 624.0,85.9 624.2,84.5 624.3,83.2 624.5,81.8 624.7,80.5 624.9,79.2 625.1,77.9 625.2,76.7 625.4,75.5 625.6,74.3 625.8,73.2 626.0,72.2 626.1,71.2 626.3,70.2 626.5,69.4 626.7,68.5 626.9,67.8 627.0,67.2 627.2,66.6 627.4,66.1 627.6,65.6 627.8,65.3 627.9,65.1 628.1,64.9 628.3,64.8 628.5,64.8 628.7,64.9 628.8,65.1 629.0,65.3 629.2,65.7 629.4,66.1 629.6,66.6 629.8,67.2 629.9,67.9 630.1,68.6 630.3,69.4 630.5,70.3 630.7,71.2 630.8,87.2 631.0,86.6 631.2,87.2 631.4,86.0 631.6,86.8 631.7,86.5 631.9,86.4 632.1,86.0 632.3,86.7 632.5,86.9 632.6,87.2 632.8,86.0 633.0,86.3 633.2,86.7 633.4,86.2 633.5,87.0 633.7,86.6 633.9,86.6 634.1,86.3 634.3,86.7 634.4,87.1 634.6,86.6 634.8,86.9 635.0,87.1 635.2,86.5 635.3,86.6 635.5,86.6 635.7,86.1 635.9,86.6 636.1,87.3 636.3,86.6 636.4,87.5 636.6,86.0 636.8,85.2 637.0,86.5 637.2,86.7 637.3,86.4 637.5,86.9 637.7,87.2 637.9,87.1 638.1,87.0 638.2,86.3 638.4,86.8 638.6,86.5 638.8,86.4 639.0,85.8 639.1,86.1 639.3,86.6 639.5,86.6 639.7,87.0 639.9,86.6 640.0,86.7 640.2,86.4 640.4,86.2 640.6,87.0 640.8,86.7 640.9,86.6 641.1,86.3 641.3,86.9 641.5,87.4 641.7,86.7 641.9,86.5 642.0,86.2 642.2,86.9 642.4,86.1 642.6,86.3 642.8,86.7 642.9,86.2 643.1,86.3 643.3,86.8 643.5,87.3 643.7,86.6 643.8,86.8 644.0,86.6 644.2,86.5 644.4,86.4 644.6,86.9 644.7,87.2 644.9,86.6 645.1,86.5 645.3,85.9 645.5,87.0 645.6,87.3 645.8,86.0 646.0,87.0 646.2,86.8 646.4,87.0 646.5,86.8 646.7,86.7 646.9,86.6 647.1,87.0 647.3,86.6 647.4,86.1 647.6,86.1 647.8,86.4 648.0,86.6 648.2,86.5 648.4,86.6 648.5,86.0 648.7,85.8 648.9,86.2 649.1,86.8 649.3,86.0 649.4,86.3 649.6,86.4 649.8,86.1 650.0,86.4 650.2,86.9 650.3,86.0 650.5,86.6 650.7,86.8 650.9,86.9 651.1,86.6 651.2,86.6 651.4,86.8 651.6,86.5 651.8,86.7 652.0,86.5 652.1,86.3 652.3,86.7 652.5,86.6 652.7,86.4 652.9,86.3 653.0,86.7 653.2,86.0 653.4,86.6 653.6,86.0 653.8,86.8 653.9,86.8 654.1,86.1 654.3,85.9 654.5,86.8 654.7,86.3 654.9,86.5 655.0,87.1 655.2,86.7 655.4,86.0 655.6,86.4 655.8,86.5 655.9,86.4 656.1,87.1 656.3,86.9 656.5,86.8 656.7,87.2 656.8,86.7 657.0,87.1 657.2,86.8 657.4,86.3 657.6,86.8 657.7,86.4 657.9,86.1 658.1,87.2 658.3,86.5 658.5,86.2 658.6,87.1 658.8,86.2 659.0,86.7 659.2,86.8 659.4,86.6 659.5,87.0 659.7,86.5 659.9,87.0 660.1,86.6 660.3,87.0 660.5,86.4 660.6,86.1 660.8,86.4 661.0,86.2 661.2,86.3 661.4,87.0 661.5,88.1 661.7,85.9 661.9,87.1 662.1,86.5 662.3,87.3 662.4,87.1 662.6,85.8 662.8,86.7 663.0,86.6 663.2,86.7 663.3,87.0 663.5,85.7 663.7,86.0 663.9,86.4 664.1,86.2 664.2,86.7 664.4,86.6 664.6,86.6 664.8,87.2 665.0,86.5 665.1,86.1 665.3,86.9 665.5,86.3 665.7,86.5 665.9,86.6 666.0,86.7 666.2,86.8 666.4,86.7 666.6,86.6 666.8,86.8 667.0,86.5 667.1,87.0 667.3,87.0 667.5,86.6 667.7,86.5 667.9,86.4 668.0,87.0 668.2,86.8 668.4,87.2 668.6,86.1 668.8,87.3 668.9,87.1 669.1,86.6 669.3,87.0 669.5,86.8 669.7,86.7 669.8,86.8 670.0,87.0 670.2,85.9 670.4,86.5 670.6,87.1 670.7,86.5 670.9,87.2 671.1,86.8 671.3,87.2 671.5,86.6 671.6,86.0 671.8,86.6 672.0,86.9 672.2,86.5 672.4,86.9 672.5,86.4 672.7,86.0 672.9,86.7 673.1,86.7 673.3,86.3 673.5,86.8 673.6,86.4 673.8,87.2 674.0,85.9 674.2,86.4 674.4,87.0 674.5,87.1 674.7,86.6 674.9,86.6 675.1,86.6 675.3,86.9 675.4,85.9 675.6,86.3 675.8,86.4" fill="none" stroke="#EDB120" stroke-width="0.85" stroke-linejoin="round" />
<polyline points="495.4,86.8 495.6,87.0 495.8,86.2 495.9,87.0 496.1,87.2 496.3,86.4 496.5,86.3 496.7,86.9 496.8,86.8 497.0,85.6 497.2,87.0 497.4,86.8 497.6,86.2 497.7,86.3 497.9,86.0 498.1,86.3 498.3,86.7 498.5,86.6 498.7,86.8 498.8,86.3 499.0,86.4 499.2,87.0 499.4,86.4 499.6,86.9 499.7,86.6 499.9,86.7 500.1,86.5 500.3,87.5 500.5,86.4 500.6,87.1 500.8,86.2 501.0,87.0 501.2,86.8 501.4,86.9 501.5,86.5 501.7,86.2 501.9,86.5 502.1,86.6 502.3,86.5 502.4,86.6 502.6,86.6 502.8,86.9 503.0,86.6 503.2,86.1 503.3,86.2 503.5,87.2 503.7,86.7 503.9,86.5 504.1,86.8 504.2,86.8 504.4,86.6 504.6,86.2 504.8,86.2 505.0,86.6 505.2,86.3 505.3,86.6 505.5,86.4 505.7,86.7 505.9,87.1 506.1,86.8 506.2,86.5 506.4,86.2 506.6,86.5 506.8,85.8 507.0,86.3 507.1,86.6 507.3,86.8 507.5,85.8 507.7,86.7 507.9,87.0 508.0,86.4 508.2,86.8 508.4,86.4 508.6,87.2 508.8,86.3 508.9,86.2 509.1,86.7 509.3,86.9 509.5,86.5 509.7,86.2 509.8,86.8 510.0,86.7 510.2,86.2 510.4,86.4 510.6,86.6 510.7,86.5 510.9,86.5 511.1,86.7 511.3,86.6 511.5,87.6 511.7,86.6 511.8,86.3 512.0,86.4 512.2,86.8 512.4,86.0 512.6,86.1 512.7,86.9 512.9,86.6 513.1,86.8 513.3,86.9 513.5,86.2 513.6,86.2 513.8,86.8 514.0,86.7 514.2,86.4 514.4,86.7 514.5,86.2 514.7,86.5 514.9,86.5 515.1,87.2 515.3,86.2 515.4,87.4 515.6,86.6 515.8,86.2 516.0,86.6 516.2,86.9 516.3,86.8 516.5,87.1 516.7,86.1 516.9,86.4 517.1,86.9 517.3,85.9 517.4,86.8 517.6,86.5 517.8,87.3 518.0,86.6 518.2,86.4 518.3,86.6 518.5,86.9 518.7,86.2 518.9,87.0 519.1,86.1 519.2,86.7 519.4,86.6 519.6,86.5 519.8,86.4 520.0,85.9 520.1,86.5 520.3,87.2 520.5,86.5 520.7,87.0 520.9,86.8 521.0,86.8 521.2,86.6 521.4,86.2 521.6,86.6 521.8,86.8 521.9,86.9 522.1,86.9 522.3,86.8 522.5,86.5 522.7,86.6 522.8,86.3 523.0,87.4 523.2,86.3 523.4,86.4 523.6,87.5 523.8,86.2 523.9,86.6 524.1,87.1 524.3,86.5 524.5,87.0 524.7,86.7 524.8,86.4 525.0,86.2 525.2,86.2 525.4,86.7 525.6,87.4 525.7,86.9 525.9,86.5 526.1,86.3 526.3,86.6 526.5,87.0 526.6,86.7 526.8,87.0 527.0,86.6 527.2,87.3 527.4,86.6 527.5,86.3 527.7,87.0 527.9,86.2 528.1,87.5 528.3,86.4 528.4,87.1 528.6,86.7 528.8,86.5 529.0,86.4 529.2,87.3 529.3,86.5 529.5,87.3 529.7,86.6 529.9,86.7 530.1,86.5 530.3,87.0 530.4,86.7 530.6,87.0 530.8,86.6 531.0,86.3 531.2,86.4 531.3,86.7 531.5,86.2 531.7,86.4 531.9,86.2 532.1,86.5 532.2,86.7 532.4,86.4 532.6,86.2 532.8,86.7 533.0,86.5 533.1,86.9 533.3,86.2 533.5,86.8 533.7,87.3 533.9,86.3 534.0,87.1 534.2,86.1 534.4,86.8 534.6,87.1 534.8,87.0 534.9,86.4 535.1,86.8 535.3,86.4 535.5,87.0 535.7,86.3 535.9,86.6 536.0,86.6 536.2,85.4 536.4,87.1 536.6,86.3 536.8,87.2 536.9,86.8 537.1,87.0 537.3,86.8 537.5,86.6 537.7,87.1 537.8,86.4 538.0,86.9 538.2,86.3 538.4,86.8 538.6,86.7 538.7,86.6 538.9,86.7 539.1,86.2 539.3,85.5 539.5,86.6 539.6,86.8 539.8,86.6 540.0,86.4 540.2,86.8 540.4,85.7 540.5,80.2 540.7,78.9 540.9,77.7 541.1,76.4 541.3,75.3 541.4,74.1 541.6,73.0 541.8,72.0 542.0,71.0 542.2,70.0 542.4,69.2 542.5,68.4 542.7,67.7 542.9,67.0 543.1,66.5 543.3,66.0 543.4,65.6 543.6,65.3 543.8,65.0 544.0,64.9 544.2,64.8 544.3,64.8 544.5,64.9 544.7,65.1 544.9,65.4 545.1,65.7 545.2,66.2 545.4,66.7 545.6,67.3 545.8,68.0 546.0,68.7 546.1,69.6 546.3,70.5 546.5,71.4 546.7,72.4 546.9,73.5 547.0,74.6 547.2,75.8 547.4,77.0 547.6,78.2 547.8,79.5 547.9,80.8 548.1,82.2 548.3,83.5 548.5,84.9 548.7,86.3 548.9,87.6 549.0,89.0 549.2,90.4 549.4,91.7 549.6,93.0 549.8,94.3 549.9,95.6 550.1,96.8 550.3,98.0 550.5,99.2 550.7,100.3 550.8,101.3 551.0,102.3 551.2,103.2 551.4,104.1 551.6,104.8 551.7,105.6 551.9,106.2 552.1,106.8 552.3,107.2 552.5,107.6 552.6,108.0 552.8,108.2 553.0,108.3 553.2,108.4 553.4,108.4 553.5,108.3 553.7,108.1 553.9,107.8 554.1,107.4 554.3,107.0 554.4,106.5 554.6,105.9 554.8,105.2 555.0,104.4 555.2,103.6 555.4,102.7 555.5,101.7 555.7,100.7 555.9,99.6 556.1,98.5 556.3,97.4 556.4,96.1 556.6,94.9 556.8,93.6 557.0,92.3 557.2,91.0 557.3,89.6 557.5,88.2 557.7,86.9 557.9,85.5 558.1,84.1 558.2,82.8 558.4,81.4 558.6,80.1 558.8,78.8 559.0,77.6 559.1,76.3 559.3,75.1 559.5,74.0 559.7,72.9 559.9,71.9 560.0,70.9 560.2,70.0 560.4,69.1 560.6,68.3 560.8,67.6 561.0,67.0 561.1,66.4 561.3,65.9 561.5,65.5 561.7,65.2 561.9,65.0 562.0,64.8 562.2,64.8 562.4,64.8 562.6,64.9 562.8,65.1 562.9,65.4 563.1,65.8 563.3,66.2 563.5,66.8 563.7,67.4 563.8,68.1 564.0,68.8 564.2,69.7 564.4,70.6 564.6,71.5 564.7,72.5 564.9,73.6 565.1,74.7 565.3,75.9 565.5,77.1 565.6,78.4 565.8,79.7 566.0,81.0 566.2,82.3 566.4,83.7 566.5,85.0 566.7,86.4 566.9,87.8 567.1,89.1 567.3,90.5 567.5,91.8 567.6,93.2 567.8,94.4 568.0,95.7 568.2,96.9 568.4,98.1 568.5,99.3 568.7,100.4 568.9,101.4 569.1,102.4 569.3,103.3 569.4,104.1 569.6,104.9 569.8,105.6 570.0,106.3 570.2,106.8 570.3,107.3 570.5,107.7 570.7,108.0 570.9,108.2 571.1,108.4 571.2,108.4 571.4,108.4 571.6,108.3 571.8,108.1 572.0,107.8 572.1,107.4 572.3,106.9 572.5,106.4 572.7,105.8 572.9,105.1 573.0,104.3 573.2,103.5 573.4,102.6 573.6,101.6 573.8,100.6 574.0,99.5 574.1,98.4 574.3,97.2 574.5,96.0 574.7,94.8 574.9,93.5 575.0,92.2 575.2,90.8 575.4,89.5 575.6,88.1 575.8,86.7 575.9,85.4 576.1,84.0 576.3,82.6 576.5,81.3 576.7,80.0 576.8,78.7 577.0,77.4 577.2,76.2 577.4,75.0 577.6,73.9 577.7,72.8 577.9,71.8 578.1,70.8 578.3,69.9 578.5,69.0 578.6,68.2 578.8,67.5 579.0,66.9 579.2,66.4 579.4,65.9 579.6,65.5 579.7,65.2 579.9,65.0 580.1,64.8 580.3,64.8 580.5,64.8 580.6,64.9 580.8,65.2 581.0,65.5 581.2,65.8 581.4,66.3 581.5,66.8 581.7,67.4 581.9,68.1 582.1,68.9 582.3,69.7 582.4,70.6 582.6,71.6 582.8,72.6 583.0,73.7 583.2,74.8 583.3,76.0 583.5,77.2 583.7,78.5 583.9,79.8 584.1,81.1 584.2,82.4 584.4,83.8 584.6,85.2 584.8,86.5 585.0,87.9 585.1,89.3 585.3,90.6 585.5,92.0 585.7,93.3 585.9,94.6 586.1,95.8 586.2,97.1 586.4,98.2 586.6,99.4 586.8,100.5 587.0,101.5 587.1,102.5 587.3,103.4 587.5,104.2 587.7,105.0 587.9,105.7 588.0,106.3 588.2,106.9 588.4,107.3 588.6,107.7 588.8,108.0 588.9,108.2 589.1,108.4 589.3,108.4 589.5,108.4 589.7,108.2 589.8,108.0 590.0,107.7 590.2,107.4 590.4,106.9 590.6,106.3 590.7,105.7 590.9,105.0 591.1,104.3 591.3,103.4 591.5,102.5 591.6,101.5 591.8,100.5 592.0,99.4 592.2,98.3 592.4,97.1 592.6,95.9 592.7,94.6 592.9,93.3 593.1,92.0 593.3,90.7 593.5,89.3 593.6,88.0 593.8,86.6 594.0,85.2 594.2,83.9 594.4,82.5 594.5,81.2 594.7,79.9 594.9,78.6 595.1,77.3 595.3,76.1 595.4,74.9 595.6,73.8 595.8,72.7 596.0,71.7 596.2,70.7 596.3,69.8 596.5,68.9 596.7,68.2 596.9,67.5 597.1,66.9 597.2,66.3 597.4,65.8 597.6,65.5 597.8,65.2 598.0,65.0 598.2,64.8 598.3,64.8 598.5,64.8 598.7,65.0 598.9,65.2 599.1,65.5 599.2,65.9 599.4,66.3 599.6,66.9 599.8,67.5 600.0,68.2 600.1,69.0 600.3,69.8 600.5,70.7 600.7,71.7 600.9,72.7 601.0,73.8 601.2,75.0 601.4,76.1 601.6,77.4 601.8,78.6 601.9,79.9 602.1,81.2 602.3,82.6 602.5,83.9 602.7,85.3 602.8,86.7 603.0,88.0 603.2,89.4 603.4,90.8 603.6,92.1 603.7,93.4 603.9,94.7 604.1,96.0 604.3,97.2 604.5,98.4 604.7,99.5 604.8,100.6 605.0,101.6 605.2,102.6 605.4,103.5 605.6,104.3 605.7,105.1 605.9,105.8 606.1,106.4 606.3,106.9 606.5,107.4 606.6,107.7 606.8,108.0 607.0,108.3 607.2,108.4 607.4,108.4 607.5,108.4 607.7,108.2 607.9,108.0 608.1,107.7 608.3,107.3 608.4,106.8 608.6,106.3 608.8,105.7 609.0,105.0 609.2,104.2 609.3,103.3 609.5,102.4 609.7,101.4 609.9,100.4 610.1,99.3 610.2,98.2 610.4,97.0 610.6,95.8 610.8,94.5 611.0,93.2 611.2,91.9 611.3,90.6 611.5,89.2 611.7,87.8 611.9,86.5 612.1,85.1 612.2,83.7 612.4,82.4 612.6,81.0 612.8,79.7 613.0,78.4 613.1,77.2 613.3,76.0 613.5,74.8 613.7,73.7 613.9,72.6 614.0,71.6 614.2,70.6 614.4,69.7 614.6,68.9 614.8,68.1 614.9,67.4 615.1,66.8 615.3,66.3 615.5,65.8 615.7,65.4 615.8,65.1 616.0,64.9 616.2,64.8 616.4,64.8 616.6,64.8 616.8,65.0 616.9,65.2 617.1,65.5 617.3,65.9 617.5,66.4 617.7,66.9 617.8,67.6 618.0,68.3 618.2,69.1 618.4,69.9 618.6,70.8 618.7,71.8 618.9,72.8 619.1,73.9 619.3,75.1 619.5,76.3 619.6,77.5 619.8,78.8 620.0,80.1 620.2,81.4 620.4,82.7 620.5,84.1 620.7,85.4 620.9,86.8 621.1,88.2 621.3,89.5 621.4,90.9 621.6,92.2 621.8,93.5 622.0,94.8 622.2,96.1 622.3,97.3 622.5,98.5 622.7,99.6 622.9,100.7 623.1,101.7 623.3,102.7 623.4,103.5 623.6,104.4 623.8,105.1 624.0,105.8 624.2,106.4 624.3,107.0 624.5,107.4 624.7,107.8 624.9,108.1 625.1,108.3 625.2,108.4 625.4,108.4 625.6,108.4 625.8,108.2 626.0,108.0 626.1,107.7 626.3,107.3 626.5,106.8 626.7,106.2 626.9,105.6 627.0,104.9 627.2,104.1 627.4,103.2 627.6,102.3 627.8,101.3 627.9,100.3 628.1,99.2 628.3,98.1 628.5,96.9 628.7,95.6 628.8,94.4 629.0,93.1 629.2,91.8 629.4,90.4 629.6,89.1 629.8,87.7 629.9,86.3 630.1,85.0 630.3,83.6 630.5,82.2 630.7,80.9 630.8,86.8 631.0,86.2 631.2,86.7 631.4,86.8 631.6,86.8 631.7,86.5 631.9,86.2 632.1,86.9 632.3,87.1 632.5,86.8 632.6,86.7 632.8,86.2 633.0,86.8 633.2,87.0 633.4,86.7 633.5,86.3 633.7,86.6 633.9,86.6 634.1,87.3 634.3,87.0 634.4,87.2 634.6,86.4 634.8,86.6 635.0,86.2 635.2,86.7 635.3,86.2 635.5,86.5 635.7,87.2 635.9,87.0 636.1,85.2 636.3,86.6 636.4,86.3 636.6,86.9 636.8,86.7 637.0,86.8 637.2,86.6 637.3,85.7 637.5,86.2 637.7,86.8 637.9,87.2 638.1,86.6 638.2,86.9 638.4,86.9 638.6,86.4 638.8,86.6 639.0,86.8 639.1,86.5 639.3,86.5 639.5,87.0 639.7,86.5 639.9,87.2 640.0,86.2 640.2,87.1 640.4,86.5 640.6,86.8 640.8,86.5 640.9,85.8 641.1,86.5 641.3,87.1 641.5,87.1 641.7,86.7 641.9,86.1 642.0,87.0 642.2,87.1 642.4,87.2 642.6,86.1 642.8,86.4 642.9,86.7 643.1,86.8 643.3,86.4 643.5,86.4 643.7,86.6 643.8,86.5 644.0,86.7 644.2,86.5 644.4,86.5 644.6,87.1 644.7,86.6 644.9,86.6 645.1,86.3 645.3,86.4 645.5,85.7 645.6,86.4 645.8,86.7 646.0,86.7 646.2,86.2 646.4,86.3 646.5,86.7 646.7,86.6 646.9,86.4 647.1,86.5 647.3,86.7 647.4,86.8 647.6,87.1 647.8,86.5 648.0,86.7 648.2,86.5 648.4,86.6 648.5,87.1 648.7,86.7 648.9,86.5 649.1,86.6 649.3,87.1 649.4,86.6 649.6,86.6 649.8,86.9 650.0,86.4 650.2,86.2 650.3,86.5 650.5,86.7 650.7,86.6 650.9,86.5 651.1,85.6 651.2,86.6 651.4,86.4 651.6,85.9 651.8,86.0 652.0,86.8 652.1,86.0 652.3,86.6 652.5,86.6 652.7,86.7 652.9,87.0 653.0,86.9 653.2,86.9 653.4,86.4 653.6,87.4 653.8,86.7 653.9,86.6 654.1,86.7 654.3,86.4 654.5,86.2 654.7,86.7 654.9,86.5 655.0,86.6 655.2,86.8 655.4,86.5 655.6,86.3 655.8,86.7 655.9,86.7 656.1,86.5 656.3,86.9 656.5,87.2 656.7,86.6 656.8,86.8 657.0,86.4 657.2,86.1 657.4,87.3 657.6,86.2 657.7,86.7 657.9,87.0 658.1,86.9 658.3,86.4 658.5,86.6 658.6,86.2 658.8,86.2 659.0,86.4 659.2,86.7 659.4,86.8 659.5,86.9 659.7,87.2 659.9,86.6 660.1,86.6 660.3,86.6 660.5,86.5 660.6,86.5 660.8,86.3 661.0,86.6 661.2,87.3 661.4,87.0 661.5,86.4 661.7,86.7 661.9,86.4 662.1,85.7 662.3,86.3 662.4,86.6 662.6,86.3 662.8,86.1 663.0,86.6 663.2,86.7 663.3,85.8 663.5,86.8 663.7,86.7 663.9,87.0 664.1,86.7 664.2,86.7 664.4,86.9 664.6,86.5 664.8,86.3 665.0,86.7 665.1,86.4 665.3,86.8 665.5,86.5 665.7,86.9 665.9,86.5 666.0,86.7 666.2,86.7 666.4,86.4 666.6,86.5 666.8,86.7 667.0,86.7 667.1,87.0 667.3,86.2 667.5,86.1 667.7,86.5 667.9,87.1 668.0,85.8 668.2,86.8 668.4,86.3 668.6,86.6 668.8,86.7 668.9,86.8 669.1,87.1 669.3,87.2 669.5,86.8 669.7,86.8 669.8,86.7 670.0,86.9 670.2,86.9 670.4,86.9 670.6,86.5 670.7,86.5 670.9,86.8 671.1,86.8 671.3,86.5 671.5,86.6 671.6,86.9 671.8,86.3 672.0,86.5 672.2,86.1 672.4,86.8 672.5,86.4 672.7,86.5 672.9,86.4 673.1,86.5 673.3,86.3 673.5,86.4 673.6,87.1 673.8,86.4 674.0,86.6 674.2,86.6 674.4,86.6 674.5,86.2 674.7,86.9 674.9,86.3 675.1,86.5 675.3,86.8 675.4,86.9 675.6,86.6 675.8,87.4" fill="none" stroke="#0072BD" stroke-width="0.85" stroke-linejoin="round" />
<polyline points="495.4,86.5 495.6,86.7 495.8,86.1 495.9,86.8 496.1,86.6 496.3,86.8 496.5,86.8 496.7,86.2 496.8,86.6 497.0,86.8 497.2,86.5 497.4,86.9 497.6,86.6 497.7,86.6 497.9,86.7 498.1,86.6 498.3,86.4 498.5,86.9 498.7,86.2 498.8,86.5 499.0,86.5 499.2,86.8 499.4,86.5 499.6,86.8 499.7,86.4 499.9,86.4 500.1,86.7 500.3,86.5 500.5,86.7 500.6,86.6 500.8,86.6 501.0,86.4 501.2,86.5 501.4,86.4 501.5,86.7 501.7,86.9 501.9,86.4 502.1,86.5 502.3,86.5 502.4,86.8 502.6,86.5 502.8,86.7 503.0,86.8 503.2,86.3 503.3,86.8 503.5,86.5 503.7,86.8 503.9,86.5 504.1,86.5 504.2,86.9 504.4,86.4 504.6,86.8 504.8,86.3 505.0,86.4 505.2,87.1 505.3,86.9 505.5,86.4 505.7,86.5 505.9,86.9 506.1,86.1 506.2,86.7 506.4,86.5 506.6,86.4 506.8,86.6 507.0,86.8 507.1,86.8 507.3,86.6 507.5,86.8 507.7,86.7 507.9,86.8 508.0,86.8 508.2,86.5 508.4,86.3 508.6,86.2 508.8,86.6 508.9,86.6 509.1,86.4 509.3,86.6 509.5,86.5 509.7,86.5 509.8,86.3 510.0,86.5 510.2,86.5 510.4,86.5 510.6,86.8 510.7,86.7 510.9,87.0 511.1,86.6 511.3,86.0 511.5,86.8 511.7,86.2 511.8,86.6 512.0,86.3 512.2,86.8 512.4,86.7 512.6,86.4 512.7,86.6 512.9,86.5 513.1,86.5 513.3,86.5 513.5,86.6 513.6,86.8 513.8,86.8 514.0,86.4 514.2,86.5 514.4,86.7 514.5,86.5 514.7,86.6 514.9,86.7 515.1,86.6 515.3,86.3 515.4,86.9 515.6,86.9 515.8,86.5 516.0,86.8 516.2,86.6 516.3,86.7 516.5,86.8 516.7,86.9 516.9,86.4 517.1,86.8 517.3,86.4 517.4,86.8 517.6,86.5 517.8,86.5 518.0,86.6 518.2,87.0 518.3,86.7 518.5,86.3 518.7,86.5 518.9,86.7 519.1,86.3 519.2,86.7 519.4,86.6 519.6,86.4 519.8,86.6 520.0,86.3 520.1,86.5 520.3,86.5 520.5,86.7 520.7,86.3 520.9,86.6 521.0,86.5 521.2,86.7 521.4,86.5 521.6,86.8 521.8,86.2 521.9,86.6 522.1,86.5 522.3,86.7 522.5,86.5 522.7,86.6 522.8,86.8 523.0,86.6 523.2,86.9 523.4,87.0 523.6,86.6 523.8,86.2 523.9,86.7 524.1,86.5 524.3,86.6 524.5,86.7 524.7,86.8 524.8,86.5 525.0,86.5 525.2,86.5 525.4,86.5 525.6,86.6 525.7,86.5 525.9,86.9 526.1,86.7 526.3,86.6 526.5,86.8 526.6,86.6 526.8,86.3 527.0,86.9 527.2,86.5 527.4,86.4 527.5,86.7 527.7,86.7 527.9,86.8 528.1,86.6 528.3,86.6 528.4,86.3 528.6,86.5 528.8,86.6 529.0,86.5 529.2,86.8 529.3,86.5 529.5,86.6 529.7,86.9 529.9,86.7 530.1,86.7 530.3,86.9 530.4,86.4 530.6,86.9 530.8,86.8 531.0,86.8 531.2,86.6 531.3,86.5 531.5,86.6 531.7,86.3 531.9,86.5 532.1,87.1 532.2,86.8 532.4,86.5 532.6,86.9 532.8,87.0 533.0,86.9 533.1,86.5 533.3,86.4 533.5,86.2 533.7,86.6 533.9,86.8 534.0,86.3 534.2,86.5 534.4,86.6 534.6,86.4 534.8,86.8 534.9,86.5 535.1,86.5 535.3,86.7 535.5,86.3 535.7,86.7 535.9,86.7 536.0,86.6 536.2,86.7 536.4,86.5 536.6,86.8 536.8,86.5 536.9,86.5 537.1,86.8 537.3,86.6 537.5,86.7 537.7,86.6 537.8,86.7 538.0,86.5 538.2,86.7 538.4,86.6 538.6,86.6 538.7,86.8 538.9,86.8 539.1,86.5 539.3,86.4 539.5,86.7 539.6,86.1 539.8,86.4 540.0,86.5 540.2,86.8 540.4,86.8 540.5,86.8 540.7,86.5 540.9,86.6 541.1,86.7 541.3,86.8 541.4,86.9 541.6,86.7 541.8,86.8 542.0,86.6 542.2,86.6 542.4,86.6 542.5,86.8 542.7,86.8 542.9,86.4 543.1,87.0 543.3,86.6 543.4,86.3 543.6,86.7 543.8,86.7 544.0,86.8 544.2,86.8 544.3,86.8 544.5,86.8 544.7,86.5 544.9,86.6 545.1,86.8 545.2,86.5 545.4,86.4 545.6,86.3 545.8,86.5 546.0,86.7 546.1,86.4 546.3,86.6 546.5,86.7 546.7,86.4 546.9,86.6 547.0,86.7 547.2,86.3 547.4,86.4 547.6,86.7 547.8,86.6 547.9,86.6 548.1,86.7 548.3,86.7 548.5,86.5 548.7,86.2 548.9,86.7 549.0,86.7 549.2,86.4 549.4,86.7 549.6,86.3 549.8,86.7 549.9,86.5 550.1,86.6 550.3,86.5 550.5,86.4 550.7,86.8 550.8,86.5 551.0,86.7 551.2,86.9 551.4,86.8 551.6,86.6 551.7,86.6 551.9,86.5 552.1,86.4 552.3,86.3 552.5,86.7 552.6,86.6 552.8,86.6 553.0,86.4 553.2,86.4 553.4,86.5 553.5,86.6 553.7,86.6 553.9,86.9 554.1,86.6 554.3,86.5 554.4,86.4 554.6,86.4 554.8,86.6 555.0,86.3 555.2,86.8 555.4,86.8 555.5,86.5 555.7,86.3 555.9,86.6 556.1,86.5 556.3,86.7 556.4,86.2 556.6,86.8 556.8,86.9 557.0,86.2 557.2,86.8 557.3,86.7 557.5,86.1 557.7,86.3 557.9,86.4 558.1,86.9 558.2,86.5 558.4,86.5 558.6,86.6 558.8,86.8 559.0,86.4 559.1,86.7 559.3,86.7 559.5,86.5 559.7,86.5 559.9,86.7 560.0,86.6 560.2,86.2 560.4,86.9 560.6,87.0 560.8,86.7 561.0,86.8 561.1,86.6 561.3,86.8 561.5,86.4 561.7,86.6 561.9,86.9 562.0,86.8 562.2,86.6 562.4,87.0 562.6,86.8 562.8,86.7 562.9,86.6 563.1,86.1 563.3,86.8 563.5,86.4 563.7,86.5 563.8,86.5 564.0,86.6 564.2,86.6 564.4,86.7 564.6,86.3 564.7,86.5 564.9,86.6 565.1,86.7 565.3,86.4 565.5,86.5 565.6,86.5 565.8,86.5 566.0,86.8 566.2,86.3 566.4,86.8 566.5,86.8 566.7,86.9 566.9,86.5 567.1,86.4 567.3,86.5 567.5,86.4 567.6,86.7 567.8,86.6 568.0,86.7 568.2,86.8 568.4,86.6 568.5,87.0 568.7,86.7 568.9,86.5 569.1,86.4 569.3,86.8 569.4,86.5 569.6,86.6 569.8,86.5 570.0,86.6 570.2,86.2 570.3,86.5 570.5,86.6 570.7,86.1 570.9,86.4 571.1,86.8 571.2,86.5 571.4,86.6 571.6,86.5 571.8,86.6 572.0,86.6 572.1,86.3 572.3,86.2 572.5,86.6 572.7,86.6 572.9,86.5 573.0,86.8 573.2,86.4 573.4,86.6 573.6,86.4 573.8,86.6 574.0,86.5 574.1,86.3 574.3,86.5 574.5,86.8 574.7,86.4 574.9,86.6 575.0,86.6 575.2,86.8 575.4,86.8 575.6,86.7 575.8,86.2 575.9,87.2 576.1,86.7 576.3,86.8 576.5,86.7 576.7,86.6 576.8,86.8 577.0,86.9 577.2,86.8 577.4,86.4 577.6,86.3 577.7,87.1 577.9,86.0 578.1,86.5 578.3,86.5 578.5,86.4 578.6,86.7 578.8,86.4 579.0,86.7 579.2,86.4 579.4,86.4 579.6,86.3 579.7,87.0 579.9,86.6 580.1,86.8 580.3,86.6 580.5,86.6 580.6,86.6 580.8,86.6 581.0,86.5 581.2,86.7 581.4,86.8 581.5,86.6 581.7,86.6 581.9,86.7 582.1,86.5 582.3,86.4 582.4,86.7 582.6,86.7 582.8,86.6 583.0,86.5 583.2,86.8 583.3,86.8 583.5,86.3 583.7,86.6 583.9,86.7 584.1,86.6 584.2,86.3 584.4,86.8 584.6,86.5 584.8,86.7 585.0,87.0 585.1,86.5 585.3,86.9 585.5,86.4 585.7,86.5 585.9,87.0 586.1,86.6 586.2,86.1 586.4,86.6 586.6,86.5 586.8,87.0 587.0,86.4 587.1,86.7 587.3,86.1 587.5,86.6 587.7,86.8 587.9,86.5 588.0,86.5 588.2,86.5 588.4,86.1 588.6,86.4 588.8,87.0 588.9,86.6 589.1,86.4 589.3,86.7 589.5,86.8 589.7,86.9 589.8,86.7 590.0,87.0 590.2,86.6 590.4,86.8 590.6,86.7 590.7,86.7 590.9,86.2 591.1,86.9 591.3,86.9 591.5,86.4 591.6,86.4 591.8,86.4 592.0,86.9 592.2,86.2 592.4,86.7 592.6,86.5 592.7,86.6 592.9,86.3 593.1,86.5 593.3,86.9 593.5,86.5 593.6,86.7 593.8,86.4 594.0,86.6 594.2,86.4 594.4,86.5 594.5,86.5 594.7,86.7 594.9,86.8 595.1,86.5 595.3,86.9 595.4,86.8 595.6,86.4 595.8,86.6 596.0,86.8 596.2,86.8 596.3,86.8 596.5,86.5 596.7,86.2 596.9,86.7 597.1,86.7 597.2,86.7 597.4,86.6 597.6,86.4 597.8,86.7 598.0,86.6 598.2,86.5 598.3,86.7 598.5,86.7 598.7,86.5 598.9,86.7 599.1,86.9 599.2,86.8 599.4,87.0 599.6,86.8 599.8,86.3 600.0,86.6 600.1,86.3 600.3,86.5 600.5,86.7 600.7,86.9 600.9,87.0 601.0,86.6 601.2,86.4 601.4,86.5 601.6,86.5 601.8,86.1 601.9,86.6 602.1,86.8 602.3,86.5 602.5,86.5 602.7,86.8 602.8,86.8 603.0,86.9 603.2,86.4 603.4,86.3 603.6,86.5 603.7,86.6 603.9,86.5 604.1,86.6 604.3,86.5 604.5,86.8 604.7,86.7 604.8,86.7 605.0,86.6 605.2,86.3 605.4,86.5 605.6,86.6 605.7,86.4 605.9,86.7 606.1,86.8 606.3,86.8 606.5,86.8 606.6,86.6 606.8,86.2 607.0,87.0 607.2,86.3 607.4,86.5 607.5,86.3 607.7,86.6 607.9,86.8 608.1,86.6 608.3,86.4 608.4,86.5 608.6,86.5 608.8,86.8 609.0,86.2 609.2,87.1 609.3,86.2 609.5,86.3 609.7,86.5 609.9,86.7 610.1,86.7 610.2,86.4 610.4,86.7 610.6,86.3 610.8,86.4 611.0,86.3 611.2,86.8 611.3,86.3 611.5,86.8 611.7,86.6 611.9,86.5 612.1,86.6 612.2,86.5 612.4,87.0 612.6,86.6 612.8,86.5 613.0,86.2 613.1,86.6 613.3,87.1 613.5,86.4 613.7,86.5 613.9,86.4 614.0,86.6 614.2,86.8 614.4,86.4 614.6,86.3 614.8,86.9 614.9,86.8 615.1,86.6 615.3,86.7 615.5,86.4 615.7,86.6 615.8,86.5 616.0,86.5 616.2,86.7 616.4,86.7 616.6,86.3 616.8,86.7 616.9,86.4 617.1,87.0 617.3,86.0 617.5,86.9 617.7,86.4 617.8,86.7 618.0,87.0 618.2,86.6 618.4,86.5 618.6,86.8 618.7,86.4 618.9,86.6 619.1,86.1 619.3,86.7 619.5,86.7 619.6,86.8 619.8,86.6 620.0,86.9 620.2,86.2 620.4,86.6 620.5,86.7 620.7,86.6 620.9,86.8 621.1,86.6 621.3,86.8 621.4,86.4 621.6,86.9 621.8,86.8 622.0,86.5 622.2,86.8 622.3,86.7 622.5,86.4 622.7,86.8 622.9,86.4 623.1,86.8 623.3,86.5 623.4,86.2 623.6,87.0 623.8,86.5 624.0,86.6 624.2,86.6 624.3,86.7 624.5,86.2 624.7,86.4 624.9,86.5 625.1,86.7 625.2,86.7 625.4,86.7 625.6,86.8 625.8,86.7 626.0,86.9 626.1,86.2 626.3,86.6 626.5,86.4 626.7,86.3 626.9,86.5 627.0,86.9 627.2,86.5 627.4,86.8 627.6,86.8 627.8,86.9 627.9,86.7 628.1,86.1 628.3,86.3 628.5,86.3 628.7,86.7 628.8,86.6 629.0,86.4 629.2,86.8 629.4,86.6 629.6,87.0 629.8,86.5 629.9,86.7 630.1,86.1 630.3,86.6 630.5,86.5 630.7,86.4 630.8,86.4 631.0,86.4 631.2,86.7 631.4,86.5 631.6,86.9 631.7,86.3 631.9,86.8 632.1,86.2 632.3,86.8 632.5,86.1 632.6,86.9 632.8,87.0 633.0,86.6 633.2,86.4 633.4,87.0 633.5,86.6 633.7,86.4 633.9,86.8 634.1,86.5 634.3,86.7 634.4,86.8 634.6,86.7 634.8,86.6 635.0,86.7 635.2,86.4 635.3,86.6 635.5,86.3 635.7,86.9 635.9,86.6 636.1,86.9 636.3,86.3 636.4,86.7 636.6,86.6 636.8,86.3 637.0,86.1 637.2,86.5 637.3,86.7 637.5,86.5 637.7,86.5 637.9,86.8 638.1,86.5 638.2,86.6 638.4,87.0 638.6,86.5 638.8,86.5 639.0,87.1 639.1,86.5 639.3,86.4 639.5,86.5 639.7,86.6 639.9,86.6 640.0,86.9 640.2,86.6 640.4,86.6 640.6,86.4 640.8,87.1 640.9,86.4 641.1,86.8 641.3,86.3 641.5,86.3 641.7,86.7 641.9,86.7 642.0,86.5 642.2,86.7 642.4,86.6 642.6,86.4 642.8,86.7 642.9,86.1 643.1,86.7 643.3,86.7 643.5,86.7 643.7,87.1 643.8,86.6 644.0,86.8 644.2,86.4 644.4,87.1 644.6,86.5 644.7,86.6 644.9,86.6 645.1,86.5 645.3,86.7 645.5,86.5 645.6,86.8 645.8,86.6 646.0,86.6 646.2,86.5 646.4,86.5 646.5,86.5 646.7,86.6 646.9,86.8 647.1,86.5 647.3,86.9 647.4,86.4 647.6,86.9 647.8,86.6 648.0,86.7 648.2,86.5 648.4,86.8 648.5,86.4 648.7,86.4 648.9,86.5 649.1,86.7 649.3,86.3 649.4,87.1 649.6,86.7 649.8,86.5 650.0,86.9 650.2,86.4 650.3,86.5 650.5,86.6 650.7,86.9 650.9,86.5 651.1,86.5 651.2,87.0 651.4,86.5 651.6,86.7 651.8,86.5 652.0,86.9 652.1,86.3 652.3,86.4 652.5,86.7 652.7,86.6 652.9,86.4 653.0,86.4 653.2,86.7 653.4,86.5 653.6,86.9 653.8,86.4 653.9,86.6 654.1,86.4 654.3,86.8 654.5,86.7 654.7,86.6 654.9,86.5 655.0,86.3 655.2,86.4 655.4,86.6 655.6,86.6 655.8,86.4 655.9,87.0 656.1,87.0 656.3,86.9 656.5,86.7 656.7,86.1 656.8,86.4 657.0,86.9 657.2,86.5 657.4,86.5 657.6,86.5 657.7,86.8 657.9,86.6 658.1,86.9 658.3,86.5 658.5,87.0 658.6,87.0 658.8,86.3 659.0,86.7 659.2,86.6 659.4,86.8 659.5,86.4 659.7,86.9 659.9,87.0 660.1,86.3 660.3,86.6 660.5,86.6 660.6,86.6 660.8,86.9 661.0,86.6 661.2,86.5 661.4,86.6 661.5,86.9 661.7,86.4 661.9,86.7 662.1,86.7 662.3,86.5 662.4,86.5 662.6,86.7 662.8,86.5 663.0,86.5 663.2,86.7 663.3,86.8 663.5,86.7 663.7,86.9 663.9,86.4 664.1,86.6 664.2,86.3 664.4,86.7 664.6,86.9 664.8,86.6 665.0,86.4 665.1,86.7 665.3,86.6 665.5,86.7 665.7,86.8 665.9,86.5 666.0,86.3 666.2,86.5 666.4,86.7 666.6,86.7 666.8,86.9 667.0,86.5 667.1,86.7 667.3,86.7 667.5,86.6 667.7,86.6 667.9,86.4 668.0,86.4 668.2,86.7 668.4,86.9 668.6,86.6 668.8,86.8 668.9,86.5 669.1,86.4 669.3,86.6 669.5,86.9 669.7,86.9 669.8,86.2 670.0,86.5 670.2,86.4 670.4,86.3 670.6,86.5 670.7,86.5 670.9,86.6 671.1,86.5 671.3,86.6 671.5,86.6 671.6,86.7 671.8,86.8 672.0,86.5 672.2,86.2 672.4,86.7 672.5,86.4 672.7,86.4 672.9,86.5 673.1,86.4 673.3,86.5 673.5,86.6 673.6,86.4 673.8,86.0 674.0,86.9 674.2,86.5 674.4,86.8 674.5,86.8 674.7,86.7 674.9,86.1 675.1,86.6 675.3,86.7 675.4,86.4 675.6,86.8 675.8,86.5" fill="none" stroke="#7E2F8E" stroke-width="1.1" stroke-linejoin="round" />
<polyline points="495.4,148.8 495.6,149.1 495.9,149.2 496.1,149.4 496.3,148.9 496.5,148.8 496.8,149.0 497.0,149.1 497.2,149.1 497.4,149.2 497.7,148.9 497.9,149.3 498.1,149.2 498.3,149.1 498.6,149.0 498.8,149.3 499.0,149.0 499.2,149.1 499.5,149.2 499.7,149.2 499.9,149.1 500.1,149.0 500.4,149.0 500.6,149.3 500.8,148.9 501.0,149.1 501.3,148.9 501.5,149.2 501.7,149.3 501.9,149.1 502.2,149.0 502.4,149.3 502.6,149.3 502.9,149.1 503.1,149.2 503.3,149.1 503.5,149.2 503.8,148.9 504.0,149.0 504.2,149.1 504.4,149.0 504.7,149.2 504.9,149.0 505.1,149.2 505.3,149.0 505.6,149.0 505.8,149.0 506.0,148.9 506.2,149.2 506.5,149.0 506.7,148.9 506.9,149.3 507.1,149.0 507.4,148.9 507.6,149.0 507.8,149.0 508.0,149.0 508.3,149.0 508.5,149.2 508.7,149.0 508.9,149.3 509.2,149.1 509.4,149.0 509.6,148.9 509.9,149.2 510.1,148.9 510.3,148.7 510.5,149.2 510.8,149.1 511.0,149.1 511.2,149.2 511.4,148.9 511.7,149.0 511.9,149.2 512.1,149.1 512.3,148.8 512.6,149.2 512.8,148.9 513.0,149.1 513.2,149.2 513.5,149.1 513.7,149.0 513.9,148.8 514.1,148.9 514.4,148.9 514.6,149.2 514.8,149.0 515.0,149.2 515.3,149.2 515.5,149.3 515.7,149.1 515.9,149.0 516.2,149.0 516.4,149.3 516.6,149.1 516.8,149.0 517.1,149.3 517.3,149.3 517.5,149.3 517.8,149.4 518.0,149.1 518.2,149.3 518.4,149.1 518.7,149.0 518.9,149.2 519.1,149.1 519.3,148.9 519.6,148.9 519.8,149.1 520.0,149.1 520.2,149.2 520.5,148.9 520.7,149.1 520.9,149.0 521.1,149.2 521.4,149.0 521.6,149.2 521.8,149.1 522.0,148.9 522.3,148.9 522.5,149.2 522.7,149.0 522.9,149.2 523.2,149.1 523.4,149.2 523.6,149.3 523.8,149.1 524.1,149.1 524.3,149.3 524.5,148.9 524.8,149.3 525.0,149.1 525.2,149.1 525.4,149.0 525.7,149.1 525.9,149.3 526.1,149.3 526.3,149.1 526.6,148.9 526.8,149.0 527.0,149.1 527.2,149.1 527.5,149.0 527.7,148.9 527.9,148.9 528.1,149.1 528.4,149.3 528.6,149.2 528.8,149.0 529.0,149.2 529.3,149.1 529.5,148.7 529.7,149.2 529.9,149.3 530.2,149.2 530.4,149.1 530.6,148.9 530.8,149.0 531.1,148.9 531.3,149.1 531.5,149.2 531.8,148.9 532.0,149.0 532.2,149.0 532.4,148.8 532.7,148.8 532.9,148.9 533.1,148.9 533.3,149.2 533.6,149.0 533.8,149.4 534.0,148.8 534.2,148.9 534.5,149.1 534.7,149.2 534.9,149.2 535.1,149.1 535.4,149.0 535.6,149.0 535.8,149.3 536.0,149.1 536.3,149.3 536.5,148.9 536.7,149.2 536.9,149.2 537.2,148.9 537.4,149.1 537.6,149.3 537.8,149.2 538.1,149.0 538.3,149.2 538.5,149.2 538.8,149.3 539.0,148.9 539.2,149.3 539.4,148.9 539.7,148.9 539.9,149.2 540.1,149.2 540.3,149.2 540.6,124.3 540.8,124.3 541.0,124.6 541.2,125.0 541.5,124.9 541.7,125.1 541.9,125.1 542.1,125.1 542.4,125.0 542.6,125.3 542.8,125.0 543.0,125.1 543.3,125.1 543.5,125.5 543.7,125.3 543.9,125.1 544.2,125.1 544.4,125.1 544.6,125.2 544.8,125.3 545.1,125.1 545.3,125.1 545.5,125.2 545.7,125.3 546.0,125.2 546.2,125.4 546.4,125.2 546.7,125.2 546.9,125.0 547.1,125.1 547.3,125.3 547.6,125.3 547.8,125.1 548.0,125.3 548.2,125.3 548.5,125.3 548.7,125.2 548.9,125.5 549.1,125.4 549.4,125.1 549.6,125.3 549.8,125.3 550.0,125.2 550.3,125.3 550.5,125.4 550.7,125.1 550.9,125.3 551.2,125.4 551.4,125.2 551.6,125.3 551.8,125.2 552.1,125.3 552.3,125.0 552.5,125.1 552.7,125.2 553.0,125.2 553.2,125.4 553.4,125.3 553.7,125.3 553.9,125.1 554.1,125.3 554.3,125.2 554.6,125.2 554.8,125.1 555.0,125.3 555.2,125.1 555.5,125.1 555.7,125.2 555.9,125.5 556.1,125.3 556.4,125.5 556.6,125.4 556.8,125.0 557.0,125.3 557.3,125.0 557.5,125.2 557.7,125.2 557.9,125.2 558.2,125.3 558.4,125.2 558.6,125.3 558.8,125.2 559.1,125.2 559.3,125.3 559.5,125.2 559.7,125.4 560.0,125.3 560.2,125.3 560.4,125.5 560.7,125.2 560.9,125.3 561.1,125.5 561.3,125.2 561.6,125.2 561.8,125.3 562.0,125.1 562.2,125.1 562.5,125.4 562.7,125.3 562.9,125.3 563.1,125.3 563.4,125.2 563.6,125.1 563.8,125.4 564.0,125.1 564.3,125.2 564.5,125.3 564.7,125.1 564.9,125.1 565.2,125.2 565.4,125.3 565.6,125.3 565.8,125.2 566.1,125.2 566.3,125.2 566.5,125.2 566.7,125.3 567.0,125.5 567.2,125.2 567.4,125.1 567.7,125.1 567.9,125.1 568.1,125.1 568.3,125.5 568.6,125.3 568.8,125.4 569.0,125.3 569.2,125.1 569.5,125.1 569.7,125.1 569.9,125.2 570.1,125.2 570.4,125.3 570.6,125.2 570.8,124.9 571.0,125.6 571.3,125.4 571.5,124.8 571.7,125.4 571.9,125.1 572.2,125.4 572.4,125.4 572.6,125.0 572.8,125.3 573.1,125.2 573.3,125.3 573.5,125.1 573.7,125.2 574.0,125.1 574.2,125.2 574.4,125.5 574.6,125.1 574.9,125.1 575.1,125.1 575.3,125.3 575.6,125.3 575.8,125.1 576.0,125.4 576.2,125.3 576.5,125.3 576.7,125.1 576.9,125.1 577.1,125.4 577.4,125.5 577.6,125.3 577.8,125.3 578.0,125.5 578.3,125.5 578.5,125.5 578.7,125.2 578.9,125.3 579.2,125.3 579.4,125.2 579.6,125.3 579.8,125.0 580.1,125.3 580.3,125.1 580.5,125.5 580.7,125.1 581.0,125.0 581.2,125.1 581.4,125.1 581.6,125.3 581.9,125.1 582.1,125.2 582.3,125.3 582.6,124.9 582.8,125.4 583.0,125.5 583.2,125.0 583.5,125.2 583.7,125.0 583.9,125.4 584.1,125.2 584.4,125.0 584.6,125.3 584.8,125.0 585.0,125.6 585.3,125.4 585.5,125.2 585.7,125.4 585.9,125.4 586.2,125.2 586.4,125.4 586.6,125.0 586.8,125.1 587.1,125.3 587.3,125.0 587.5,125.4 587.7,125.1 588.0,125.2 588.2,125.4 588.4,125.3 588.6,125.2 588.9,125.5 589.1,125.4 589.3,125.3 589.6,125.3 589.8,125.0 590.0,125.4 590.2,125.4 590.5,125.4 590.7,125.2 590.9,125.4 591.1,125.3 591.4,125.4 591.6,125.0 591.8,125.2 592.0,125.3 592.3,125.4 592.5,125.1 592.7,125.5 592.9,125.1 593.2,125.2 593.4,125.0 593.6,125.2 593.8,125.1 594.1,125.4 594.3,125.2 594.5,125.5 594.7,125.4 595.0,125.4 595.2,125.0 595.4,124.9 595.6,125.2 595.9,125.2 596.1,125.2 596.3,125.1 596.6,125.2 596.8,125.0 597.0,125.1 597.2,125.2 597.5,125.5 597.7,125.4 597.9,125.3 598.1,125.4 598.4,125.1 598.6,125.2 598.8,125.1 599.0,125.2 599.3,125.3 599.5,125.3 599.7,125.1 599.9,125.1 600.2,125.1 600.4,125.2 600.6,125.2 600.8,125.0 601.1,125.3 601.3,125.2 601.5,125.2 601.7,125.3 602.0,125.4 602.2,125.1 602.4,125.2 602.6,125.2 602.9,125.2 603.1,124.9 603.3,125.0 603.5,125.1 603.8,125.2 604.0,125.4 604.2,125.3 604.5,125.3 604.7,125.0 604.9,125.3 605.1,125.2 605.4,125.3 605.6,125.3 605.8,125.5 606.0,125.0 606.3,125.2 606.5,125.4 606.7,125.4 606.9,125.3 607.2,125.3 607.4,125.3 607.6,125.5 607.8,125.4 608.1,125.2 608.3,125.5 608.5,125.3 608.7,125.4 609.0,125.2 609.2,125.4 609.4,125.5 609.6,125.2 609.9,125.1 610.1,125.4 610.3,125.1 610.5,125.4 610.8,125.2 611.0,125.3 611.2,125.3 611.5,125.3 611.7,125.2 611.9,125.1 612.1,125.3 612.4,125.3 612.6,125.6 612.8,125.3 613.0,124.9 613.3,125.4 613.5,125.3 613.7,125.4 613.9,125.3 614.2,125.4 614.4,125.2 614.6,125.4 614.8,125.0 615.1,125.3 615.3,125.1 615.5,125.3 615.7,125.2 616.0,125.3 616.2,125.3 616.4,125.3 616.6,125.2 616.9,125.2 617.1,125.5 617.3,125.3 617.5,125.5 617.8,125.4 618.0,125.1 618.2,125.0 618.5,125.1 618.7,125.3 618.9,125.2 619.1,125.3 619.4,125.2 619.6,125.2 619.8,125.2 620.0,125.0 620.3,125.2 620.5,125.0 620.7,125.6 620.9,125.3 621.2,124.8 621.4,125.1 621.6,125.1 621.8,125.4 622.1,125.3 622.3,125.1 622.5,125.2 622.7,125.2 623.0,125.2 623.2,125.4 623.4,125.2 623.6,125.4 623.9,125.2 624.1,125.3 624.3,125.3 624.5,125.1 624.8,125.3 625.0,125.0 625.2,125.2 625.5,125.3 625.7,125.2 625.9,125.2 626.1,125.3 626.4,125.5 626.6,125.2 626.8,125.3 627.0,125.3 627.3,125.4 627.5,125.3 627.7,125.2 627.9,125.3 628.2,125.3 628.4,125.2 628.6,125.4 628.8,125.3 629.1,125.2 629.3,125.3 629.5,125.4 629.7,125.3 630.0,125.0 630.2,125.0 630.4,125.3 630.6,125.2 630.9,151.2 631.1,150.3 631.3,150.5 631.5,150.1 631.8,149.2 632.0,149.1 632.2,148.9 632.4,149.3 632.7,148.6 632.9,149.1 633.1,148.9 633.4,148.1 633.6,148.7 633.8,148.8 634.0,148.3 634.3,148.6 634.5,148.6 634.7,147.7 634.9,148.5 635.2,148.2 635.4,148.2 635.6,148.1 635.8,148.1 636.1,147.9 636.3,147.9 636.5,148.3 636.7,148.4 637.0,147.9 637.2,148.4 637.4,148.3 637.6,148.1 637.9,148.0 638.1,148.0 638.3,148.2 638.5,148.0 638.8,148.3 639.0,148.4 639.2,148.2 639.4,148.5 639.7,148.2 639.9,148.3 640.1,148.5 640.4,148.1 640.6,148.4 640.8,147.9 641.0,148.2 641.3,148.3 641.5,147.9 641.7,147.8 641.9,148.3 642.2,148.4 642.4,148.3 642.6,148.2 642.8,148.6 643.1,148.3 643.3,147.9 643.5,148.2 643.7,148.3 644.0,148.6 644.2,148.6 644.4,148.2 644.6,147.8 644.9,148.4 645.1,148.6 645.3,147.9 645.5,148.0 645.8,148.5 646.0,148.5 646.2,148.2 646.4,147.8 646.7,148.0 646.9,148.5 647.1,148.3 647.4,148.6 647.6,148.3 647.8,147.9 648.0,148.4 648.3,148.4 648.5,148.4 648.7,148.4 648.9,148.2 649.2,148.3 649.4,148.6 649.6,148.4 649.8,148.6 650.1,148.0 650.3,148.4 650.5,148.2 650.7,147.8 651.0,148.0 651.2,147.9 651.4,148.5 651.6,147.9 651.9,148.5 652.1,148.4 652.3,148.7 652.5,147.9 652.8,147.9 653.0,147.8 653.2,147.8 653.4,147.9 653.7,148.2 653.9,148.0 654.1,148.3 654.4,147.9 654.6,148.0 654.8,148.4 655.0,147.7 655.3,148.1 655.5,148.5 655.7,148.4 655.9,147.9 656.2,148.4 656.4,148.1 656.6,148.0 656.8,148.4 657.1,147.7 657.3,148.5 657.5,148.4 657.7,148.5 658.0,147.9 658.2,148.3 658.4,148.0 658.6,148.5 658.9,148.3 659.1,148.5 659.3,148.6 659.5,148.7 659.8,147.8 660.0,148.0 660.2,148.4 660.4,148.3 660.7,148.5 660.9,147.9 661.1,148.4 661.3,147.8 661.6,148.2 661.8,148.7 662.0,148.0 662.3,147.8 662.5,148.3 662.7,148.6 662.9,148.1 663.2,148.4 663.4,148.4 663.6,148.0 663.8,148.4 664.1,148.4 664.3,148.2 664.5,148.3 664.7,148.3 665.0,148.5 665.2,148.2 665.4,147.8 665.6,148.4 665.9,147.9 666.1,148.3 666.3,148.0 666.5,148.5 666.8,147.9 667.0,148.5 667.2,148.5 667.4,147.9 667.7,147.8 667.9,148.6 668.1,147.6 668.3,148.3 668.6,148.5 668.8,148.6 669.0,148.7 669.3,148.4 669.5,148.3 669.7,148.2 669.9,147.9 670.2,148.0 670.4,148.4 670.6,148.0 670.8,148.8 671.1,148.4 671.3,148.0 671.5,148.5 671.7,147.8 672.0,148.3 672.2,148.4 672.4,147.9 672.6,148.3 672.9,147.8 673.1,148.4 673.3,148.1 673.5,148.6 673.8,148.6 674.0,147.7 674.2,148.5 674.4,148.5 674.7,148.4 674.9,148.3 675.1,148.4 675.3,148.4 675.6,148.2 675.8,148.3" fill="none" stroke="#000" stroke-width="1.0" stroke-linejoin="round" />
<polyline points="495.4,149.2 495.6,149.3 495.9,149.3 496.1,149.4 496.3,149.1 496.5,149.4 496.8,149.3 497.0,149.3 497.2,149.3 497.4,149.1 497.7,149.3 497.9,149.3 498.1,149.3 498.3,149.3 498.6,149.3 498.8,149.3 499.0,149.2 499.2,149.3 499.5,149.2 499.7,149.3 499.9,149.3 500.1,149.3 500.4,149.3 500.6,149.3 500.8,149.4 501.0,149.2 501.3,149.2 501.5,149.3 501.7,149.2 501.9,149.2 502.2,149.4 502.4,149.3 502.6,149.3 502.9,149.3 503.1,149.3 503.3,149.4 503.5,149.2 503.8,149.3 504.0,149.3 504.2,149.3 504.4,149.3 504.7,149.4 504.9,149.3 505.1,149.4 505.3,149.3 505.6,149.3 505.8,149.4 506.0,149.3 506.2,149.3 506.5,149.3 506.7,149.4 506.9,149.2 507.1,149.2 507.4,149.3 507.6,149.2 507.8,149.3 508.0,149.3 508.3,149.3 508.5,149.5 508.7,149.4 508.9,149.4 509.2,149.3 509.4,149.3 509.6,149.4 509.9,149.2 510.1,149.2 510.3,149.3 510.5,149.2 510.8,149.2 511.0,149.3 511.2,149.3 511.4,149.3 511.7,149.3 511.9,149.5 512.1,149.2 512.3,149.4 512.6,149.3 512.8,149.3 513.0,149.3 513.2,149.3 513.5,149.2 513.7,149.3 513.9,149.2 514.1,149.3 514.4,149.4 514.6,149.2 514.8,149.4 515.0,149.4 515.3,149.2 515.5,149.2 515.7,149.2 515.9,149.3 516.2,149.3 516.4,149.2 516.6,149.3 516.8,149.2 517.1,149.4 517.3,149.3 517.5,149.4 517.8,149.3 518.0,149.3 518.2,149.3 518.4,149.3 518.7,149.4 518.9,149.3 519.1,149.4 519.3,149.3 519.6,149.3 519.8,149.2 520.0,149.3 520.2,149.3 520.5,149.3 520.7,149.3 520.9,149.3 521.1,149.3 521.4,149.2 521.6,149.2 521.8,149.3 522.0,149.2 522.3,149.2 522.5,149.3 522.7,149.3 522.9,149.3 523.2,149.2 523.4,149.3 523.6,149.2 523.8,149.2 524.1,149.4 524.3,149.2 524.5,149.4 524.8,149.3 525.0,149.3 525.2,149.3 525.4,149.4 525.7,149.1 525.9,149.2 526.1,149.3 526.3,149.3 526.6,149.3 526.8,149.3 527.0,149.3 527.2,149.2 527.5,149.3 527.7,149.3 527.9,149.3 528.1,149.3 528.4,149.3 528.6,149.3 528.8,149.3 529.0,149.4 529.3,149.2 529.5,149.3 529.7,149.3 529.9,149.3 530.2,149.2 530.4,149.2 530.6,149.4 530.8,149.3 531.1,149.3 531.3,149.4 531.5,149.3 531.8,149.3 532.0,149.4 532.2,149.4 532.4,149.3 532.7,149.3 532.9,149.2 533.1,149.3 533.3,149.2 533.6,149.4 533.8,149.2 534.0,149.3 534.2,149.3 534.5,149.3 534.7,149.3 534.9,149.2 535.1,149.4 535.4,149.3 535.6,149.4 535.8,149.3 536.0,149.3 536.3,149.3 536.5,149.2 536.7,149.3 536.9,149.3 537.2,149.3 537.4,149.3 537.6,149.2 537.8,149.4 538.1,149.3 538.3,149.3 538.5,149.2 538.8,149.4 539.0,149.4 539.2,149.4 539.4,149.2 539.7,149.3 539.9,149.3 540.1,149.2 540.3,149.3 540.6,149.4 540.8,149.4 541.0,149.4 541.2,149.2 541.5,149.1 541.7,149.2 541.9,149.2 542.1,149.3 542.4,149.2 542.6,149.2 542.8,149.3 543.0,149.3 543.3,149.3 543.5,149.3 543.7,149.4 543.9,149.2 544.2,149.3 544.4,149.3 544.6,149.2 544.8,149.2 545.1,149.2 545.3,149.2 545.5,149.3 545.7,149.3 546.0,149.3 546.2,149.4 546.4,149.3 546.7,149.3 546.9,149.4 547.1,149.3 547.3,149.3 547.6,149.2 547.8,149.3 548.0,149.4 548.2,149.2 548.5,149.4 548.7,149.2 548.9,149.3 549.1,149.2 549.4,149.3 549.6,149.3 549.8,149.2 550.0,149.2 550.3,149.3 550.5,149.3 550.7,149.4 550.9,149.4 551.2,149.3 551.4,149.3 551.6,149.4 551.8,149.4 552.1,149.3 552.3,149.4 552.5,149.2 552.7,149.4 553.0,149.3 553.2,149.3 553.4,149.3 553.7,149.3 553.9,149.3 554.1,149.3 554.3,149.3 554.6,149.4 554.8,149.3 555.0,149.3 555.2,149.3 555.5,149.3 555.7,149.4 555.9,149.4 556.1,149.3 556.4,149.4 556.6,149.4 556.8,149.2 557.0,149.3 557.3,149.3 557.5,149.2 557.7,149.3 557.9,149.3 558.2,149.3 558.4,149.4 558.6,149.3 558.8,149.3 559.1,149.3 559.3,149.2 559.5,149.4 559.7,149.4 560.0,149.3 560.2,149.3 560.4,149.2 560.7,149.3 560.9,149.3 561.1,149.2 561.3,149.4 561.6,149.3 561.8,149.2 562.0,149.3 562.2,149.4 562.5,149.3 562.7,149.3 562.9,149.4 563.1,149.3 563.4,149.3 563.6,149.3 563.8,149.3 564.0,149.3 564.3,149.3 564.5,149.4 564.7,149.2 564.9,149.4 565.2,149.2 565.4,149.5 565.6,149.2 565.8,149.3 566.1,149.2 566.3,149.3 566.5,149.2 566.7,149.4 567.0,149.2 567.2,149.2 567.4,149.2 567.7,149.3 567.9,149.4 568.1,149.4 568.3,149.4 568.6,149.3 568.8,149.2 569.0,149.2 569.2,149.4 569.5,149.2 569.7,149.2 569.9,149.3 570.1,149.3 570.4,149.4 570.6,149.3 570.8,149.2 571.0,149.3 571.3,149.5 571.5,149.5 571.7,149.2 571.9,149.4 572.2,149.3 572.4,149.3 572.6,149.3 572.8,149.2 573.1,149.2 573.3,149.2 573.5,149.2 573.7,149.2 574.0,149.3 574.2,149.2 574.4,149.3 574.6,149.3 574.9,149.2 575.1,149.4 575.3,149.3 575.6,149.3 575.8,149.2 576.0,149.2 576.2,149.3 576.5,149.3 576.7,149.3 576.9,149.4 577.1,149.2 577.4,149.3 577.6,149.3 577.8,149.3 578.0,149.4 578.3,149.3 578.5,149.4 578.7,149.2 578.9,149.4 579.2,149.3 579.4,149.2 579.6,149.3 579.8,149.2 580.1,149.3 580.3,149.3 580.5,149.4 580.7,149.3 581.0,149.4 581.2,149.3 581.4,149.3 581.6,149.3 581.9,149.2 582.1,149.3 582.3,149.2 582.6,149.2 582.8,149.2 583.0,149.1 583.2,149.2 583.5,149.3 583.7,149.2 583.9,149.4 584.1,149.3 584.4,149.3 584.6,149.2 584.8,149.4 585.0,149.3 585.3,149.1 585.5,149.2 585.7,149.3 585.9,149.3 586.2,149.3 586.4,149.4 586.6,149.3 586.8,149.3 587.1,149.2 587.3,149.3 587.5,149.2 587.7,149.4 588.0,149.3 588.2,149.3 588.4,149.3 588.6,149.3 588.9,149.3 589.1,149.3 589.3,149.4 589.6,149.3 589.8,149.3 590.0,149.3 590.2,149.3 590.5,149.3 590.7,149.3 590.9,149.3 591.1,149.3 591.4,149.4 591.6,149.4 591.8,149.2 592.0,149.4 592.3,149.4 592.5,149.4 592.7,149.4 592.9,149.3 593.2,149.3 593.4,149.3 593.6,149.3 593.8,149.3 594.1,149.4 594.3,149.3 594.5,149.3 594.7,149.4 595.0,149.4 595.2,149.2 595.4,149.4 595.6,149.3 595.9,149.4 596.1,149.3 596.3,149.4 596.6,149.3 596.8,149.4 597.0,149.4 597.2,149.3 597.5,149.2 597.7,149.4 597.9,149.4 598.1,149.3 598.4,149.3 598.6,149.4 598.8,149.2 599.0,149.3 599.3,149.3 599.5,149.4 599.7,149.3 599.9,149.5 600.2,149.2 600.4,149.2 600.6,149.3 600.8,149.3 601.1,149.3 601.3,149.3 601.5,149.3 601.7,149.4 602.0,149.2 602.2,149.3 602.4,149.4 602.6,149.3 602.9,149.4 603.1,149.3 603.3,149.3 603.5,149.2 603.8,149.3 604.0,149.3 604.2,149.3 604.5,149.3 604.7,149.3 604.9,149.3 605.1,149.2 605.4,149.3 605.6,149.2 605.8,149.4 606.0,149.4 606.3,149.3 606.5,149.3 606.7,149.3 606.9,149.3 607.2,149.3 607.4,149.3 607.6,149.3 607.8,149.4 608.1,149.4 608.3,149.3 608.5,149.3 608.7,149.3 609.0,149.3 609.2,149.4 609.4,149.4 609.6,149.4 609.9,149.3 610.1,149.3 610.3,149.3 610.5,149.3 610.8,149.3 611.0,149.4 611.2,149.3 611.5,149.3 611.7,149.3 611.9,149.4 612.1,149.4 612.4,149.3 612.6,149.3 612.8,149.3 613.0,149.3 613.3,149.3 613.5,149.3 613.7,149.4 613.9,149.3 614.2,149.2 614.4,149.3 614.6,149.3 614.8,149.3 615.1,149.3 615.3,149.3 615.5,149.3 615.7,149.4 616.0,149.3 616.2,149.3 616.4,149.4 616.6,149.4 616.9,149.4 617.1,149.3 617.3,149.3 617.5,149.4 617.8,149.4 618.0,149.3 618.2,149.3 618.5,149.2 618.7,149.2 618.9,149.2 619.1,149.3 619.4,149.3 619.6,149.2 619.8,149.2 620.0,149.3 620.3,149.2 620.5,149.3 620.7,149.2 620.9,149.3 621.2,149.3 621.4,149.3 621.6,149.3 621.8,149.4 622.1,149.3 622.3,149.4 622.5,149.3 622.7,149.3 623.0,149.2 623.2,149.4 623.4,149.5 623.6,149.2 623.9,149.3 624.1,149.3 624.3,149.3 624.5,149.4 624.8,149.3 625.0,149.3 625.2,149.3 625.5,149.4 625.7,149.2 625.9,149.4 626.1,149.3 626.4,149.3 626.6,149.4 626.8,149.4 627.0,149.3 627.3,149.2 627.5,149.3 627.7,149.4 627.9,149.2 628.2,149.3 628.4,149.3 628.6,149.2 628.8,149.3 629.1,149.3 629.3,149.4 629.5,149.3 629.7,149.3 630.0,149.2 630.2,149.3 630.4,149.3 630.6,149.3 630.9,149.3 631.1,149.3 631.3,149.3 631.5,149.1 631.8,149.3 632.0,149.2 632.2,149.2 632.4,149.2 632.7,149.3 632.9,149.3 633.1,149.3 633.4,149.2 633.6,149.4 633.8,149.3 634.0,149.4 634.3,149.2 634.5,149.3 634.7,149.2 634.9,149.4 635.2,149.3 635.4,149.3 635.6,149.3 635.8,149.3 636.1,149.4 636.3,149.2 636.5,149.3 636.7,149.3 637.0,149.4 637.2,149.3 637.4,149.4 637.6,149.3 637.9,149.3 638.1,149.3 638.3,149.4 638.5,149.4 638.8,149.3 639.0,149.3 639.2,149.2 639.4,149.3 639.7,149.3 639.9,149.3 640.1,149.4 640.4,149.3 640.6,149.3 640.8,149.2 641.0,149.3 641.3,149.2 641.5,149.3 641.7,149.3 641.9,149.4 642.2,149.2 642.4,149.4 642.6,149.2 642.8,149.3 643.1,149.3 643.3,149.3 643.5,149.2 643.7,149.3 644.0,149.2 644.2,149.3 644.4,149.3 644.6,149.2 644.9,149.2 645.1,149.3 645.3,149.4 645.5,149.3 645.8,149.4 646.0,149.2 646.2,149.3 646.4,149.3 646.7,149.3 646.9,149.2 647.1,149.3 647.4,149.3 647.6,149.3 647.8,149.2 648.0,149.3 648.3,149.3 648.5,149.3 648.7,149.3 648.9,149.3 649.2,149.2 649.4,149.2 649.6,149.3 649.8,149.3 650.1,149.2 650.3,149.4 650.5,149.2 650.7,149.3 651.0,149.3 651.2,149.3 651.4,149.2 651.6,149.3 651.9,149.3 652.1,149.3 652.3,149.3 652.5,149.4 652.8,149.3 653.0,149.4 653.2,149.3 653.4,149.2 653.7,149.3 653.9,149.3 654.1,149.3 654.4,149.4 654.6,149.2 654.8,149.3 655.0,149.3 655.3,149.4 655.5,149.3 655.7,149.4 655.9,149.3 656.2,149.4 656.4,149.2 656.6,149.3 656.8,149.3 657.1,149.2 657.3,149.3 657.5,149.3 657.7,149.3 658.0,149.3 658.2,149.2 658.4,149.3 658.6,149.3 658.9,149.4 659.1,149.4 659.3,149.2 659.5,149.3 659.8,149.4 660.0,149.5 660.2,149.2 660.4,149.3 660.7,149.3 660.9,149.4 661.1,149.4 661.3,149.3 661.6,149.3 661.8,149.3 662.0,149.2 662.3,149.5 662.5,149.4 662.7,149.3 662.9,149.3 663.2,149.4 663.4,149.2 663.6,149.3 663.8,149.3 664.1,149.4 664.3,149.3 664.5,149.4 664.7,149.4 665.0,149.3 665.2,149.3 665.4,149.3 665.6,149.2 665.9,149.4 666.1,149.3 666.3,149.3 666.5,149.3 666.8,149.2 667.0,149.3 667.2,149.4 667.4,149.2 667.7,149.2 667.9,149.3 668.1,149.4 668.3,149.3 668.6,149.3 668.8,149.2 669.0,149.4 669.3,149.3 669.5,149.3 669.7,149.2 669.9,149.4 670.2,149.3 670.4,149.3 670.6,149.3 670.8,149.3 671.1,149.3 671.3,149.3 671.5,149.2 671.7,149.4 672.0,149.2 672.2,149.3 672.4,149.3 672.6,149.3 672.9,149.3 673.1,149.4 673.3,149.3 673.5,149.3 673.8,149.2 674.0,149.3 674.2,149.3 674.4,149.4 674.7,149.3 674.9,149.3 675.1,149.3 675.3,149.3 675.6,149.4 675.8,149.2" fill="none" stroke="#D95319" stroke-width="1.2" stroke-linejoin="round" />
<path d="M630.6,151.6 l3.2,-1.6 l-2.6,-1.0 z" fill="#000"/>
<polyline points="495.4,185.6 495.7,186.1 495.9,185.3 496.2,184.6 496.4,185.5 496.7,186.1 496.9,184.8 497.2,185.8 497.5,185.4 497.7,186.0 498.0,185.6 498.2,185.5 498.5,186.1 498.8,185.1 499.0,186.4 499.3,186.3 499.5,186.1 499.8,185.2 500.0,186.2 500.3,186.6 500.6,185.8 500.8,185.4 501.1,185.9 501.3,186.2 501.6,185.7 501.9,185.8 502.1,185.8 502.4,185.9 502.6,186.5 502.9,186.3 503.1,184.7 503.4,185.5 503.7,185.1 503.9,184.3 504.2,185.1 504.4,185.8 504.7,185.9 504.9,185.3 505.2,185.9 505.5,185.4 505.7,186.0 506.0,186.5 506.2,185.4 506.5,184.9 506.8,185.8 507.0,185.2 507.3,185.4 507.5,185.7 507.8,185.4 508.0,186.1 508.3,185.3 508.6,185.1 508.8,185.9 509.1,185.5 509.3,185.6 509.6,186.1 509.9,185.5 510.1,185.2 510.4,186.4 510.6,185.8 510.9,185.1 511.1,185.7 511.4,185.7 511.7,185.4 511.9,186.0 512.2,185.3 512.4,185.3 512.7,186.0 512.9,185.9 513.2,185.4 513.5,186.2 513.7,185.6 514.0,186.0 514.2,186.4 514.5,186.4 514.8,185.4 515.0,185.7 515.3,185.3 515.5,185.6 515.8,185.5 516.0,185.4 516.3,185.6 516.6,186.8 516.8,185.3 517.1,186.0 517.3,185.6 517.6,186.3 517.9,186.9 518.1,186.0 518.4,186.2 518.6,185.7 518.9,186.0 519.1,185.5 519.4,185.5 519.7,186.7 519.9,185.3 520.2,185.1 520.4,184.9 520.7,185.8 521.0,186.9 521.2,185.1 521.5,184.7 521.7,185.8 522.0,185.7 522.2,185.8 522.5,185.8 522.8,185.7 523.0,185.7 523.3,185.4 523.5,186.4 523.8,186.1 524.0,185.0 524.3,185.3 524.6,185.2 524.8,186.0 525.1,186.1 525.3,185.0 525.6,184.9 525.9,185.8 526.1,186.2 526.4,185.5 526.6,186.2 526.9,185.9 527.1,186.5 527.4,186.0 527.7,184.7 527.9,185.3 528.2,184.9 528.4,185.5 528.7,185.2 529.0,186.7 529.2,185.9 529.5,185.9 529.7,186.6 530.0,185.8 530.2,185.3 530.5,184.8 530.8,185.0 531.0,185.7 531.3,185.9 531.5,185.4 531.8,186.2 532.0,184.9 532.3,185.3 532.6,185.9 532.8,185.6 533.1,185.9 533.3,186.7 533.6,185.7 533.9,186.8 534.1,186.3 534.4,184.6 534.6,186.2 534.9,185.5 535.1,185.2 535.4,185.5 535.7,185.7 535.9,186.2 536.2,185.3 536.4,185.3 536.7,185.7 537.0,184.9 537.2,185.9 537.5,185.2 537.7,186.1 538.0,186.1 538.2,185.1 538.5,186.3 538.8,185.7 539.0,186.7 539.3,185.3 539.5,185.2 539.8,185.4 540.0,186.3 540.3,184.9 540.6,185.6 540.8,185.7 541.1,185.5 541.3,185.9 541.6,184.8 541.9,185.9 542.1,186.2 542.4,185.7 542.6,185.9 542.9,185.4 543.1,185.9 543.4,185.9 543.7,185.8 543.9,185.5 544.2,186.4 544.4,185.7 544.7,185.4 545.0,185.4 545.2,185.2 545.5,185.9 545.7,185.9 546.0,186.5 546.2,185.8 546.5,186.1 546.8,185.6 547.0,185.3 547.3,185.6 547.5,185.3 547.8,186.0 548.0,185.2 548.3,185.7 548.6,185.5 548.8,186.5 549.1,185.5 549.3,186.1 549.6,185.9 549.9,186.2 550.1,185.9 550.4,185.7 550.6,185.9 550.9,186.1 551.1,185.6 551.4,185.7 551.7,185.7 551.9,185.0 552.2,185.5 552.4,185.7 552.7,186.0 553.0,185.6 553.2,185.9 553.5,185.8 553.7,185.3 554.0,185.8 554.2,185.4 554.5,185.4 554.8,185.7 555.0,185.3 555.3,186.4 555.5,185.5 555.8,185.8 556.0,185.5 556.3,185.5 556.6,185.2 556.8,185.8 557.1,185.6 557.3,185.2 557.6,185.5 557.9,185.7 558.1,185.8 558.4,186.1 558.6,185.4 558.9,186.3 559.1,185.7 559.4,185.4 559.7,185.7 559.9,185.7 560.2,186.5 560.4,185.4 560.7,185.8 561.0,185.6 561.2,185.5 561.5,185.4 561.7,185.8 562.0,185.8 562.2,185.6 562.5,185.8 562.8,185.9 563.0,186.0 563.3,185.1 563.5,185.7 563.8,185.1 564.1,186.1 564.3,185.7 564.6,185.6 564.8,185.2 565.1,185.2 565.3,186.3 565.6,186.0 565.9,186.0 566.1,185.4 566.4,185.5 566.6,185.4 566.9,185.7 567.1,185.8 567.4,185.8 567.7,185.6 567.9,185.3 568.2,185.4 568.4,185.7 568.7,185.8 569.0,185.5 569.2,185.5 569.5,185.5 569.7,186.2 570.0,185.5 570.2,185.4 570.5,186.0 570.8,185.7 571.0,185.7 571.3,186.0 571.5,185.6 571.8,185.6 572.1,185.8 572.3,185.2 572.6,185.9 572.8,185.6 573.1,185.7 573.3,186.1 573.6,185.6 573.9,185.5 574.1,185.9 574.4,186.1 574.6,185.9 574.9,185.8 575.1,185.9 575.4,185.5 575.7,186.4 575.9,186.1 576.2,185.9 576.4,185.8 576.7,185.7 577.0,185.4 577.2,185.8 577.5,185.3 577.7,186.1 578.0,185.3 578.2,185.7 578.5,185.9 578.8,185.5 579.0,185.9 579.3,185.2 579.5,186.0 579.8,185.4 580.1,186.2 580.3,185.3 580.6,185.1 580.8,185.9 581.1,185.2 581.3,185.4 581.6,185.8 581.9,185.5 582.1,185.5 582.4,185.4 582.6,185.0 582.9,185.8 583.1,186.3 583.4,185.4 583.7,185.9 583.9,185.6 584.2,185.6 584.4,185.7 584.7,185.6 585.0,185.8 585.2,185.7 585.5,186.1 585.7,186.2 586.0,185.5 586.2,186.3 586.5,185.5 586.8,185.4 587.0,185.8 587.3,185.5 587.5,185.6 587.8,186.0 588.1,186.0 588.3,185.5 588.6,185.4 588.8,185.6 589.1,185.9 589.3,185.6 589.6,185.5 589.9,185.8 590.1,185.8 590.4,185.8 590.6,186.1 590.9,186.0 591.1,185.6 591.4,185.4 591.7,185.9 591.9,185.9 592.2,185.3 592.4,185.0 592.7,186.1 593.0,185.9 593.2,185.4 593.5,185.2 593.7,185.7 594.0,185.5 594.2,185.9 594.5,185.1 594.8,185.8 595.0,185.2 595.3,185.9 595.5,185.8 595.8,185.5 596.1,185.5 596.3,185.7 596.6,185.8 596.8,185.3 597.1,185.7 597.3,185.9 597.6,185.4 597.9,186.2 598.1,185.5 598.4,185.6 598.6,185.8 598.9,185.4 599.1,185.8 599.4,185.9 599.7,185.4 599.9,185.8 600.2,185.8 600.4,185.9 600.7,185.9 601.0,185.9 601.2,185.1 601.5,185.6 601.7,185.5 602.0,185.9 602.2,185.3 602.5,185.9 602.8,185.7 603.0,185.4 603.3,186.0 603.5,185.3 603.8,185.9 604.1,185.5 604.3,185.9 604.6,185.8 604.8,185.0 605.1,186.1 605.3,185.6 605.6,185.3 605.9,185.7 606.1,185.4 606.4,185.9 606.6,185.5 606.9,185.8 607.1,186.3 607.4,186.0 607.7,185.2 607.9,186.2 608.2,185.5 608.4,185.5 608.7,185.6 609.0,185.6 609.2,185.4 609.5,185.2 609.7,185.3 610.0,185.7 610.2,185.9 610.5,186.0 610.8,185.4 611.0,185.8 611.3,185.4 611.5,186.2 611.8,185.7 612.1,186.0 612.3,185.6 612.6,186.3 612.8,185.7 613.1,185.5 613.3,185.6 613.6,185.4 613.9,185.7 614.1,185.5 614.4,184.9 614.6,185.9 614.9,186.2 615.2,185.5 615.4,185.5 615.7,185.4 615.9,185.8 616.2,185.6 616.4,186.2 616.7,185.1 617.0,185.5 617.2,185.6 617.5,185.4 617.7,185.8 618.0,185.9 618.2,185.8 618.5,185.9 618.8,185.8 619.0,185.3 619.3,185.4 619.5,185.6 619.8,185.6 620.1,185.1 620.3,185.7 620.6,185.6 620.8,185.8 621.1,185.8 621.3,185.8 621.6,185.4 621.9,186.1 622.1,185.2 622.4,185.2 622.6,185.4 622.9,185.5 623.2,185.6 623.4,185.3 623.7,185.6 623.9,185.6 624.2,185.8 624.4,185.6 624.7,186.1 625.0,185.5 625.2,185.7 625.5,185.9 625.7,185.0 626.0,185.1 626.2,185.5 626.5,185.8 626.8,185.5 627.0,186.0 627.3,186.0 627.5,185.7 627.8,185.5 628.1,185.6 628.3,185.5 628.6,186.1 628.8,185.3 629.1,185.8 629.3,186.2 629.6,185.4 629.9,185.6 630.1,185.8 630.4,185.3 630.6,185.4 630.9,186.0 631.2,185.7 631.4,185.7 631.7,185.3 631.9,182.1 632.2,180.7 632.4,182.3 632.7,185.7 633.0,187.6 633.2,189.4 633.5,188.8 633.7,187.0 634.0,186.3 634.2,185.6 634.5,185.9 634.8,185.7 635.0,185.6 635.3,185.9 635.5,185.7 635.8,185.4 636.1,186.0 636.3,185.8 636.6,185.7 636.8,185.8 637.1,185.8 637.3,186.4 637.6,186.3 637.9,185.7 638.1,185.5 638.4,185.7 638.6,185.9 638.9,185.5 639.2,185.7 639.4,185.9 639.7,185.7 639.9,185.8 640.2,186.1 640.4,186.1 640.7,185.9 641.0,185.6 641.2,185.9 641.5,185.6 641.7,186.2 642.0,185.5 642.2,185.9 642.5,185.8 642.8,185.8 643.0,185.8 643.3,186.2 643.5,185.6 643.8,185.4 644.1,185.3 644.3,185.6 644.6,185.6 644.8,185.5 645.1,185.9 645.3,185.7 645.6,185.4 645.9,185.5 646.1,185.9 646.4,186.3 646.6,185.7 646.9,186.0 647.2,185.8 647.4,185.6 647.7,185.5 647.9,185.5 648.2,185.6 648.4,185.6 648.7,185.4 649.0,185.5 649.2,185.6 649.5,185.4 649.7,185.4 650.0,185.8 650.2,185.6 650.5,185.6 650.8,185.8 651.0,185.5 651.3,185.8 651.5,185.5 651.8,186.1 652.1,185.8 652.3,186.2 652.6,185.5 652.8,185.2 653.1,185.3 653.3,185.6 653.6,186.0 653.9,185.2 654.1,185.7 654.4,185.4 654.6,185.5 654.9,185.9 655.2,185.7 655.4,186.0 655.7,186.2 655.9,185.4 656.2,185.9 656.4,186.1 656.7,185.7 657.0,185.9 657.2,185.8 657.5,186.0 657.7,186.0 658.0,185.2 658.3,185.7 658.5,185.9 658.8,185.4 659.0,185.8 659.3,185.6 659.5,185.3 659.8,185.7 660.1,185.8 660.3,186.0 660.6,185.4 660.8,185.7 661.1,185.8 661.3,185.5 661.6,185.7 661.9,186.1 662.1,185.5 662.4,185.8 662.6,185.7 662.9,185.5 663.2,185.6 663.4,185.7 663.7,185.4 663.9,185.9 664.2,185.2 664.4,185.7 664.7,185.7 665.0,185.8 665.2,186.0 665.5,185.6 665.7,185.9 666.0,186.0 666.3,185.8 666.5,185.8 666.8,185.2 667.0,185.4 667.3,185.7 667.5,186.1 667.8,185.9 668.1,185.6 668.3,185.6 668.6,186.2 668.8,186.3 669.1,186.2 669.3,186.4 669.6,185.8 669.9,185.5 670.1,186.0 670.4,186.2 670.6,185.2 670.9,185.5 671.2,185.4 671.4,185.7 671.7,185.6 671.9,185.8 672.2,185.3 672.4,185.9 672.7,186.1 673.0,185.0 673.2,185.7 673.5,185.4 673.7,185.3 674.0,186.2 674.3,185.6 674.5,186.0 674.8,186.3 675.0,185.8 675.3,185.0 675.5,185.4 675.8,185.5" fill="none" stroke="#EDB120" stroke-width="1.3" stroke-linejoin="round" />
<line x1="495.40" y1="0.3" x2="495.40" y2="56.4" stroke="#999" stroke-width="1"/>
<line x1="675.80" y1="0.3" x2="675.80" y2="56.4" stroke="#c4c4c4" stroke-width="0.9"/>
<line x1="495.40" y1="0.30" x2="675.80" y2="0.30" stroke="#a8a8a8" stroke-width="0.9"/>
<line x1="495.40" y1="56.40" x2="675.80" y2="56.40" stroke="#7c7c7c" stroke-width="1.2"/>
<path d="M495.40,11.50h1.8M675.80,11.50h-1.8" stroke="#666" stroke-width="0.8"/>
<text x="491.5" y="15.3" class="tk" text-anchor="end">475</text>
<path d="M495.40,28.50h1.8M675.80,28.50h-1.8" stroke="#666" stroke-width="0.8"/>
<text x="491.5" y="32.3" class="tk" text-anchor="end">450</text>
<path d="M495.40,45.50h1.8M675.80,45.50h-1.8" stroke="#666" stroke-width="0.8"/>
<text x="491.5" y="49.3" class="tk" text-anchor="end">425</text>
<path d="M540.50,56.40v-1.8M540.50,0.30v1.8" stroke="#666" stroke-width="0.8"/>
<path d="M585.60,56.40v-1.8M585.60,0.30v1.8" stroke="#666" stroke-width="0.8"/>
<path d="M630.70,56.40v-1.8M630.70,0.30v1.8" stroke="#666" stroke-width="0.8"/>
<line x1="495.40" y1="56.4" x2="495.40" y2="115.6" stroke="#999" stroke-width="1"/>
<line x1="675.80" y1="56.4" x2="675.80" y2="115.6" stroke="#c4c4c4" stroke-width="0.9"/>
<line x1="495.40" y1="115.60" x2="675.80" y2="115.60" stroke="#7c7c7c" stroke-width="1.2"/>
<path d="M495.40,64.79h1.8M675.80,64.79h-1.8" stroke="#666" stroke-width="0.8"/>
<text x="491.5" y="68.6" class="tk" text-anchor="end">3</text>
<path d="M495.40,75.69h1.8M675.80,75.69h-1.8" stroke="#666" stroke-width="0.8"/>
<text x="491.5" y="79.5" class="tk" text-anchor="end">1.5</text>
<path d="M495.40,86.60h1.8M675.80,86.60h-1.8" stroke="#666" stroke-width="0.8"/>
<text x="491.5" y="90.4" class="tk" text-anchor="end">0</text>
<path d="M495.40,97.50h1.8M675.80,97.50h-1.8" stroke="#666" stroke-width="0.8"/>
<text x="491.5" y="101.3" class="tk" text-anchor="end">-1.5</text>
<path d="M495.40,108.41h1.8M675.80,108.41h-1.8" stroke="#666" stroke-width="0.8"/>
<text x="491.5" y="112.2" class="tk" text-anchor="end">-3</text>
<path d="M540.50,115.60v-1.8M540.50,56.40v1.8" stroke="#666" stroke-width="0.8"/>
<path d="M585.60,115.60v-1.8M585.60,56.40v1.8" stroke="#666" stroke-width="0.8"/>
<path d="M630.70,115.60v-1.8M630.70,56.40v1.8" stroke="#666" stroke-width="0.8"/>
<line x1="495.40" y1="115.6" x2="495.40" y2="162.4" stroke="#999" stroke-width="1"/>
<line x1="675.80" y1="115.6" x2="675.80" y2="162.4" stroke="#c4c4c4" stroke-width="0.9"/>
<line x1="495.40" y1="162.40" x2="675.80" y2="162.40" stroke="#7c7c7c" stroke-width="1.2"/>
<path d="M495.40,125.11h1.8M675.80,125.11h-1.8" stroke="#666" stroke-width="0.8"/>
<text x="491.5" y="128.9" class="tk" text-anchor="end">3.6</text>
<path d="M495.40,137.20h1.8M675.80,137.20h-1.8" stroke="#666" stroke-width="0.8"/>
<text x="491.5" y="141.0" class="tk" text-anchor="end">1.8</text>
<path d="M495.40,149.30h1.8M675.80,149.30h-1.8" stroke="#666" stroke-width="0.8"/>
<text x="491.5" y="153.1" class="tk" text-anchor="end">0</text>
<path d="M540.50,162.40v-1.8M540.50,115.60v1.8" stroke="#666" stroke-width="0.8"/>
<path d="M585.60,162.40v-1.8M585.60,115.60v1.8" stroke="#666" stroke-width="0.8"/>
<path d="M630.70,162.40v-1.8M630.70,115.60v1.8" stroke="#666" stroke-width="0.8"/>
<line x1="495.90" y1="162.4" x2="495.90" y2="208.3" stroke="#d2d2d2" stroke-width="1"/>
<line x1="675.80" y1="162.4" x2="675.80" y2="208.3" stroke="#c4c4c4" stroke-width="0.9"/>
<line x1="495.40" y1="208.30" x2="675.80" y2="208.30" stroke="#a8a8a8" stroke-width="1"/>
<path d="M495.90,162.70h1.8M675.80,162.70h-1.8" stroke="#666" stroke-width="0.8"/>
<text x="491.5" y="166.5" class="tk" text-anchor="end">1</text>
<path d="M495.90,185.70h1.8M675.80,185.70h-1.8" stroke="#666" stroke-width="0.8"/>
<text x="491.5" y="189.5" class="tk" text-anchor="end">0</text>
<path d="M495.90,208.70h1.8M675.80,208.70h-1.8" stroke="#666" stroke-width="0.8"/>
<text x="491.5" y="212.5" class="tk" text-anchor="end">-1</text>
<path d="M541.05,208.30v-1.8M541.05,162.40v1.8" stroke="#666" stroke-width="0.8"/>
<path d="M586.15,208.30v-1.8M586.15,162.40v1.8" stroke="#666" stroke-width="0.8"/>
<path d="M631.25,208.30v-1.8M631.25,162.40v1.8" stroke="#666" stroke-width="0.8"/>
<text x="495.6" y="222.2" class="tk" text-anchor="middle" style="letter-spacing:0.4px">0.15</text>
<text x="540.7" y="222.2" class="tk" text-anchor="middle" style="letter-spacing:0.4px">0.2</text>
<text x="585.8" y="222.2" class="tk" text-anchor="middle" style="letter-spacing:0.4px">0.25</text>
<text x="630.9" y="222.2" class="tk" text-anchor="middle" style="letter-spacing:0.4px">0.3</text>
<text x="676.0" y="222.2" class="tk" text-anchor="middle" style="letter-spacing:0.4px">0.35</text>
<text x="586.8" y="233.4" class="tl" text-anchor="middle">Time (s)</text>
<text x="585.4" y="250.0" class="cap" text-anchor="middle">c) proposed FOADRC</text>
<text class="yl" transform="translate(467.8,28.2) rotate(-90)" text-anchor="middle">V<tspan class="sub" dy="3.5">dc</tspan><tspan dy="-3.5"> (V)</tspan></text>
<text class="yl" transform="translate(467.5,87.3) rotate(-90)" text-anchor="middle">i<tspan class="sub" dy="3.5">abcn</tspan><tspan dy="-3.5"> (A)</tspan></text>
<text class="yl" transform="translate(470.2,138.7) rotate(-90)" text-anchor="middle">i<tspan class="sub" dy="3.5">dq</tspan><tspan dy="-3.5"> (A)</tspan></text>
<text class="yl" transform="translate(466.7,186.2) rotate(-90)" text-anchor="middle">i<tspan class="sub" dy="3.5">0</tspan><tspan dy="-3.5"> (A)</tspan></text>
<line x1="82.5" y1="21.6" x2="128.9" y2="21.6" stroke="#000" stroke-width="0.8"/>
<path d="M79.8,21.6 l3.2,-1.6 v3.2 z M131.6,21.6 l-3.2,-1.6 v3.2 z" fill="#000"/>
<line x1="132.3" y1="18.9" x2="132.3" y2="30.0" stroke="#000" stroke-width="0.9"/>
<text x="93.2" y="18.9" class="an" >58ms</text>
<line x1="75.3" y1="31.1" x2="75.3" y2="40.3" stroke="#777" stroke-width="1.1"/>
<path d="M75.3,28.4 l-1.6,3.2 h3.2 z M75.3,43.0 l-1.6,-3.2 h3.2 z" fill="#000"/>
<line x1="71.8" y1="43.4" x2="94.1" y2="43.4" stroke="#000" stroke-width="1.1"/>
<text x="56.9" y="40.6" class="an" >24V</text>
<line x1="168.9" y1="15.1" x2="168.9" y2="23.9" stroke="#888" stroke-width="1.4"/>
<path d="M168.9,12.4 l-1.6,3.2 h3.2 z M168.9,26.6 l-1.6,-3.2 h3.2 z" fill="#000"/>
<line x1="165.3" y1="12.1" x2="181.6" y2="12.1" stroke="#000" stroke-width="1.2"/>
<text x="149.4" y="24.4" class="an" >24V</text>
<line x1="313.5" y1="23.6" x2="325.8" y2="23.6" stroke="#000" stroke-width="0.8"/>
<path d="M310.8,23.6 l3.2,-1.6 v3.2 z M328.5,23.6 l-3.2,-1.6 v3.2 z" fill="#000"/>
<line x1="328.7" y1="21.8" x2="328.7" y2="27.5" stroke="#000" stroke-width="0.9"/>
<text x="309.2" y="20.2" class="an" >18,5ms</text>
<line x1="306.3" y1="31.3" x2="306.3" y2="32.8" stroke="#000" stroke-width="0.8"/>
<path d="M306.3,28.6 l-1.6,3.2 h3.2 z M306.3,35.5 l-1.6,-3.2 h3.2 z" fill="#000"/>
<line x1="305.8" y1="36.0" x2="318.9" y2="36.0" stroke="#000" stroke-width="0.9"/>
<text x="285.2" y="38.6" class="an" >10V</text>
<line x1="403.4" y1="33.9" x2="415.1" y2="33.9" stroke="#000" stroke-width="0.8"/>
<path d="M400.7,33.9 l3.2,-1.6 v3.2 z M417.8,33.9 l-3.2,-1.6 v3.2 z" fill="#000"/>
<line x1="418.0" y1="31.6" x2="418.0" y2="36.7" stroke="#000" stroke-width="0.9"/>
<text x="394.5" y="45.4" class="an" >18,5ms</text>
<line x1="397.7" y1="24.0" x2="397.7" y2="25.9" stroke="#000" stroke-width="0.8"/>
<path d="M397.7,21.3 l-1.6,3.2 h3.2 z M397.7,28.6 l-1.6,-3.2 h3.2 z" fill="#000"/>
<line x1="396.8" y1="21.3" x2="406.9" y2="21.3" stroke="#000" stroke-width="0.9"/>
<text x="378.5" y="26.0" class="an" >10V</text>
<line x1="542.5" y1="24.4" x2="546.5" y2="24.4" stroke="#000" stroke-width="0.8"/>
<path d="M540.0,24.4 l3.0,-1.5 v3.0 z M549.0,24.4 l-3.0,-1.5 v3.0 z" fill="#000"/>
<line x1="549.1" y1="22.5" x2="549.1" y2="26.6" stroke="#000" stroke-width="0.9"/>
<text x="538.3" y="18.9" class="an" >10,5ms</text>
<path d="M538.8,31.0 l-1.6,3.2 h3.2 z" fill="#000"/>
<line x1="539.0" y1="31.1" x2="543.1" y2="31.1" stroke="#000" stroke-width="0.8"/>
<text x="525.9" y="36.3" class="an" >4V</text>
<line x1="632.8" y1="32.2" x2="636.1" y2="32.2" stroke="#000" stroke-width="0.8"/>
<path d="M630.3,32.2 l3.0,-1.5 v3.0 z M638.6,32.2 l-3.0,-1.5 v3.0 z" fill="#000"/>
<line x1="638.5" y1="29.8" x2="638.5" y2="33.7" stroke="#000" stroke-width="0.9"/>
<text x="622.8" y="42.4" class="an" >10,5ms</text>
<path d="M629.5,24.2 l-1.6,-3.2 h3.2 z" fill="#000"/>
<line x1="628.5" y1="25.8" x2="633.0" y2="25.8" stroke="#000" stroke-width="0.8"/>
<text x="614.7" y="25.8" class="an" >4V</text>
<text x="40.7" y="140.2" class="lb" style="fill:#000;stroke:#000">i<tspan class="lsub" dy="2.7">d</tspan></text>
<text x="57.5" y="140.2" class="lb" style="fill:#c8000c;stroke:#c8000c">i<tspan class="lsub" dy="2.7">q</tspan></text>
<text x="271.6" y="142.0" class="lb" style="fill:#000;stroke:#000">i<tspan class="lsub" dy="2.7">d</tspan></text>
<text x="288.0" y="142.0" class="lb" style="fill:#c8000c;stroke:#c8000c">i<tspan class="lsub" dy="2.7">q</tspan></text>
<text x="500.2" y="142.5" class="lb" style="fill:#000;stroke:#000">i<tspan class="lsub" dy="2.7">d</tspan></text>
<text x="516.9" y="142.5" class="lb" style="fill:#c8000c;stroke:#c8000c">i<tspan class="lsub" dy="2.7">q</tspan></text>
<text x="70.7" y="177.6" class="lb0" style="fill:#f0bb30">i<tspan class="lsub0" dy="2.6">0</tspan></text>
<text x="282.1" y="179.4" class="lb0" style="fill:#f0bb30">i<tspan class="lsub0" dy="2.6">0</tspan></text>
<text x="510.8" y="178.6" class="lb0" style="fill:#f0bb30">i<tspan class="lsub0" dy="2.6">0</tspan></text>
<circle cx="82.1" cy="135.9" r="1.1" fill="#1010ff"/>
<line x1="84.8" y1="135.9" x2="93.4" y2="135.9" stroke="#1010ff" stroke-width="0.8"/>
<path d="M82.1,135.9 l3.2,-1.6 v3.2 z M96.1,135.9 l-3.2,-1.6 v3.2 z" fill="#1010ff"/>
<line x1="96.3" y1="133.5" x2="96.3" y2="138.3" stroke="#1010ff" stroke-width="0.9"/>
<text x="82.1" y="145.4" class="an" style="fill:#1010ff;stroke:#1010ff">22ms</text>
<line x1="314.1" y1="133.4" x2="320.1" y2="133.4" stroke="#1010ff" stroke-width="0.8"/>
<path d="M311.4,133.4 l3.2,-1.6 v3.2 z M322.8,133.4 l-3.2,-1.6 v3.2 z" fill="#1010ff"/>
<line x1="323.0" y1="131.5" x2="323.0" y2="136.0" stroke="#1010ff" stroke-width="0.9"/>
<text x="312.4" y="143.8" class="an" style="fill:#1010ff;stroke:#1010ff">15ms</text>
<line x1="545.2" y1="124.8" x2="545.2" y2="129.9" stroke="#1010ff" stroke-width="1.1"/>
<path d="M545.6,128.4 l3.3,-1.8 v3.6 z" fill="#1010ff"/>
<line x1="548.0" y1="128.4" x2="551.6" y2="128.4" stroke="#1010ff" stroke-width="1.0"/>
<text x="543.9" y="138.7" class="an" style="fill:#1010ff;stroke:#1010ff">5ms</text>
<ellipse cx="414.5" cy="85.5" rx="15.2" ry="11" fill="none" stroke="#1fae55" stroke-width="1.3"/>
<ellipse cx="414.5" cy="146.4" rx="15.2" ry="11" fill="none" stroke="#1fae55" stroke-width="1.3"/>
<ellipse cx="415.5" cy="185.2" rx="15.2" ry="11" fill="none" stroke="#1fae55" stroke-width="1.3"/>
<ellipse cx="643.3" cy="85.6" rx="15.2" ry="11" fill="none" stroke="#1fae55" stroke-width="1.3"/>
<ellipse cx="643.4" cy="146.5" rx="15.2" ry="11" fill="none" stroke="#1fae55" stroke-width="1.3"/>
<ellipse cx="644.0" cy="185.2" rx="15.2" ry="11" fill="none" stroke="#1fae55" stroke-width="1.3"/>
</svg>
</body></html>
